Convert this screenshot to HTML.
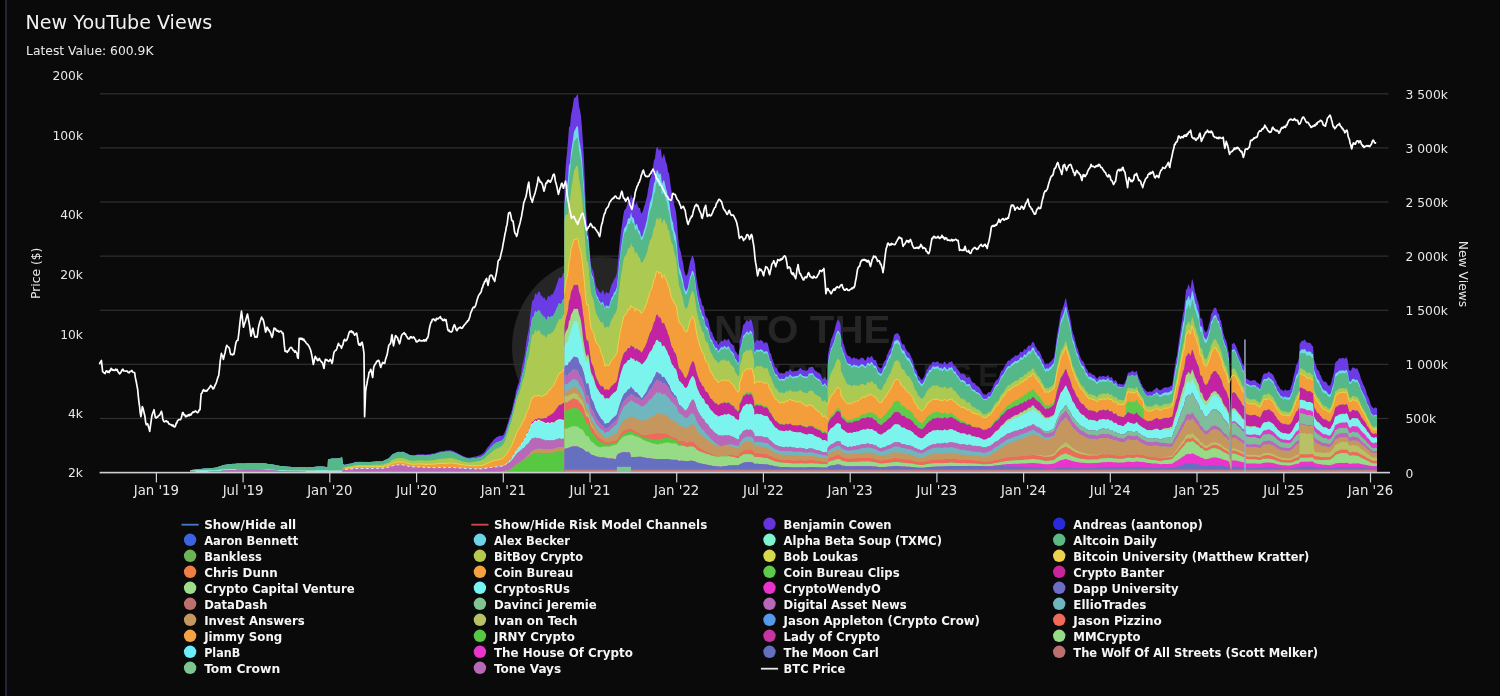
<!DOCTYPE html>
<html lang="en"><head><meta charset="utf-8"><title>New YouTube Views</title>
<style>html,body{margin:0;padding:0;background:#0a0a0a;overflow:hidden}body{width:1500px;height:696px}</style>
</head><body>
<svg width="1500" height="696" viewBox="0 0 1500 696" style="display:block;font-family:'DejaVu Sans','Liberation Sans',sans-serif">
<rect width="1500" height="696" fill="#0a0a0a"/>
<rect x="0" y="0" width="5" height="696" fill="#030303"/>
<rect x="5" y="0" width="2" height="696" fill="#25253a"/>
<text x="25.6" y="29.0" font-size="18.7" fill="#f2f2f2" textLength="186.6" lengthAdjust="spacingAndGlyphs">New YouTube Views</text>
<text x="26" y="55.2" font-size="13" fill="#ececec" textLength="127.5" lengthAdjust="spacingAndGlyphs">Latest Value: 600.9K</text>
<g id="wm" font-family="'Liberation Sans',sans-serif" font-weight="bold">
<circle cx="602" cy="347" r="90" fill="#252525"/>
<text y="342.5" font-size="38.4" fill="#252525"><tspan x="693">I</tspan><tspan x="714" textLength="176.5" lengthAdjust="spacingAndGlyphs">NTO THE</tspan></text>
<text x="704.5" y="385.8" font-size="31" fill="#1e1e1e" textLength="294.5" lengthAdjust="spacing">CRYPTOVERSE</text>
</g>
<rect x="100" y="93.20" width="1288.5" height="1.2" fill="#303030"/>
<rect x="100" y="147.31" width="1288.5" height="1.2" fill="#303030"/>
<rect x="100" y="201.42" width="1288.5" height="1.2" fill="#303030"/>
<rect x="100" y="255.53" width="1288.5" height="1.2" fill="#303030"/>
<rect x="100" y="309.64" width="1288.5" height="1.2" fill="#303030"/>
<rect x="100" y="363.75" width="1288.5" height="1.2" fill="#303030"/>
<rect x="100" y="417.86" width="1288.5" height="1.2" fill="#303030"/>
<text x="83" y="80.1" font-size="12.3" fill="#e8e8e8" text-anchor="end">200k</text>
<text x="83" y="139.9" font-size="12.3" fill="#e8e8e8" text-anchor="end">100k</text>
<text x="83" y="219.0" font-size="12.3" fill="#e8e8e8" text-anchor="end">40k</text>
<text x="83" y="278.8" font-size="12.3" fill="#e8e8e8" text-anchor="end">20k</text>
<text x="83" y="338.6" font-size="12.3" fill="#e8e8e8" text-anchor="end">10k</text>
<text x="83" y="417.6" font-size="12.3" fill="#e8e8e8" text-anchor="end">4k</text>
<text x="83" y="477.4" font-size="12.3" fill="#e8e8e8" text-anchor="end">2k</text>
<text transform="translate(39.8,273.3) rotate(-90)" font-size="12.3" fill="#e8e8e8" text-anchor="middle">Price ($)</text>
<text x="1405.5" y="98.7" font-size="12.3" fill="#e8e8e8">3 500k</text>
<text x="1405.5" y="152.8" font-size="12.3" fill="#e8e8e8">3 000k</text>
<text x="1405.5" y="206.9" font-size="12.3" fill="#e8e8e8">2 500k</text>
<text x="1405.5" y="261.0" font-size="12.3" fill="#e8e8e8">2 000k</text>
<text x="1405.5" y="315.1" font-size="12.3" fill="#e8e8e8">1 500k</text>
<text x="1405.5" y="369.2" font-size="12.3" fill="#e8e8e8">1 000k</text>
<text x="1405.5" y="423.4" font-size="12.3" fill="#e8e8e8">500k</text>
<text x="1405.5" y="477.5" font-size="12.3" fill="#e8e8e8">0</text>
<text transform="translate(1459,274) rotate(90)" font-size="12.3" fill="#e8e8e8" text-anchor="middle">New Views</text>
<g id="stack">
<path d="M190 472.3V471.5L191 470.0L192 469.9L193 469.8L194 469.7L195 469.6L196 469.4L197 469.3L198 469.2L199 469.1L200 469.0L201 468.9L202 468.8L203 468.7L204 468.6L205 468.6L206 468.5L207 468.4L208 468.3L209 468.2L210 468.1L211 468.0L212 467.9L213 467.9L214 467.8L215 467.7L216 467.6L217 467.3L218 467.0L219 466.6L220 466.3L221 466.0L222 465.6L223 465.3L224 465.0L225 464.8L226 464.7L227 464.5L228 464.3L229 464.2L230 464.0L231 464.0L232 463.9L233 463.8L234 463.9L235 463.8L236 463.7L237 463.6L238 463.6L239 463.6L240 463.5L241 463.6L242 463.5L243 463.4L244 463.5L245 463.4L246 463.5L247 463.3L248 463.2L249 463.2L250 463.2L251 463.2L252 463.2L253 463.1L254 463.1L255 463.1L256 463.0L257 462.9L258 463.0L259 463.0L260 463.1L261 463.1L262 463.1L263 463.2L264 463.3L265 463.5L266 463.6L267 463.7L268 463.9L269 463.9L270 464.1L271 464.3L272 464.4L273 464.6L274 464.8L275 465.0L276 465.2L277 465.4L278 465.6L279 465.8L280 466.0L281 466.1L282 466.2L283 466.2L284 466.3L285 466.4L286 466.5L287 466.6L288 466.7L289 466.7L290 466.8L291 466.9L292 467.0L293 467.0L294 467.1L295 467.1L296 467.1L297 467.1L298 467.1L299 467.2L300 467.2L301 467.2L302 467.2L303 467.3L304 467.3L305 467.3L306 467.3L307 467.4L308 467.4L309 467.3L310 467.2L311 467.1L312 467.1L313 467.0L314 466.9L315 466.8L316 466.7L317 466.6L318 466.6L319 466.5L320 466.4L321 466.5L322 466.6L323 466.6L324 466.7L325 466.8L326 466.9L327 467.0L327.6 467.0L328 459.1L329 459.0L330 459.0L331 458.7L332 458.4L333 458.5L334 458.5L335 458.6L336 458.5L337 458.4L338 458.3L339 458.0L340 458.1L341 457.7L342 456.7L343 463.4L344 464.5L345 464.4L346 464.3L347 464.2L348 463.9L349 463.6L350 463.4L351 463.3L352 463.0L353 462.8L354 462.4L355 462.1L356 461.8L357 461.8L358 461.9L359 461.7L360 461.6L361 461.7L362 461.7L363 461.7L364 461.7L365 461.9L366 461.8L367 461.8L368 461.9L369 461.9L370 461.8L371 461.7L372 461.6L373 461.4L374 461.5L375 461.4L376 461.3L377 461.2L378 461.4L379 461.4L380 461.3L381 461.3L382 461.2L383 461.0L384 460.4L385 459.9L386 459.5L387 459.0L388 458.5L389 458.0L390 456.9L391 455.7L392 454.7L393 453.8L394 453.5L395 453.2L396 452.4L397 452.0L398 451.8L399 451.6L400 451.8L401 451.9L402 451.6L403 451.5L404 451.8L405 452.5L406 453.1L407 453.3L408 453.8L409 454.5L410 454.7L411 454.9L412 455.3L413 455.3L414 455.1L415 455.1L416 455.1L417 454.5L418 454.3L419 454.5L420 454.3L421 454.5L422 454.3L423 454.3L424 454.6L425 454.7L426 454.6L427 454.5L428 454.3L429 454.2L430 454.1L431 454.1L432 453.6L433 453.6L434 453.5L435 453.3L436 452.7L437 452.5L438 452.0L439 451.7L440 451.4L441 451.2L442 451.3L443 451.0L444 450.9L445 450.8L446 450.2L447 450.4L448 450.4L449 450.2L450 450.2L451 450.4L452 450.5L453 450.9L454 451.2L455 451.9L456 452.2L457 452.7L458 453.4L459 453.7L460 454.4L461 455.0L462 455.6L463 456.0L464 456.5L465 456.8L466 457.2L467 457.5L468 457.7L469 457.8L470 457.6L471 457.4L472 457.1L473 456.9L474 456.7L475 456.4L476 456.4L477 456.2L478 455.7L479 455.4L480 455.3L481 454.8L482 454.0L483 453.5L484 452.7L485 451.4L486 449.8L487 448.2L488 446.8L489 445.9L490 444.4L491 442.9L492 442.0L493 440.5L494 439.2L495 438.8L496 437.4L497 437.0L498 436.8L499 436.0L500 435.6L501 436.0L502 435.7L503 435.3L504 433.9L505 431.6L506 429.0L507 425.3L508 422.8L509 419.0L510 415.6L511 413.2L512 409.7L513 404.9L514 400.6L515 397.2L516 391.3L517 387.9L518 384.6L519 382.2L520 377.9L521 373.7L522 367.1L523 362.8L524 358.6L525 352.7L526 344.5L527 337.4L528 332.9L529 327.2L530 317.3L531 309.8L532 301.7L533 300.3L534 299.2L535 294.0L536 293.2L537 295.4L538 291.8L539 291.8L540 292.1L541 296.3L542 294.9L543 298.4L544 296.9L545 298.5L546 300.7L547 299.3L548 295.5L549 296.3L550 297.0L551 294.6L552 294.7L553 294.0L554 291.4L555 289.4L556 286.4L557 283.2L558 280.7L559 277.0L560 278.3L561 277.7L562 277.1L563 273.3L564 273.0L564.4 272.3L564.5 186.5L565 176.5L566 162.3L567 152.7L568 141.0L569 127.0L570 126.4L571 115.6L572 110.5L573 104.7L574 97.8L575 97.9L576 96.7L577 94.8L578 94.4L579 106.2L580 110.1L581 116.6L582 128.0L583 143.6L584 160.4L585 186.2L586 209.2L587 223.8L588 229.4L589 241.0L590 254.5L591 265.1L592 268.9L593 270.3L594 274.4L595 281.3L596 285.9L597 288.3L598 289.0L599 291.7L600 292.1L601 293.7L602 291.0L603 290.1L604 292.4L605 294.9L606 291.4L607 292.7L608 293.0L609 293.4L610 289.8L611 286.2L612 283.4L613 282.4L614 278.8L615 278.5L616 275.7L617 272.5L618 261.0L619 249.7L620 240.5L621 231.5L622 224.7L623 217.3L624 211.6L625 209.3L626 208.5L627 205.2L628 200.5L629 200.3L630 200.2L631 193.9L632 198.2L633 198.1L634 199.1L635 205.7L636 203.2L637 202.6L638 206.2L639 207.9L640 207.9L641 213.2L642 212.8L643 210.8L644 206.8L645 204.5L646 200.0L647 196.7L648 189.9L649 184.8L650 179.2L651 176.9L652 173.5L653 166.5L654 160.0L655 158.4L656 149.7L657 146.7L658 147.7L659 151.1L660 148.5L661 149.9L662 159.1L663 155.9L664 153.8L665 157.7L666 162.2L667 164.6L668 172.1L669 173.1L670 180.5L671 188.5L672 193.4L673 195.4L674 204.1L675 207.5L676 211.9L677 222.4L678 236.0L679 246.0L680 249.2L681 253.0L682 258.2L683 262.3L684 269.4L685 273.7L686 276.0L687 274.8L688 272.2L689 266.8L690 261.7L691 259.3L692 255.9L693 256.0L694 259.2L695 264.6L696 274.4L697 281.5L698 287.3L699 291.7L700 297.7L701 298.9L702 304.9L703 305.5L704 307.5L705 314.6L706 317.0L707 317.8L708 319.6L709 324.3L710 328.5L711 331.7L712 331.7L713 336.0L714 337.3L715 340.2L716 341.1L717 340.9L718 345.0L719 343.3L720 342.8L721 341.1L722 340.6L723 341.7L724 339.2L725 339.1L726 340.6L727 340.6L728 338.7L729 339.5L730 341.4L731 343.4L732 344.1L733 345.2L734 345.8L735 350.7L736 351.8L737 353.3L738 355.8L739 353.3L739.4 352.8L739.6 340.3L740 340.5L741 336.6L742 332.1L743 325.7L744 324.1L745 323.3L746 321.0L747 319.7L748 321.2L749 321.6L750 318.7L751 320.3L752 320.6L753 326.7L754 331.8L754.1 331.3L754.3 343.1L755 342.8L756 340.4L757 339.9L758 340.2L759 340.9L760 340.2L761 339.7L762 341.1L763 341.2L764 343.7L765 342.3L766 342.7L767 342.3L768 344.5L769 348.9L770 353.0L771 353.4L772 358.0L773 360.8L774 363.8L775 367.0L776 368.0L777 368.2L778 371.3L779 372.2L780 373.5L781 372.9L782 372.9L783 373.4L784 373.4L785 373.0L786 370.9L787 371.1L788 372.1L789 370.2L790 369.1L791 370.3L792 371.5L793 371.5L794 371.6L795 370.8L796 371.1L797 370.7L798 370.4L799 369.3L800 367.9L801 368.3L802 369.6L803 370.2L804 370.1L805 370.7L806 370.7L807 370.8L808 369.7L809 366.8L810 367.7L811 366.8L812 366.8L813 366.8L814 369.1L815 370.4L816 371.1L817 371.8L818 372.7L819 372.5L820 373.6L821 374.9L822 378.2L823 379.2L824 377.7L825 376.8L826 378.9L827 380.1L827.6 382.2L827.8 357.9L828 354.8L829 349.4L830 344.4L831 339.5L832 337.7L833 334.8L834 332.2L835 328.1L836 324.2L837 321.1L838 319.9L839 320.8L840 323.0L840.7 325.8L840.9 334.9L841 337.0L842 338.5L843 343.1L844 344.9L845 348.7L846 352.0L847 354.6L848 356.0L849 356.3L850 356.2L851 358.1L852 359.1L853 357.8L854 357.3L855 358.0L856 358.9L857 358.1L858 359.7L859 359.6L860 359.0L861 357.4L862 358.1L863 357.8L864 359.0L865 360.4L866 360.3L867 357.3L868 356.6L869 357.4L870 358.0L871 356.0L872 356.2L873 358.0L874 359.9L875 360.0L876 360.2L877 363.5L878 366.3L879 367.2L880 368.1L881 368.5L882 367.6L883 364.3L884 361.9L885 360.6L886 359.3L887 354.8L888 353.6L889 350.2L890 349.1L891 347.1L892 342.2L893 340.2L894 335.4L895 333.8L896 334.1L897 332.8L898 333.4L899 334.9L900 336.2L901 341.4L902 343.4L903 345.0L904 343.8L905 347.1L906 349.6L907 351.1L908 352.2L909 352.4L910 354.1L911 356.9L912 358.5L913 360.9L914 365.3L915 368.8L916 369.4L917 371.7L918 376.0L919 376.3L920 377.8L921 379.4L922 380.1L923 378.6L924 377.3L925 374.7L926 372.4L927 368.9L928 369.0L929 365.7L930 365.4L931 365.0L932 362.7L933 361.5L934 361.9L935 362.7L936 361.7L937 362.1L938 361.1L939 363.2L940 364.0L941 362.6L942 364.4L943 363.9L944 362.1L945 361.5L946 363.5L947 364.2L948 364.1L949 361.5L950 362.6L951 361.8L952 361.0L953 363.7L954 365.8L955 365.1L956 366.7L957 369.3L958 369.4L959 371.1L960 372.6L961 374.4L962 373.6L963 373.4L964 374.5L965 374.4L966 377.0L967 377.8L968 377.5L969 376.9L970 377.5L971 380.0L972 381.8L973 382.5L974 383.2L975 383.1L976 385.5L977 385.6L978 386.3L979 387.2L980 388.4L981 390.1L982 392.1L983 393.5L984 394.7L985 394.2L986 394.7L987 394.2L988 392.2L989 392.2L990 392.2L991 391.0L992 388.4L993 387.0L994 384.1L995 382.2L996 380.3L997 380.0L998 379.1L999 377.3L1000 374.3L1001 371.3L1002 370.3L1003 369.7L1004 367.8L1005 365.6L1006 363.7L1007 362.2L1008 360.8L1009 360.2L1010 361.1L1011 358.5L1012 358.4L1013 357.4L1014 356.9L1015 355.2L1016 355.8L1017 355.5L1018 354.9L1019 354.7L1020 351.9L1021 351.6L1022 352.3L1023 351.8L1024 349.0L1025 349.2L1026 349.9L1027 347.5L1028 346.6L1029 344.7L1030 346.3L1031 345.1L1032 342.4L1033 342.1L1034 342.5L1035 346.1L1036 346.9L1037 348.8L1038 351.0L1039 350.5L1040 353.1L1041 354.7L1042 358.3L1043 359.0L1044 361.4L1045 364.1L1046 364.4L1047 362.7L1048 364.4L1049 363.1L1050 361.9L1051 361.5L1052 359.9L1053 358.8L1054 357.2L1055 351.0L1056 342.7L1057 335.0L1058 329.6L1059 324.0L1060 317.4L1061 312.1L1062 310.4L1063 307.3L1064 304.6L1065 299.9L1066 298.0L1067 303.9L1068 308.9L1069 312.5L1070 317.2L1071 322.5L1072 329.3L1073 333.7L1074 335.5L1075 339.9L1076 344.3L1077 347.7L1078 348.9L1079 353.6L1080 356.3L1081 358.7L1082 360.7L1083 361.3L1084 362.4L1085 365.8L1086 368.6L1087 369.0L1088 371.4L1089 373.4L1090 372.2L1091 373.6L1092 373.9L1093 375.1L1094 374.8L1095 375.9L1096 377.6L1097 378.7L1098 377.4L1099 376.5L1100 375.4L1101 377.1L1102 376.2L1103 376.1L1104 376.0L1105 376.8L1106 376.8L1107 376.0L1108 374.8L1109 377.1L1110 377.6L1111 377.2L1112 377.3L1113 379.8L1114 381.4L1115 380.2L1116 380.2L1117 382.1L1118 384.4L1119 383.4L1120 384.3L1121 383.9L1122 384.5L1123 384.6L1124 384.4L1125 381.4L1125.9 380.4L1126 380.2L1127 376.0L1128 372.7L1129 372.4L1130 372.5L1131 371.7L1132 370.8L1133 370.9L1134 372.1L1135 372.3L1136 371.2L1137 370.9L1138 376.0L1139 378.5L1140 380.1L1141 383.7L1142 384.4L1143 387.4L1143.6 388.1L1143.8 388.1L1144 388.2L1145 389.8L1146 390.8L1147 391.4L1148 392.3L1149 391.6L1150 391.6L1151 391.5L1152 392.0L1153 390.4L1154 389.5L1155 389.5L1156 387.8L1157 387.7L1158 388.8L1159 390.0L1160 389.9L1161 389.9L1162 389.4L1163 388.1L1164 388.0L1165 387.4L1166 386.9L1167 388.0L1168 387.0L1169 387.6L1170 386.3L1171 385.4L1172 385.8L1173 380.1L1174 371.7L1175 366.1L1176 359.1L1177 355.7L1178 347.9L1179 339.9L1180 334.1L1181 326.3L1182 320.7L1183 313.5L1184 310.3L1185 300.1L1186 289.3L1187 289.4L1188 285.6L1189 284.2L1190 289.3L1191 285.9L1192 278.7L1193 281.3L1194 286.2L1195 292.3L1196 294.3L1197 299.6L1198 301.9L1199 305.8L1200 316.2L1201 319.0L1202 318.0L1203 324.8L1204 329.5L1205 331.3L1206 332.5L1207 330.7L1208 328.2L1209 323.7L1210 321.2L1211 314.1L1212 313.0L1213 310.3L1214 307.9L1215 308.0L1216 307.6L1217 311.2L1218 313.7L1219 313.8L1220 319.4L1221 320.4L1222 325.4L1223 332.3L1224 334.9L1225 338.9L1226 340.0L1227 344.1L1228 349.8L1229 353.8L1230 391.6L1231 450.6L1231.3 468.0L1231.7 468.0L1231.8 342.8L1232 343.9L1233 343.7L1234 342.4L1235 344.3L1236 346.0L1237 348.6L1238 351.5L1239 354.0L1240 356.6L1241 358.5L1242 362.6L1243 365.2L1244 365.2L1245 368.1L1245.6 369.1L1245.8 376.4L1246 377.9L1247 379.3L1248 379.2L1249 380.3L1250 380.5L1251 380.9L1252 380.4L1253 380.1L1254 380.6L1255 379.9L1256 381.0L1257 382.9L1258 382.2L1259 384.2L1260 384.6L1261 382.2L1262 378.2L1263 375.0L1264 373.6L1265 373.4L1266 373.2L1267 373.6L1268 371.8L1269 371.5L1270 372.8L1271 372.9L1272 374.1L1273 374.7L1274 376.4L1275 379.6L1276 380.4L1277 384.0L1278 385.3L1279 386.5L1280 388.3L1281 390.0L1282 389.2L1283 391.1L1284 390.9L1285 389.2L1286 390.3L1287 390.7L1288 390.1L1289 390.3L1290 389.8L1291 386.2L1292 384.1L1293 379.4L1294 374.5L1295 371.2L1296 365.6L1297 364.1L1298 362.1L1299 357.0L1299.5 351.4L1299.6 343.3L1300 343.8L1301 341.7L1302 340.8L1303 340.8L1304 340.5L1305 339.2L1306 341.7L1307 342.8L1308 342.6L1309 342.8L1310 342.9L1311 343.7L1312 345.9L1313 345.9L1314 359.4L1315 362.4L1316 365.4L1317 369.0L1318 370.3L1319 371.1L1320 374.8L1321 375.8L1322 379.0L1323 380.5L1324 381.7L1325 381.8L1326 382.0L1327 383.3L1328 385.5L1329 385.6L1330 385.8L1331 383.5L1332 378.9L1333 376.0L1334 371.6L1335 363.8L1336 361.2L1337 361.4L1338 359.8L1339 358.8L1340 358.0L1341 358.8L1342 358.0L1343 357.8L1344 358.4L1345 358.7L1346 357.2L1347 358.1L1348 362.2L1349 369.7L1350 370.8L1351 370.7L1352 367.7L1353 367.6L1354 367.8L1355 368.5L1356 369.1L1357 368.0L1358 370.0L1359 372.4L1360 374.9L1361 379.2L1362 381.1L1363 383.9L1364 385.7L1365 388.0L1366 390.5L1367 394.9L1368 396.6L1369 399.0L1370 402.0L1371 405.5L1372 406.8L1373 407.9L1374 408.6L1375 407.6L1376 407.6L1377 408.3V472.3Z" fill="#6b3ce6"/>
<path d="M190 472.3V471.5L191 470.0L192 469.9L193 469.8L194 469.7L195 469.6L196 469.4L197 469.3L198 469.2L199 469.1L200 469.0L201 468.9L202 468.8L203 468.7L204 468.6L205 468.6L206 468.5L207 468.4L208 468.3L209 468.2L210 468.1L211 468.0L212 467.9L213 467.9L214 467.8L215 467.7L216 467.6L217 467.3L218 467.0L219 466.6L220 466.3L221 466.0L222 465.6L223 465.3L224 465.0L225 464.8L226 464.7L227 464.5L228 464.3L229 464.2L230 464.0L231 464.0L232 463.9L233 463.8L234 463.9L235 463.8L236 463.7L237 463.6L238 463.6L239 463.6L240 463.5L241 463.6L242 463.5L243 463.4L244 463.5L245 463.4L246 463.5L247 463.3L248 463.2L249 463.2L250 463.2L251 463.2L252 463.2L253 463.1L254 463.1L255 463.1L256 463.0L257 462.9L258 463.0L259 463.0L260 463.1L261 463.1L262 463.1L263 463.2L264 463.3L265 463.5L266 463.6L267 463.7L268 463.9L269 463.9L270 464.1L271 464.3L272 464.4L273 464.6L274 464.8L275 465.0L276 465.2L277 465.4L278 465.6L279 465.8L280 466.0L281 466.1L282 466.2L283 466.2L284 466.3L285 466.4L286 466.5L287 466.6L288 466.7L289 466.7L290 466.8L291 466.9L292 467.0L293 467.0L294 467.1L295 467.1L296 467.1L297 467.1L298 467.1L299 467.2L300 467.2L301 467.2L302 467.2L303 467.3L304 467.3L305 467.3L306 467.3L307 467.4L308 467.4L309 467.3L310 467.2L311 467.1L312 467.1L313 467.0L314 466.9L315 466.8L316 466.7L317 466.6L318 466.6L319 466.5L320 466.4L321 466.5L322 466.6L323 466.6L324 466.7L325 466.8L326 466.9L327 467.0L327.6 467.0L328 459.1L329 459.0L330 459.0L331 458.7L332 458.4L333 458.5L334 458.5L335 458.6L336 458.5L337 458.4L338 458.3L339 458.0L340 458.1L341 457.7L342 456.7L343 463.8L344 464.9L345 464.8L346 464.7L347 464.5L348 464.3L349 464.0L350 463.8L351 463.7L352 463.4L353 463.2L354 462.8L355 462.6L356 462.2L357 462.2L358 462.3L359 462.1L360 462.0L361 462.0L362 462.1L363 462.0L364 462.1L365 462.2L366 462.2L367 462.1L368 462.2L369 462.2L370 462.1L371 462.0L372 461.9L373 461.7L374 461.8L375 461.7L376 461.6L377 461.5L378 461.6L379 461.6L380 461.6L381 461.5L382 461.4L383 461.2L384 460.6L385 460.1L386 459.8L387 459.3L388 458.7L389 458.3L390 457.2L391 456.0L392 455.0L393 454.1L394 453.8L395 453.5L396 452.7L397 452.4L398 452.1L399 451.9L400 452.1L401 452.2L402 451.9L403 451.9L404 452.2L405 452.9L406 453.5L407 453.7L408 454.2L409 455.0L410 455.2L411 455.4L412 455.8L413 455.8L414 455.7L415 455.7L416 455.7L417 455.1L418 455.0L419 455.1L420 455.0L421 455.1L422 455.0L423 455.0L424 455.3L425 455.4L426 455.4L427 455.3L428 455.1L429 455.1L430 454.9L431 455.0L432 454.5L433 454.6L434 454.5L435 454.3L436 453.8L437 453.6L438 453.1L439 452.9L440 452.6L441 452.4L442 452.5L443 452.3L444 452.2L445 452.2L446 451.6L447 451.8L448 451.8L449 451.6L450 451.6L451 451.8L452 451.9L453 452.2L454 452.5L455 453.2L456 453.5L457 454.0L458 454.6L459 454.9L460 455.5L461 456.1L462 456.6L463 457.1L464 457.5L465 457.8L466 458.1L467 458.4L468 458.6L469 458.8L470 458.7L471 458.7L472 458.4L473 458.3L474 458.2L475 458.0L476 458.1L477 457.9L478 457.6L479 457.4L480 457.4L481 456.9L482 456.3L483 455.8L484 455.2L485 454.1L486 452.8L487 451.5L488 450.3L489 449.6L490 448.3L491 447.1L492 446.4L493 445.1L494 444.0L495 443.8L496 442.6L497 442.4L498 442.2L499 441.5L500 440.9L501 440.9L502 440.3L503 439.6L504 438.1L505 435.8L506 433.2L507 429.5L508 426.9L509 423.2L510 419.8L511 417.5L512 414.2L513 409.7L514 405.6L515 402.5L516 396.9L517 393.7L518 390.6L519 388.4L520 384.7L521 381.0L522 375.3L523 371.6L524 368.0L525 362.8L526 355.6L527 349.4L528 345.5L529 340.6L530 331.7L531 325.2L532 318.1L533 317.1L534 316.3L535 311.7L536 311.3L537 313.4L538 310.3L539 310.5L540 311.0L541 315.0L542 313.9L543 317.3L544 316.3L545 318.0L546 320.3L547 319.2L548 316.1L549 317.1L550 318.0L551 316.2L552 316.5L553 316.2L554 314.2L555 312.6L556 310.3L557 307.8L558 305.9L559 302.9L560 304.3L561 303.7L562 302.9L563 299.3L564 298.7L564.4 298.0L564.5 204.2L565 197.4L566 189.3L567 185.4L568 179.5L569 165.4L570 163.2L571 152.0L572 145.8L573 139.1L574 131.4L575 130.0L576 127.4L577 126.1L578 127.1L579 139.2L580 144.1L581 149.9L582 159.4L583 172.6L584 185.9L585 206.5L586 224.5L587 234.9L588 236.3L589 247.1L590 260.6L591 271.2L592 275.4L593 277.1L594 281.5L595 288.5L596 293.4L597 296.2L598 297.3L599 300.4L600 301.4L601 303.8L602 302.1L603 302.0L604 305.0L605 308.2L606 304.9L607 306.0L608 306.2L609 306.5L610 303.0L611 299.6L612 296.9L613 295.9L614 292.5L615 292.1L616 289.5L617 286.4L618 275.6L619 265.1L620 256.4L621 247.9L622 241.6L623 234.5L624 229.1L625 226.9L626 226.2L627 223.0L628 218.5L629 218.2L630 218.1L631 212.1L632 216.9L633 217.4L634 219.1L635 225.8L636 224.2L637 224.3L638 228.3L639 230.6L640 231.3L641 236.8L642 236.6L643 234.3L644 230.3L645 227.7L646 223.2L647 219.7L648 213.1L649 208.0L650 202.5L651 200.0L652 196.5L653 189.6L654 183.2L655 181.3L656 172.9L657 169.7L658 171.2L659 174.8L660 172.9L661 174.7L662 183.8L663 181.3L664 180.0L665 184.1L666 188.8L667 191.5L668 198.9L669 200.4L670 207.7L671 215.6L672 220.5L673 222.4L674 229.9L675 232.7L676 236.4L677 245.5L678 257.6L679 266.3L680 269.0L681 272.1L682 276.5L683 279.9L684 285.9L685 289.6L686 291.4L687 289.9L688 287.3L689 282.1L690 277.0L691 274.5L692 271.0L693 270.9L694 273.7L695 278.7L696 287.7L697 294.2L698 299.6L699 303.6L700 309.1L701 310.1L702 315.6L703 316.1L704 317.8L705 324.3L706 326.5L707 327.2L708 328.7L709 333.0L710 336.9L711 339.8L712 339.7L713 343.6L714 344.7L715 347.3L716 348.1L717 347.7L718 351.4L719 349.7L720 349.1L721 347.3L722 346.8L723 348.1L724 345.9L725 346.0L726 347.6L727 347.7L728 346.1L729 347.0L730 348.9L731 351.0L732 351.8L733 353.0L734 353.7L735 358.4L736 359.6L737 361.2L738 363.6L739 361.4L739.4 361.0L739.6 349.4L740 349.6L741 346.2L742 342.1L743 336.3L744 335.0L745 334.3L746 332.4L747 331.3L748 332.6L749 332.9L750 330.2L751 331.6L752 331.9L753 337.5L754 342.1L754.1 341.6L754.3 352.5L755 352.2L756 349.9L757 349.4L758 349.7L759 350.3L760 349.5L761 349.0L762 350.2L763 350.3L764 352.5L765 351.2L766 351.5L767 351.0L768 353.0L769 357.0L770 360.9L771 361.2L772 365.4L773 367.9L774 370.7L775 373.6L776 374.5L777 374.6L778 377.4L779 378.2L780 379.4L781 378.8L782 378.7L783 379.1L784 379.0L785 378.6L786 376.5L787 376.7L788 377.5L789 375.7L790 374.5L791 375.6L792 376.7L793 376.6L794 376.7L795 376.0L796 376.3L797 376.1L798 375.8L799 374.8L800 373.6L801 374.0L802 375.3L803 375.9L804 375.9L805 376.5L806 376.5L807 376.7L808 375.7L809 373.0L810 374.0L811 373.1L812 373.2L813 373.2L814 375.5L815 376.7L816 377.4L817 378.1L818 379.0L819 378.9L820 379.9L821 381.2L822 384.3L823 385.3L824 383.9L825 383.1L826 385.1L827 386.3L827.6 388.2L827.8 365.5L828 362.6L829 357.7L830 353.0L831 348.6L832 346.9L833 344.3L834 341.9L835 338.1L836 334.6L837 331.7L838 330.6L839 331.5L840 333.4L840.7 336.0L840.9 344.4L841 346.4L842 347.7L843 352.0L844 353.6L845 357.0L846 360.0L847 362.4L848 363.7L849 363.9L850 363.6L851 365.4L852 366.2L853 365.0L854 364.4L855 365.0L856 365.8L857 364.9L858 366.4L859 366.2L860 365.5L861 364.0L862 364.5L863 364.2L864 365.2L865 366.4L866 366.3L867 363.4L868 362.7L869 363.4L870 364.0L871 362.1L872 362.2L873 363.9L874 365.8L875 365.8L876 366.0L877 369.1L878 371.8L879 372.5L880 373.4L881 373.7L882 372.9L883 369.8L884 367.4L885 366.2L886 365.0L887 360.7L888 359.5L889 356.2L890 355.2L891 353.3L892 348.6L893 346.7L894 342.1L895 340.6L896 340.8L897 339.6L898 340.2L899 341.6L900 342.8L901 347.7L902 349.6L903 351.1L904 349.9L905 353.0L906 355.4L907 356.9L908 357.9L909 358.0L910 359.6L911 362.2L912 363.7L913 366.0L914 370.2L915 373.6L916 374.1L917 376.3L918 380.4L919 380.6L920 382.0L921 383.5L922 384.2L923 382.8L924 381.5L925 379.0L926 376.7L927 373.4L928 373.5L929 370.3L930 370.0L931 369.6L932 367.4L933 366.2L934 366.5L935 367.3L936 366.3L937 366.7L938 365.7L939 367.7L940 368.5L941 367.3L942 369.1L943 368.7L944 367.1L945 366.7L946 368.6L947 369.4L948 369.4L949 367.1L950 368.2L951 367.6L952 366.9L953 369.6L954 371.7L955 371.1L956 372.7L957 375.3L958 375.5L959 377.2L960 378.7L961 380.5L962 379.9L963 379.8L964 381.0L965 381.0L966 383.6L967 384.4L968 384.3L969 383.9L970 384.5L971 386.9L972 388.7L973 389.5L974 390.1L975 389.8L976 391.9L977 391.9L978 392.4L979 393.0L980 394.0L981 395.4L982 397.1L983 398.4L984 399.3L985 398.7L986 399.1L987 398.7L988 396.7L989 396.6L990 396.7L991 395.5L992 392.9L993 391.6L994 388.8L995 387.0L996 385.1L997 384.8L998 384.0L999 382.2L1000 379.3L1001 376.5L1002 375.5L1003 374.8L1004 373.1L1005 370.9L1006 369.0L1007 367.6L1008 366.2L1009 365.7L1010 366.4L1011 363.9L1012 363.8L1013 362.8L1014 362.3L1015 360.7L1016 361.2L1017 360.9L1018 360.3L1019 360.0L1020 357.4L1021 357.0L1022 357.7L1023 357.2L1024 354.5L1025 354.6L1026 355.3L1027 353.0L1028 352.1L1029 350.2L1030 351.8L1031 350.6L1032 348.0L1033 347.6L1034 348.0L1035 351.5L1036 352.3L1037 354.2L1038 356.3L1039 355.9L1040 358.4L1041 359.9L1042 363.4L1043 364.1L1044 366.4L1045 369.0L1046 369.3L1047 367.7L1048 369.3L1049 368.1L1050 367.0L1051 366.6L1052 365.0L1053 364.0L1054 362.5L1055 356.6L1056 348.8L1057 341.4L1058 336.3L1059 330.9L1060 324.7L1061 319.7L1062 318.1L1063 315.1L1064 312.6L1065 308.2L1066 306.3L1067 311.9L1068 316.6L1069 320.1L1070 324.5L1071 329.5L1072 335.9L1073 340.1L1074 341.8L1075 345.9L1076 350.1L1077 353.3L1078 354.4L1079 358.9L1080 361.4L1081 363.7L1082 365.6L1083 366.1L1084 367.1L1085 370.3L1086 373.0L1087 373.3L1088 375.6L1089 377.5L1090 376.2L1091 377.6L1092 377.8L1093 379.0L1094 378.5L1095 379.6L1096 381.2L1097 382.2L1098 380.9L1099 379.9L1100 378.9L1101 380.4L1102 379.5L1103 379.4L1104 379.3L1105 380.0L1106 380.0L1107 379.3L1108 378.0L1109 380.3L1110 380.8L1111 380.4L1112 380.4L1113 382.9L1114 384.4L1115 383.3L1116 383.2L1117 385.1L1118 387.3L1119 386.3L1120 387.2L1121 386.8L1122 387.3L1123 387.4L1124 387.3L1125 384.4L1125.9 383.4L1126 382.7L1127 378.8L1128 375.8L1129 375.7L1130 376.0L1131 375.4L1132 374.8L1133 374.9L1134 376.0L1135 376.2L1136 375.1L1137 374.7L1138 379.6L1139 381.9L1140 383.4L1141 386.8L1142 387.4L1143 390.3L1143.6 390.9L1143.8 391.8L1144 391.9L1145 393.6L1146 394.6L1147 395.2L1148 396.2L1149 395.6L1150 395.6L1151 395.5L1152 396.2L1153 394.6L1154 393.9L1155 394.0L1156 392.4L1157 392.4L1158 393.5L1159 394.7L1160 394.7L1161 394.7L1162 394.3L1163 393.0L1164 392.9L1165 392.4L1166 392.0L1167 392.9L1168 392.0L1169 392.6L1170 391.4L1171 390.6L1172 390.9L1173 385.6L1174 377.7L1175 372.4L1176 365.9L1177 362.7L1178 355.3L1179 347.9L1180 342.4L1181 335.1L1182 329.8L1183 323.0L1184 320.1L1185 310.4L1186 300.3L1187 300.5L1188 296.9L1189 295.6L1190 300.4L1191 297.1L1192 290.2L1193 292.6L1194 297.1L1195 302.7L1196 304.4L1197 309.4L1198 311.5L1199 315.1L1200 324.8L1201 327.3L1202 326.3L1203 332.6L1204 337.0L1205 338.6L1206 339.7L1207 337.9L1208 335.4L1209 331.0L1210 328.6L1211 321.7L1212 320.6L1213 317.8L1214 315.4L1215 315.4L1216 315.1L1217 318.5L1218 320.9L1219 321.1L1220 326.5L1221 327.5L1222 332.2L1223 338.9L1224 341.3L1225 345.1L1226 346.3L1227 350.2L1228 355.6L1229 359.4L1230 395.5L1231 451.6L1231.3 468.2L1231.7 468.2L1231.8 349.1L1232 350.1L1233 349.9L1234 348.7L1235 350.5L1236 352.2L1237 354.7L1238 357.5L1239 359.9L1240 362.4L1241 364.2L1242 368.1L1243 370.6L1244 370.7L1245 373.4L1245.6 374.4L1245.8 381.4L1246 382.7L1247 384.1L1248 384.0L1249 385.1L1250 385.3L1251 385.7L1252 385.3L1253 385.0L1254 385.5L1255 384.9L1256 385.9L1257 387.8L1258 387.2L1259 389.1L1260 389.4L1261 387.2L1262 383.5L1263 380.4L1264 379.2L1265 379.0L1266 378.9L1267 379.3L1268 377.6L1269 377.5L1270 378.9L1271 379.1L1272 380.4L1273 381.1L1274 382.9L1275 386.0L1276 386.9L1277 390.3L1278 391.7L1279 392.9L1280 394.7L1281 396.4L1282 395.8L1283 397.6L1284 397.5L1285 396.0L1286 397.2L1287 397.6L1288 397.2L1289 397.5L1290 397.1L1291 393.9L1292 392.2L1293 388.0L1294 383.7L1295 380.8L1296 375.9L1297 374.6L1298 372.9L1299 368.4L1299.5 363.5L1299.6 350.8L1300 351.4L1301 349.7L1302 349.2L1303 349.6L1304 349.6L1305 348.7L1306 350.9L1307 351.8L1308 351.5L1309 351.6L1310 351.6L1311 352.2L1312 354.1L1313 354.0L1314 369.2L1315 372.4L1316 375.2L1317 378.5L1318 379.8L1319 380.6L1320 384.0L1321 384.9L1322 387.9L1323 389.3L1324 390.4L1325 390.6L1326 390.9L1327 392.1L1328 394.1L1329 394.2L1330 394.5L1331 392.5L1332 388.4L1333 385.8L1334 382.0L1335 375.0L1336 372.8L1337 373.0L1338 371.7L1339 370.9L1340 370.2L1341 370.9L1342 370.3L1343 370.2L1344 370.7L1345 371.0L1346 369.6L1347 370.4L1348 374.1L1349 380.8L1350 381.8L1351 381.7L1352 379.0L1353 378.9L1354 379.1L1355 379.8L1356 380.3L1357 379.3L1358 381.1L1359 383.3L1360 385.5L1361 389.4L1362 391.1L1363 393.6L1364 395.1L1365 397.2L1366 399.5L1367 403.4L1368 404.9L1369 407.0L1370 409.7L1371 412.9L1372 414.1L1373 415.0L1374 415.7L1375 414.8L1376 414.7L1377 415.4V472.3Z" fill="#6fd8ea"/>
<path d="M190 472.3V471.5L191 470.0L192 469.9L193 469.8L194 469.7L195 469.6L196 469.4L197 469.3L198 469.2L199 469.1L200 469.0L201 468.9L202 468.8L203 468.7L204 468.6L205 468.6L206 468.5L207 468.4L208 468.3L209 468.2L210 468.1L211 468.0L212 467.9L213 467.9L214 467.8L215 467.7L216 467.6L217 467.3L218 467.0L219 466.6L220 466.3L221 466.0L222 465.6L223 465.3L224 465.0L225 464.8L226 464.7L227 464.5L228 464.3L229 464.2L230 464.0L231 464.0L232 463.9L233 463.8L234 463.9L235 463.8L236 463.7L237 463.6L238 463.6L239 463.6L240 463.5L241 463.6L242 463.5L243 463.4L244 463.5L245 463.4L246 463.5L247 463.3L248 463.2L249 463.2L250 463.2L251 463.2L252 463.2L253 463.1L254 463.1L255 463.1L256 463.0L257 462.9L258 463.0L259 463.0L260 463.1L261 463.1L262 463.1L263 463.2L264 463.3L265 463.5L266 463.6L267 463.7L268 463.9L269 463.9L270 464.1L271 464.3L272 464.4L273 464.6L274 464.8L275 465.0L276 465.2L277 465.4L278 465.6L279 465.8L280 466.0L281 466.1L282 466.2L283 466.2L284 466.3L285 466.4L286 466.5L287 466.6L288 466.7L289 466.7L290 466.8L291 466.9L292 467.0L293 467.0L294 467.1L295 467.1L296 467.1L297 467.1L298 467.1L299 467.2L300 467.2L301 467.2L302 467.2L303 467.3L304 467.3L305 467.3L306 467.3L307 467.4L308 467.4L309 467.3L310 467.2L311 467.1L312 467.1L313 467.0L314 466.9L315 466.8L316 466.7L317 466.6L318 466.6L319 466.5L320 466.4L321 466.5L322 466.6L323 466.6L324 466.7L325 466.8L326 466.9L327 467.0L327.6 467.0L328 459.1L329 459.0L330 459.0L331 458.7L332 458.4L333 458.5L334 458.5L335 458.6L336 458.5L337 458.4L338 458.3L339 458.0L340 458.1L341 457.7L342 456.7L343 463.8L344 464.9L345 464.8L346 464.7L347 464.5L348 464.3L349 464.0L350 463.8L351 463.7L352 463.4L353 463.2L354 462.8L355 462.6L356 462.2L357 462.2L358 462.3L359 462.1L360 462.0L361 462.0L362 462.1L363 462.0L364 462.1L365 462.2L366 462.2L367 462.1L368 462.2L369 462.2L370 462.1L371 462.0L372 461.9L373 461.7L374 461.8L375 461.7L376 461.6L377 461.5L378 461.6L379 461.6L380 461.6L381 461.5L382 461.4L383 461.2L384 460.6L385 460.1L386 459.8L387 459.3L388 458.7L389 458.3L390 457.2L391 456.0L392 455.0L393 454.1L394 453.8L395 453.5L396 452.7L397 452.4L398 452.1L399 451.9L400 452.1L401 452.2L402 451.9L403 451.9L404 452.2L405 452.9L406 453.5L407 453.7L408 454.2L409 455.0L410 455.2L411 455.4L412 455.8L413 455.8L414 455.7L415 455.7L416 455.7L417 455.1L418 455.0L419 455.1L420 455.0L421 455.1L422 455.0L423 455.0L424 455.3L425 455.4L426 455.4L427 455.3L428 455.1L429 455.1L430 454.9L431 455.0L432 454.5L433 454.6L434 454.5L435 454.3L436 453.8L437 453.6L438 453.1L439 452.9L440 452.6L441 452.4L442 452.5L443 452.3L444 452.2L445 452.2L446 451.6L447 451.8L448 451.8L449 451.6L450 451.6L451 451.8L452 451.9L453 452.2L454 452.5L455 453.2L456 453.5L457 454.0L458 454.6L459 454.9L460 455.5L461 456.1L462 456.6L463 457.1L464 457.5L465 457.8L466 458.1L467 458.4L468 458.6L469 458.8L470 458.7L471 458.7L472 458.4L473 458.3L474 458.2L475 458.0L476 458.1L477 457.9L478 457.6L479 457.4L480 457.4L481 456.9L482 456.3L483 455.8L484 455.2L485 454.1L486 452.8L487 451.5L488 450.3L489 449.6L490 448.3L491 447.1L492 446.4L493 445.1L494 444.0L495 443.8L496 442.6L497 442.4L498 442.2L499 441.5L500 440.9L501 440.9L502 440.3L503 439.6L504 438.1L505 435.8L506 433.2L507 429.5L508 426.9L509 423.2L510 419.8L511 417.5L512 414.2L513 409.7L514 405.6L515 402.5L516 396.9L517 393.7L518 390.6L519 388.4L520 384.7L521 381.0L522 375.3L523 371.6L524 368.0L525 362.8L526 355.6L527 349.4L528 345.5L529 340.6L530 331.7L531 325.2L532 318.1L533 317.1L534 316.3L535 311.7L536 311.3L537 313.4L538 310.3L539 310.5L540 311.0L541 315.0L542 313.9L543 317.3L544 316.3L545 318.0L546 320.3L547 319.2L548 316.1L549 317.1L550 318.0L551 316.2L552 316.5L553 316.2L554 314.2L555 312.6L556 310.3L557 307.8L558 305.9L559 302.9L560 304.3L561 303.7L562 302.9L563 299.3L564 298.7L564.4 298.0L564.5 209.2L565 203.7L566 198.2L567 196.7L568 193.4L569 177.0L570 172.0L571 159.0L572 153.7L573 147.9L574 141.1L575 140.4L576 138.7L577 137.7L578 138.7L579 150.4L580 155.2L581 160.7L582 169.5L583 182.0L584 194.2L585 213.3L586 230.0L587 239.2L588 239.5L589 249.9L590 263.2L591 273.6L592 277.6L593 279.3L594 283.5L595 290.4L596 295.2L597 297.9L598 298.9L599 301.9L600 302.9L601 305.3L602 303.6L603 303.5L604 306.5L605 309.7L606 306.5L607 307.8L608 308.1L609 308.5L610 305.2L611 301.9L612 299.4L613 298.5L614 295.3L615 295.0L616 292.5L617 289.6L618 279.1L619 268.8L620 260.4L621 252.2L622 246.1L623 239.3L624 234.1L625 232.1L626 231.4L627 228.4L628 224.1L629 224.0L630 224.0L631 218.2L632 222.6L633 222.9L634 224.3L635 230.7L636 228.9L637 228.7L638 232.4L639 234.4L640 234.9L641 240.1L642 240.0L643 238.2L644 234.7L645 232.7L646 228.8L647 225.9L648 219.9L649 215.4L650 210.4L651 208.5L652 205.5L653 199.3L654 193.6L655 192.2L656 184.5L657 181.9L658 183.2L659 186.7L660 184.9L661 186.6L662 195.2L663 192.9L664 191.6L665 195.4L666 200.0L667 202.6L668 209.6L669 211.1L670 218.0L671 225.6L672 230.3L673 231.9L674 238.9L675 241.3L676 244.6L677 253.2L678 264.5L679 272.7L680 275.0L681 277.7L682 281.7L683 284.7L684 290.3L685 293.5L686 295.1L687 293.6L688 290.8L689 285.5L690 280.4L691 277.7L692 274.2L693 273.9L694 276.7L695 281.6L696 290.5L697 296.9L698 302.2L699 306.1L700 311.6L701 312.6L702 318.0L703 318.5L704 320.2L705 326.6L706 328.8L707 329.4L708 330.9L709 335.2L710 339.0L711 341.9L712 341.8L713 345.6L714 346.8L715 349.3L716 350.0L717 349.7L718 353.4L719 351.7L720 351.1L721 349.4L722 348.8L723 350.1L724 347.9L725 348.0L726 349.5L727 349.7L728 348.1L729 349.0L730 350.8L731 352.8L732 353.6L733 354.8L734 355.5L735 360.1L736 361.3L737 362.8L738 365.2L739 363.1L739.4 362.6L739.6 351.2L740 351.4L741 348.0L742 344.0L743 338.3L744 337.0L745 336.3L746 334.4L747 333.3L748 334.6L749 334.9L750 332.3L751 333.6L752 333.9L753 339.4L754 344.0L754.1 343.5L754.3 354.3L755 354.0L756 351.7L757 351.2L758 351.5L759 352.1L760 351.3L761 350.9L762 352.1L763 352.2L764 354.3L765 353.1L766 353.4L767 352.9L768 354.9L769 358.8L770 362.6L771 362.9L772 367.1L773 369.6L774 372.3L775 375.2L776 376.1L777 376.2L778 379.0L779 379.8L780 380.9L781 380.3L782 380.2L783 380.7L784 380.6L785 380.2L786 378.2L787 378.3L788 379.2L789 377.4L790 376.3L791 377.3L792 378.4L793 378.3L794 378.4L795 377.7L796 378.1L797 377.8L798 377.5L799 376.6L800 375.3L801 375.7L802 377.0L803 377.6L804 377.5L805 378.1L806 378.2L807 378.3L808 377.3L809 374.6L810 375.6L811 374.7L812 374.8L813 374.8L814 377.0L815 378.2L816 378.9L817 379.6L818 380.5L819 380.3L820 381.3L821 382.6L822 385.7L823 386.6L824 385.2L825 384.4L826 386.4L827 387.5L827.6 389.5L827.8 367.1L828 364.3L829 359.4L830 354.8L831 350.4L832 348.7L833 346.1L834 343.8L835 340.0L836 336.5L837 333.7L838 332.6L839 333.5L840 335.4L840.7 338.0L840.9 346.3L841 348.2L842 349.5L843 353.7L844 355.4L845 358.7L846 361.7L847 364.1L848 365.3L849 365.5L850 365.3L851 367.1L852 367.9L853 366.7L854 366.2L855 366.8L856 367.6L857 366.7L858 368.2L859 368.0L860 367.3L861 365.9L862 366.3L863 366.1L864 367.1L865 368.3L866 368.2L867 365.5L868 364.8L869 365.5L870 366.1L871 364.3L872 364.4L873 366.1L874 368.0L875 368.1L876 368.2L877 371.3L878 373.9L879 374.7L880 375.6L881 375.9L882 375.1L883 372.1L884 369.9L885 368.7L886 367.5L887 363.3L888 362.2L889 359.0L890 358.0L891 356.2L892 351.7L893 349.8L894 345.4L895 343.9L896 344.2L897 343.1L898 343.6L899 344.9L900 346.1L901 350.9L902 352.7L903 354.1L904 353.0L905 356.0L906 358.4L907 359.7L908 360.7L909 360.9L910 362.4L911 365.0L912 366.4L913 368.6L914 372.7L915 376.0L916 376.4L917 378.6L918 382.6L919 382.8L920 384.2L921 385.6L922 386.3L923 384.9L924 383.6L925 381.2L926 378.9L927 375.7L928 375.7L929 372.6L930 372.3L931 371.9L932 369.7L933 368.5L934 368.9L935 369.6L936 368.6L937 369.0L938 368.0L939 369.9L940 370.7L941 369.6L942 371.3L943 371.0L944 369.3L945 368.9L946 370.9L947 371.6L948 371.6L949 369.3L950 370.4L951 369.8L952 369.1L953 371.8L954 373.8L955 373.3L956 374.8L957 377.3L958 377.6L959 379.2L960 380.7L961 382.5L962 381.9L963 381.8L964 382.9L965 382.9L966 385.5L967 386.3L968 386.1L969 385.7L970 386.4L971 388.7L972 390.5L973 391.2L974 391.8L975 391.5L976 393.5L977 393.4L978 393.8L979 394.4L980 395.3L981 396.6L982 398.3L983 399.4L984 400.3L985 399.7L986 400.1L987 399.7L988 397.8L989 397.7L990 397.8L991 396.6L992 394.1L993 392.8L994 390.1L995 388.4L996 386.5L997 386.3L998 385.4L999 383.7L1000 380.9L1001 378.1L1002 377.2L1003 376.5L1004 374.8L1005 372.7L1006 370.9L1007 369.5L1008 368.2L1009 367.6L1010 368.4L1011 366.0L1012 365.9L1013 364.9L1014 364.5L1015 362.9L1016 363.4L1017 363.1L1018 362.5L1019 362.3L1020 359.7L1021 359.4L1022 360.0L1023 359.6L1024 356.9L1025 357.1L1026 357.8L1027 355.5L1028 354.7L1029 352.9L1030 354.4L1031 353.2L1032 350.7L1033 350.4L1034 350.8L1035 354.2L1036 355.0L1037 356.8L1038 358.9L1039 358.5L1040 361.0L1041 362.5L1042 365.9L1043 366.6L1044 368.9L1045 371.4L1046 371.7L1047 370.2L1048 371.7L1049 370.6L1050 369.5L1051 369.1L1052 367.6L1053 366.6L1054 365.2L1055 359.4L1056 351.8L1057 344.6L1058 339.6L1059 334.4L1060 328.4L1061 323.5L1062 321.9L1063 319.0L1064 316.6L1065 312.3L1066 310.5L1067 315.9L1068 320.5L1069 323.9L1070 328.2L1071 333.1L1072 339.3L1073 343.4L1074 345.1L1075 349.1L1076 353.2L1077 356.3L1078 357.3L1079 361.6L1080 364.1L1081 366.3L1082 368.2L1083 368.7L1084 369.6L1085 372.8L1086 375.4L1087 375.6L1088 377.9L1089 379.7L1090 378.5L1091 379.8L1092 380.0L1093 381.1L1094 380.7L1095 381.8L1096 383.3L1097 384.3L1098 383.0L1099 382.0L1100 381.0L1101 382.5L1102 381.5L1103 381.4L1104 381.2L1105 381.9L1106 381.8L1107 381.0L1108 379.7L1109 381.8L1110 382.2L1111 381.7L1112 381.7L1113 384.0L1114 385.5L1115 384.2L1116 384.1L1117 385.9L1118 387.9L1119 386.9L1120 387.7L1121 387.2L1122 387.7L1123 387.7L1124 387.4L1125 384.5L1125.9 383.4L1126 382.7L1127 378.8L1128 375.8L1129 375.7L1130 376.0L1131 375.4L1132 374.8L1133 374.9L1134 376.0L1135 376.2L1136 375.1L1137 374.7L1138 379.6L1139 381.9L1140 383.4L1141 386.8L1142 387.4L1143 390.3L1143.6 390.9L1143.8 391.8L1144 391.9L1145 393.7L1146 394.8L1147 395.5L1148 396.6L1149 396.1L1150 396.3L1151 396.3L1152 397.1L1153 395.7L1154 395.1L1155 395.2L1156 393.9L1157 394.0L1158 395.1L1159 396.5L1160 396.6L1161 396.7L1162 396.5L1163 395.4L1164 395.4L1165 395.0L1166 394.7L1167 395.7L1168 394.9L1169 395.6L1170 394.5L1171 393.8L1172 394.2L1173 389.2L1174 381.7L1175 376.7L1176 370.5L1177 367.5L1178 360.6L1179 353.6L1180 348.4L1181 341.6L1182 336.6L1183 330.2L1184 327.5L1185 318.4L1186 308.9L1187 309.1L1188 305.8L1189 304.6L1190 309.3L1191 306.0L1192 299.2L1193 301.2L1194 305.2L1195 310.3L1196 311.7L1197 316.2L1198 318.0L1199 321.2L1200 330.4L1201 332.6L1202 331.3L1203 337.2L1204 341.2L1205 342.6L1206 343.5L1207 341.5L1208 338.9L1209 334.3L1210 331.7L1211 324.8L1212 323.4L1213 320.4L1214 317.8L1215 317.6L1216 317.2L1217 320.6L1218 323.0L1219 323.2L1220 328.5L1221 329.4L1222 334.1L1223 340.7L1224 343.1L1225 346.9L1226 348.0L1227 351.9L1228 357.3L1229 361.0L1230 396.6L1231 451.9L1231.3 468.3L1231.7 468.3L1231.8 350.8L1232 351.9L1233 351.6L1234 350.4L1235 352.3L1236 353.9L1237 356.4L1238 359.2L1239 361.5L1240 364.0L1241 365.8L1242 369.6L1243 372.1L1244 372.2L1245 374.9L1245.6 375.9L1245.8 382.7L1246 384.1L1247 385.4L1248 385.4L1249 386.4L1250 386.6L1251 387.0L1252 386.6L1253 386.4L1254 386.8L1255 386.3L1256 387.3L1257 389.1L1258 388.5L1259 390.4L1260 390.8L1261 388.6L1262 384.9L1263 382.0L1264 380.8L1265 380.6L1266 380.4L1267 380.9L1268 379.2L1269 379.2L1270 380.6L1271 380.9L1272 382.2L1273 383.0L1274 384.8L1275 387.9L1276 388.8L1277 392.2L1278 393.6L1279 394.9L1280 396.7L1281 398.3L1282 397.8L1283 399.6L1284 399.5L1285 398.2L1286 399.4L1287 399.8L1288 399.4L1289 399.8L1290 399.5L1291 396.5L1292 394.8L1293 390.8L1294 386.7L1295 383.9L1296 379.2L1297 378.0L1298 376.5L1299 372.3L1299.5 367.5L1299.6 353.8L1300 354.5L1301 353.0L1302 352.8L1303 353.2L1304 353.5L1305 352.7L1306 354.9L1307 355.8L1308 355.6L1309 355.6L1310 355.6L1311 356.2L1312 358.1L1313 358.0L1314 373.2L1315 376.3L1316 379.0L1317 382.1L1318 383.3L1319 384.0L1320 387.3L1321 388.1L1322 390.9L1323 392.2L1324 393.3L1325 393.4L1326 393.6L1327 394.8L1328 396.7L1329 396.8L1330 397.0L1331 395.0L1332 391.0L1333 388.5L1334 384.7L1335 377.9L1336 375.7L1337 375.9L1338 374.5L1339 373.7L1340 373.0L1341 373.7L1342 373.0L1343 372.8L1344 373.4L1345 373.6L1346 372.3L1347 373.1L1348 376.6L1349 383.1L1350 384.0L1351 383.9L1352 381.3L1353 381.2L1354 381.4L1355 382.0L1356 382.5L1357 381.5L1358 383.3L1359 385.4L1360 387.5L1361 391.2L1362 392.9L1363 395.3L1364 396.8L1365 398.8L1366 401.0L1367 404.8L1368 406.2L1369 408.3L1370 410.9L1371 414.0L1372 415.1L1373 416.0L1374 416.7L1375 415.8L1376 415.7L1377 416.4V472.3Z" fill="#54b889"/>
<path d="M190 472.3V471.6L191 470.4L192 470.4L193 470.4L194 470.4L195 470.4L196 470.4L197 470.3L198 470.3L199 470.2L200 470.2L201 470.2L202 470.2L203 470.2L204 470.2L205 470.2L206 470.2L207 470.2L208 470.2L209 470.2L210 470.2L211 470.2L212 470.2L213 470.2L214 470.2L215 470.2L216 470.2L217 470.0L218 469.9L219 469.8L220 469.7L221 469.6L222 469.5L223 469.4L224 469.3L225 469.3L226 469.3L227 469.2L228 469.2L229 469.2L230 469.1L231 469.2L232 469.2L233 469.2L234 469.2L235 469.2L236 469.2L237 469.2L238 469.2L239 469.3L240 469.3L241 469.3L242 469.3L243 469.3L244 469.4L245 469.4L246 469.4L247 469.4L248 469.4L249 469.4L250 469.4L251 469.4L252 469.4L253 469.4L254 469.4L255 469.4L256 469.3L257 469.3L258 469.3L259 469.3L260 469.3L261 469.3L262 469.3L263 469.3L264 469.4L265 469.5L266 469.5L267 469.5L268 469.6L269 469.6L270 469.6L271 469.7L272 469.7L273 469.8L274 469.8L275 469.9L276 470.0L277 470.0L278 470.1L279 470.2L280 470.2L281 470.2L282 470.3L283 470.3L284 470.3L285 470.3L286 470.4L287 470.4L288 470.4L289 470.4L290 470.5L291 470.5L292 470.5L293 470.5L294 470.5L295 470.5L296 470.5L297 470.5L298 470.5L299 470.6L300 470.6L301 470.6L302 470.6L303 470.6L304 470.6L305 470.6L306 470.6L307 470.6L308 470.6L309 470.6L310 470.5L311 470.5L312 470.5L313 470.4L314 470.4L315 470.4L316 470.3L317 470.3L318 470.3L319 470.2L320 470.2L321 470.2L322 470.2L323 470.2L324 470.2L325 470.2L326 470.2L327 470.2L327.6 470.2L328 470.4L329 470.4L330 470.4L331 470.4L332 470.4L333 470.4L334 470.5L335 470.5L336 470.5L337 470.5L338 470.5L339 470.5L340 470.5L341 470.5L342 470.4L343 467.9L344 467.4L345 467.3L346 467.2L347 467.1L348 466.8L349 466.6L350 466.4L351 466.3L352 466.1L353 465.9L354 465.6L355 465.4L356 465.2L357 465.1L358 465.1L359 465.0L360 464.9L361 464.9L362 464.9L363 464.9L364 464.9L365 465.1L366 465.0L367 465.0L368 465.1L369 465.1L370 465.0L371 465.0L372 464.9L373 464.8L374 464.8L375 464.8L376 464.7L377 464.6L378 464.7L379 464.7L380 464.7L381 464.7L382 464.6L383 464.5L384 464.1L385 463.7L386 463.5L387 463.1L388 462.7L389 462.4L390 461.7L391 460.8L392 460.1L393 459.5L394 459.3L395 459.1L396 458.6L397 458.3L398 458.2L399 458.0L400 458.2L401 458.3L402 458.0L403 458.1L404 458.3L405 458.8L406 459.2L407 459.3L408 459.7L409 460.2L410 460.4L411 460.6L412 460.8L413 460.9L414 460.8L415 460.8L416 460.8L417 460.4L418 460.3L419 460.4L420 460.3L421 460.4L422 460.4L423 460.4L424 460.6L425 460.7L426 460.7L427 460.6L428 460.5L429 460.5L430 460.4L431 460.4L432 460.1L433 460.2L434 460.1L435 460.0L436 459.6L437 459.5L438 459.2L439 459.1L440 458.9L441 458.7L442 458.8L443 458.7L444 458.6L445 458.6L446 458.3L447 458.4L448 458.3L449 458.1L450 458.1L451 458.2L452 458.2L453 458.4L454 458.6L455 459.1L456 459.2L457 459.5L458 459.9L459 460.1L460 460.5L461 460.9L462 461.2L463 461.5L464 461.7L465 461.9L466 462.1L467 462.3L468 462.4L469 462.4L470 462.3L471 462.2L472 462.0L473 461.9L474 461.7L475 461.5L476 461.6L477 461.4L478 461.1L479 460.9L480 460.8L481 460.5L482 459.9L483 459.6L484 459.0L485 458.2L486 457.1L487 456.0L488 455.1L489 454.5L490 453.5L491 452.5L492 451.9L493 450.9L494 450.0L495 449.7L496 448.8L497 448.6L498 448.4L499 447.8L500 446.9L501 446.5L502 445.6L503 444.6L504 442.9L505 440.6L506 438.0L507 434.5L508 431.8L509 428.2L510 424.8L511 422.4L512 419.1L513 414.7L514 410.6L515 407.5L516 402.1L517 398.9L518 395.7L519 393.6L520 390.6L521 387.6L522 382.7L523 379.7L524 376.9L525 372.6L526 366.3L527 361.1L528 358.0L529 353.9L530 346.4L531 340.9L532 334.9L533 334.3L534 334.0L535 330.3L536 330.2L537 332.4L538 329.9L539 330.3L540 331.0L541 334.4L542 333.2L543 335.9L544 334.7L545 336.0L546 337.7L547 336.5L548 333.4L549 334.0L550 334.6L551 332.7L552 332.7L553 332.1L554 330.0L555 328.4L556 326.0L557 323.4L558 321.4L559 318.5L560 319.4L561 318.8L562 318.1L563 314.9L564 314.5L564.4 313.8L564.5 221.0L565 216.9L566 214.1L567 215.0L568 214.1L569 201.9L570 200.1L571 190.2L572 184.3L573 177.9L574 170.6L575 168.9L576 166.2L577 165.5L578 167.4L579 179.0L580 184.3L581 189.9L582 198.4L583 210.2L584 221.4L585 238.5L586 253.4L587 261.5L588 261.6L589 271.0L590 283.2L591 292.7L592 296.5L593 298.1L594 302.0L595 308.4L596 312.8L597 315.3L598 316.4L599 319.2L600 320.5L601 323.1L602 322.1L603 322.6L604 325.8L605 329.1L606 326.2L607 327.1L608 327.1L609 327.3L610 324.2L611 321.1L612 318.6L613 317.7L614 314.6L615 314.2L616 311.8L617 309.0L618 299.5L619 290.1L620 282.4L621 274.9L622 269.2L623 262.9L624 258.1L625 256.1L626 255.3L627 252.4L628 248.4L629 248.1L630 247.9L631 242.6L632 246.6L633 246.8L634 248.1L635 253.9L636 252.3L637 252.3L638 255.6L639 257.4L640 257.9L641 262.6L642 262.8L643 261.7L644 259.1L645 257.8L646 254.7L647 252.6L648 247.7L649 244.2L650 240.2L651 239.0L652 236.8L653 231.8L654 227.2L655 226.3L656 220.0L657 218.1L658 218.2L659 220.1L660 217.4L661 217.7L662 224.2L663 220.9L664 218.5L665 220.8L666 223.6L667 224.7L668 229.9L669 229.9L670 235.1L671 240.8L672 243.9L673 245.1L674 252.1L675 254.7L676 258.2L677 266.6L678 277.6L679 285.7L680 288.2L681 291.1L682 295.2L683 298.4L684 304.0L685 307.4L686 309.1L687 307.8L688 305.5L689 300.9L690 296.4L691 294.2L692 291.2L693 291.1L694 293.7L695 298.1L696 306.3L697 312.1L698 316.9L699 320.6L700 325.5L701 326.4L702 331.4L703 331.8L704 333.4L705 339.3L706 341.3L707 341.9L708 343.2L709 347.1L710 350.6L711 353.2L712 353.2L713 356.7L714 357.7L715 360.1L716 360.7L717 360.4L718 363.8L719 362.3L720 361.7L721 360.1L722 359.7L723 361.1L724 359.2L725 359.5L726 361.0L727 361.3L728 360.0L729 361.0L730 362.8L731 364.8L732 365.6L733 366.8L734 367.6L735 371.8L736 373.0L737 374.5L738 376.8L739 375.0L739.4 374.6L739.6 364.5L740 364.7L741 361.8L742 358.4L743 353.4L744 352.4L745 352.0L746 350.4L747 349.6L748 350.8L749 351.1L750 348.8L751 350.1L752 350.4L753 355.3L754 359.4L754.1 358.9L754.3 368.4L755 368.2L756 366.3L757 365.9L758 366.1L759 366.7L760 366.1L761 365.8L762 366.9L763 367.0L764 368.9L765 367.9L766 368.2L767 367.9L768 369.6L769 373.1L770 376.5L771 376.8L772 380.5L773 382.7L774 385.2L775 387.8L776 388.5L777 388.7L778 391.2L779 392.0L780 393.0L781 392.5L782 392.5L783 392.9L784 392.9L785 392.7L786 390.9L787 391.1L788 391.9L789 390.4L790 389.6L791 390.5L792 391.5L793 391.5L794 391.7L795 391.3L796 391.7L797 391.6L798 391.5L799 390.8L800 389.9L801 390.3L802 391.5L803 392.1L804 392.2L805 392.8L806 393.0L807 393.2L808 392.5L809 390.4L810 391.3L811 390.6L812 390.8L813 390.9L814 392.9L815 393.9L816 394.7L817 395.3L818 396.1L819 396.1L820 397.0L821 398.1L822 400.8L823 401.6L824 400.5L825 400.0L826 401.6L827 402.7L827.6 404.3L827.8 386.0L828 383.7L829 379.8L830 376.1L831 372.6L832 371.3L833 369.3L834 367.5L835 364.5L836 361.8L837 359.6L838 358.8L839 359.6L840 361.1L840.7 363.1L840.9 369.8L841 371.4L842 372.3L843 375.7L844 376.9L845 379.5L846 381.9L847 383.7L848 384.7L849 384.7L850 384.5L851 385.8L852 386.4L853 385.3L854 384.8L855 385.2L856 385.7L857 384.9L858 386.0L859 385.7L860 385.1L861 383.7L862 384.0L863 383.7L864 384.4L865 385.2L866 385.1L867 382.6L868 381.9L869 382.4L870 382.8L871 381.2L872 381.1L873 382.4L874 383.9L875 383.9L876 383.9L877 386.4L878 388.6L879 389.1L880 389.8L881 390.0L882 389.2L883 386.5L884 384.5L885 383.4L886 382.3L887 378.5L888 377.5L889 374.7L890 373.7L891 372.0L892 368.0L893 366.3L894 362.3L895 361.0L896 361.1L897 360.0L898 360.5L899 361.7L900 362.8L901 367.1L902 368.7L903 370.0L904 369.2L905 371.8L906 373.9L907 375.2L908 376.1L909 376.3L910 377.8L911 380.0L912 381.3L913 383.3L914 386.9L915 389.7L916 390.3L917 392.2L918 395.6L919 395.9L920 397.1L921 398.5L922 399.1L923 398.0L924 396.9L925 395.0L926 393.1L927 390.5L928 390.6L929 388.1L930 387.9L931 387.6L932 385.9L933 385.0L934 385.4L935 386.1L936 385.4L937 385.7L938 385.0L939 386.7L940 387.5L941 386.6L942 388.1L943 387.9L944 386.6L945 386.4L946 388.0L947 388.7L948 388.8L949 387.0L950 388.0L951 387.6L952 387.1L953 389.4L954 391.1L955 390.8L956 392.1L957 394.3L958 394.6L959 396.0L960 397.3L961 398.8L962 398.4L963 398.4L964 399.4L965 399.6L966 401.7L967 402.5L968 402.4L969 402.2L970 402.8L971 404.8L972 406.4L973 407.0L974 407.5L975 407.3L976 408.9L977 408.9L978 409.3L979 409.7L980 410.5L981 411.6L982 413.0L983 413.9L984 414.6L985 414.1L986 414.3L987 413.8L988 412.2L989 412.0L990 412.0L991 410.9L992 408.8L993 407.6L994 405.3L995 403.7L996 402.1L997 401.8L998 401.0L999 399.5L1000 397.0L1001 394.6L1002 393.7L1003 393.1L1004 391.5L1005 389.7L1006 388.1L1007 386.8L1008 385.6L1009 385.0L1010 385.6L1011 383.4L1012 383.2L1013 382.3L1014 381.9L1015 380.4L1016 380.7L1017 380.4L1018 379.8L1019 379.5L1020 377.3L1021 376.9L1022 377.3L1023 376.8L1024 374.5L1025 374.6L1026 375.0L1027 373.1L1028 372.2L1029 370.6L1030 371.8L1031 370.7L1032 368.5L1033 368.4L1034 368.9L1035 372.0L1036 372.9L1037 374.6L1038 376.5L1039 376.3L1040 378.6L1041 380.0L1042 383.0L1043 383.8L1044 385.8L1045 388.0L1046 388.4L1047 387.3L1048 388.7L1049 387.9L1050 387.1L1051 386.9L1052 385.8L1053 385.1L1054 384.0L1055 379.4L1056 373.3L1057 367.5L1058 363.5L1059 359.5L1060 354.6L1061 350.8L1062 349.7L1063 347.5L1064 345.7L1065 342.3L1066 341.0L1067 345.2L1068 348.9L1069 351.4L1070 354.8L1071 358.7L1072 363.7L1073 366.8L1074 368.1L1075 371.2L1076 374.4L1077 376.9L1078 377.6L1079 381.0L1080 383.0L1081 384.6L1082 386.0L1083 386.3L1084 387.0L1085 389.4L1086 391.4L1087 391.5L1088 393.3L1089 394.7L1090 393.5L1091 394.4L1092 394.5L1093 395.2L1094 394.7L1095 395.4L1096 396.5L1097 397.2L1098 395.9L1099 394.9L1100 393.8L1101 394.8L1102 393.8L1103 393.5L1104 393.4L1105 394.1L1106 394.1L1107 393.4L1108 392.4L1109 394.3L1110 394.7L1111 394.4L1112 394.4L1113 396.5L1114 397.8L1115 396.8L1116 396.8L1117 398.3L1118 400.2L1119 399.3L1120 400.1L1121 399.7L1122 400.2L1123 400.3L1124 400.1L1125 397.7L1125.9 396.9L1126 392.6L1127 389.6L1128 387.4L1129 387.6L1130 388.4L1131 388.2L1132 388.0L1133 388.4L1134 389.1L1135 388.9L1136 387.6L1137 386.9L1138 390.9L1139 392.5L1140 393.5L1141 396.2L1142 396.4L1143 398.6L1143.6 398.9L1143.8 402.8L1144 402.9L1145 404.4L1146 405.3L1147 405.9L1148 406.7L1149 406.3L1150 406.3L1151 406.3L1152 406.9L1153 405.6L1154 405.0L1155 405.1L1156 403.9L1157 403.9L1158 404.9L1159 406.0L1160 406.0L1161 405.9L1162 405.6L1163 404.5L1164 404.4L1165 404.0L1166 403.6L1167 404.4L1168 403.6L1169 404.1L1170 403.1L1171 402.4L1172 402.7L1173 398.2L1174 391.4L1175 386.8L1176 381.3L1177 378.5L1178 372.2L1179 365.8L1180 361.1L1181 354.9L1182 350.4L1183 344.6L1184 342.0L1185 333.8L1186 325.1L1187 325.3L1188 322.2L1189 321.1L1190 325.2L1191 322.4L1192 316.6L1193 318.7L1194 322.6L1195 327.5L1196 329.0L1197 333.3L1198 335.1L1199 338.3L1200 346.6L1201 348.8L1202 348.0L1203 353.4L1204 357.2L1205 358.6L1206 359.6L1207 358.1L1208 356.1L1209 352.4L1210 350.4L1211 344.7L1212 343.8L1213 341.5L1214 339.5L1215 339.6L1216 339.3L1217 342.3L1218 344.3L1219 344.5L1220 349.1L1221 349.9L1222 353.9L1223 359.6L1224 361.7L1225 364.9L1226 365.9L1227 369.2L1228 373.8L1229 377.1L1230 407.5L1231 454.9L1231.3 468.8L1231.7 468.8L1231.8 368.4L1232 369.3L1233 369.1L1234 368.1L1235 369.7L1236 371.1L1237 373.2L1238 375.7L1239 377.7L1240 379.8L1241 381.4L1242 384.7L1243 386.8L1244 386.9L1245 389.2L1245.6 390.1L1245.8 395.9L1246 397.0L1247 398.2L1248 398.2L1249 399.1L1250 399.3L1251 399.7L1252 399.3L1253 399.1L1254 399.5L1255 399.1L1256 399.9L1257 401.5L1258 401.1L1259 402.7L1260 403.0L1261 401.2L1262 398.1L1263 395.6L1264 394.6L1265 394.5L1266 394.4L1267 394.8L1268 393.4L1269 393.5L1270 394.8L1271 395.1L1272 396.4L1273 397.0L1274 398.7L1275 401.4L1276 402.2L1277 405.2L1278 406.4L1279 407.5L1280 409.1L1281 410.6L1282 410.2L1283 411.8L1284 411.8L1285 410.8L1286 411.8L1287 412.2L1288 412.0L1289 412.3L1290 412.1L1291 409.7L1292 408.4L1293 405.2L1294 401.9L1295 399.7L1296 395.9L1297 395.0L1298 393.8L1299 390.4L1299.5 386.6L1299.6 368.1L1300 368.9L1301 368.2L1302 368.5L1303 369.5L1304 370.3L1305 370.2L1306 372.1L1307 372.9L1308 372.7L1309 372.8L1310 372.8L1311 373.4L1312 375.0L1313 375.0L1314 389.3L1315 392.1L1316 394.2L1317 396.8L1318 397.8L1319 398.3L1320 401.0L1321 401.7L1322 404.0L1323 405.1L1324 405.9L1325 406.0L1326 406.1L1327 407.1L1328 408.6L1329 408.6L1330 408.8L1331 407.1L1332 403.7L1333 401.5L1334 398.3L1335 392.5L1336 390.6L1337 390.7L1338 389.5L1339 388.8L1340 388.1L1341 388.7L1342 388.0L1343 388.0L1344 388.5L1345 388.8L1346 387.7L1347 388.5L1348 391.5L1349 397.1L1350 398.0L1351 398.0L1352 395.9L1353 395.8L1354 396.1L1355 396.7L1356 397.2L1357 396.4L1358 398.0L1359 399.9L1360 401.7L1361 405.0L1362 406.4L1363 408.5L1364 409.9L1365 411.7L1366 413.6L1367 416.8L1368 418.1L1369 419.9L1370 422.1L1371 424.8L1372 425.8L1373 426.6L1374 427.3L1375 426.6L1376 426.6L1377 427.1V472.3Z" fill="#acc951"/>
<path d="M190 472.3V471.6L191 470.4L192 470.4L193 470.4L194 470.4L195 470.4L196 470.4L197 470.3L198 470.3L199 470.2L200 470.2L201 470.2L202 470.2L203 470.2L204 470.2L205 470.2L206 470.2L207 470.2L208 470.2L209 470.2L210 470.2L211 470.2L212 470.2L213 470.2L214 470.2L215 470.2L216 470.2L217 470.0L218 469.9L219 469.8L220 469.7L221 469.6L222 469.5L223 469.4L224 469.3L225 469.3L226 469.3L227 469.2L228 469.2L229 469.2L230 469.1L231 469.2L232 469.2L233 469.2L234 469.2L235 469.2L236 469.2L237 469.2L238 469.2L239 469.3L240 469.3L241 469.3L242 469.3L243 469.3L244 469.4L245 469.4L246 469.4L247 469.4L248 469.4L249 469.4L250 469.4L251 469.4L252 469.4L253 469.4L254 469.4L255 469.4L256 469.3L257 469.3L258 469.3L259 469.3L260 469.3L261 469.3L262 469.3L263 469.3L264 469.4L265 469.5L266 469.5L267 469.5L268 469.6L269 469.6L270 469.6L271 469.7L272 469.7L273 469.8L274 469.8L275 469.9L276 470.0L277 470.0L278 470.1L279 470.2L280 470.2L281 470.2L282 470.3L283 470.3L284 470.3L285 470.3L286 470.4L287 470.4L288 470.4L289 470.4L290 470.5L291 470.5L292 470.5L293 470.5L294 470.5L295 470.5L296 470.5L297 470.5L298 470.5L299 470.6L300 470.6L301 470.6L302 470.6L303 470.6L304 470.6L305 470.6L306 470.6L307 470.6L308 470.6L309 470.6L310 470.5L311 470.5L312 470.5L313 470.4L314 470.4L315 470.4L316 470.3L317 470.3L318 470.3L319 470.2L320 470.2L321 470.2L322 470.2L323 470.2L324 470.2L325 470.2L326 470.2L327 470.2L327.6 470.2L328 470.4L329 470.4L330 470.4L331 470.4L332 470.4L333 470.4L334 470.5L335 470.5L336 470.5L337 470.5L338 470.5L339 470.5L340 470.5L341 470.5L342 470.4L343 468.6L344 468.2L345 468.1L346 468.1L347 468.0L348 467.8L349 467.7L350 467.5L351 467.4L352 467.3L353 467.2L354 466.9L355 466.8L356 466.6L357 466.6L358 466.6L359 466.5L360 466.4L361 466.4L362 466.5L363 466.5L364 466.5L365 466.6L366 466.6L367 466.7L368 466.7L369 466.7L370 466.7L371 466.7L372 466.6L373 466.6L374 466.6L375 466.6L376 466.5L377 466.5L378 466.6L379 466.6L380 466.6L381 466.6L382 466.6L383 466.5L384 466.2L385 465.9L386 465.7L387 465.5L388 465.2L389 465.0L390 464.4L391 463.8L392 463.4L393 462.9L394 462.8L395 462.6L396 462.2L397 462.1L398 462.0L399 461.9L400 462.0L401 462.1L402 462.0L403 462.0L404 462.2L405 462.6L406 462.9L407 463.0L408 463.3L409 463.7L410 463.8L411 464.0L412 464.2L413 464.2L414 464.2L415 464.2L416 464.2L417 464.0L418 463.9L419 464.0L420 464.0L421 464.1L422 464.1L423 464.1L424 464.3L425 464.3L426 464.3L427 464.3L428 464.2L429 464.3L430 464.2L431 464.3L432 464.1L433 464.1L434 464.1L435 464.1L436 463.8L437 463.8L438 463.6L439 463.5L440 463.4L441 463.4L442 463.5L443 463.4L444 463.4L445 463.4L446 463.2L447 463.2L448 463.2L449 463.0L450 463.0L451 463.0L452 463.0L453 463.1L454 463.2L455 463.5L456 463.6L457 463.8L458 464.0L459 464.1L460 464.3L461 464.6L462 464.8L463 464.9L464 465.1L465 465.2L466 465.3L467 465.4L468 465.4L469 465.6L470 465.6L471 465.7L472 465.6L473 465.7L474 465.7L475 465.6L476 465.7L477 465.7L478 465.6L479 465.6L480 465.6L481 465.5L482 465.2L483 465.1L484 464.8L485 464.4L486 463.9L487 463.3L488 462.9L489 462.6L490 462.1L491 461.7L492 461.4L493 460.9L494 460.5L495 460.5L496 460.0L497 460.0L498 459.9L499 459.7L500 459.3L501 459.1L502 458.7L503 458.2L504 457.4L505 456.2L506 454.9L507 453.2L508 451.9L509 450.1L510 448.4L511 446.8L512 444.8L513 442.1L514 439.6L515 437.6L516 434.3L517 432.2L518 430.2L519 428.8L520 427.2L521 425.7L522 423.0L523 421.5L524 420.0L525 417.7L526 414.3L527 411.5L528 409.9L529 407.7L530 403.6L531 400.7L532 397.5L533 397.2L534 397.1L535 395.1L536 395.1L537 396.4L538 395.1L539 395.4L540 395.7L541 397.1L542 395.7L543 396.4L544 394.9L545 394.8L546 395.0L547 393.6L548 391.0L549 390.6L550 390.2L551 388.3L552 387.6L553 386.5L554 384.5L555 382.7L556 380.4L557 378.1L558 376.1L559 373.4L560 373.2L561 372.5L562 372.0L563 369.9L564 369.6L564.4 369.2L564.5 292.8L565 287.7L566 281.2L567 277.5L568 272.4L569 261.1L570 258.0L571 249.2L572 246.3L573 243.1L574 239.2L575 239.6L576 239.2L577 238.4L578 238.5L579 246.1L580 248.9L581 252.9L582 259.7L583 269.1L584 277.4L585 289.5L586 300.0L587 305.2L588 304.0L589 311.0L590 320.4L591 327.7L592 330.4L593 331.3L594 334.2L595 338.9L596 342.1L597 343.8L598 344.3L599 346.1L600 348.6L601 352.9L602 354.3L603 356.9L604 361.6L605 366.4L606 364.5L607 365.3L608 365.4L609 365.6L610 363.4L611 361.2L612 359.5L613 358.8L614 356.7L615 356.5L616 354.8L617 352.8L618 345.9L619 339.1L620 333.5L621 328.1L622 324.1L623 319.6L624 316.1L625 314.7L626 314.2L627 312.2L628 309.3L629 309.2L630 309.1L631 305.3L632 307.5L633 307.1L634 307.4L635 311.0L636 309.1L637 308.4L638 310.2L639 310.9L640 310.5L641 313.4L642 312.9L643 311.6L644 309.1L645 307.6L646 304.7L647 302.6L648 298.3L649 295.1L650 291.5L651 290.1L652 287.9L653 283.5L654 279.4L655 278.3L656 272.9L657 271.0L658 271.5L659 273.6L660 271.9L661 272.7L662 278.3L663 276.3L664 274.9L665 277.3L666 280.0L667 281.4L668 286.0L669 286.6L670 291.1L671 296.0L672 299.0L673 299.3L674 303.3L675 303.9L676 305.2L677 310.3L678 317.6L679 322.6L680 323.1L681 324.0L682 325.8L683 326.8L684 329.9L685 331.1L686 332.4L687 331.3L688 329.2L689 325.1L690 321.2L691 319.2L692 316.5L693 316.3L694 318.8L695 322.8L696 329.9L697 335.1L698 339.4L699 342.6L700 347.1L701 348.0L702 352.4L703 352.9L704 354.5L705 359.6L706 361.5L707 362.2L708 363.5L709 367.0L710 370.1L711 372.5L712 372.7L713 375.8L714 376.9L715 379.0L716 379.8L717 379.8L718 382.8L719 381.8L720 381.6L721 380.6L722 380.3L723 381.2L724 379.6L725 379.7L726 380.8L727 380.9L728 379.7L729 380.4L730 381.7L731 383.2L732 383.8L733 384.7L734 385.2L735 388.6L736 389.5L737 390.6L738 392.4L739 390.8L739.4 390.5L739.6 381.9L740 382.1L741 379.5L742 376.5L743 372.3L744 371.3L745 370.8L746 369.3L747 368.5L748 369.5L749 369.7L750 367.7L751 368.6L752 368.8L753 372.9L754 376.3L754.1 375.9L754.3 384.0L755 383.7L756 382.0L757 381.6L758 381.7L759 382.2L760 381.6L761 381.2L762 382.0L763 382.1L764 383.7L765 382.7L766 382.9L767 382.5L768 383.9L769 386.8L770 389.6L771 389.8L772 392.9L773 394.8L774 396.8L775 399.0L776 399.6L777 399.6L778 401.7L779 402.3L780 403.1L781 402.6L782 402.5L783 402.8L784 402.7L785 402.4L786 400.7L787 400.8L788 401.4L789 400.0L790 399.1L791 399.9L792 400.6L793 400.5L794 401.1L795 401.0L796 401.7L797 401.9L798 402.1L799 401.9L800 401.4L801 402.0L802 403.4L803 404.2L804 404.6L805 405.4L806 405.8L807 406.2L808 405.9L809 404.4L810 405.4L811 405.2L812 405.5L813 405.9L814 407.7L815 408.9L816 409.7L817 410.4L818 411.3L819 411.5L820 412.5L821 413.5L822 415.8L823 416.7L824 416.1L825 415.8L826 417.3L827 418.3L827.6 419.7L827.8 405.5L828 403.8L829 401.0L830 398.4L831 396.0L832 395.2L833 394.0L834 392.8L835 390.8L836 389.0L837 387.7L838 387.3L839 388.2L840 388.9L840.7 390.1L840.9 395.1L841 396.3L842 396.6L843 398.8L844 399.3L845 401.0L846 402.5L847 403.5L848 403.9L849 403.6L850 403.0L851 403.7L852 403.8L853 402.5L854 401.7L855 401.6L856 401.7L857 400.6L858 401.1L859 400.5L860 399.5L861 397.9L862 397.7L863 396.9L864 397.1L865 397.3L866 397.1L867 395.1L868 394.6L869 395.2L870 395.6L871 394.3L872 394.4L873 395.6L874 397.0L875 397.1L876 397.2L877 399.4L878 401.3L879 401.9L880 402.5L881 402.8L882 402.2L883 400.1L884 398.4L885 397.6L886 396.7L887 393.7L888 392.9L889 390.7L890 389.9L891 388.6L892 385.4L893 384.1L894 380.9L895 379.8L896 380.0L897 379.2L898 379.6L899 380.6L900 381.5L901 385.0L902 386.3L903 387.4L904 386.6L905 388.8L906 390.5L907 391.6L908 392.3L909 392.4L910 393.6L911 395.5L912 396.5L913 398.1L914 401.1L915 403.5L916 403.9L917 405.4L918 408.3L919 408.5L920 409.5L921 410.6L922 411.1L923 410.1L924 409.2L925 407.6L926 406.0L927 403.7L928 403.8L929 401.7L930 401.4L931 401.2L932 399.7L933 398.9L934 399.2L935 399.8L936 399.1L937 399.4L938 398.8L939 400.2L940 400.7L941 399.8L942 401.0L943 400.7L944 399.5L945 399.1L946 400.4L947 400.9L948 400.8L949 399.1L950 399.8L951 399.3L952 398.8L953 400.6L954 401.9L955 401.5L956 402.5L957 404.3L958 404.4L959 405.5L960 406.5L961 407.6L962 407.1L963 407.0L964 407.7L965 407.7L966 409.4L967 409.9L968 409.7L969 409.4L970 409.8L971 411.4L972 412.6L973 413.0L974 413.3L975 412.9L976 414.2L977 414.0L978 414.1L979 414.4L980 414.9L981 415.7L982 416.8L983 417.5L984 418.0L985 417.4L986 417.6L987 417.1L988 415.6L989 415.4L990 415.3L991 414.3L992 412.3L993 411.2L994 409.0L995 407.5L996 406.0L997 405.7L998 404.9L999 403.5L1000 401.1L1001 398.9L1002 398.0L1003 397.4L1004 396.0L1005 394.2L1006 392.7L1007 391.4L1008 390.3L1009 389.8L1010 390.3L1011 388.2L1012 388.1L1013 387.2L1014 386.8L1015 385.4L1016 385.7L1017 385.3L1018 384.8L1019 384.5L1020 382.4L1021 382.0L1022 382.4L1023 382.0L1024 379.8L1025 379.8L1026 380.3L1027 378.4L1028 377.6L1029 376.1L1030 377.2L1031 376.2L1032 374.0L1033 373.9L1034 374.3L1035 377.2L1036 378.0L1037 379.6L1038 381.4L1039 381.2L1040 383.3L1041 384.7L1042 387.4L1043 388.1L1044 390.0L1045 392.1L1046 392.5L1047 391.4L1048 392.7L1049 391.9L1050 391.1L1051 390.9L1052 389.8L1053 389.1L1054 388.1L1055 383.7L1056 377.7L1057 372.2L1058 368.4L1059 364.5L1060 359.8L1061 356.1L1062 355.0L1063 352.9L1064 351.1L1065 347.9L1066 346.6L1067 350.7L1068 354.3L1069 356.8L1070 360.1L1071 363.8L1072 368.6L1073 371.7L1074 372.9L1075 376.0L1076 379.1L1077 381.5L1078 382.2L1079 385.5L1080 387.4L1081 389.0L1082 390.4L1083 390.7L1084 391.4L1085 393.8L1086 395.8L1087 395.9L1088 397.6L1089 399.0L1090 398.0L1091 398.9L1092 399.0L1093 399.8L1094 399.4L1095 400.1L1096 401.2L1097 401.9L1098 400.8L1099 399.9L1100 398.9L1101 400.0L1102 399.1L1103 399.0L1104 398.8L1105 399.4L1106 399.3L1107 398.7L1108 397.7L1109 399.5L1110 399.8L1111 399.5L1112 399.5L1113 401.4L1114 402.6L1115 401.6L1116 401.6L1117 403.0L1118 404.7L1119 403.9L1120 404.6L1121 404.2L1122 404.6L1123 404.6L1124 404.5L1125 402.1L1125.9 401.3L1126 396.6L1127 393.7L1128 391.6L1129 391.8L1130 392.5L1131 392.3L1132 392.2L1133 392.5L1134 393.1L1135 392.9L1136 391.6L1137 390.9L1138 394.6L1139 396.1L1140 397.0L1141 399.5L1142 399.6L1143 401.6L1143.6 401.9L1143.8 407.9L1144 407.9L1145 409.2L1146 410.0L1147 410.5L1148 411.3L1149 410.8L1150 410.8L1151 410.8L1152 411.2L1153 410.0L1154 409.4L1155 409.4L1156 408.2L1157 408.2L1158 409.0L1159 410.0L1160 410.0L1161 410.0L1162 409.7L1163 408.6L1164 408.5L1165 408.1L1166 407.8L1167 408.5L1168 407.8L1169 408.3L1170 407.3L1171 406.6L1172 406.9L1173 402.7L1174 396.3L1175 392.0L1176 386.8L1177 384.2L1178 378.3L1179 372.3L1180 367.9L1181 362.0L1182 357.8L1183 352.3L1184 349.9L1185 342.2L1186 334.0L1187 334.1L1188 331.3L1189 330.2L1190 334.1L1191 331.5L1192 326.0L1193 328.0L1194 331.6L1195 336.3L1196 337.7L1197 341.7L1198 343.5L1199 346.4L1200 354.3L1201 356.4L1202 355.6L1203 360.7L1204 364.3L1205 365.6L1206 366.6L1207 365.2L1208 363.3L1209 359.8L1210 357.9L1211 352.6L1212 351.7L1213 349.6L1214 347.8L1215 347.9L1216 347.6L1217 350.4L1218 352.3L1219 352.5L1220 356.7L1221 357.5L1222 361.3L1223 366.6L1224 368.5L1225 371.6L1226 372.5L1227 375.7L1228 380.0L1229 383.0L1230 411.5L1231 456.0L1231.3 469.1L1231.7 469.1L1231.8 374.9L1232 375.7L1233 375.5L1234 374.6L1235 376.1L1236 377.4L1237 379.4L1238 381.7L1239 383.6L1240 385.6L1241 387.0L1242 390.1L1243 392.1L1244 392.2L1245 394.4L1245.6 395.2L1245.8 400.7L1246 401.7L1247 402.8L1248 402.8L1249 403.7L1250 403.8L1251 404.2L1252 403.9L1253 403.7L1254 404.1L1255 403.7L1256 404.5L1257 406.0L1258 405.5L1259 407.0L1260 407.3L1261 405.6L1262 402.7L1263 400.4L1264 399.5L1265 399.3L1266 399.3L1267 399.7L1268 398.4L1269 398.4L1270 399.6L1271 399.9L1272 401.1L1273 401.7L1274 403.2L1275 405.7L1276 406.5L1277 409.3L1278 410.4L1279 411.5L1280 413.0L1281 414.3L1282 414.0L1283 415.4L1284 415.5L1285 414.5L1286 415.4L1287 415.8L1288 415.6L1289 415.9L1290 415.7L1291 413.4L1292 412.2L1293 409.1L1294 406.0L1295 404.0L1296 400.4L1297 399.6L1298 398.4L1299 395.2L1299.5 391.6L1299.6 373.6L1300 374.4L1301 373.7L1302 374.1L1303 375.0L1304 375.7L1305 375.7L1306 377.4L1307 378.2L1308 378.0L1309 378.1L1310 378.0L1311 378.5L1312 380.1L1313 380.0L1314 394.3L1315 397.0L1316 399.0L1317 401.4L1318 402.2L1319 402.7L1320 405.2L1321 405.8L1322 408.0L1323 408.9L1324 409.7L1325 409.7L1326 409.8L1327 410.7L1328 412.1L1329 412.1L1330 412.2L1331 410.6L1332 407.3L1333 405.3L1334 402.2L1335 396.7L1336 394.8L1337 394.9L1338 393.7L1339 392.9L1340 392.3L1341 392.8L1342 392.2L1343 392.1L1344 392.6L1345 392.9L1346 391.9L1347 392.6L1348 395.6L1349 400.9L1350 401.7L1351 401.7L1352 399.8L1353 399.8L1354 400.0L1355 400.6L1356 401.1L1357 400.4L1358 402.0L1359 403.7L1360 405.5L1361 408.6L1362 410.0L1363 412.0L1364 413.3L1365 415.0L1366 416.9L1367 420.0L1368 421.2L1369 422.9L1370 425.1L1371 427.6L1372 428.6L1373 429.4L1374 430.0L1375 429.4L1376 429.4L1377 429.8V472.3Z" fill="#f39e3a"/>
<path d="M190 472.3V471.6L191 470.4L192 470.4L193 470.4L194 470.4L195 470.4L196 470.4L197 470.3L198 470.3L199 470.2L200 470.2L201 470.2L202 470.2L203 470.2L204 470.2L205 470.2L206 470.2L207 470.2L208 470.2L209 470.2L210 470.2L211 470.2L212 470.2L213 470.2L214 470.2L215 470.2L216 470.2L217 470.0L218 469.9L219 469.8L220 469.7L221 469.6L222 469.5L223 469.4L224 469.3L225 469.3L226 469.3L227 469.2L228 469.2L229 469.2L230 469.1L231 469.2L232 469.2L233 469.2L234 469.2L235 469.2L236 469.2L237 469.2L238 469.2L239 469.3L240 469.3L241 469.3L242 469.3L243 469.3L244 469.4L245 469.4L246 469.4L247 469.4L248 469.4L249 469.4L250 469.4L251 469.4L252 469.4L253 469.4L254 469.4L255 469.4L256 469.3L257 469.3L258 469.3L259 469.3L260 469.3L261 469.3L262 469.3L263 469.3L264 469.4L265 469.5L266 469.5L267 469.5L268 469.6L269 469.6L270 469.6L271 469.7L272 469.7L273 469.8L274 469.8L275 469.9L276 470.0L277 470.0L278 470.1L279 470.2L280 470.2L281 470.2L282 470.3L283 470.3L284 470.3L285 470.3L286 470.4L287 470.4L288 470.4L289 470.4L290 470.5L291 470.5L292 470.5L293 470.5L294 470.5L295 470.5L296 470.5L297 470.5L298 470.5L299 470.6L300 470.6L301 470.6L302 470.6L303 470.6L304 470.6L305 470.6L306 470.6L307 470.6L308 470.6L309 470.6L310 470.5L311 470.5L312 470.5L313 470.4L314 470.4L315 470.4L316 470.3L317 470.3L318 470.3L319 470.2L320 470.2L321 470.2L322 470.2L323 470.2L324 470.2L325 470.2L326 470.2L327 470.2L327.6 470.2L328 470.4L329 470.4L330 470.4L331 470.4L332 470.4L333 470.4L334 470.5L335 470.5L336 470.5L337 470.5L338 470.5L339 470.5L340 470.5L341 470.5L342 470.4L343 469.6L344 469.5L345 469.4L346 469.4L347 469.3L348 469.2L349 469.1L350 469.1L351 469.0L352 468.9L353 468.9L354 468.7L355 468.6L356 468.5L357 468.5L358 468.5L359 468.5L360 468.4L361 468.4L362 468.5L363 468.5L364 468.5L365 468.5L366 468.5L367 468.5L368 468.5L369 468.5L370 468.5L371 468.5L372 468.4L373 468.4L374 468.4L375 468.3L376 468.3L377 468.3L378 468.3L379 468.3L380 468.3L381 468.3L382 468.3L383 468.2L384 468.0L385 467.8L386 467.6L387 467.5L388 467.3L389 467.1L390 466.7L391 466.3L392 465.9L393 465.6L394 465.4L395 465.3L396 465.1L397 464.9L398 464.8L399 464.8L400 464.8L401 464.9L402 464.9L403 465.0L404 465.1L405 465.5L406 465.7L407 465.8L408 466.1L409 466.4L410 466.5L411 466.7L412 466.8L413 466.9L414 466.9L415 467.0L416 467.0L417 466.9L418 466.9L419 467.0L420 467.0L421 467.1L422 467.1L423 467.2L424 467.3L425 467.4L426 467.5L427 467.5L428 467.5L429 467.5L430 467.6L431 467.6L432 467.6L433 467.6L434 467.7L435 467.7L436 467.6L437 467.6L438 467.5L439 467.5L440 467.5L441 467.6L442 467.6L443 467.6L444 467.7L445 467.7L446 467.7L447 467.7L448 467.6L449 467.6L450 467.5L451 467.5L452 467.5L453 467.5L454 467.6L455 467.7L456 467.7L457 467.8L458 467.9L459 467.9L460 468.0L461 468.1L462 468.2L463 468.3L464 468.4L465 468.4L466 468.4L467 468.4L468 468.4L469 468.6L470 468.7L471 468.7L472 468.7L473 468.8L474 468.8L475 468.8L476 468.9L477 468.9L478 468.9L479 468.9L480 469.0L481 468.9L482 468.8L483 468.8L484 468.7L485 468.5L486 468.3L487 468.1L488 467.9L489 467.8L490 467.6L491 467.4L492 467.3L493 467.1L494 466.9L495 466.9L496 466.8L497 466.8L498 466.8L499 466.7L500 466.4L501 466.3L502 466.0L503 465.7L504 465.3L505 464.7L506 464.0L507 463.2L508 462.5L509 461.6L510 460.7L511 459.6L512 458.2L513 456.4L514 454.7L515 453.3L516 451.2L517 449.8L518 448.4L519 447.3L520 445.9L521 444.5L522 442.5L523 441.1L524 439.7L525 437.9L526 435.4L527 433.2L528 431.7L529 429.9L530 426.8L531 424.5L532 422.0L533 421.4L534 421.0L535 419.3L536 419.0L537 419.5L538 418.3L539 418.2L540 418.2L541 419.2L542 418.3L543 418.9L544 418.0L545 418.1L546 418.4L547 417.5L548 415.8L549 415.7L550 415.5L551 414.3L552 413.9L553 413.3L554 412.0L555 410.9L556 409.5L557 408.0L558 406.7L559 405.0L560 405.1L561 404.6L562 404.4L563 403.1L564 403.0L564.4 402.8L564.5 327.3L565 323.0L566 317.5L567 314.3L568 310.0L569 301.1L570 298.9L571 292.1L572 290.0L573 287.6L574 284.6L575 285.2L576 285.0L577 284.7L578 285.2L579 291.7L580 294.3L581 298.3L582 304.9L583 313.4L584 320.3L585 329.5L586 337.5L587 341.3L588 340.0L589 346.3L590 354.6L591 361.2L592 364.2L593 366.0L594 369.1L595 373.8L596 377.2L597 379.6L598 381.1L599 383.7L600 384.9L601 386.5L602 386.0L603 386.4L604 388.4L605 390.4L606 388.9L607 389.6L608 389.7L609 390.0L610 388.3L611 386.7L612 385.5L613 385.0L614 383.4L615 383.3L616 382.0L617 380.6L618 375.3L619 370.2L620 366.0L621 361.9L622 358.8L623 355.5L624 352.9L625 351.9L626 351.6L627 350.1L628 347.9L629 347.9L630 347.9L631 345.0L632 346.8L633 346.6L634 347.0L635 349.9L636 348.6L637 348.2L638 349.7L639 350.3L640 350.2L641 352.5L642 352.0L643 350.6L644 348.3L645 346.8L646 344.2L647 342.2L648 338.6L649 335.8L650 332.7L651 331.2L652 329.2L653 325.4L654 321.9L655 320.7L656 316.1L657 314.3L658 315.4L659 317.8L660 317.3L661 318.7L662 323.8L663 323.0L664 322.8L665 325.4L666 328.4L667 330.3L668 334.5L669 335.8L670 340.0L671 344.4L672 347.4L673 348.3L674 351.8L675 352.8L676 354.3L677 358.5L678 364.2L679 368.3L680 369.2L681 370.4L682 372.3L683 373.6L684 376.3L685 377.8L686 377.9L687 376.3L688 374.0L689 370.4L690 366.8L691 364.6L692 361.9L693 360.9L694 362.5L695 365.3L696 370.2L697 373.8L698 376.8L699 379.0L700 382.0L701 382.6L702 385.7L703 385.9L704 386.9L705 390.5L706 391.7L707 392.1L708 392.9L709 395.3L710 397.4L711 399.0L712 399.0L713 401.1L714 401.8L715 403.2L716 403.6L717 403.4L718 405.5L719 404.5L720 404.2L721 403.2L722 402.8L723 403.4L724 402.1L725 402.1L726 402.8L727 402.8L728 401.8L729 402.2L730 403.2L731 404.2L732 404.6L733 405.2L734 405.5L735 408.0L736 408.6L737 409.4L738 410.8L739 409.4L739.4 409.2L739.6 402.5L740 402.6L741 400.6L742 398.2L743 394.8L744 393.9L745 393.5L746 392.3L747 391.6L748 392.5L749 392.9L750 391.5L751 392.5L752 392.8L753 396.1L754 398.9L754.1 398.7L754.3 404.9L755 404.8L756 403.7L757 403.6L758 403.9L759 404.4L760 404.1L761 404.0L762 404.9L763 405.1L764 406.5L765 406.0L766 406.3L767 406.3L768 407.5L769 409.9L770 412.2L771 412.5L772 415.0L773 416.5L774 418.2L775 419.9L776 420.6L777 420.8L778 422.5L779 423.1L780 423.9L781 423.7L782 423.9L783 424.3L784 424.4L785 424.4L786 423.6L787 423.8L788 424.5L789 423.8L790 423.4L791 424.2L792 425.0L793 425.2L794 425.3L795 425.1L796 425.4L797 425.4L798 425.4L799 425.0L800 424.5L801 424.8L802 425.6L803 425.9L804 426.1L805 426.4L806 426.6L807 426.7L808 426.3L809 425.2L810 425.7L811 425.4L812 425.5L813 425.6L814 426.8L815 427.4L816 427.9L817 428.2L818 428.8L819 428.8L820 429.3L821 430.0L822 431.5L823 432.0L824 431.4L825 431.1L826 432.1L827 432.7L827.6 433.7L827.8 423.3L828 422.0L829 419.8L830 417.7L831 415.8L832 415.1L833 414.0L834 413.0L835 411.3L836 409.8L837 408.6L838 408.2L839 408.7L840 409.2L840.7 410.1L840.9 413.8L841 414.7L842 414.9L843 416.5L844 416.9L845 418.1L846 419.2L847 420.0L848 420.2L849 419.9L850 419.5L851 419.9L852 420.0L853 419.0L854 418.3L855 418.2L856 418.2L857 417.3L858 417.6L859 417.1L860 416.3L861 415.0L862 414.8L863 414.2L864 414.3L865 414.4L866 414.2L867 412.7L868 412.4L869 412.8L870 413.1L871 412.1L872 412.2L873 413.2L874 414.2L875 414.3L876 414.4L877 416.1L878 417.6L879 418.0L880 418.5L881 418.7L882 418.3L883 416.6L884 415.4L885 414.7L886 414.1L887 411.7L888 411.1L889 409.4L890 408.8L891 407.8L892 405.4L893 404.3L894 401.9L895 401.1L896 401.2L897 400.6L898 400.9L899 401.5L900 402.1L901 404.7L902 405.6L903 406.4L904 405.7L905 407.3L906 408.5L907 409.2L908 409.7L909 409.7L910 410.5L911 411.8L912 412.6L913 413.8L914 416.0L915 417.8L916 418.0L917 419.2L918 421.3L919 421.4L920 422.1L921 422.9L922 423.2L923 422.3L924 421.5L925 420.1L926 418.7L927 416.8L928 416.7L929 414.9L930 414.6L931 414.3L932 412.9L933 412.2L934 412.3L935 412.6L936 412.0L937 412.1L938 411.4L939 412.4L940 413.0L941 412.4L942 413.4L943 413.3L944 412.4L945 412.2L946 413.4L947 413.9L948 414.0L949 412.7L950 413.4L951 413.1L952 412.8L953 414.4L954 415.7L955 415.4L956 416.4L957 417.9L958 418.1L959 419.1L960 420.1L961 421.1L962 420.8L963 420.9L964 421.6L965 421.7L966 423.2L967 423.7L968 423.7L969 423.6L970 424.0L971 425.4L972 426.5L973 427.0L974 427.2L975 426.8L976 427.7L977 427.5L978 427.5L979 427.6L980 428.0L981 428.5L982 429.3L983 429.7L984 430.0L985 429.5L986 429.5L987 429.0L988 427.7L989 427.4L990 427.2L991 426.3L992 424.6L993 423.6L994 421.7L995 420.4L996 419.1L997 418.7L998 418.0L999 416.7L1000 414.7L1001 412.8L1002 412.0L1003 411.4L1004 410.1L1005 408.5L1006 407.1L1007 406.0L1008 405.0L1009 404.4L1010 404.8L1011 403.0L1012 402.7L1013 401.9L1014 401.4L1015 400.2L1016 400.3L1017 400.0L1018 399.4L1019 399.1L1020 397.2L1021 396.8L1022 397.1L1023 396.6L1024 394.7L1025 394.6L1026 394.9L1027 393.2L1028 392.5L1029 391.1L1030 392.0L1031 391.0L1032 389.1L1033 389.0L1034 389.5L1035 392.0L1036 392.8L1037 394.2L1038 395.8L1039 395.7L1040 397.5L1041 398.7L1042 401.1L1043 401.8L1044 403.4L1045 405.2L1046 405.6L1047 404.7L1048 405.9L1049 405.3L1050 404.6L1051 404.6L1052 403.7L1053 403.2L1054 402.3L1055 398.7L1056 393.9L1057 389.4L1058 386.3L1059 383.1L1060 379.3L1061 376.3L1062 375.4L1063 373.8L1064 372.4L1065 369.8L1066 368.8L1067 372.1L1068 375.0L1069 377.0L1070 379.6L1071 382.6L1072 386.6L1073 389.0L1074 390.0L1075 392.5L1076 395.0L1077 396.9L1078 397.5L1079 400.2L1080 401.7L1081 403.0L1082 404.1L1083 404.3L1084 404.8L1085 406.7L1086 408.3L1087 408.4L1088 409.7L1089 410.8L1090 409.9L1091 410.6L1092 410.6L1093 411.2L1094 410.8L1095 411.3L1096 412.2L1097 412.7L1098 411.7L1099 410.8L1100 409.9L1101 410.7L1102 409.9L1103 409.7L1104 409.7L1105 410.4L1106 410.4L1107 410.1L1108 409.3L1109 411.0L1110 411.4L1111 411.2L1112 411.3L1113 413.1L1114 414.2L1115 413.5L1116 413.6L1117 415.0L1118 416.5L1119 415.9L1120 416.6L1121 416.4L1122 416.9L1123 417.1L1124 417.1L1125 415.3L1125.9 414.8L1126 405.5L1127 403.0L1128 401.1L1129 401.4L1130 402.0L1131 401.9L1132 401.8L1133 402.0L1134 402.3L1135 401.9L1136 400.5L1137 399.6L1138 402.7L1139 403.8L1140 404.3L1141 406.4L1142 406.2L1143 407.8L1143.6 407.9L1143.8 418.9L1144 418.9L1145 419.9L1146 420.5L1147 420.8L1148 421.4L1149 420.9L1150 420.8L1151 420.7L1152 421.0L1153 419.9L1154 419.3L1155 419.3L1156 418.1L1157 418.0L1158 418.7L1159 419.4L1160 419.3L1161 419.3L1162 419.1L1163 418.3L1164 418.2L1165 417.9L1166 417.6L1167 418.3L1168 417.7L1169 418.1L1170 417.3L1171 416.8L1172 417.0L1173 413.5L1174 408.1L1175 404.5L1176 400.1L1177 397.9L1178 393.0L1179 387.9L1180 384.2L1181 379.3L1182 375.8L1183 371.2L1184 369.2L1185 362.7L1186 355.9L1187 356.0L1188 353.6L1189 352.7L1190 356.0L1191 353.9L1192 349.5L1193 351.3L1194 354.5L1195 358.5L1196 359.9L1197 363.4L1198 365.0L1199 367.6L1200 374.3L1201 376.1L1202 375.6L1203 380.0L1204 383.0L1205 384.3L1206 385.2L1207 384.2L1208 382.7L1209 380.0L1210 378.7L1211 374.4L1212 373.9L1213 372.3L1214 371.0L1215 371.2L1216 370.9L1217 373.1L1218 374.6L1219 374.7L1220 378.1L1221 378.7L1222 381.8L1223 386.0L1224 387.6L1225 390.0L1226 390.7L1227 393.2L1228 396.7L1229 399.1L1230 422.5L1231 458.9L1231.3 469.6L1231.7 469.6L1231.8 392.3L1232 393.0L1233 392.8L1234 391.9L1235 393.1L1236 394.1L1237 395.7L1238 397.5L1239 399.0L1240 400.6L1241 401.8L1242 404.3L1243 405.8L1244 405.9L1245 407.6L1245.6 408.3L1245.8 412.8L1246 413.7L1247 414.5L1248 414.4L1249 415.1L1250 415.2L1251 415.4L1252 415.1L1253 414.9L1254 415.1L1255 414.7L1256 415.3L1257 416.5L1258 416.1L1259 417.3L1260 417.5L1261 416.0L1262 413.4L1263 411.4L1264 410.5L1265 410.3L1266 410.2L1267 410.4L1268 409.2L1269 409.3L1270 410.4L1271 410.7L1272 411.7L1273 412.3L1274 413.6L1275 415.8L1276 416.5L1277 418.8L1278 419.8L1279 420.8L1280 422.0L1281 423.2L1282 422.9L1283 424.2L1284 424.3L1285 423.5L1286 424.3L1287 424.7L1288 424.5L1289 424.8L1290 424.6L1291 422.8L1292 421.7L1293 419.2L1294 416.6L1295 414.9L1296 411.9L1297 411.3L1298 410.3L1299 407.7L1299.5 404.7L1299.6 387.4L1300 388.0L1301 387.5L1302 387.7L1303 388.6L1304 389.2L1305 389.1L1306 390.6L1307 391.3L1308 391.2L1309 391.3L1310 391.3L1311 391.7L1312 393.0L1313 393.0L1314 406.4L1315 408.8L1316 410.5L1317 412.5L1318 413.2L1319 413.6L1320 415.7L1321 416.2L1322 418.0L1323 418.8L1324 419.5L1325 419.5L1326 419.6L1327 420.3L1328 421.5L1329 421.5L1330 421.6L1331 420.2L1332 417.4L1333 415.6L1334 413.0L1335 408.4L1336 406.8L1337 406.8L1338 405.8L1339 405.2L1340 404.6L1341 405.0L1342 404.5L1343 404.4L1344 404.7L1345 404.9L1346 403.9L1347 404.5L1348 406.9L1349 411.3L1350 412.0L1351 411.9L1352 410.1L1353 410.0L1354 410.1L1355 410.5L1356 410.9L1357 410.2L1358 411.4L1359 412.8L1360 414.2L1361 416.8L1362 417.9L1363 419.5L1364 420.6L1365 421.9L1366 423.4L1367 426.0L1368 427.0L1369 428.4L1370 430.2L1371 432.3L1372 433.1L1373 433.7L1374 434.1L1375 433.5L1376 433.5L1377 433.9V472.3Z" fill="#5fcb4a"/>
<path d="M190 472.3V471.6L191 470.4L192 470.4L193 470.4L194 470.4L195 470.4L196 470.4L197 470.3L198 470.3L199 470.2L200 470.2L201 470.2L202 470.2L203 470.2L204 470.2L205 470.2L206 470.2L207 470.2L208 470.2L209 470.2L210 470.2L211 470.2L212 470.2L213 470.2L214 470.2L215 470.2L216 470.2L217 470.0L218 469.9L219 469.8L220 469.7L221 469.6L222 469.5L223 469.4L224 469.3L225 469.3L226 469.3L227 469.2L228 469.2L229 469.2L230 469.1L231 469.2L232 469.2L233 469.2L234 469.2L235 469.2L236 469.2L237 469.2L238 469.2L239 469.3L240 469.3L241 469.3L242 469.3L243 469.3L244 469.4L245 469.4L246 469.4L247 469.4L248 469.4L249 469.4L250 469.4L251 469.4L252 469.4L253 469.4L254 469.4L255 469.4L256 469.3L257 469.3L258 469.3L259 469.3L260 469.3L261 469.3L262 469.3L263 469.3L264 469.4L265 469.5L266 469.5L267 469.5L268 469.6L269 469.6L270 469.6L271 469.7L272 469.7L273 469.8L274 469.8L275 469.9L276 470.0L277 470.0L278 470.1L279 470.2L280 470.2L281 470.2L282 470.3L283 470.3L284 470.3L285 470.3L286 470.4L287 470.4L288 470.4L289 470.4L290 470.5L291 470.5L292 470.5L293 470.5L294 470.5L295 470.5L296 470.5L297 470.5L298 470.5L299 470.6L300 470.6L301 470.6L302 470.6L303 470.6L304 470.6L305 470.6L306 470.6L307 470.6L308 470.6L309 470.6L310 470.5L311 470.5L312 470.5L313 470.4L314 470.4L315 470.4L316 470.3L317 470.3L318 470.3L319 470.2L320 470.2L321 470.2L322 470.2L323 470.2L324 470.2L325 470.2L326 470.2L327 470.2L327.6 470.2L328 470.4L329 470.4L330 470.4L331 470.4L332 470.4L333 470.4L334 470.5L335 470.5L336 470.5L337 470.5L338 470.5L339 470.5L340 470.5L341 470.5L342 470.4L343 469.6L344 469.5L345 469.4L346 469.4L347 469.3L348 469.2L349 469.1L350 469.1L351 469.0L352 468.9L353 468.9L354 468.7L355 468.6L356 468.5L357 468.5L358 468.5L359 468.5L360 468.4L361 468.4L362 468.5L363 468.5L364 468.5L365 468.5L366 468.5L367 468.5L368 468.5L369 468.5L370 468.5L371 468.5L372 468.4L373 468.4L374 468.4L375 468.3L376 468.3L377 468.3L378 468.3L379 468.3L380 468.3L381 468.3L382 468.3L383 468.2L384 468.0L385 467.8L386 467.6L387 467.5L388 467.3L389 467.1L390 466.7L391 466.3L392 465.9L393 465.6L394 465.4L395 465.3L396 465.1L397 464.9L398 464.8L399 464.8L400 464.8L401 464.9L402 464.9L403 465.0L404 465.1L405 465.5L406 465.7L407 465.8L408 466.1L409 466.4L410 466.5L411 466.7L412 466.8L413 466.9L414 466.9L415 467.0L416 467.0L417 466.9L418 466.9L419 467.0L420 467.0L421 467.1L422 467.1L423 467.2L424 467.3L425 467.4L426 467.5L427 467.5L428 467.5L429 467.5L430 467.6L431 467.6L432 467.6L433 467.6L434 467.7L435 467.7L436 467.6L437 467.6L438 467.5L439 467.5L440 467.5L441 467.6L442 467.6L443 467.6L444 467.7L445 467.7L446 467.7L447 467.7L448 467.6L449 467.6L450 467.5L451 467.5L452 467.5L453 467.5L454 467.6L455 467.7L456 467.7L457 467.8L458 467.9L459 467.9L460 468.0L461 468.1L462 468.2L463 468.3L464 468.4L465 468.4L466 468.4L467 468.4L468 468.4L469 468.6L470 468.7L471 468.7L472 468.7L473 468.8L474 468.8L475 468.8L476 468.9L477 468.9L478 468.9L479 468.9L480 469.0L481 468.9L482 468.8L483 468.8L484 468.7L485 468.5L486 468.3L487 468.1L488 467.9L489 467.8L490 467.6L491 467.4L492 467.3L493 467.1L494 466.9L495 466.9L496 466.8L497 466.8L498 466.8L499 466.7L500 466.4L501 466.3L502 466.0L503 465.7L504 465.3L505 464.7L506 464.0L507 463.2L508 462.5L509 461.6L510 460.7L511 459.6L512 458.2L513 456.4L514 454.7L515 453.3L516 451.2L517 449.8L518 448.4L519 447.3L520 445.9L521 444.5L522 442.5L523 441.1L524 439.7L525 437.9L526 435.4L527 433.2L528 431.7L529 429.9L530 426.8L531 424.5L532 422.0L533 421.4L534 421.0L535 419.3L536 419.0L537 419.5L538 418.3L539 418.2L540 418.2L541 419.2L542 418.3L543 418.9L544 418.0L545 418.1L546 418.4L547 417.5L548 415.8L549 415.7L550 415.5L551 414.3L552 413.9L553 413.3L554 412.0L555 410.9L556 409.5L557 408.0L558 406.7L559 405.0L560 405.1L561 404.6L562 404.4L563 403.1L564 403.0L564.4 402.8L564.5 327.3L565 323.0L566 317.5L567 314.3L568 310.0L569 301.1L570 298.9L571 292.1L572 290.0L573 287.6L574 284.6L575 285.2L576 285.0L577 284.7L578 285.2L579 291.7L580 294.3L581 298.3L582 304.9L583 313.4L584 320.3L585 329.5L586 337.5L587 341.3L588 340.0L589 346.3L590 354.6L591 361.2L592 364.2L593 366.0L594 369.1L595 373.8L596 377.2L597 379.6L598 381.1L599 383.7L600 384.9L601 386.5L602 386.0L603 386.4L604 388.4L605 390.4L606 388.9L607 389.6L608 389.7L609 390.0L610 388.3L611 386.7L612 385.5L613 385.0L614 383.4L615 383.3L616 382.0L617 380.6L618 375.3L619 370.2L620 366.0L621 361.9L622 358.8L623 355.5L624 352.9L625 351.9L626 351.6L627 350.1L628 347.9L629 347.9L630 347.9L631 345.0L632 346.8L633 346.6L634 347.0L635 349.9L636 348.6L637 348.2L638 349.7L639 350.3L640 350.2L641 352.5L642 352.0L643 350.6L644 348.3L645 346.8L646 344.2L647 342.2L648 338.6L649 335.8L650 332.7L651 331.2L652 329.2L653 325.4L654 321.9L655 320.7L656 316.1L657 314.3L658 315.4L659 317.8L660 317.3L661 318.7L662 323.8L663 323.0L664 322.8L665 325.4L666 328.4L667 330.3L668 334.5L669 335.8L670 340.0L671 344.4L672 347.4L673 348.3L674 351.8L675 352.8L676 354.3L677 358.5L678 364.2L679 368.3L680 369.2L681 370.4L682 372.3L683 373.6L684 376.3L685 377.8L686 377.9L687 376.3L688 374.0L689 370.4L690 366.8L691 364.6L692 361.9L693 360.9L694 362.5L695 365.3L696 370.2L697 373.8L698 376.8L699 379.0L700 382.0L701 382.6L702 385.7L703 385.9L704 386.9L705 390.5L706 391.7L707 392.1L708 392.9L709 395.3L710 397.4L711 399.0L712 399.0L713 401.1L714 401.8L715 403.2L716 403.6L717 403.4L718 405.5L719 404.5L720 404.2L721 403.2L722 402.9L723 403.6L724 402.3L725 402.4L726 403.2L727 403.3L728 402.4L729 402.8L730 403.9L731 405.0L732 405.4L733 406.0L734 406.4L735 409.0L736 409.7L737 410.5L738 411.9L739 410.6L739.4 410.4L739.6 403.9L740 404.0L741 402.1L742 399.8L743 396.5L744 395.8L745 395.4L746 394.3L747 393.7L748 394.6L749 394.9L750 393.5L751 394.4L752 394.7L753 397.9L754 400.7L754.1 400.4L754.3 406.4L755 406.3L756 405.2L757 405.1L758 405.4L759 405.8L760 405.5L761 405.4L762 406.2L763 406.4L764 407.8L765 407.2L766 407.5L767 407.4L768 408.7L769 410.9L770 413.1L771 413.5L772 415.8L773 417.3L774 418.9L775 420.6L776 421.2L777 421.4L778 423.1L779 423.6L780 424.4L781 424.2L782 424.3L783 424.7L784 424.8L785 424.7L786 423.8L787 424.1L788 424.7L789 424.0L790 423.6L791 424.3L792 425.0L793 425.2L794 425.4L795 425.2L796 425.6L797 425.6L798 425.6L799 425.3L800 424.9L801 425.2L802 426.0L803 426.5L804 426.6L805 427.0L806 427.2L807 427.4L808 427.1L809 426.0L810 426.6L811 426.3L812 426.5L813 426.6L814 427.8L815 428.5L816 428.9L817 429.3L818 429.9L819 429.9L820 430.5L821 431.2L822 432.7L823 433.2L824 432.7L825 432.5L826 433.4L827 434.1L827.6 435.0L827.8 424.9L828 423.7L829 421.6L830 419.7L831 417.8L832 417.2L833 416.2L834 415.3L835 413.7L836 412.3L837 411.2L838 410.9L839 411.4L840 411.9L840.7 412.8L840.9 416.4L841 417.3L842 417.5L843 419.1L844 419.5L845 420.7L846 421.8L847 422.6L848 422.8L849 422.6L850 422.2L851 422.7L852 422.8L853 421.9L854 421.3L855 421.3L856 421.3L857 420.5L858 420.9L859 420.4L860 419.7L861 418.6L862 418.5L863 417.9L864 418.0L865 418.2L866 418.2L867 417.0L868 416.9L869 417.5L870 418.0L871 417.3L872 417.5L873 418.6L874 419.7L875 419.9L876 420.2L877 421.9L878 423.4L879 424.0L880 424.6L881 424.9L882 424.7L883 423.4L884 422.4L885 422.0L886 421.6L887 419.7L888 419.4L889 418.0L890 417.7L891 417.0L892 415.0L893 414.3L894 412.4L895 411.9L896 412.2L897 411.8L898 412.0L899 412.5L900 412.9L901 415.0L902 415.7L903 416.3L904 415.6L905 416.8L906 417.8L907 418.3L908 418.7L909 418.6L910 419.2L911 420.3L912 420.8L913 421.7L914 423.6L915 425.1L916 425.2L917 426.1L918 427.9L919 427.9L920 428.4L921 429.0L922 429.2L923 428.4L924 427.6L925 426.3L926 425.0L927 423.2L928 423.0L929 421.3L930 420.9L931 420.6L932 419.3L933 418.5L934 418.5L935 418.7L936 418.0L937 418.0L938 417.2L939 418.1L940 418.4L941 417.8L942 418.6L943 418.4L944 417.4L945 417.2L946 418.1L947 418.4L948 418.4L949 417.1L950 417.6L951 417.2L952 416.7L953 418.1L954 419.1L955 418.7L956 419.5L957 420.8L958 420.8L959 421.6L960 422.4L961 423.2L962 422.8L963 422.7L964 423.2L965 423.2L966 424.5L967 424.8L968 424.7L969 424.4L970 424.6L971 425.8L972 426.7L973 427.0L974 427.2L975 426.8L976 427.7L977 427.5L978 427.5L979 427.6L980 428.0L981 428.5L982 429.3L983 429.7L984 430.0L985 429.6L986 429.7L987 429.4L988 428.2L989 428.1L990 428.1L991 427.4L992 425.8L993 425.0L994 423.3L995 422.2L996 421.0L997 420.8L998 420.3L999 419.2L1000 417.4L1001 415.7L1002 415.1L1003 414.6L1004 413.5L1005 412.2L1006 411.0L1007 410.1L1008 409.3L1009 408.9L1010 409.3L1011 407.8L1012 407.7L1013 407.0L1014 406.7L1015 405.7L1016 405.9L1017 405.7L1018 405.3L1019 405.1L1020 403.5L1021 403.2L1022 403.6L1023 403.2L1024 401.6L1025 401.6L1026 402.0L1027 400.6L1028 400.0L1029 398.8L1030 399.7L1031 399.0L1032 397.4L1033 397.1L1034 397.2L1035 399.2L1036 399.6L1037 400.7L1038 401.8L1039 401.5L1040 403.0L1041 403.8L1042 405.8L1043 406.2L1044 407.6L1045 409.1L1046 409.2L1047 408.1L1048 409.1L1049 408.3L1050 407.5L1051 407.2L1052 406.2L1053 405.5L1054 404.5L1055 400.8L1056 395.9L1057 391.3L1058 388.0L1059 384.6L1060 380.7L1061 377.5L1062 376.4L1063 374.5L1064 372.8L1065 370.0L1066 368.8L1067 372.1L1068 375.0L1069 377.0L1070 379.6L1071 382.6L1072 386.6L1073 389.0L1074 390.0L1075 392.5L1076 395.0L1077 396.9L1078 397.5L1079 400.2L1080 401.7L1081 403.0L1082 404.1L1083 404.3L1084 404.8L1085 406.7L1086 408.3L1087 408.4L1088 409.7L1089 410.8L1090 409.9L1091 410.6L1092 410.6L1093 411.2L1094 410.8L1095 411.3L1096 412.2L1097 412.7L1098 411.7L1099 410.8L1100 409.9L1101 410.7L1102 409.9L1103 409.7L1104 409.7L1105 410.4L1106 410.4L1107 410.1L1108 409.3L1109 411.0L1110 411.4L1111 411.2L1112 411.3L1113 413.1L1114 414.2L1115 413.5L1116 413.6L1117 415.0L1118 416.5L1119 415.9L1120 416.6L1121 416.4L1122 416.9L1123 417.1L1124 417.1L1125 415.3L1125.9 414.8L1126 414.9L1127 413.1L1128 411.9L1129 412.4L1130 413.3L1131 413.5L1132 413.7L1133 414.2L1134 414.4L1135 414.1L1136 412.9L1137 412.2L1138 414.7L1139 415.6L1140 416.0L1141 417.7L1142 417.5L1143 418.9L1143.6 418.9L1143.8 418.9L1144 418.9L1145 419.9L1146 420.5L1147 420.8L1148 421.4L1149 420.9L1150 420.8L1151 420.7L1152 421.0L1153 419.9L1154 419.3L1155 419.3L1156 418.1L1157 418.0L1158 418.7L1159 419.4L1160 419.3L1161 419.3L1162 419.1L1163 418.3L1164 418.2L1165 417.9L1166 417.6L1167 418.3L1168 417.7L1169 418.1L1170 417.3L1171 416.8L1172 417.0L1173 413.5L1174 408.1L1175 404.5L1176 400.1L1177 397.9L1178 393.0L1179 387.9L1180 384.2L1181 379.3L1182 375.8L1183 371.2L1184 369.2L1185 362.7L1186 355.9L1187 356.0L1188 353.6L1189 352.7L1190 356.0L1191 353.9L1192 349.5L1193 351.3L1194 354.5L1195 358.5L1196 359.9L1197 363.4L1198 365.0L1199 367.6L1200 374.3L1201 376.1L1202 375.6L1203 380.0L1204 383.0L1205 384.3L1206 385.2L1207 384.2L1208 382.7L1209 380.0L1210 378.7L1211 374.4L1212 373.9L1213 372.3L1214 371.0L1215 371.2L1216 370.9L1217 373.1L1218 374.6L1219 374.7L1220 378.1L1221 378.7L1222 381.8L1223 386.0L1224 387.6L1225 390.0L1226 390.7L1227 393.2L1228 396.7L1229 399.1L1230 422.5L1231 458.9L1231.3 469.6L1231.7 469.6L1231.8 392.3L1232 393.0L1233 392.8L1234 391.9L1235 393.1L1236 394.1L1237 395.7L1238 397.5L1239 399.0L1240 400.6L1241 401.8L1242 404.3L1243 405.8L1244 405.9L1245 407.6L1245.6 408.3L1245.8 412.8L1246 413.7L1247 414.5L1248 414.4L1249 415.1L1250 415.2L1251 415.4L1252 415.1L1253 414.9L1254 415.1L1255 414.7L1256 415.3L1257 416.5L1258 416.1L1259 417.3L1260 417.5L1261 416.0L1262 413.4L1263 411.4L1264 410.5L1265 410.3L1266 410.2L1267 410.4L1268 409.2L1269 409.3L1270 410.4L1271 410.7L1272 411.7L1273 412.3L1274 413.6L1275 415.8L1276 416.5L1277 418.8L1278 419.8L1279 420.8L1280 422.0L1281 423.2L1282 422.9L1283 424.2L1284 424.3L1285 423.5L1286 424.3L1287 424.7L1288 424.5L1289 424.8L1290 424.6L1291 422.8L1292 421.7L1293 419.2L1294 416.6L1295 414.9L1296 411.9L1297 411.3L1298 410.3L1299 407.7L1299.5 404.7L1299.6 387.4L1300 388.0L1301 387.5L1302 387.7L1303 388.6L1304 389.2L1305 389.1L1306 390.6L1307 391.3L1308 391.2L1309 391.3L1310 391.3L1311 391.7L1312 393.0L1313 393.0L1314 406.4L1315 408.8L1316 410.5L1317 412.5L1318 413.2L1319 413.6L1320 415.7L1321 416.2L1322 418.0L1323 418.8L1324 419.5L1325 419.5L1326 419.6L1327 420.3L1328 421.5L1329 421.5L1330 421.6L1331 420.2L1332 417.4L1333 415.6L1334 413.0L1335 408.4L1336 406.8L1337 406.8L1338 405.8L1339 405.2L1340 404.6L1341 405.0L1342 404.5L1343 404.4L1344 404.7L1345 404.9L1346 403.9L1347 404.5L1348 406.9L1349 411.3L1350 412.0L1351 411.9L1352 410.1L1353 410.0L1354 410.1L1355 410.5L1356 410.9L1357 410.2L1358 411.4L1359 412.8L1360 414.2L1361 416.8L1362 417.9L1363 419.5L1364 420.6L1365 421.9L1366 423.4L1367 426.0L1368 427.0L1369 428.4L1370 430.2L1371 432.3L1372 433.1L1373 433.7L1374 434.1L1375 433.5L1376 433.5L1377 433.9V472.3Z" fill="#c223a2"/>
<path d="M190 472.3V471.6L191 470.4L192 470.4L193 470.4L194 470.4L195 470.4L196 470.4L197 470.3L198 470.3L199 470.2L200 470.2L201 470.2L202 470.2L203 470.2L204 470.2L205 470.2L206 470.2L207 470.2L208 470.2L209 470.2L210 470.2L211 470.2L212 470.2L213 470.2L214 470.2L215 470.2L216 470.2L217 470.0L218 469.9L219 469.8L220 469.7L221 469.6L222 469.5L223 469.4L224 469.3L225 469.3L226 469.3L227 469.2L228 469.2L229 469.2L230 469.1L231 469.2L232 469.2L233 469.2L234 469.2L235 469.2L236 469.2L237 469.2L238 469.2L239 469.3L240 469.3L241 469.3L242 469.3L243 469.3L244 469.4L245 469.4L246 469.4L247 469.4L248 469.4L249 469.4L250 469.4L251 469.4L252 469.4L253 469.4L254 469.4L255 469.4L256 469.3L257 469.3L258 469.3L259 469.3L260 469.3L261 469.3L262 469.3L263 469.3L264 469.4L265 469.5L266 469.5L267 469.5L268 469.6L269 469.6L270 469.6L271 469.7L272 469.7L273 469.8L274 469.8L275 469.9L276 470.0L277 470.0L278 470.1L279 470.2L280 470.2L281 470.2L282 470.3L283 470.3L284 470.3L285 470.3L286 470.4L287 470.4L288 470.4L289 470.4L290 470.5L291 470.5L292 470.5L293 470.5L294 470.5L295 470.5L296 470.5L297 470.5L298 470.5L299 470.6L300 470.6L301 470.6L302 470.6L303 470.6L304 470.6L305 470.6L306 470.6L307 470.6L308 470.6L309 470.6L310 470.5L311 470.5L312 470.5L313 470.4L314 470.4L315 470.4L316 470.3L317 470.3L318 470.3L319 470.2L320 470.2L321 470.2L322 470.2L323 470.2L324 470.2L325 470.2L326 470.2L327 470.2L327.6 470.2L328 470.4L329 470.4L330 470.4L331 470.4L332 470.4L333 470.4L334 470.5L335 470.5L336 470.5L337 470.5L338 470.5L339 470.5L340 470.5L341 470.5L342 470.4L343 469.6L344 469.5L345 469.4L346 469.4L347 469.3L348 469.2L349 469.1L350 469.1L351 469.0L352 468.9L353 468.9L354 468.7L355 468.6L356 468.5L357 468.5L358 468.5L359 468.5L360 468.4L361 468.4L362 468.5L363 468.5L364 468.5L365 468.5L366 468.5L367 468.5L368 468.5L369 468.5L370 468.5L371 468.5L372 468.4L373 468.4L374 468.4L375 468.3L376 468.3L377 468.3L378 468.3L379 468.3L380 468.3L381 468.3L382 468.3L383 468.2L384 468.0L385 467.8L386 467.6L387 467.5L388 467.3L389 467.1L390 466.7L391 466.3L392 465.9L393 465.6L394 465.4L395 465.3L396 465.1L397 464.9L398 464.8L399 464.8L400 464.8L401 464.9L402 464.9L403 465.0L404 465.1L405 465.5L406 465.7L407 465.8L408 466.1L409 466.4L410 466.5L411 466.7L412 466.8L413 466.9L414 466.9L415 467.0L416 467.0L417 466.9L418 466.9L419 467.0L420 467.0L421 467.1L422 467.1L423 467.2L424 467.3L425 467.4L426 467.5L427 467.5L428 467.5L429 467.5L430 467.6L431 467.6L432 467.6L433 467.6L434 467.7L435 467.7L436 467.6L437 467.6L438 467.5L439 467.5L440 467.5L441 467.6L442 467.6L443 467.6L444 467.7L445 467.7L446 467.7L447 467.7L448 467.6L449 467.6L450 467.5L451 467.5L452 467.5L453 467.5L454 467.6L455 467.7L456 467.7L457 467.8L458 467.9L459 467.9L460 468.0L461 468.1L462 468.2L463 468.3L464 468.4L465 468.4L466 468.4L467 468.4L468 468.4L469 468.6L470 468.7L471 468.7L472 468.7L473 468.8L474 468.8L475 468.8L476 468.9L477 468.9L478 468.9L479 468.9L480 469.0L481 468.9L482 468.8L483 468.8L484 468.7L485 468.5L486 468.3L487 468.1L488 467.9L489 467.8L490 467.6L491 467.4L492 467.3L493 467.1L494 466.9L495 466.9L496 466.8L497 466.8L498 466.8L499 466.7L500 466.4L501 466.3L502 466.0L503 465.7L504 465.3L505 464.7L506 464.0L507 463.2L508 462.5L509 461.6L510 460.7L511 459.6L512 458.2L513 456.4L514 454.7L515 453.3L516 451.2L517 449.8L518 448.4L519 447.3L520 446.0L521 444.7L522 442.8L523 441.5L524 440.2L525 438.5L526 436.1L527 434.0L528 432.6L529 431.0L530 428.0L531 425.8L532 423.4L533 423.0L534 422.6L535 421.0L536 420.7L537 421.3L538 420.2L539 420.2L540 420.2L541 421.5L542 421.3L543 422.5L544 422.2L545 422.8L546 423.6L547 423.4L548 422.5L549 422.9L550 423.2L551 422.8L552 422.9L553 422.9L554 422.4L555 422.0L556 421.3L557 420.6L558 420.1L559 419.2L560 419.8L561 419.9L562 420.2L563 419.7L564 420.1L564.4 420.1L564.5 337.1L565 334.1L566 330.9L567 329.8L568 327.7L569 320.9L570 320.0L571 314.8L572 313.0L573 311.0L574 308.5L575 309.1L576 309.1L577 308.7L578 309.0L579 314.6L580 316.7L581 321.3L582 328.8L583 338.0L584 343.9L585 350.0L586 355.0L587 356.5L588 353.4L589 358.6L590 366.0L591 371.9L592 374.6L593 376.1L594 378.9L595 383.0L596 386.1L597 388.2L598 389.5L599 391.7L600 392.9L601 394.7L602 394.5L603 395.2L604 397.3L605 399.4L606 398.0L607 398.5L608 398.6L609 398.7L610 397.2L611 395.7L612 394.5L613 394.1L614 392.6L615 392.4L616 391.3L617 389.9L618 385.2L619 380.5L620 376.7L621 372.9L622 370.1L623 367.0L624 364.6L625 363.7L626 363.3L627 361.9L628 360.0L629 359.9L630 359.8L631 357.2L632 358.9L633 358.8L634 359.1L635 361.8L636 360.7L637 360.4L638 361.8L639 362.4L640 362.3L641 364.4L642 364.3L643 363.7L644 362.2L645 361.4L646 359.8L647 358.6L648 355.9L649 354.0L650 351.9L651 351.1L652 349.9L653 347.2L654 344.7L655 344.2L656 340.8L657 339.7L658 340.5L659 342.3L660 341.7L661 342.6L662 346.8L663 345.9L664 345.5L665 347.5L666 349.8L667 351.1L668 354.5L669 355.4L670 358.7L671 362.3L672 364.7L673 365.2L674 367.9L675 368.6L676 369.6L677 373.0L678 377.7L679 381.0L680 381.6L681 382.4L682 383.7L683 384.6L684 386.7L685 387.7L686 388.2L687 387.2L688 385.6L689 382.8L690 380.1L691 378.6L692 376.6L693 376.2L694 377.7L695 380.1L696 384.5L697 387.7L698 390.3L699 392.3L700 395.0L701 395.6L702 398.3L703 398.6L704 399.6L705 402.7L706 403.9L707 404.3L708 405.1L709 407.2L710 409.1L711 410.6L712 410.7L713 412.6L714 413.3L715 414.6L716 415.1L717 415.0L718 416.9L719 416.2L720 416.1L721 415.4L722 415.2L723 415.6L724 414.4L725 414.3L726 414.8L727 414.7L728 413.8L729 414.0L730 414.8L731 415.6L732 415.8L733 416.2L734 416.4L735 418.5L736 418.9L737 419.5L738 420.5L739 419.3L739.4 419.1L739.6 413.5L740 413.6L741 411.7L742 409.6L743 406.7L744 405.9L745 405.4L746 404.3L747 403.7L748 404.5L749 404.8L750 403.6L751 404.4L752 404.7L753 407.5L754 409.9L754.1 409.6L754.3 414.9L755 414.8L756 413.9L757 413.8L758 414.0L759 414.5L760 414.2L761 414.1L762 414.9L763 415.0L764 416.2L765 415.7L766 416.0L767 416.0L768 417.0L769 419.0L770 421.0L771 421.3L772 423.3L773 424.6L774 426.0L775 427.5L776 428.1L777 428.3L778 429.7L779 430.2L780 430.8L781 430.7L782 430.8L783 431.2L784 431.3L785 431.3L786 430.5L787 430.7L788 431.3L789 430.6L790 430.3L791 431.0L792 431.6L793 431.8L794 432.0L795 432.0L796 432.3L797 432.5L798 432.6L799 432.4L800 432.1L801 432.4L802 433.2L803 433.6L804 433.8L805 434.2L806 434.4L807 434.7L808 434.5L809 433.6L810 434.2L811 434.0L812 434.2L813 434.4L814 435.4L815 436.0L816 436.5L817 436.9L818 437.4L819 437.5L820 438.0L821 438.6L822 439.9L823 440.4L824 440.0L825 439.9L826 440.7L827 441.3L827.6 442.0L827.8 433.9L828 432.9L829 431.3L830 429.8L831 428.3L832 427.9L833 427.2L834 426.5L835 425.3L836 424.3L837 423.4L838 423.2L839 423.7L840 424.1L840.7 424.9L840.9 427.7L841 428.4L842 428.7L843 429.9L844 430.3L845 431.3L846 432.1L847 432.8L848 433.0L849 432.9L850 432.6L851 433.0L852 433.1L853 432.4L854 431.9L855 431.9L856 432.0L857 431.4L858 431.7L859 431.4L860 430.8L861 430.0L862 429.9L863 429.5L864 429.6L865 429.8L866 429.7L867 428.8L868 428.7L869 429.1L870 429.5L871 428.9L872 429.1L873 429.9L874 430.8L875 431.0L876 431.2L877 432.5L878 433.7L879 434.1L880 434.6L881 434.8L882 434.6L883 433.6L884 432.8L885 432.5L886 432.1L887 430.6L888 430.3L889 429.2L890 429.0L891 428.4L892 426.8L893 426.3L894 424.7L895 424.3L896 424.5L897 424.2L898 424.4L899 424.8L900 425.2L901 426.9L902 427.4L903 427.9L904 427.4L905 428.4L906 429.2L907 429.6L908 429.9L909 429.9L910 430.4L911 431.3L912 431.7L913 432.5L914 434.0L915 435.1L916 435.2L917 436.0L918 437.5L919 437.5L920 437.9L921 438.4L922 438.6L923 437.9L924 437.3L925 436.3L926 435.3L927 434.0L928 433.9L929 432.5L930 432.3L931 432.0L932 431.1L933 430.5L934 430.5L935 430.7L936 430.2L937 430.2L938 429.7L939 430.4L940 430.6L941 430.1L942 430.7L943 430.5L944 429.7L945 429.5L946 430.2L947 430.4L948 430.4L949 429.3L950 429.7L951 429.3L952 429.0L953 430.0L954 430.7L955 430.4L956 431.0L957 432.0L958 432.0L959 432.6L960 433.1L961 433.8L962 433.4L963 433.3L964 433.7L965 433.6L966 434.6L967 434.9L968 434.7L969 434.4L970 434.6L971 435.6L972 436.2L973 436.5L974 436.6L975 436.4L976 437.3L977 437.2L978 437.3L979 437.5L980 437.9L981 438.4L982 439.1L983 439.6L984 439.9L985 439.5L986 439.5L987 439.0L988 438.0L989 437.7L990 437.5L991 436.8L992 435.4L993 434.5L994 433.0L995 432.0L996 430.9L997 430.5L998 429.9L999 428.9L1000 427.2L1001 425.7L1002 425.0L1003 424.5L1004 423.4L1005 422.1L1006 421.0L1007 420.1L1008 419.2L1009 418.7L1010 418.9L1011 417.5L1012 417.2L1013 416.5L1014 416.1L1015 415.1L1016 415.2L1017 414.8L1018 414.4L1019 414.1L1020 412.5L1021 412.2L1022 412.3L1023 411.9L1024 410.3L1025 410.3L1026 410.5L1027 409.1L1028 408.5L1029 407.3L1030 408.0L1031 407.2L1032 405.6L1033 405.5L1034 405.7L1035 407.7L1036 408.2L1037 409.2L1038 410.4L1039 410.2L1040 411.6L1041 412.5L1042 414.4L1043 414.8L1044 416.1L1045 417.5L1046 417.7L1047 416.9L1048 417.8L1049 417.2L1050 416.6L1051 416.5L1052 415.7L1053 415.2L1054 414.4L1055 411.4L1056 407.3L1057 403.4L1058 400.8L1059 398.0L1060 394.8L1061 392.2L1062 391.4L1063 389.9L1064 388.6L1065 386.4L1066 385.5L1067 388.2L1068 390.6L1069 392.3L1070 394.5L1071 397.0L1072 400.3L1073 402.3L1074 403.1L1075 405.2L1076 407.3L1077 408.9L1078 409.3L1079 411.6L1080 412.8L1081 413.9L1082 414.8L1083 415.0L1084 415.4L1085 417.0L1086 418.3L1087 418.3L1088 419.5L1089 420.4L1090 419.5L1091 420.1L1092 420.1L1093 420.6L1094 420.2L1095 420.6L1096 421.3L1097 421.8L1098 420.9L1099 420.1L1100 419.3L1101 420.0L1102 419.3L1103 419.1L1104 419.1L1105 419.7L1106 419.8L1107 419.5L1108 418.9L1109 420.3L1110 420.7L1111 420.6L1112 420.8L1113 422.3L1114 423.3L1115 422.7L1116 422.9L1117 424.0L1118 425.3L1119 424.9L1120 425.5L1121 425.4L1122 425.9L1123 426.0L1124 426.1L1125 424.6L1125.9 424.2L1126 424.4L1127 422.8L1128 421.8L1129 422.3L1130 423.0L1131 423.2L1132 423.4L1133 423.8L1134 424.0L1135 423.7L1136 422.8L1137 422.2L1138 424.3L1139 425.1L1140 425.5L1141 426.8L1142 426.7L1143 427.9L1143.6 427.9L1143.8 427.9L1144 427.9L1145 428.9L1146 429.5L1147 429.9L1148 430.4L1149 430.1L1150 430.2L1151 430.2L1152 430.6L1153 429.8L1154 429.4L1155 429.5L1156 428.7L1157 428.7L1158 429.3L1159 430.1L1160 430.1L1161 429.9L1162 429.6L1163 428.8L1164 428.6L1165 428.2L1166 427.9L1167 428.3L1168 427.7L1169 428.0L1170 427.2L1171 426.7L1172 426.8L1173 423.8L1174 419.3L1175 416.2L1176 412.5L1177 410.6L1178 406.4L1179 402.1L1180 399.0L1181 394.8L1182 391.7L1183 387.8L1184 386.0L1185 380.5L1186 374.7L1187 374.7L1188 372.6L1189 371.8L1190 374.5L1191 372.9L1192 369.3L1193 371.0L1194 373.9L1195 377.4L1196 378.7L1197 381.8L1198 383.3L1199 385.6L1200 391.3L1201 393.0L1202 392.7L1203 396.5L1204 399.1L1205 400.3L1206 401.2L1207 400.5L1208 399.5L1209 397.5L1210 396.5L1211 393.3L1212 393.0L1213 391.9L1214 391.1L1215 391.5L1216 391.2L1217 393.0L1218 394.2L1219 394.2L1220 396.9L1221 397.4L1222 399.8L1223 403.2L1224 404.5L1225 406.4L1226 407.0L1227 409.0L1228 411.7L1229 413.7L1230 432.4L1231 461.6L1231.3 470.2L1231.7 470.2L1231.8 408.2L1232 408.7L1233 408.6L1234 407.9L1235 408.8L1236 409.6L1237 410.9L1238 412.3L1239 413.5L1240 414.8L1241 415.7L1242 417.7L1243 419.0L1244 419.0L1245 420.3L1245.6 420.9L1245.8 424.5L1246 425.2L1247 425.9L1248 425.8L1249 426.3L1250 426.4L1251 426.6L1252 426.3L1253 426.1L1254 426.3L1255 426.0L1256 426.5L1257 427.4L1258 427.0L1259 428.0L1260 428.2L1261 426.9L1262 424.9L1263 423.2L1264 422.5L1265 422.3L1266 422.2L1267 422.4L1268 421.4L1269 421.4L1270 422.3L1271 422.6L1272 423.4L1273 423.8L1274 424.9L1275 426.7L1276 427.2L1277 429.1L1278 430.0L1279 430.7L1280 431.7L1281 432.7L1282 432.5L1283 433.5L1284 433.5L1285 432.9L1286 433.6L1287 433.9L1288 433.7L1289 434.0L1290 433.8L1291 432.3L1292 431.5L1293 429.4L1294 427.4L1295 426.0L1296 423.6L1297 423.1L1298 422.3L1299 420.2L1299.5 417.7L1299.6 399.8L1300 400.3L1301 399.7L1302 399.8L1303 400.3L1304 400.7L1305 400.5L1306 401.8L1307 402.3L1308 402.1L1309 402.2L1310 402.1L1311 402.5L1312 403.6L1313 403.5L1314 416.5L1315 418.7L1316 420.0L1317 421.7L1318 422.3L1319 422.6L1320 424.3L1321 424.7L1322 426.2L1323 426.9L1324 427.4L1325 427.4L1326 427.4L1327 428.0L1328 429.0L1329 429.0L1330 429.0L1331 427.8L1332 425.4L1333 423.9L1334 421.6L1335 417.6L1336 416.2L1337 416.2L1338 415.3L1339 414.7L1340 414.2L1341 414.5L1342 414.0L1343 413.8L1344 414.1L1345 414.2L1346 413.3L1347 413.7L1348 415.8L1349 419.6L1350 420.1L1351 419.9L1352 418.3L1353 418.2L1354 418.2L1355 418.6L1356 418.8L1357 418.1L1358 419.1L1359 420.3L1360 421.5L1361 423.7L1362 424.6L1363 425.9L1364 426.8L1365 427.9L1366 429.2L1367 431.4L1368 432.2L1369 433.4L1370 434.9L1371 436.7L1372 437.3L1373 437.8L1374 438.1L1375 437.5L1376 437.4L1377 437.8V472.3Z" fill="#9ede8b"/>
<path d="M190 472.3V471.6L191 470.4L192 470.4L193 470.4L194 470.4L195 470.4L196 470.4L197 470.3L198 470.3L199 470.2L200 470.2L201 470.2L202 470.2L203 470.2L204 470.2L205 470.2L206 470.2L207 470.2L208 470.2L209 470.2L210 470.2L211 470.2L212 470.2L213 470.2L214 470.2L215 470.2L216 470.2L217 470.0L218 469.9L219 469.8L220 469.7L221 469.6L222 469.5L223 469.4L224 469.3L225 469.3L226 469.3L227 469.2L228 469.2L229 469.2L230 469.1L231 469.2L232 469.2L233 469.2L234 469.2L235 469.2L236 469.2L237 469.2L238 469.2L239 469.3L240 469.3L241 469.3L242 469.3L243 469.3L244 469.4L245 469.4L246 469.4L247 469.4L248 469.4L249 469.4L250 469.4L251 469.4L252 469.4L253 469.4L254 469.4L255 469.4L256 469.3L257 469.3L258 469.3L259 469.3L260 469.3L261 469.3L262 469.3L263 469.3L264 469.4L265 469.5L266 469.5L267 469.5L268 469.6L269 469.6L270 469.6L271 469.7L272 469.7L273 469.8L274 469.8L275 469.9L276 470.0L277 470.0L278 470.1L279 470.2L280 470.2L281 470.2L282 470.3L283 470.3L284 470.3L285 470.3L286 470.4L287 470.4L288 470.4L289 470.4L290 470.5L291 470.5L292 470.5L293 470.5L294 470.5L295 470.5L296 470.5L297 470.5L298 470.5L299 470.6L300 470.6L301 470.6L302 470.6L303 470.6L304 470.6L305 470.6L306 470.6L307 470.6L308 470.6L309 470.6L310 470.5L311 470.5L312 470.5L313 470.4L314 470.4L315 470.4L316 470.3L317 470.3L318 470.3L319 470.2L320 470.2L321 470.2L322 470.2L323 470.2L324 470.2L325 470.2L326 470.2L327 470.2L327.6 470.2L328 470.4L329 470.4L330 470.4L331 470.4L332 470.4L333 470.4L334 470.5L335 470.5L336 470.5L337 470.5L338 470.5L339 470.5L340 470.5L341 470.5L342 470.4L343 469.6L344 469.5L345 469.4L346 469.4L347 469.3L348 469.2L349 469.1L350 469.1L351 469.0L352 468.9L353 468.9L354 468.7L355 468.6L356 468.5L357 468.5L358 468.5L359 468.5L360 468.4L361 468.4L362 468.5L363 468.5L364 468.5L365 468.5L366 468.5L367 468.5L368 468.5L369 468.5L370 468.5L371 468.5L372 468.4L373 468.4L374 468.4L375 468.3L376 468.3L377 468.3L378 468.3L379 468.3L380 468.3L381 468.3L382 468.3L383 468.2L384 468.0L385 467.8L386 467.6L387 467.5L388 467.3L389 467.1L390 466.7L391 466.3L392 465.9L393 465.6L394 465.4L395 465.3L396 465.1L397 464.9L398 464.8L399 464.8L400 464.8L401 464.9L402 464.9L403 465.0L404 465.1L405 465.5L406 465.7L407 465.8L408 466.1L409 466.4L410 466.5L411 466.7L412 466.8L413 466.9L414 466.9L415 467.0L416 467.0L417 466.9L418 466.9L419 467.0L420 467.0L421 467.1L422 467.1L423 467.2L424 467.3L425 467.4L426 467.5L427 467.5L428 467.5L429 467.5L430 467.6L431 467.6L432 467.6L433 467.6L434 467.7L435 467.7L436 467.6L437 467.6L438 467.5L439 467.5L440 467.5L441 467.6L442 467.6L443 467.6L444 467.7L445 467.7L446 467.7L447 467.7L448 467.6L449 467.6L450 467.5L451 467.5L452 467.5L453 467.5L454 467.6L455 467.7L456 467.7L457 467.8L458 467.9L459 467.9L460 468.0L461 468.1L462 468.2L463 468.3L464 468.4L465 468.4L466 468.4L467 468.4L468 468.4L469 468.6L470 468.7L471 468.7L472 468.7L473 468.8L474 468.8L475 468.8L476 468.9L477 468.9L478 468.9L479 468.9L480 469.0L481 468.9L482 468.8L483 468.8L484 468.7L485 468.5L486 468.3L487 468.1L488 467.9L489 467.8L490 467.6L491 467.4L492 467.3L493 467.1L494 466.9L495 466.9L496 466.8L497 466.8L498 466.8L499 466.7L500 466.4L501 466.3L502 466.0L503 465.7L504 465.3L505 464.7L506 464.0L507 463.2L508 462.5L509 461.6L510 460.7L511 459.6L512 458.2L513 456.4L514 454.7L515 453.3L516 451.2L517 449.8L518 448.4L519 447.3L520 446.0L521 444.7L522 442.8L523 441.5L524 440.2L525 438.5L526 436.1L527 434.0L528 432.6L529 431.0L530 428.0L531 425.8L532 423.4L533 423.0L534 422.6L535 421.0L536 420.7L537 421.3L538 420.2L539 420.2L540 420.2L541 421.5L542 421.3L543 422.5L544 422.2L545 422.8L546 423.6L547 423.4L548 422.5L549 422.9L550 423.2L551 422.8L552 422.9L553 422.9L554 422.4L555 422.0L556 421.3L557 420.6L558 420.1L559 419.2L560 419.8L561 419.9L562 420.2L563 419.7L564 420.1L564.4 420.1L564.5 347.0L565 344.7L566 342.7L567 342.6L568 341.6L569 335.4L570 334.6L571 329.7L572 327.4L573 324.8L574 321.8L575 321.5L576 320.8L577 321.4L578 323.6L579 330.4L580 334.2L581 338.0L582 342.8L583 349.3L584 353.2L585 357.8L586 361.4L587 361.7L588 357.7L589 362.2L590 369.2L591 374.7L592 377.0L593 378.2L594 380.7L595 384.5L596 387.2L597 388.9L598 389.9L599 391.8L600 392.9L601 394.7L602 394.5L603 395.2L604 397.3L605 399.4L606 398.0L607 398.5L608 398.6L609 398.7L610 397.2L611 395.7L612 394.5L613 394.1L614 392.6L615 392.4L616 391.3L617 389.9L618 385.2L619 380.5L620 376.7L621 372.9L622 370.1L623 367.0L624 364.6L625 363.7L626 363.3L627 361.9L628 360.0L629 359.9L630 359.8L631 357.2L632 358.9L633 358.8L634 359.1L635 361.8L636 360.7L637 360.4L638 361.8L639 362.4L640 362.3L641 364.4L642 364.3L643 363.7L644 362.2L645 361.4L646 359.8L647 358.6L648 355.9L649 354.0L650 351.9L651 351.1L652 349.9L653 347.2L654 344.7L655 344.2L656 340.8L657 339.7L658 340.5L659 342.3L660 341.7L661 342.6L662 346.8L663 345.9L664 345.5L665 347.5L666 349.8L667 351.1L668 354.5L669 355.4L670 358.7L671 362.3L672 364.7L673 365.2L674 367.9L675 368.6L676 369.6L677 373.0L678 377.7L679 381.0L680 381.6L681 382.4L682 383.7L683 384.6L684 386.7L685 387.7L686 388.2L687 387.2L688 385.6L689 382.8L690 380.1L691 378.6L692 376.6L693 376.2L694 377.7L695 380.1L696 384.5L697 387.7L698 390.3L699 392.3L700 395.0L701 395.6L702 398.3L703 398.6L704 399.6L705 402.7L706 403.9L707 404.3L708 405.1L709 407.2L710 409.1L711 410.6L712 410.7L713 412.6L714 413.3L715 414.6L716 415.1L717 415.0L718 416.9L719 416.2L720 416.1L721 415.4L722 415.2L723 415.6L724 414.4L725 414.3L726 414.8L727 414.7L728 413.8L729 414.0L730 414.8L731 415.6L732 415.8L733 416.2L734 416.4L735 418.5L736 418.9L737 419.5L738 420.5L739 419.3L739.4 419.1L739.6 413.5L740 413.6L741 411.7L742 409.6L743 406.7L744 405.9L745 405.4L746 404.3L747 403.7L748 404.5L749 404.8L750 403.6L751 404.4L752 404.7L753 407.5L754 409.9L754.1 409.6L754.3 414.9L755 414.8L756 413.9L757 413.8L758 414.0L759 414.5L760 414.2L761 414.1L762 414.9L763 415.0L764 416.2L765 415.7L766 416.0L767 416.0L768 417.0L769 419.0L770 421.0L771 421.3L772 423.3L773 424.6L774 426.0L775 427.5L776 428.1L777 428.3L778 429.7L779 430.2L780 430.8L781 430.7L782 430.8L783 431.2L784 431.3L785 431.3L786 430.5L787 430.7L788 431.3L789 430.6L790 430.3L791 431.0L792 431.6L793 431.8L794 432.0L795 432.0L796 432.3L797 432.5L798 432.6L799 432.4L800 432.1L801 432.4L802 433.2L803 433.6L804 433.8L805 434.2L806 434.4L807 434.7L808 434.5L809 433.6L810 434.2L811 434.0L812 434.2L813 434.4L814 435.4L815 436.0L816 436.5L817 436.9L818 437.4L819 437.5L820 438.0L821 438.6L822 439.9L823 440.4L824 440.0L825 439.9L826 440.7L827 441.3L827.6 442.0L827.8 433.9L828 432.9L829 431.3L830 429.8L831 428.3L832 427.9L833 427.2L834 426.5L835 425.3L836 424.3L837 423.4L838 423.2L839 423.7L840 424.1L840.7 424.9L840.9 427.7L841 428.4L842 428.7L843 429.9L844 430.3L845 431.3L846 432.1L847 432.8L848 433.0L849 432.9L850 432.6L851 433.0L852 433.1L853 432.4L854 431.9L855 431.9L856 432.0L857 431.4L858 431.7L859 431.4L860 430.8L861 430.0L862 429.9L863 429.5L864 429.6L865 429.8L866 429.7L867 428.8L868 428.7L869 429.1L870 429.5L871 428.9L872 429.1L873 429.9L874 430.8L875 431.0L876 431.2L877 432.5L878 433.7L879 434.1L880 434.6L881 434.8L882 434.6L883 433.6L884 432.8L885 432.5L886 432.1L887 430.6L888 430.3L889 429.2L890 429.0L891 428.4L892 426.8L893 426.3L894 424.7L895 424.3L896 424.5L897 424.2L898 424.4L899 424.8L900 425.2L901 426.9L902 427.4L903 427.9L904 427.4L905 428.4L906 429.2L907 429.6L908 429.9L909 429.9L910 430.4L911 431.3L912 431.7L913 432.5L914 434.0L915 435.1L916 435.2L917 436.0L918 437.5L919 437.5L920 437.9L921 438.4L922 438.6L923 437.9L924 437.3L925 436.3L926 435.3L927 434.0L928 433.9L929 432.5L930 432.3L931 432.0L932 431.1L933 430.5L934 430.5L935 430.7L936 430.2L937 430.2L938 429.7L939 430.4L940 430.6L941 430.1L942 430.7L943 430.5L944 429.7L945 429.5L946 430.2L947 430.4L948 430.4L949 429.3L950 429.7L951 429.3L952 429.0L953 430.0L954 430.7L955 430.4L956 431.0L957 432.0L958 432.0L959 432.6L960 433.1L961 433.8L962 433.4L963 433.3L964 433.7L965 433.6L966 434.6L967 434.9L968 434.7L969 434.4L970 434.6L971 435.6L972 436.2L973 436.5L974 436.6L975 436.4L976 437.3L977 437.2L978 437.3L979 437.5L980 437.9L981 438.4L982 439.1L983 439.6L984 439.9L985 439.6L986 439.6L987 439.2L988 438.2L989 438.0L990 437.9L991 437.3L992 436.0L993 435.2L994 433.8L995 432.8L996 431.8L997 431.5L998 431.0L999 430.1L1000 428.6L1001 427.1L1002 426.5L1003 426.1L1004 425.1L1005 423.9L1006 422.9L1007 422.1L1008 421.3L1009 420.9L1010 421.2L1011 419.8L1012 419.6L1013 419.0L1014 418.7L1015 417.8L1016 417.9L1017 417.6L1018 417.2L1019 417.0L1020 415.6L1021 415.3L1022 415.5L1023 415.2L1024 413.7L1025 413.7L1026 413.9L1027 412.7L1028 412.1L1029 411.1L1030 411.8L1031 411.1L1032 409.7L1033 409.4L1034 409.5L1035 411.2L1036 411.5L1037 412.4L1038 413.3L1039 413.1L1040 414.3L1041 415.0L1042 416.7L1043 417.0L1044 418.1L1045 419.3L1046 419.4L1047 418.6L1048 419.3L1049 418.7L1050 418.0L1051 417.8L1052 416.9L1053 416.3L1054 415.5L1055 412.4L1056 408.2L1057 404.4L1058 401.6L1059 398.8L1060 395.5L1061 392.8L1062 391.9L1063 390.3L1064 388.9L1065 386.5L1066 385.5L1067 388.2L1068 390.6L1069 392.3L1070 394.5L1071 397.0L1072 400.3L1073 402.3L1074 403.1L1075 405.2L1076 407.3L1077 408.9L1078 409.3L1079 411.6L1080 412.8L1081 413.9L1082 414.8L1083 415.0L1084 415.4L1085 417.0L1086 418.3L1087 418.3L1088 419.5L1089 420.4L1090 419.5L1091 420.1L1092 420.1L1093 420.6L1094 420.2L1095 420.6L1096 421.3L1097 421.8L1098 420.9L1099 420.1L1100 419.3L1101 420.0L1102 419.3L1103 419.1L1104 419.1L1105 419.7L1106 419.8L1107 419.5L1108 418.9L1109 420.3L1110 420.7L1111 420.6L1112 420.8L1113 422.3L1114 423.3L1115 422.7L1116 422.9L1117 424.0L1118 425.3L1119 424.9L1120 425.5L1121 425.4L1122 425.9L1123 426.0L1124 426.1L1125 424.6L1125.9 424.2L1126 424.4L1127 422.8L1128 421.8L1129 422.3L1130 423.0L1131 423.2L1132 423.4L1133 423.8L1134 424.0L1135 423.7L1136 422.8L1137 422.2L1138 424.3L1139 425.1L1140 425.5L1141 426.8L1142 426.7L1143 427.9L1143.6 427.9L1143.8 427.9L1144 427.9L1145 428.9L1146 429.5L1147 429.9L1148 430.4L1149 430.1L1150 430.2L1151 430.2L1152 430.6L1153 429.8L1154 429.4L1155 429.5L1156 428.7L1157 428.7L1158 429.3L1159 430.1L1160 430.1L1161 430.2L1162 430.1L1163 429.6L1164 429.7L1165 429.5L1166 429.4L1167 430.0L1168 429.6L1169 430.0L1170 429.4L1171 429.1L1172 429.3L1173 426.6L1174 422.5L1175 419.8L1176 416.5L1177 414.8L1178 411.1L1179 407.3L1180 404.5L1181 400.8L1182 398.1L1183 394.6L1184 393.2L1185 388.2L1186 383.1L1187 383.2L1188 381.5L1189 380.9L1190 383.4L1191 381.9L1192 378.5L1193 379.8L1194 382.3L1195 385.4L1196 386.4L1197 389.1L1198 390.3L1199 392.3L1200 397.4L1201 398.8L1202 398.4L1203 401.7L1204 404.1L1205 405.0L1206 405.7L1207 404.9L1208 403.8L1209 401.8L1210 400.7L1211 397.4L1212 397.0L1213 395.8L1214 394.8L1215 395.0L1216 394.7L1217 396.3L1218 397.4L1219 397.5L1220 400.0L1221 400.4L1222 402.7L1223 405.9L1224 407.1L1225 408.9L1226 409.4L1227 411.3L1228 413.9L1229 415.8L1230 433.8L1231 461.9L1231.3 470.2L1231.7 470.2L1231.8 410.3L1232 410.9L1233 410.7L1234 410.0L1235 410.8L1236 411.6L1237 412.7L1238 414.1L1239 415.2L1240 416.4L1241 417.2L1242 419.1L1243 420.3L1244 420.3L1245 421.6L1245.6 422.1L1245.8 425.6L1246 426.3L1247 426.9L1248 426.8L1249 427.3L1250 427.3L1251 427.4L1252 427.1L1253 426.9L1254 427.1L1255 426.7L1256 427.1L1257 428.0L1258 427.6L1259 428.5L1260 428.6L1261 427.3L1262 425.2L1263 423.5L1264 422.7L1265 422.5L1266 422.3L1267 422.4L1268 421.4L1269 421.4L1270 422.3L1271 422.6L1272 423.4L1273 423.8L1274 424.9L1275 426.7L1276 427.2L1277 429.1L1278 430.0L1279 430.7L1280 431.7L1281 432.7L1282 432.5L1283 433.5L1284 433.5L1285 432.9L1286 433.6L1287 433.9L1288 433.7L1289 434.0L1290 433.8L1291 432.3L1292 431.5L1293 429.4L1294 427.4L1295 426.0L1296 423.6L1297 423.1L1298 422.3L1299 420.2L1299.5 417.7L1299.6 399.8L1300 400.3L1301 399.7L1302 399.8L1303 400.3L1304 400.7L1305 400.5L1306 401.8L1307 402.3L1308 402.1L1309 402.2L1310 402.1L1311 402.5L1312 403.6L1313 403.5L1314 416.5L1315 418.7L1316 420.0L1317 421.7L1318 422.3L1319 422.6L1320 424.3L1321 424.7L1322 426.2L1323 426.9L1324 427.4L1325 427.4L1326 427.4L1327 428.0L1328 429.0L1329 429.0L1330 429.0L1331 427.8L1332 425.4L1333 423.9L1334 421.6L1335 417.6L1336 416.2L1337 416.2L1338 415.3L1339 414.7L1340 414.2L1341 414.5L1342 414.0L1343 413.8L1344 414.1L1345 414.2L1346 413.3L1347 413.7L1348 415.8L1349 419.6L1350 420.1L1351 419.9L1352 418.3L1353 418.2L1354 418.2L1355 418.6L1356 418.8L1357 418.1L1358 419.1L1359 420.3L1360 421.5L1361 423.7L1362 424.6L1363 425.9L1364 426.8L1365 427.9L1366 429.2L1367 431.4L1368 432.2L1369 433.4L1370 434.9L1371 436.7L1372 437.3L1373 437.8L1374 438.1L1375 437.5L1376 437.4L1377 437.8V472.3Z" fill="#7af4ec"/>
<path d="M190 472.3V471.6L191 470.8L192 471.2L193 471.4L194 471.6L195 471.8L196 471.9L197 472.0L198 472.1L199 472.2L200 472.3L201 472.2L202 472.2L203 472.1L204 472.1L205 472.0L206 472.0L207 471.9L208 471.9L209 471.8L210 471.8L211 471.7L212 471.7L213 471.6L214 471.6L215 471.5L216 471.5L217 471.4L218 471.3L219 471.2L220 471.1L221 471.0L222 470.8L223 470.7L224 470.6L225 470.6L226 470.5L227 470.4L228 470.3L229 470.2L230 470.2L231 470.1L232 470.1L233 470.0L234 470.0L235 470.0L236 469.9L237 469.8L238 469.8L239 469.8L240 469.7L241 469.7L242 469.7L243 469.6L244 469.6L245 469.6L246 469.6L247 469.5L248 469.4L249 469.4L250 469.4L251 469.4L252 469.4L253 469.5L254 469.5L255 469.5L256 469.5L257 469.5L258 469.6L259 469.6L260 469.7L261 469.7L262 469.7L263 469.8L264 469.8L265 469.9L266 470.0L267 470.0L268 470.1L269 470.2L270 470.2L271 470.3L272 470.4L273 470.4L274 470.5L275 470.6L276 470.7L277 470.7L278 470.8L279 470.9L280 470.9L281 471.0L282 471.0L283 471.1L284 471.1L285 471.2L286 471.2L287 471.2L288 471.3L289 471.3L290 471.4L291 471.4L292 471.4L293 471.5L294 471.5L295 471.5L296 471.6L297 471.6L298 471.6L299 471.7L300 471.7L301 471.7L302 471.7L303 471.8L304 471.8L305 471.8L306 471.9L307 471.9L308 471.9L309 471.9L310 472.0L311 472.0L312 472.0L313 472.1L314 472.1L315 472.1L316 472.1L317 472.2L318 472.2L319 472.3L320 472.3L321 472.3L322 472.3L323 472.3L324 472.3L325 472.3L326 472.3L327 472.3L327.6 472.3L328 472.3L329 472.3L330 472.3L331 472.3L332 472.3L333 472.3L334 472.3L335 472.3L336 472.3L337 472.3L338 472.3L339 472.3L340 472.3L341 472.3L342 472.3L343 469.9L344 469.5L345 469.4L346 469.4L347 469.3L348 469.2L349 469.1L350 469.1L351 469.0L352 468.9L353 468.9L354 468.7L355 468.6L356 468.5L357 468.5L358 468.5L359 468.5L360 468.4L361 468.4L362 468.5L363 468.5L364 468.5L365 468.5L366 468.5L367 468.5L368 468.5L369 468.5L370 468.5L371 468.5L372 468.4L373 468.4L374 468.4L375 468.3L376 468.3L377 468.3L378 468.3L379 468.3L380 468.3L381 468.3L382 468.3L383 468.2L384 468.0L385 467.8L386 467.6L387 467.5L388 467.3L389 467.1L390 466.7L391 466.3L392 465.9L393 465.6L394 465.4L395 465.3L396 465.1L397 464.9L398 464.8L399 464.8L400 464.8L401 464.9L402 464.9L403 465.0L404 465.1L405 465.5L406 465.7L407 465.8L408 466.1L409 466.4L410 466.5L411 466.7L412 466.8L413 466.9L414 466.9L415 467.0L416 467.0L417 466.9L418 466.9L419 467.0L420 467.0L421 467.1L422 467.1L423 467.2L424 467.3L425 467.4L426 467.5L427 467.5L428 467.5L429 467.5L430 467.6L431 467.6L432 467.6L433 467.6L434 467.7L435 467.7L436 467.6L437 467.6L438 467.5L439 467.5L440 467.5L441 467.6L442 467.6L443 467.6L444 467.7L445 467.7L446 467.7L447 467.7L448 467.6L449 467.6L450 467.5L451 467.5L452 467.5L453 467.5L454 467.6L455 467.7L456 467.7L457 467.8L458 467.9L459 467.9L460 468.0L461 468.1L462 468.2L463 468.3L464 468.4L465 468.4L466 468.4L467 468.4L468 468.4L469 468.6L470 468.7L471 468.7L472 468.7L473 468.8L474 468.8L475 468.8L476 468.9L477 468.9L478 468.9L479 468.9L480 469.0L481 468.9L482 468.8L483 468.8L484 468.7L485 468.5L486 468.3L487 468.1L488 467.9L489 467.8L490 467.6L491 467.4L492 467.3L493 467.1L494 466.9L495 466.9L496 466.8L497 466.8L498 466.8L499 466.7L500 466.6L501 466.5L502 466.4L503 466.2L504 465.9L505 465.4L506 464.9L507 464.1L508 463.6L509 462.9L510 462.2L511 461.3L512 460.2L513 458.8L514 457.5L515 456.3L516 454.7L517 453.5L518 452.4L519 451.7L520 451.0L521 450.4L522 449.3L523 448.6L524 448.0L525 447.1L526 445.6L527 444.4L528 443.7L529 442.9L530 441.1L531 439.9L532 438.5L533 438.5L534 438.5L535 437.7L536 437.8L537 438.4L538 437.9L539 438.1L540 438.3L541 439.3L542 439.1L543 440.0L544 439.8L545 440.3L546 440.8L547 440.7L548 440.1L549 440.4L550 440.7L551 440.4L552 440.5L553 440.6L554 440.2L555 440.0L556 439.6L557 439.2L558 438.9L559 438.4L560 438.8L561 438.9L562 439.1L563 438.7L564 439.0L564.4 439.0L564.5 367.9L565 366.2L566 365.1L567 365.6L568 365.3L569 361.8L570 362.7L571 360.2L572 359.2L573 358.0L574 356.5L575 357.1L576 357.3L577 357.4L578 358.0L579 362.3L580 364.2L581 365.6L582 367.6L583 370.8L584 373.7L585 378.7L586 383.0L587 384.6L588 382.7L589 387.0L590 392.9L591 397.7L592 400.1L593 401.6L594 404.1L595 407.5L596 410.1L597 412.1L598 413.5L599 415.6L600 417.0L601 418.9L602 419.4L603 420.5L604 422.5L605 424.6L606 423.4L607 423.3L608 423.0L609 422.8L610 421.4L611 420.1L612 418.9L613 418.3L614 417.0L615 416.6L616 415.4L617 414.2L618 410.5L619 406.9L620 403.9L621 400.9L622 398.6L623 396.1L624 394.0L625 393.0L626 392.5L627 391.2L628 389.5L629 389.1L630 388.8L631 386.6L632 388.5L633 389.0L634 389.9L635 392.4L636 392.2L637 392.6L638 394.2L639 395.3L640 395.9L641 398.0L642 397.9L643 396.9L644 395.3L645 394.1L646 392.4L647 391.0L648 388.5L649 386.6L650 384.5L651 383.4L652 382.0L653 379.4L654 377.1L655 376.2L656 373.1L657 371.8L658 372.5L659 373.9L660 373.5L661 374.4L662 377.6L663 377.0L664 376.8L665 378.4L666 380.2L667 381.4L668 384.0L669 384.8L670 387.4L671 390.2L672 392.0L673 392.5L674 394.7L675 395.2L676 396.1L677 398.7L678 402.3L679 404.9L680 405.4L681 406.1L682 407.2L683 407.9L684 409.6L685 410.4L686 410.5L687 409.5L688 408.1L689 405.7L690 403.4L691 402.0L692 400.2L693 399.6L694 401.0L695 403.1L696 406.6L697 409.2L698 411.4L699 413.1L700 415.3L701 416.0L702 418.2L703 418.7L704 419.6L705 422.1L706 423.2L707 423.7L708 424.6L709 426.4L710 428.0L711 429.3L712 429.6L713 431.2L714 431.9L715 433.1L716 433.7L717 434.0L718 435.6L719 435.5L720 435.8L721 435.7L722 435.8L723 436.1L724 435.4L725 435.3L726 435.7L727 435.7L728 435.2L729 435.4L730 435.8L731 436.4L732 436.6L733 436.9L734 437.0L735 438.4L736 438.7L737 439.1L738 439.8L739 439.0L739.4 438.9L739.6 435.4L740 435.4L741 434.3L742 433.1L743 431.3L744 430.8L745 430.5L746 429.9L747 429.5L748 430.0L749 430.2L750 429.5L751 430.0L752 430.2L753 432.0L754 433.5L754.1 433.3L754.3 436.6L755 436.6L756 436.0L757 435.9L758 436.1L759 436.4L760 436.3L761 436.2L762 436.7L763 436.8L764 437.6L765 437.3L766 437.5L767 437.5L768 438.1L769 439.4L770 440.6L771 440.8L772 442.1L773 442.9L774 443.8L775 444.7L776 445.1L777 445.2L778 446.1L779 446.4L780 446.8L781 446.8L782 446.9L783 447.1L784 447.2L785 447.2L786 446.7L787 446.9L788 447.2L789 446.9L790 446.7L791 447.1L792 447.6L793 447.7L794 447.8L795 447.7L796 447.9L797 448.0L798 448.0L799 447.9L800 447.7L801 447.9L802 448.3L803 448.5L804 448.6L805 448.9L806 449.0L807 449.1L808 448.9L809 448.4L810 448.7L811 448.6L812 448.7L813 448.8L814 449.4L815 449.7L816 450.0L817 450.2L818 450.5L819 450.6L820 450.9L821 451.2L822 452.0L823 452.3L824 452.0L825 451.9L826 452.4L827 452.8L827.6 453.2L827.8 448.1L828 447.5L829 446.4L830 445.5L831 444.5L832 444.2L833 443.7L834 443.3L835 442.5L836 441.8L837 441.3L838 441.1L839 441.4L840 441.6L840.7 442.1L840.9 443.9L841 444.3L842 444.4L843 445.2L844 445.4L845 446.0L846 446.5L847 446.9L848 447.0L849 446.9L850 446.6L851 446.9L852 446.9L853 446.4L854 446.1L855 446.0L856 446.0L857 445.6L858 445.7L859 445.5L860 445.1L861 444.5L862 444.4L863 444.1L864 444.1L865 444.2L866 444.2L867 443.6L868 443.6L869 443.9L870 444.2L871 443.9L872 444.1L873 444.7L874 445.3L875 445.5L876 445.6L877 446.6L878 447.4L879 447.7L880 448.0L881 448.2L882 448.1L883 447.5L884 447.1L885 446.9L886 446.7L887 445.8L888 445.7L889 445.1L890 444.9L891 444.6L892 443.7L893 443.4L894 442.5L895 442.2L896 442.4L897 442.3L898 442.4L899 442.6L900 442.7L901 443.8L902 444.1L903 444.3L904 443.9L905 444.5L906 445.0L907 445.2L908 445.3L909 445.2L910 445.5L911 446.0L912 446.3L913 446.7L914 447.6L915 448.3L916 448.3L917 448.8L918 449.7L919 449.6L920 449.9L921 450.1L922 450.2L923 449.7L924 449.3L925 448.6L926 447.9L927 446.9L928 446.8L929 445.9L930 445.6L931 445.4L932 444.7L933 444.2L934 444.2L935 444.3L936 443.9L937 443.8L938 443.4L939 443.8L940 443.9L941 443.5L942 443.8L943 443.6L944 443.1L945 442.8L946 443.3L947 443.3L948 443.2L949 442.4L950 442.6L951 442.3L952 442.0L953 442.7L954 443.1L955 442.8L956 443.2L957 443.8L958 443.7L959 444.1L960 444.4L961 444.8L962 444.5L963 444.3L964 444.5L965 444.4L966 445.1L967 445.2L968 445.0L969 444.7L970 444.8L971 445.4L972 445.8L973 445.9L974 445.9L975 445.7L976 446.2L977 446.1L978 446.1L979 446.2L980 446.4L981 446.7L982 447.1L983 447.4L984 447.6L985 447.3L986 447.3L987 447.1L988 446.3L989 446.2L990 446.1L991 445.6L992 444.6L993 444.0L994 442.9L995 442.2L996 441.4L997 441.2L998 440.8L999 440.1L1000 439.0L1001 437.9L1002 437.4L1003 437.1L1004 436.4L1005 435.5L1006 434.7L1007 434.1L1008 433.5L1009 433.2L1010 433.4L1011 432.4L1012 432.3L1013 431.8L1014 431.5L1015 430.8L1016 430.9L1017 430.7L1018 430.4L1019 430.3L1020 429.2L1021 429.0L1022 429.1L1023 428.9L1024 427.8L1025 427.8L1026 428.0L1027 427.0L1028 426.6L1029 425.8L1030 426.3L1031 425.8L1032 424.7L1033 424.5L1034 424.6L1035 425.8L1036 426.0L1037 426.6L1038 427.3L1039 427.1L1040 428.0L1041 428.5L1042 429.7L1043 429.9L1044 430.7L1045 431.7L1046 431.7L1047 431.0L1048 431.6L1049 431.0L1050 430.5L1051 430.3L1052 429.6L1053 429.1L1054 428.5L1055 426.0L1056 422.8L1057 419.8L1058 417.6L1059 415.4L1060 412.8L1061 410.7L1062 410.0L1063 408.7L1064 407.6L1065 405.7L1066 404.9L1067 407.0L1068 408.7L1069 410.0L1070 411.6L1071 413.5L1072 416.0L1073 417.6L1074 418.1L1075 419.7L1076 421.3L1077 422.4L1078 422.7L1079 424.4L1080 425.4L1081 426.1L1082 426.8L1083 426.9L1084 427.1L1085 428.3L1086 429.3L1087 429.3L1088 430.1L1089 430.8L1090 430.0L1091 430.4L1092 430.3L1093 430.6L1094 430.3L1095 430.5L1096 431.0L1097 431.3L1098 430.4L1099 429.8L1100 429.0L1101 429.5L1102 428.8L1103 428.5L1104 428.6L1105 429.1L1106 429.2L1107 429.0L1108 428.5L1109 429.7L1110 430.0L1111 430.0L1112 430.1L1113 431.4L1114 432.2L1115 431.8L1116 431.9L1117 432.8L1118 433.9L1119 433.6L1120 434.1L1121 434.1L1122 434.4L1123 434.6L1124 434.7L1125 433.5L1125.9 433.2L1126 433.3L1127 431.9L1128 431.0L1129 431.3L1130 431.7L1131 431.8L1132 431.8L1133 432.1L1134 432.3L1135 432.1L1136 431.4L1137 430.9L1138 432.7L1139 433.4L1140 433.7L1141 434.9L1142 434.9L1143 435.9L1143.6 435.9L1143.8 435.9L1144 436.0L1145 436.9L1146 437.5L1147 437.9L1148 438.4L1149 438.3L1150 438.4L1151 438.5L1152 438.9L1153 438.4L1154 438.2L1155 438.4L1156 437.9L1157 438.0L1158 438.6L1159 439.3L1160 439.4L1161 439.3L1162 439.0L1163 438.4L1164 438.3L1165 438.0L1166 437.7L1167 438.1L1168 437.6L1169 437.8L1170 437.3L1171 436.9L1172 437.0L1173 434.6L1174 431.1L1175 428.8L1176 425.9L1177 424.4L1178 421.2L1179 417.8L1180 415.4L1181 412.2L1182 409.8L1183 406.8L1184 405.4L1185 401.1L1186 396.6L1187 396.7L1188 395.0L1189 394.4L1190 396.5L1191 395.2L1192 392.4L1193 393.7L1194 395.9L1195 398.7L1196 399.6L1197 402.0L1198 403.2L1199 405.0L1200 409.3L1201 410.6L1202 410.4L1203 413.3L1204 415.4L1205 416.3L1206 416.9L1207 416.4L1208 415.6L1209 414.0L1210 413.2L1211 410.7L1212 410.5L1213 409.6L1214 408.9L1215 409.2L1216 408.9L1217 410.2L1218 411.1L1219 411.1L1220 413.2L1221 413.5L1222 415.3L1223 417.9L1224 418.8L1225 420.3L1226 420.7L1227 422.2L1228 424.3L1229 425.8L1230 440.6L1231 463.8L1231.3 470.6L1231.7 470.6L1231.8 421.3L1232 421.7L1233 421.5L1234 420.9L1235 421.6L1236 422.2L1237 423.1L1238 424.2L1239 425.1L1240 426.0L1241 426.7L1242 428.3L1243 429.2L1244 429.1L1245 430.2L1245.6 430.6L1245.8 433.5L1246 434.1L1247 434.6L1248 434.5L1249 434.8L1250 434.8L1251 434.9L1252 434.6L1253 434.4L1254 434.5L1255 434.2L1256 434.5L1257 435.2L1258 434.8L1259 435.6L1260 435.6L1261 434.5L1262 432.7L1263 431.2L1264 430.5L1265 430.3L1266 430.1L1267 430.2L1268 429.2L1269 429.3L1270 430.1L1271 430.3L1272 431.0L1273 431.4L1274 432.3L1275 433.8L1276 434.3L1277 435.9L1278 436.6L1279 437.3L1280 438.2L1281 439.0L1282 438.8L1283 439.7L1284 439.7L1285 439.2L1286 439.8L1287 440.1L1288 440.0L1289 440.2L1290 440.1L1291 438.8L1292 438.2L1293 436.5L1294 434.7L1295 433.6L1296 431.6L1297 431.2L1298 430.6L1299 428.8L1299.5 426.8L1299.6 408.4L1300 408.8L1301 408.2L1302 408.2L1303 408.6L1304 408.9L1305 408.7L1306 409.8L1307 410.3L1308 410.2L1309 410.3L1310 410.2L1311 410.6L1312 411.6L1313 411.5L1314 424.9L1315 427.0L1316 428.2L1317 429.6L1318 430.0L1319 430.2L1320 431.7L1321 432.0L1322 433.3L1323 433.8L1324 434.2L1325 434.2L1326 434.2L1327 434.7L1328 435.5L1329 435.5L1330 435.5L1331 434.5L1332 432.4L1333 431.1L1334 429.1L1335 425.7L1336 424.5L1337 424.5L1338 423.7L1339 423.2L1340 422.7L1341 422.9L1342 422.5L1343 422.4L1344 422.6L1345 422.7L1346 422.0L1347 422.3L1348 424.0L1349 427.3L1350 427.7L1351 427.6L1352 426.3L1353 426.1L1354 426.2L1355 426.4L1356 426.6L1357 426.1L1358 426.9L1359 427.9L1360 428.9L1361 430.8L1362 431.6L1363 432.8L1364 433.5L1365 434.5L1366 435.5L1367 437.4L1368 438.1L1369 439.1L1370 440.4L1371 442.0L1372 442.5L1373 442.9L1374 443.2L1375 442.6L1376 442.6L1377 442.9V472.3Z" fill="#df3cc2"/>
<path d="M190 472.3V471.6L191 470.8L192 471.2L193 471.4L194 471.6L195 471.8L196 471.9L197 472.0L198 472.1L199 472.2L200 472.3L201 472.2L202 472.2L203 472.1L204 472.1L205 472.0L206 472.0L207 471.9L208 471.9L209 471.8L210 471.8L211 471.7L212 471.7L213 471.6L214 471.6L215 471.5L216 471.5L217 471.4L218 471.3L219 471.2L220 471.1L221 471.0L222 470.8L223 470.7L224 470.6L225 470.6L226 470.5L227 470.4L228 470.3L229 470.2L230 470.2L231 470.1L232 470.1L233 470.0L234 470.0L235 470.0L236 469.9L237 469.8L238 469.8L239 469.8L240 469.7L241 469.7L242 469.7L243 469.6L244 469.6L245 469.6L246 469.6L247 469.5L248 469.4L249 469.4L250 469.4L251 469.4L252 469.4L253 469.5L254 469.5L255 469.5L256 469.5L257 469.5L258 469.6L259 469.6L260 469.7L261 469.7L262 469.7L263 469.8L264 469.8L265 469.9L266 470.0L267 470.0L268 470.1L269 470.2L270 470.2L271 470.3L272 470.4L273 470.4L274 470.5L275 470.6L276 470.7L277 470.7L278 470.8L279 470.9L280 470.9L281 471.0L282 471.0L283 471.1L284 471.1L285 471.2L286 471.2L287 471.2L288 471.3L289 471.3L290 471.4L291 471.4L292 471.4L293 471.5L294 471.5L295 471.5L296 471.6L297 471.6L298 471.6L299 471.7L300 471.7L301 471.7L302 471.7L303 471.8L304 471.8L305 471.8L306 471.9L307 471.9L308 471.9L309 471.9L310 472.0L311 472.0L312 472.0L313 472.1L314 472.1L315 472.1L316 472.1L317 472.2L318 472.2L319 472.3L320 472.3L321 472.3L322 472.3L323 472.3L324 472.3L325 472.3L326 472.3L327 472.3L327.6 472.3L328 472.3L329 472.3L330 472.3L331 472.3L332 472.3L333 472.3L334 472.3L335 472.3L336 472.3L337 472.3L338 472.3L339 472.3L340 472.3L341 472.3L342 472.3L343 469.9L344 469.5L345 469.4L346 469.4L347 469.3L348 469.2L349 469.1L350 469.1L351 469.0L352 468.9L353 468.9L354 468.7L355 468.6L356 468.5L357 468.5L358 468.5L359 468.5L360 468.4L361 468.4L362 468.5L363 468.5L364 468.5L365 468.5L366 468.5L367 468.5L368 468.5L369 468.5L370 468.5L371 468.5L372 468.4L373 468.4L374 468.4L375 468.3L376 468.3L377 468.3L378 468.3L379 468.3L380 468.3L381 468.3L382 468.3L383 468.2L384 468.0L385 467.8L386 467.6L387 467.5L388 467.3L389 467.1L390 466.7L391 466.3L392 465.9L393 465.6L394 465.4L395 465.3L396 465.1L397 464.9L398 464.8L399 464.8L400 464.8L401 464.9L402 464.9L403 465.0L404 465.1L405 465.5L406 465.7L407 465.8L408 466.1L409 466.4L410 466.5L411 466.7L412 466.8L413 466.9L414 466.9L415 467.0L416 467.0L417 466.9L418 466.9L419 467.0L420 467.0L421 467.1L422 467.1L423 467.2L424 467.3L425 467.4L426 467.5L427 467.5L428 467.5L429 467.5L430 467.6L431 467.6L432 467.6L433 467.6L434 467.7L435 467.7L436 467.6L437 467.6L438 467.5L439 467.5L440 467.5L441 467.6L442 467.6L443 467.6L444 467.7L445 467.7L446 467.7L447 467.7L448 467.6L449 467.6L450 467.5L451 467.5L452 467.5L453 467.5L454 467.6L455 467.7L456 467.7L457 467.8L458 467.9L459 467.9L460 468.0L461 468.1L462 468.2L463 468.3L464 468.4L465 468.4L466 468.4L467 468.4L468 468.4L469 468.6L470 468.7L471 468.7L472 468.7L473 468.8L474 468.8L475 468.8L476 468.9L477 468.9L478 468.9L479 468.9L480 469.0L481 468.9L482 468.8L483 468.8L484 468.7L485 468.5L486 468.3L487 468.1L488 467.9L489 467.8L490 467.6L491 467.4L492 467.3L493 467.1L494 466.9L495 466.9L496 466.8L497 466.8L498 466.8L499 466.7L500 466.6L501 466.5L502 466.4L503 466.2L504 465.9L505 465.4L506 464.9L507 464.1L508 463.6L509 462.9L510 462.2L511 461.3L512 460.2L513 458.8L514 457.5L515 456.3L516 454.7L517 453.5L518 452.4L519 451.7L520 451.0L521 450.4L522 449.3L523 448.6L524 448.0L525 447.1L526 445.6L527 444.4L528 443.7L529 442.9L530 441.1L531 439.9L532 438.5L533 438.5L534 438.5L535 437.7L536 437.8L537 438.4L538 437.9L539 438.1L540 438.3L541 439.3L542 439.1L543 440.0L544 439.8L545 440.3L546 440.8L547 440.7L548 440.1L549 440.4L550 440.7L551 440.4L552 440.5L553 440.6L554 440.2L555 440.0L556 439.6L557 439.2L558 438.9L559 438.4L560 438.8L561 438.9L562 439.1L563 438.7L564 439.0L564.4 439.0L564.5 367.9L565 366.2L566 365.1L567 365.6L568 365.3L569 361.8L570 362.7L571 360.2L572 359.2L573 358.0L574 356.5L575 357.1L576 357.3L577 357.4L578 358.0L579 362.3L580 364.2L581 365.6L582 367.6L583 370.8L584 373.7L585 378.7L586 383.0L587 384.6L588 382.7L589 387.0L590 392.9L591 397.7L592 400.1L593 401.6L594 404.1L595 407.5L596 410.1L597 412.1L598 413.5L599 415.6L600 417.0L601 418.9L602 419.4L603 420.5L604 422.5L605 424.6L606 423.4L607 423.3L608 423.0L609 422.8L610 421.4L611 420.1L612 418.9L613 418.3L614 417.0L615 416.6L616 415.4L617 414.2L618 410.5L619 406.9L620 403.9L621 400.9L622 398.6L623 396.1L624 394.0L625 393.0L626 392.5L627 391.2L628 389.5L629 389.1L630 388.8L631 386.6L632 388.5L633 389.0L634 389.9L635 392.4L636 392.2L637 392.6L638 394.2L639 395.3L640 395.9L641 398.0L642 397.9L643 396.9L644 395.3L645 394.1L646 392.4L647 391.0L648 388.5L649 386.6L650 384.5L651 383.4L652 382.0L653 379.4L654 377.1L655 376.2L656 373.1L657 371.8L658 372.5L659 373.9L660 373.5L661 374.4L662 377.6L663 377.0L664 376.8L665 378.4L666 380.2L667 381.4L668 384.0L669 384.8L670 387.4L671 390.2L672 392.0L673 392.5L674 394.7L675 395.2L676 396.1L677 398.7L678 402.3L679 404.9L680 405.4L681 406.1L682 407.2L683 407.9L684 409.6L685 410.4L686 410.5L687 409.5L688 408.1L689 405.7L690 403.4L691 402.0L692 400.2L693 399.6L694 401.0L695 403.1L696 406.6L697 409.2L698 411.4L699 413.1L700 415.3L701 416.0L702 418.2L703 418.7L704 419.6L705 422.1L706 423.2L707 423.7L708 424.6L709 426.4L710 428.0L711 429.3L712 429.6L713 431.2L714 431.9L715 433.1L716 433.7L717 434.0L718 435.6L719 435.5L720 435.8L721 435.7L722 435.8L723 436.1L724 435.4L725 435.3L726 435.7L727 435.7L728 435.2L729 435.4L730 435.8L731 436.4L732 436.6L733 436.9L734 437.0L735 438.4L736 438.7L737 439.1L738 439.8L739 439.0L739.4 438.9L739.6 435.4L740 435.4L741 434.3L742 433.1L743 431.3L744 430.8L745 430.5L746 429.9L747 429.5L748 430.0L749 430.2L750 429.5L751 430.0L752 430.2L753 432.0L754 433.5L754.1 433.3L754.3 436.6L755 436.6L756 436.0L757 435.9L758 436.1L759 436.4L760 436.3L761 436.2L762 436.7L763 436.8L764 437.6L765 437.3L766 437.5L767 437.5L768 438.1L769 439.4L770 440.6L771 440.8L772 442.1L773 442.9L774 443.8L775 444.7L776 445.1L777 445.2L778 446.1L779 446.4L780 446.8L781 446.8L782 446.9L783 447.1L784 447.2L785 447.2L786 446.7L787 446.9L788 447.2L789 446.9L790 446.7L791 447.1L792 447.6L793 447.7L794 447.8L795 447.7L796 447.9L797 448.0L798 448.0L799 447.9L800 447.7L801 447.9L802 448.3L803 448.5L804 448.6L805 448.9L806 449.0L807 449.1L808 448.9L809 448.4L810 448.7L811 448.6L812 448.7L813 448.8L814 449.4L815 449.7L816 450.0L817 450.2L818 450.5L819 450.6L820 450.9L821 451.2L822 452.0L823 452.3L824 452.0L825 451.9L826 452.4L827 452.8L827.6 453.2L827.8 448.1L828 447.5L829 446.4L830 445.5L831 444.5L832 444.2L833 443.7L834 443.3L835 442.5L836 441.8L837 441.3L838 441.1L839 441.4L840 441.6L840.7 442.1L840.9 443.9L841 444.3L842 444.4L843 445.2L844 445.4L845 446.0L846 446.5L847 446.9L848 447.0L849 446.9L850 446.6L851 446.9L852 446.9L853 446.4L854 446.1L855 446.0L856 446.0L857 445.6L858 445.7L859 445.5L860 445.1L861 444.5L862 444.4L863 444.1L864 444.1L865 444.2L866 444.2L867 443.6L868 443.6L869 443.9L870 444.2L871 443.9L872 444.1L873 444.7L874 445.3L875 445.5L876 445.6L877 446.6L878 447.4L879 447.7L880 448.0L881 448.2L882 448.1L883 447.5L884 447.1L885 446.9L886 446.7L887 445.8L888 445.7L889 445.1L890 444.9L891 444.6L892 443.7L893 443.4L894 442.5L895 442.2L896 442.4L897 442.3L898 442.4L899 442.6L900 442.7L901 443.8L902 444.1L903 444.3L904 443.9L905 444.5L906 445.0L907 445.2L908 445.3L909 445.2L910 445.5L911 446.0L912 446.3L913 446.7L914 447.6L915 448.3L916 448.3L917 448.8L918 449.7L919 449.6L920 449.9L921 450.1L922 450.2L923 449.7L924 449.3L925 448.6L926 447.9L927 446.9L928 446.8L929 445.9L930 445.6L931 445.4L932 444.7L933 444.2L934 444.2L935 444.3L936 443.9L937 443.8L938 443.4L939 443.8L940 443.9L941 443.5L942 443.8L943 443.6L944 443.1L945 442.8L946 443.3L947 443.3L948 443.2L949 442.4L950 442.6L951 442.3L952 442.0L953 442.7L954 443.1L955 442.8L956 443.2L957 443.8L958 443.7L959 444.1L960 444.4L961 444.8L962 444.5L963 444.3L964 444.5L965 444.4L966 445.1L967 445.2L968 445.0L969 444.7L970 444.8L971 445.4L972 445.8L973 445.9L974 445.9L975 445.7L976 446.2L977 446.1L978 446.1L979 446.2L980 446.4L981 446.7L982 447.1L983 447.4L984 447.6L985 447.3L986 447.3L987 447.1L988 446.3L989 446.2L990 446.1L991 445.6L992 444.6L993 444.0L994 442.9L995 442.2L996 441.4L997 441.2L998 440.8L999 440.1L1000 439.0L1001 437.9L1002 437.4L1003 437.1L1004 436.4L1005 435.5L1006 434.7L1007 434.1L1008 433.5L1009 433.2L1010 433.4L1011 432.4L1012 432.3L1013 431.8L1014 431.5L1015 430.8L1016 430.9L1017 430.7L1018 430.4L1019 430.3L1020 429.2L1021 429.0L1022 429.1L1023 428.9L1024 427.8L1025 427.8L1026 428.0L1027 427.0L1028 426.6L1029 425.8L1030 426.3L1031 425.8L1032 424.7L1033 424.5L1034 424.6L1035 425.8L1036 426.0L1037 426.6L1038 427.3L1039 427.1L1040 428.0L1041 428.5L1042 429.7L1043 429.9L1044 430.7L1045 431.7L1046 431.7L1047 431.0L1048 431.6L1049 431.0L1050 430.5L1051 430.3L1052 429.6L1053 429.1L1054 428.5L1055 426.0L1056 422.8L1057 419.8L1058 417.6L1059 415.4L1060 412.8L1061 410.7L1062 410.0L1063 408.7L1064 407.6L1065 405.7L1066 404.9L1067 407.0L1068 408.7L1069 410.0L1070 411.6L1071 413.5L1072 416.0L1073 417.6L1074 418.1L1075 419.7L1076 421.3L1077 422.4L1078 422.7L1079 424.4L1080 425.4L1081 426.1L1082 426.8L1083 426.9L1084 427.1L1085 428.3L1086 429.3L1087 429.3L1088 430.1L1089 430.8L1090 430.0L1091 430.4L1092 430.3L1093 430.6L1094 430.3L1095 430.5L1096 431.0L1097 431.3L1098 430.4L1099 429.8L1100 429.0L1101 429.5L1102 428.8L1103 428.5L1104 428.6L1105 429.1L1106 429.2L1107 429.0L1108 428.5L1109 429.7L1110 430.0L1111 430.0L1112 430.1L1113 431.4L1114 432.2L1115 431.8L1116 431.9L1117 432.8L1118 433.9L1119 433.6L1120 434.1L1121 434.1L1122 434.4L1123 434.6L1124 434.7L1125 433.5L1125.9 433.2L1126 433.3L1127 431.9L1128 431.0L1129 431.3L1130 431.7L1131 431.8L1132 431.8L1133 432.1L1134 432.3L1135 432.1L1136 431.4L1137 430.9L1138 432.7L1139 433.4L1140 433.7L1141 434.9L1142 434.9L1143 435.9L1143.6 435.9L1143.8 435.9L1144 436.0L1145 436.9L1146 437.5L1147 437.9L1148 438.4L1149 438.3L1150 438.4L1151 438.5L1152 438.9L1153 438.4L1154 438.2L1155 438.4L1156 437.9L1157 438.0L1158 438.6L1159 439.3L1160 439.4L1161 439.3L1162 439.0L1163 438.4L1164 438.3L1165 438.0L1166 437.7L1167 438.1L1168 437.6L1169 437.8L1170 437.3L1171 436.9L1172 437.0L1173 434.6L1174 431.1L1175 428.8L1176 425.9L1177 424.4L1178 421.2L1179 417.8L1180 415.4L1181 412.2L1182 409.8L1183 406.8L1184 405.4L1185 401.1L1186 396.6L1187 396.7L1188 395.0L1189 394.4L1190 396.5L1191 395.2L1192 392.4L1193 393.7L1194 395.9L1195 398.7L1196 399.6L1197 402.0L1198 403.2L1199 405.0L1200 409.3L1201 410.6L1202 410.4L1203 413.3L1204 415.4L1205 416.3L1206 416.9L1207 416.4L1208 415.6L1209 414.0L1210 413.2L1211 410.7L1212 410.5L1213 409.6L1214 408.9L1215 409.2L1216 409.0L1217 410.4L1218 411.4L1219 411.4L1220 413.6L1221 413.9L1222 415.9L1223 418.5L1224 419.5L1225 421.0L1226 421.5L1227 423.1L1228 425.2L1229 426.8L1230 441.3L1231 464.0L1231.3 470.6L1231.7 470.6L1231.8 422.6L1232 423.0L1233 422.9L1234 422.4L1235 423.1L1236 423.8L1237 424.8L1238 425.9L1239 426.9L1240 427.8L1241 428.6L1242 430.1L1243 431.1L1244 431.2L1245 432.2L1245.6 432.7L1245.8 435.5L1246 436.0L1247 436.6L1248 436.5L1249 437.0L1250 437.0L1251 437.2L1252 437.0L1253 436.9L1254 437.0L1255 436.8L1256 437.2L1257 437.9L1258 437.7L1259 438.5L1260 438.6L1261 437.7L1262 436.1L1263 434.9L1264 434.4L1265 434.3L1266 434.2L1267 434.4L1268 433.7L1269 433.7L1270 434.4L1271 434.5L1272 435.2L1273 435.5L1274 436.3L1275 437.7L1276 438.1L1277 439.5L1278 440.1L1279 440.7L1280 441.5L1281 442.2L1282 442.0L1283 442.8L1284 442.8L1285 442.4L1286 442.9L1287 443.1L1288 443.0L1289 443.2L1290 443.1L1291 441.9L1292 441.3L1293 439.7L1294 438.1L1295 437.1L1296 435.3L1297 434.8L1298 434.3L1299 432.7L1299.5 430.8L1299.6 413.4L1300 413.8L1301 413.2L1302 413.2L1303 413.6L1304 413.9L1305 413.7L1306 414.7L1307 415.1L1308 415.0L1309 415.0L1310 414.9L1311 415.2L1312 416.1L1313 416.0L1314 429.4L1315 431.5L1316 432.5L1317 433.8L1318 434.2L1319 434.4L1320 435.8L1321 436.0L1322 437.2L1323 437.7L1324 438.1L1325 438.0L1326 438.1L1327 438.5L1328 439.3L1329 439.2L1330 439.3L1331 438.3L1332 436.5L1333 435.3L1334 433.6L1335 430.5L1336 429.4L1337 429.4L1338 428.7L1339 428.3L1340 427.9L1341 428.1L1342 427.7L1343 427.7L1344 427.9L1345 428.1L1346 427.5L1347 427.9L1348 429.5L1349 432.4L1350 432.9L1351 432.9L1352 431.7L1353 431.7L1354 431.8L1355 432.2L1356 432.4L1357 432.0L1358 432.8L1359 433.8L1360 434.8L1361 436.5L1362 437.2L1363 438.3L1364 439.1L1365 440.0L1366 441.0L1367 442.7L1368 443.4L1369 444.3L1370 445.5L1371 446.9L1372 447.4L1373 447.9L1374 448.2L1375 447.8L1376 447.8L1377 448.1V472.3Z" fill="#6d6dc6"/>
<path d="M190 472.3V471.6L191 470.8L192 471.2L193 471.4L194 471.6L195 471.8L196 471.9L197 472.0L198 472.1L199 472.2L200 472.3L201 472.2L202 472.2L203 472.1L204 472.1L205 472.0L206 472.0L207 471.9L208 471.9L209 471.8L210 471.8L211 471.7L212 471.7L213 471.6L214 471.6L215 471.5L216 471.5L217 471.4L218 471.3L219 471.2L220 471.1L221 471.0L222 470.8L223 470.7L224 470.6L225 470.6L226 470.5L227 470.4L228 470.3L229 470.2L230 470.2L231 470.1L232 470.1L233 470.0L234 470.0L235 470.0L236 469.9L237 469.8L238 469.8L239 469.8L240 469.7L241 469.7L242 469.7L243 469.6L244 469.6L245 469.6L246 469.6L247 469.5L248 469.4L249 469.4L250 469.4L251 469.4L252 469.4L253 469.5L254 469.5L255 469.5L256 469.5L257 469.5L258 469.6L259 469.6L260 469.7L261 469.7L262 469.7L263 469.8L264 469.8L265 469.9L266 470.0L267 470.0L268 470.1L269 470.2L270 470.2L271 470.3L272 470.4L273 470.4L274 470.5L275 470.6L276 470.7L277 470.7L278 470.8L279 470.9L280 470.9L281 471.0L282 471.0L283 471.1L284 471.1L285 471.2L286 471.2L287 471.2L288 471.3L289 471.3L290 471.4L291 471.4L292 471.4L293 471.5L294 471.5L295 471.5L296 471.6L297 471.6L298 471.6L299 471.7L300 471.7L301 471.7L302 471.7L303 471.8L304 471.8L305 471.8L306 471.9L307 471.9L308 471.9L309 471.9L310 472.0L311 472.0L312 472.0L313 472.1L314 472.1L315 472.1L316 472.1L317 472.2L318 472.2L319 472.3L320 472.3L321 472.3L322 472.3L323 472.3L324 472.3L325 472.3L326 472.3L327 472.3L327.6 472.3L328 472.3L329 472.3L330 472.3L331 472.3L332 472.3L333 472.3L334 472.3L335 472.3L336 472.3L337 472.3L338 472.3L339 472.3L340 472.3L341 472.3L342 472.3L343 469.9L344 469.5L345 469.4L346 469.4L347 469.3L348 469.2L349 469.1L350 469.1L351 469.0L352 468.9L353 468.9L354 468.7L355 468.6L356 468.5L357 468.5L358 468.5L359 468.5L360 468.4L361 468.4L362 468.5L363 468.5L364 468.5L365 468.5L366 468.5L367 468.5L368 468.5L369 468.5L370 468.5L371 468.5L372 468.4L373 468.4L374 468.4L375 468.3L376 468.3L377 468.3L378 468.3L379 468.3L380 468.3L381 468.3L382 468.3L383 468.2L384 468.0L385 467.8L386 467.6L387 467.5L388 467.3L389 467.1L390 466.7L391 466.3L392 465.9L393 465.6L394 465.4L395 465.3L396 465.1L397 464.9L398 464.8L399 464.8L400 464.8L401 464.9L402 464.9L403 465.0L404 465.1L405 465.5L406 465.7L407 465.8L408 466.1L409 466.4L410 466.5L411 466.7L412 466.8L413 466.9L414 466.9L415 467.0L416 467.0L417 466.9L418 466.9L419 467.0L420 467.0L421 467.1L422 467.1L423 467.2L424 467.3L425 467.4L426 467.5L427 467.5L428 467.5L429 467.5L430 467.6L431 467.6L432 467.6L433 467.6L434 467.7L435 467.7L436 467.6L437 467.6L438 467.5L439 467.5L440 467.5L441 467.6L442 467.6L443 467.6L444 467.7L445 467.7L446 467.7L447 467.7L448 467.6L449 467.6L450 467.5L451 467.5L452 467.5L453 467.5L454 467.6L455 467.7L456 467.7L457 467.8L458 467.9L459 467.9L460 468.0L461 468.1L462 468.2L463 468.3L464 468.4L465 468.4L466 468.4L467 468.4L468 468.4L469 468.6L470 468.7L471 468.7L472 468.7L473 468.8L474 468.8L475 468.8L476 468.9L477 468.9L478 468.9L479 468.9L480 469.0L481 468.9L482 468.8L483 468.8L484 468.7L485 468.5L486 468.3L487 468.1L488 467.9L489 467.8L490 467.6L491 467.4L492 467.3L493 467.1L494 466.9L495 466.9L496 466.8L497 466.8L498 466.8L499 466.7L500 466.6L501 466.5L502 466.4L503 466.2L504 465.9L505 465.4L506 464.9L507 464.1L508 463.6L509 462.9L510 462.2L511 461.3L512 460.2L513 458.8L514 457.5L515 456.3L516 454.7L517 453.5L518 452.4L519 451.7L520 451.0L521 450.4L522 449.3L523 448.6L524 448.0L525 447.1L526 445.6L527 444.4L528 443.7L529 442.9L530 441.1L531 439.9L532 438.5L533 438.5L534 438.5L535 437.7L536 437.8L537 438.4L538 437.9L539 438.1L540 438.3L541 439.3L542 439.1L543 440.0L544 439.8L545 440.3L546 440.8L547 440.7L548 440.1L549 440.4L550 440.7L551 440.4L552 440.5L553 440.6L554 440.2L555 440.0L556 439.6L557 439.2L558 438.9L559 438.4L560 438.8L561 438.9L562 439.1L563 438.7L564 439.0L564.4 439.0L564.5 377.5L565 376.1L566 375.2L567 375.8L568 375.7L569 372.6L570 373.4L571 371.3L572 370.7L573 370.0L574 368.9L575 369.8L576 370.3L577 370.4L578 371.0L579 374.8L580 376.5L581 377.8L582 379.7L583 382.8L584 385.7L585 390.5L586 394.6L587 396.3L588 395.1L589 398.8L590 403.8L591 407.8L592 409.7L593 410.9L594 412.9L595 415.7L596 417.9L597 419.4L598 420.5L599 422.2L600 423.3L601 424.7L602 425.0L603 425.9L604 427.5L605 429.2L606 428.0L607 428.0L608 427.6L609 427.4L610 426.1L611 424.8L612 423.8L613 423.2L614 421.9L615 421.5L616 420.5L617 419.3L618 415.9L619 412.6L620 409.8L621 407.1L622 404.9L623 402.6L624 400.7L625 399.7L626 399.2L627 398.0L628 396.4L629 396.0L630 395.7L631 393.7L632 395.0L633 395.1L634 395.5L635 397.4L636 396.9L637 396.8L638 397.9L639 398.5L640 398.6L641 400.2L642 400.1L643 399.4L644 398.2L645 397.4L646 396.0L647 395.0L648 393.0L649 391.4L650 389.7L651 389.0L652 387.9L653 385.8L654 383.9L655 383.3L656 380.8L657 379.8L658 380.2L659 381.3L660 380.7L661 381.2L662 383.9L663 383.2L664 382.7L665 383.9L666 385.3L667 386.1L668 388.4L669 388.8L670 391.0L671 393.4L672 394.9L673 395.1L674 397.0L675 397.4L676 398.1L677 400.5L678 403.8L679 406.1L680 406.4L681 406.9L682 407.8L683 408.4L684 409.8L685 410.4L686 410.5L687 409.5L688 408.1L689 405.7L690 403.4L691 402.0L692 400.2L693 399.6L694 401.0L695 403.1L696 406.6L697 409.2L698 411.4L699 413.1L700 415.3L701 416.0L702 418.2L703 418.7L704 419.6L705 422.1L706 423.2L707 423.7L708 424.6L709 426.4L710 428.0L711 429.3L712 429.6L713 431.2L714 431.9L715 433.1L716 433.7L717 434.0L718 435.6L719 435.5L720 435.8L721 435.7L722 435.8L723 436.1L724 435.4L725 435.3L726 435.7L727 435.7L728 435.2L729 435.4L730 435.8L731 436.4L732 436.6L733 436.9L734 437.0L735 438.4L736 438.7L737 439.1L738 439.8L739 439.0L739.4 438.9L739.6 435.4L740 435.4L741 434.3L742 433.1L743 431.3L744 430.8L745 430.5L746 429.9L747 429.5L748 430.0L749 430.2L750 429.5L751 430.0L752 430.2L753 432.0L754 433.5L754.1 433.3L754.3 436.6L755 436.6L756 436.0L757 435.9L758 436.1L759 436.4L760 436.3L761 436.2L762 436.7L763 436.8L764 437.6L765 437.3L766 437.5L767 437.5L768 438.1L769 439.4L770 440.6L771 440.8L772 442.1L773 442.9L774 443.8L775 444.7L776 445.1L777 445.2L778 446.1L779 446.4L780 446.8L781 446.8L782 446.9L783 447.1L784 447.2L785 447.2L786 446.7L787 446.9L788 447.2L789 446.9L790 446.7L791 447.1L792 447.6L793 447.7L794 447.8L795 447.7L796 447.9L797 448.0L798 448.0L799 447.9L800 447.7L801 447.9L802 448.3L803 448.5L804 448.6L805 448.9L806 449.0L807 449.1L808 448.9L809 448.4L810 448.7L811 448.6L812 448.7L813 448.8L814 449.4L815 449.7L816 450.0L817 450.2L818 450.5L819 450.6L820 450.9L821 451.2L822 452.0L823 452.3L824 452.0L825 451.9L826 452.4L827 452.8L827.6 453.2L827.8 448.1L828 447.5L829 446.4L830 445.5L831 444.5L832 444.2L833 443.7L834 443.3L835 442.5L836 441.8L837 441.3L838 441.1L839 441.4L840 441.6L840.7 442.1L840.9 443.9L841 444.3L842 444.4L843 445.2L844 445.4L845 446.0L846 446.5L847 446.9L848 447.0L849 446.9L850 446.6L851 446.9L852 446.9L853 446.4L854 446.1L855 446.0L856 446.0L857 445.6L858 445.7L859 445.5L860 445.1L861 444.5L862 444.4L863 444.1L864 444.1L865 444.2L866 444.2L867 443.6L868 443.6L869 443.9L870 444.2L871 443.9L872 444.1L873 444.7L874 445.3L875 445.5L876 445.6L877 446.6L878 447.4L879 447.7L880 448.0L881 448.2L882 448.1L883 447.5L884 447.1L885 446.9L886 446.7L887 445.8L888 445.7L889 445.1L890 444.9L891 444.6L892 443.7L893 443.4L894 442.5L895 442.2L896 442.4L897 442.3L898 442.4L899 442.6L900 442.7L901 443.8L902 444.1L903 444.3L904 443.9L905 444.5L906 445.0L907 445.2L908 445.3L909 445.2L910 445.5L911 446.0L912 446.3L913 446.7L914 447.6L915 448.3L916 448.3L917 448.8L918 449.7L919 449.6L920 449.9L921 450.1L922 450.2L923 449.7L924 449.3L925 448.6L926 447.9L927 446.9L928 446.8L929 445.9L930 445.6L931 445.4L932 444.7L933 444.2L934 444.2L935 444.3L936 443.9L937 443.8L938 443.4L939 443.8L940 443.9L941 443.5L942 443.8L943 443.6L944 443.1L945 442.8L946 443.3L947 443.3L948 443.2L949 442.4L950 442.6L951 442.3L952 442.0L953 442.7L954 443.1L955 442.8L956 443.2L957 443.8L958 443.7L959 444.1L960 444.4L961 444.8L962 444.5L963 444.3L964 444.5L965 444.4L966 445.1L967 445.2L968 445.0L969 444.7L970 444.8L971 445.4L972 445.8L973 445.9L974 445.9L975 445.7L976 446.2L977 446.1L978 446.1L979 446.2L980 446.4L981 446.7L982 447.1L983 447.4L984 447.6L985 447.3L986 447.3L987 447.1L988 446.3L989 446.2L990 446.1L991 445.6L992 444.6L993 444.0L994 442.9L995 442.2L996 441.4L997 441.2L998 440.8L999 440.1L1000 439.0L1001 437.9L1002 437.4L1003 437.1L1004 436.4L1005 435.5L1006 434.7L1007 434.1L1008 433.5L1009 433.2L1010 433.4L1011 432.4L1012 432.3L1013 431.8L1014 431.5L1015 430.8L1016 430.9L1017 430.7L1018 430.4L1019 430.3L1020 429.2L1021 429.0L1022 429.1L1023 428.9L1024 427.8L1025 427.8L1026 428.0L1027 427.0L1028 426.6L1029 425.8L1030 426.3L1031 425.8L1032 424.7L1033 424.5L1034 424.6L1035 425.8L1036 426.0L1037 426.6L1038 427.3L1039 427.1L1040 428.0L1041 428.5L1042 429.7L1043 429.9L1044 430.7L1045 431.7L1046 431.7L1047 431.0L1048 431.6L1049 431.0L1050 430.5L1051 430.3L1052 429.6L1053 429.1L1054 428.5L1055 426.0L1056 422.8L1057 419.8L1058 417.6L1059 415.4L1060 412.8L1061 410.7L1062 410.0L1063 408.7L1064 407.6L1065 405.7L1066 404.9L1067 407.0L1068 408.7L1069 410.0L1070 411.6L1071 413.5L1072 416.0L1073 417.6L1074 418.1L1075 419.7L1076 421.3L1077 422.4L1078 422.7L1079 424.4L1080 425.4L1081 426.1L1082 426.8L1083 426.9L1084 427.1L1085 428.3L1086 429.3L1087 429.3L1088 430.1L1089 430.8L1090 430.0L1091 430.4L1092 430.3L1093 430.6L1094 430.3L1095 430.5L1096 431.0L1097 431.3L1098 430.4L1099 429.8L1100 429.0L1101 429.5L1102 428.8L1103 428.5L1104 428.6L1105 429.1L1106 429.2L1107 429.0L1108 428.5L1109 429.7L1110 430.0L1111 430.0L1112 430.1L1113 431.4L1114 432.2L1115 431.8L1116 431.9L1117 432.8L1118 433.9L1119 433.6L1120 434.1L1121 434.1L1122 434.4L1123 434.6L1124 434.7L1125 433.5L1125.9 433.2L1126 433.3L1127 431.9L1128 431.0L1129 431.3L1130 431.7L1131 431.8L1132 431.8L1133 432.1L1134 432.3L1135 432.1L1136 431.4L1137 430.9L1138 432.7L1139 433.4L1140 433.7L1141 434.9L1142 434.9L1143 435.9L1143.6 435.9L1143.8 435.9L1144 436.0L1145 436.9L1146 437.5L1147 437.9L1148 438.4L1149 438.3L1150 438.4L1151 438.5L1152 438.9L1153 438.4L1154 438.2L1155 438.4L1156 437.9L1157 438.0L1158 438.6L1159 439.3L1160 439.4L1161 439.3L1162 439.0L1163 438.4L1164 438.3L1165 438.0L1166 437.7L1167 438.1L1168 437.6L1169 437.8L1170 437.3L1171 436.9L1172 437.0L1173 434.6L1174 431.1L1175 428.8L1176 425.9L1177 424.4L1178 421.2L1179 417.8L1180 415.4L1181 412.2L1182 409.8L1183 406.8L1184 405.4L1185 401.1L1186 396.6L1187 396.7L1188 395.0L1189 394.4L1190 396.5L1191 395.2L1192 392.4L1193 393.7L1194 395.9L1195 398.7L1196 399.6L1197 402.0L1198 403.2L1199 405.0L1200 409.3L1201 410.6L1202 410.4L1203 413.3L1204 415.4L1205 416.3L1206 416.9L1207 416.4L1208 415.6L1209 414.0L1210 413.2L1211 410.7L1212 410.5L1213 409.6L1214 408.9L1215 409.2L1216 409.0L1217 410.4L1218 411.4L1219 411.4L1220 413.6L1221 413.9L1222 415.9L1223 418.5L1224 419.5L1225 421.0L1226 421.5L1227 423.1L1228 425.2L1229 426.8L1230 441.3L1231 464.0L1231.3 470.6L1231.7 470.6L1231.8 422.6L1232 423.0L1233 422.9L1234 422.4L1235 423.1L1236 423.8L1237 424.8L1238 425.9L1239 426.9L1240 427.8L1241 428.6L1242 430.1L1243 431.1L1244 431.2L1245 432.2L1245.6 432.7L1245.8 435.5L1246 436.0L1247 436.6L1248 436.5L1249 437.0L1250 437.0L1251 437.2L1252 437.0L1253 436.9L1254 437.0L1255 436.8L1256 437.2L1257 437.9L1258 437.7L1259 438.5L1260 438.6L1261 437.7L1262 436.1L1263 434.9L1264 434.4L1265 434.3L1266 434.2L1267 434.4L1268 433.7L1269 433.7L1270 434.4L1271 434.5L1272 435.2L1273 435.5L1274 436.3L1275 437.7L1276 438.1L1277 439.5L1278 440.1L1279 440.7L1280 441.5L1281 442.2L1282 442.0L1283 442.8L1284 442.8L1285 442.4L1286 442.9L1287 443.1L1288 443.0L1289 443.2L1290 443.1L1291 441.9L1292 441.3L1293 439.7L1294 438.1L1295 437.1L1296 435.3L1297 434.8L1298 434.3L1299 432.7L1299.5 430.8L1299.6 413.4L1300 413.8L1301 413.2L1302 413.2L1303 413.6L1304 413.9L1305 413.7L1306 414.7L1307 415.1L1308 415.0L1309 415.0L1310 414.9L1311 415.2L1312 416.1L1313 416.0L1314 429.4L1315 431.5L1316 432.5L1317 433.8L1318 434.2L1319 434.4L1320 435.8L1321 436.0L1322 437.2L1323 437.7L1324 438.1L1325 438.0L1326 438.1L1327 438.5L1328 439.3L1329 439.2L1330 439.3L1331 438.3L1332 436.5L1333 435.3L1334 433.6L1335 430.5L1336 429.4L1337 429.4L1338 428.7L1339 428.3L1340 427.9L1341 428.1L1342 427.7L1343 427.7L1344 427.9L1345 428.1L1346 427.5L1347 427.9L1348 429.5L1349 432.4L1350 432.9L1351 432.9L1352 431.7L1353 431.7L1354 431.8L1355 432.2L1356 432.4L1357 432.0L1358 432.8L1359 433.8L1360 434.8L1361 436.5L1362 437.2L1363 438.3L1364 439.1L1365 440.0L1366 441.0L1367 442.7L1368 443.4L1369 444.3L1370 445.5L1371 446.9L1372 447.4L1373 447.9L1374 448.2L1375 447.8L1376 447.8L1377 448.1V472.3Z" fill="#80bd9a"/>
<path d="M190 472.3V471.6L191 470.8L192 471.2L193 471.4L194 471.6L195 471.8L196 471.9L197 472.0L198 472.1L199 472.2L200 472.3L201 472.2L202 472.2L203 472.1L204 472.1L205 472.0L206 472.0L207 471.9L208 471.9L209 471.8L210 471.8L211 471.7L212 471.7L213 471.6L214 471.6L215 471.5L216 471.5L217 471.4L218 471.3L219 471.2L220 471.1L221 471.0L222 470.8L223 470.7L224 470.6L225 470.6L226 470.5L227 470.4L228 470.3L229 470.2L230 470.2L231 470.1L232 470.1L233 470.0L234 470.0L235 470.0L236 469.9L237 469.8L238 469.8L239 469.8L240 469.7L241 469.7L242 469.7L243 469.6L244 469.6L245 469.6L246 469.6L247 469.5L248 469.4L249 469.4L250 469.4L251 469.4L252 469.4L253 469.5L254 469.5L255 469.5L256 469.5L257 469.5L258 469.6L259 469.6L260 469.7L261 469.7L262 469.7L263 469.8L264 469.8L265 469.9L266 470.0L267 470.0L268 470.1L269 470.2L270 470.2L271 470.3L272 470.4L273 470.4L274 470.5L275 470.6L276 470.7L277 470.7L278 470.8L279 470.9L280 470.9L281 471.0L282 471.0L283 471.1L284 471.1L285 471.2L286 471.2L287 471.2L288 471.3L289 471.3L290 471.4L291 471.4L292 471.4L293 471.5L294 471.5L295 471.5L296 471.6L297 471.6L298 471.6L299 471.7L300 471.7L301 471.7L302 471.7L303 471.8L304 471.8L305 471.8L306 471.9L307 471.9L308 471.9L309 471.9L310 472.0L311 472.0L312 472.0L313 472.1L314 472.1L315 472.1L316 472.1L317 472.2L318 472.2L319 472.3L320 472.3L321 472.3L322 472.3L323 472.3L324 472.3L325 472.3L326 472.3L327 472.3L327.6 472.3L328 472.3L329 472.3L330 472.3L331 472.3L332 472.3L333 472.3L334 472.3L335 472.3L336 472.3L337 472.3L338 472.3L339 472.3L340 472.3L341 472.3L342 472.3L343 469.9L344 469.5L345 469.4L346 469.4L347 469.3L348 469.2L349 469.1L350 469.1L351 469.0L352 468.9L353 468.9L354 468.7L355 468.6L356 468.5L357 468.5L358 468.5L359 468.5L360 468.4L361 468.4L362 468.5L363 468.5L364 468.5L365 468.5L366 468.5L367 468.5L368 468.5L369 468.5L370 468.5L371 468.5L372 468.4L373 468.4L374 468.4L375 468.3L376 468.3L377 468.3L378 468.3L379 468.3L380 468.3L381 468.3L382 468.3L383 468.2L384 468.0L385 467.8L386 467.6L387 467.5L388 467.3L389 467.1L390 466.7L391 466.3L392 465.9L393 465.6L394 465.4L395 465.3L396 465.1L397 464.9L398 464.8L399 464.8L400 464.8L401 464.9L402 464.9L403 465.0L404 465.1L405 465.5L406 465.7L407 465.8L408 466.1L409 466.4L410 466.5L411 466.7L412 466.8L413 466.9L414 466.9L415 467.0L416 467.0L417 466.9L418 466.9L419 467.0L420 467.0L421 467.1L422 467.1L423 467.2L424 467.3L425 467.4L426 467.5L427 467.5L428 467.5L429 467.5L430 467.6L431 467.6L432 467.6L433 467.6L434 467.7L435 467.7L436 467.6L437 467.6L438 467.5L439 467.5L440 467.5L441 467.6L442 467.6L443 467.6L444 467.7L445 467.7L446 467.7L447 467.7L448 467.6L449 467.6L450 467.5L451 467.5L452 467.5L453 467.5L454 467.6L455 467.7L456 467.7L457 467.8L458 467.9L459 467.9L460 468.0L461 468.1L462 468.2L463 468.3L464 468.4L465 468.4L466 468.4L467 468.4L468 468.4L469 468.6L470 468.7L471 468.7L472 468.7L473 468.8L474 468.8L475 468.8L476 468.9L477 468.9L478 468.9L479 468.9L480 469.0L481 468.9L482 468.8L483 468.8L484 468.7L485 468.5L486 468.3L487 468.1L488 467.9L489 467.8L490 467.6L491 467.4L492 467.3L493 467.1L494 466.9L495 466.9L496 466.8L497 466.8L498 466.8L499 466.7L500 466.6L501 466.5L502 466.4L503 466.2L504 465.9L505 465.4L506 464.9L507 464.1L508 463.6L509 462.9L510 462.2L511 461.3L512 460.2L513 458.8L514 457.5L515 456.3L516 454.7L517 453.5L518 452.4L519 451.7L520 451.0L521 450.4L522 449.3L523 448.6L524 448.0L525 447.1L526 445.6L527 444.4L528 443.7L529 442.9L530 441.1L531 439.9L532 438.5L533 438.5L534 438.5L535 437.7L536 437.8L537 438.4L538 437.9L539 438.1L540 438.3L541 439.3L542 439.1L543 440.0L544 439.8L545 440.3L546 440.8L547 440.7L548 440.1L549 440.4L550 440.7L551 440.4L552 440.5L553 440.6L554 440.2L555 440.0L556 439.6L557 439.2L558 438.9L559 438.4L560 438.8L561 438.9L562 439.1L563 438.7L564 439.0L564.4 439.0L564.5 377.5L565 376.1L566 375.2L567 375.8L568 375.7L569 372.6L570 373.4L571 371.3L572 370.7L573 370.0L574 368.9L575 369.8L576 370.3L577 370.4L578 371.0L579 374.8L580 376.5L581 377.8L582 379.7L583 382.8L584 385.7L585 390.5L586 394.6L587 396.3L588 395.1L589 398.8L590 403.8L591 407.8L592 409.7L593 410.9L594 412.9L595 415.7L596 417.9L597 419.4L598 420.5L599 422.2L600 423.3L601 424.7L602 425.0L603 425.9L604 427.5L605 429.2L606 428.0L607 428.0L608 427.6L609 427.4L610 426.1L611 424.8L612 423.8L613 423.2L614 421.9L615 421.5L616 420.5L617 419.3L618 415.9L619 412.6L620 409.8L621 407.1L622 404.9L623 402.6L624 400.7L625 399.7L626 399.2L627 398.0L628 396.4L629 396.0L630 395.7L631 393.7L632 395.0L633 395.1L634 395.5L635 397.4L636 396.9L637 396.8L638 397.9L639 398.5L640 398.6L641 400.2L642 400.1L643 399.4L644 398.2L645 397.4L646 396.0L647 395.0L648 393.0L649 391.4L650 389.7L651 389.0L652 387.9L653 385.8L654 383.9L655 383.3L656 380.8L657 379.8L658 380.2L659 381.3L660 380.7L661 381.2L662 383.9L663 383.2L664 382.7L665 383.9L666 385.3L667 386.1L668 388.4L669 388.8L670 391.0L671 393.4L672 394.9L673 395.1L674 397.0L675 397.4L676 398.1L677 400.5L678 403.8L679 406.1L680 406.4L681 406.9L682 407.8L683 408.4L684 409.8L685 410.4L686 410.5L687 409.5L688 408.1L689 405.7L690 403.4L691 402.0L692 400.2L693 399.6L694 401.0L695 403.1L696 406.6L697 409.2L698 411.4L699 413.1L700 415.3L701 416.0L702 418.2L703 418.7L704 419.6L705 422.1L706 423.2L707 423.7L708 424.6L709 426.4L710 428.0L711 429.3L712 429.6L713 431.2L714 431.9L715 433.1L716 433.7L717 434.0L718 435.6L719 435.5L720 435.8L721 435.7L722 435.8L723 436.1L724 435.4L725 435.3L726 435.7L727 435.7L728 435.2L729 435.4L730 435.8L731 436.4L732 436.6L733 436.9L734 437.0L735 438.4L736 438.7L737 439.1L738 439.8L739 439.0L739.4 438.9L739.6 435.4L740 435.4L741 434.3L742 433.1L743 431.3L744 430.8L745 430.5L746 429.9L747 429.5L748 430.0L749 430.2L750 429.5L751 430.0L752 430.2L753 432.0L754 433.5L754.1 433.3L754.3 436.6L755 436.6L756 436.0L757 435.9L758 436.1L759 436.4L760 436.3L761 436.2L762 436.7L763 436.8L764 437.6L765 437.3L766 437.5L767 437.5L768 438.1L769 439.4L770 440.6L771 440.8L772 442.1L773 442.9L774 443.8L775 444.7L776 445.1L777 445.2L778 446.1L779 446.4L780 446.8L781 446.8L782 446.9L783 447.1L784 447.2L785 447.2L786 446.7L787 446.9L788 447.2L789 446.9L790 446.7L791 447.1L792 447.6L793 447.7L794 447.8L795 447.7L796 447.9L797 448.0L798 448.0L799 447.9L800 447.7L801 447.9L802 448.3L803 448.5L804 448.6L805 448.9L806 449.0L807 449.1L808 448.9L809 448.4L810 448.7L811 448.6L812 448.7L813 448.8L814 449.4L815 449.7L816 450.0L817 450.2L818 450.5L819 450.6L820 450.9L821 451.2L822 452.0L823 452.3L824 452.0L825 451.9L826 452.4L827 452.8L827.6 453.2L827.8 448.1L828 447.5L829 446.4L830 445.5L831 444.5L832 444.2L833 443.7L834 443.3L835 442.5L836 441.8L837 441.3L838 441.1L839 441.4L840 441.6L840.7 442.1L840.9 443.9L841 444.3L842 444.4L843 445.2L844 445.4L845 446.0L846 446.5L847 446.9L848 447.0L849 446.9L850 446.6L851 446.9L852 446.9L853 446.4L854 446.1L855 446.0L856 446.0L857 445.6L858 445.7L859 445.5L860 445.1L861 444.5L862 444.4L863 444.1L864 444.1L865 444.2L866 444.2L867 443.6L868 443.6L869 443.9L870 444.2L871 443.9L872 444.1L873 444.7L874 445.3L875 445.5L876 445.6L877 446.6L878 447.4L879 447.7L880 448.0L881 448.2L882 448.1L883 447.5L884 447.1L885 446.9L886 446.7L887 445.8L888 445.7L889 445.1L890 444.9L891 444.6L892 443.7L893 443.4L894 442.5L895 442.2L896 442.4L897 442.3L898 442.4L899 442.6L900 442.7L901 443.8L902 444.1L903 444.3L904 443.9L905 444.5L906 445.0L907 445.2L908 445.3L909 445.2L910 445.5L911 446.0L912 446.3L913 446.7L914 447.6L915 448.3L916 448.3L917 448.8L918 449.7L919 449.6L920 449.9L921 450.1L922 450.2L923 449.7L924 449.3L925 448.6L926 447.9L927 446.9L928 446.8L929 445.9L930 445.6L931 445.4L932 444.7L933 444.2L934 444.2L935 444.3L936 443.9L937 443.8L938 443.4L939 443.8L940 443.9L941 443.5L942 443.8L943 443.6L944 443.1L945 442.8L946 443.3L947 443.3L948 443.2L949 442.4L950 442.6L951 442.3L952 442.0L953 442.7L954 443.1L955 442.8L956 443.2L957 443.8L958 443.7L959 444.1L960 444.4L961 444.8L962 444.5L963 444.3L964 444.5L965 444.4L966 445.1L967 445.2L968 445.0L969 444.7L970 444.8L971 445.4L972 445.8L973 445.9L974 445.9L975 445.7L976 446.2L977 446.1L978 446.1L979 446.2L980 446.4L981 446.7L982 447.1L983 447.4L984 447.6L985 447.3L986 447.3L987 447.1L988 446.3L989 446.2L990 446.1L991 445.6L992 444.6L993 444.0L994 442.9L995 442.2L996 441.4L997 441.2L998 440.8L999 440.1L1000 439.0L1001 437.9L1002 437.4L1003 437.1L1004 436.4L1005 435.5L1006 434.7L1007 434.1L1008 433.5L1009 433.2L1010 433.4L1011 432.4L1012 432.3L1013 431.8L1014 431.5L1015 430.8L1016 430.9L1017 430.7L1018 430.4L1019 430.3L1020 429.2L1021 429.0L1022 429.1L1023 428.9L1024 427.8L1025 427.8L1026 428.0L1027 427.0L1028 426.6L1029 425.8L1030 426.3L1031 425.8L1032 424.7L1033 424.6L1034 424.8L1035 426.2L1036 426.6L1037 427.3L1038 428.1L1039 428.0L1040 429.0L1041 429.6L1042 431.0L1043 431.3L1044 432.2L1045 433.2L1046 433.3L1047 432.8L1048 433.4L1049 433.0L1050 432.6L1051 432.5L1052 431.9L1053 431.6L1054 431.0L1055 428.8L1056 425.9L1057 423.2L1058 421.3L1059 419.3L1060 417.0L1061 415.2L1062 414.6L1063 413.5L1064 412.6L1065 411.0L1066 410.4L1067 412.3L1068 414.0L1069 415.2L1070 416.8L1071 418.5L1072 420.9L1073 422.3L1074 422.9L1075 424.3L1076 425.8L1077 426.9L1078 427.2L1079 428.9L1080 429.7L1081 430.5L1082 431.1L1083 431.2L1084 431.5L1085 432.7L1086 433.6L1087 433.6L1088 434.4L1089 435.0L1090 434.4L1091 434.8L1092 434.8L1093 435.1L1094 434.8L1095 435.1L1096 435.6L1097 435.9L1098 435.2L1099 434.7L1100 434.1L1101 434.5L1102 434.0L1103 433.8L1104 433.8L1105 434.2L1106 434.3L1107 434.1L1108 433.6L1109 434.6L1110 434.9L1111 434.8L1112 434.9L1113 436.0L1114 436.7L1115 436.3L1116 436.3L1117 437.2L1118 438.1L1119 437.8L1120 438.2L1121 438.1L1122 438.4L1123 438.5L1124 438.6L1125 437.5L1125.9 437.2L1126 437.3L1127 436.0L1128 435.2L1129 435.4L1130 435.8L1131 435.8L1132 435.9L1133 436.1L1134 436.3L1135 436.2L1136 435.5L1137 435.2L1138 436.8L1139 437.5L1140 437.8L1141 438.9L1142 439.0L1143 439.9L1143.6 440.0L1143.8 439.9L1144 440.0L1145 440.7L1146 441.2L1147 441.6L1148 442.1L1149 441.9L1150 442.0L1151 442.1L1152 442.4L1153 441.9L1154 441.7L1155 441.8L1156 441.4L1157 441.4L1158 442.0L1159 442.5L1160 442.6L1161 442.9L1162 443.0L1163 442.8L1164 442.9L1165 442.9L1166 443.0L1167 443.5L1168 443.4L1169 443.8L1170 443.5L1171 443.3L1172 443.6L1173 441.9L1174 439.2L1175 437.5L1176 435.4L1177 434.5L1178 432.1L1179 429.7L1180 427.9L1181 425.6L1182 424.0L1183 421.8L1184 420.9L1185 417.9L1186 414.6L1187 414.8L1188 413.8L1189 413.5L1190 415.2L1191 414.3L1192 412.3L1193 413.3L1194 415.0L1195 417.0L1196 417.8L1197 419.6L1198 420.5L1199 421.9L1200 425.2L1201 426.2L1202 426.1L1203 428.3L1204 429.9L1205 430.6L1206 431.1L1207 430.7L1208 430.2L1209 429.0L1210 428.5L1211 426.6L1212 426.5L1213 425.9L1214 425.4L1215 425.7L1216 425.5L1217 426.5L1218 427.1L1219 427.1L1220 428.6L1221 428.8L1222 430.2L1223 432.1L1224 432.8L1225 433.9L1226 434.1L1227 435.2L1228 436.8L1229 437.9L1230 448.9L1231 466.0L1231.3 471.0L1231.7 471.0L1231.8 434.5L1232 434.9L1233 434.7L1234 434.3L1235 434.7L1236 435.2L1237 435.9L1238 436.7L1239 437.3L1240 438.0L1241 438.5L1242 439.7L1243 440.4L1244 440.3L1245 441.1L1245.6 441.4L1245.8 443.5L1246 444.0L1247 444.3L1248 444.2L1249 444.5L1250 444.5L1251 444.5L1252 444.3L1253 444.1L1254 444.2L1255 444.0L1256 444.2L1257 444.7L1258 444.4L1259 445.0L1260 445.0L1261 444.2L1262 442.8L1263 441.7L1264 441.2L1265 441.0L1266 440.9L1267 440.9L1268 440.2L1269 440.2L1270 440.8L1271 440.9L1272 441.4L1273 441.7L1274 442.4L1275 443.5L1276 443.9L1277 445.1L1278 445.6L1279 446.1L1280 446.7L1281 447.3L1282 447.2L1283 447.8L1284 447.8L1285 447.4L1286 447.8L1287 448.0L1288 447.9L1289 448.1L1290 448.0L1291 447.1L1292 446.5L1293 445.2L1294 443.9L1295 443.1L1296 441.5L1297 441.2L1298 440.7L1299 439.4L1299.5 437.8L1299.6 423.5L1300 423.9L1301 423.5L1302 423.6L1303 424.0L1304 424.2L1305 424.1L1306 424.9L1307 425.2L1308 425.0L1309 424.9L1310 424.8L1311 425.0L1312 425.7L1313 425.5L1314 436.7L1315 438.3L1316 439.1L1317 440.1L1318 440.4L1319 440.5L1320 441.5L1321 441.7L1322 442.6L1323 442.9L1324 443.2L1325 443.1L1326 443.1L1327 443.4L1328 444.0L1329 443.9L1330 443.8L1331 443.0L1332 441.3L1333 440.2L1334 438.7L1335 435.9L1336 434.9L1337 434.8L1338 434.1L1339 433.7L1340 433.2L1341 433.3L1342 432.9L1343 432.9L1344 433.2L1345 433.3L1346 432.8L1347 433.1L1348 434.6L1349 437.2L1350 437.6L1351 437.6L1352 436.6L1353 436.6L1354 436.7L1355 437.0L1356 437.3L1357 436.9L1358 437.7L1359 438.5L1360 439.4L1361 440.9L1362 441.6L1363 442.6L1364 443.2L1365 444.1L1366 445.0L1367 446.5L1368 447.1L1369 447.9L1370 449.0L1371 450.2L1372 450.7L1373 451.1L1374 451.4L1375 451.1L1376 451.1L1377 451.3V472.3Z" fill="#b968b9"/>
<path d="M190 472.3V472.3L191 472.3L192 472.3L193 472.3L194 472.3L195 472.3L196 472.3L197 472.3L198 472.3L199 472.3L200 472.3L201 472.3L202 472.3L203 472.3L204 472.3L205 472.3L206 472.3L207 472.3L208 472.3L209 472.3L210 472.3L211 472.3L212 472.3L213 472.3L214 472.3L215 472.3L216 472.3L217 472.3L218 472.3L219 472.3L220 472.3L221 472.3L222 472.3L223 472.3L224 472.3L225 472.3L226 472.3L227 472.3L228 472.3L229 472.3L230 472.3L231 472.3L232 472.3L233 472.3L234 472.3L235 472.3L236 472.3L237 472.3L238 472.3L239 472.3L240 472.3L241 472.3L242 472.3L243 472.3L244 472.3L245 472.3L246 472.3L247 472.3L248 472.3L249 472.3L250 472.3L251 472.3L252 472.3L253 472.3L254 472.3L255 472.3L256 472.3L257 472.3L258 472.3L259 472.3L260 472.3L261 472.3L262 472.3L263 472.3L264 472.3L265 472.3L266 472.3L267 472.3L268 472.3L269 472.3L270 472.3L271 472.3L272 472.3L273 472.3L274 472.3L275 472.3L276 472.3L277 472.3L278 472.3L279 472.3L280 472.3L281 472.3L282 472.3L283 472.3L284 472.3L285 472.3L286 472.3L287 472.3L288 472.3L289 472.3L290 472.3L291 472.3L292 472.3L293 472.3L294 472.3L295 472.3L296 472.3L297 472.3L298 472.3L299 472.3L300 472.3L301 472.3L302 472.3L303 472.3L304 472.3L305 472.3L306 472.3L307 472.3L308 472.3L309 472.3L310 472.3L311 472.3L312 472.3L313 472.3L314 472.3L315 472.3L316 472.3L317 472.3L318 472.3L319 472.3L320 472.3L321 472.3L322 472.3L323 472.3L324 472.3L325 472.3L326 472.3L327 472.3L327.6 472.3L328 472.3L329 472.3L330 472.3L331 472.3L332 472.3L333 472.3L334 472.3L335 472.3L336 472.3L337 472.3L338 472.3L339 472.3L340 472.3L341 472.3L342 472.3L343 472.3L344 472.3L345 472.3L346 472.3L347 472.3L348 472.3L349 472.3L350 472.3L351 472.3L352 472.3L353 472.3L354 472.3L355 472.3L356 472.3L357 472.3L358 472.3L359 472.3L360 472.3L361 472.3L362 472.3L363 472.3L364 472.3L365 472.3L366 472.3L367 472.3L368 472.3L369 472.3L370 472.3L371 472.3L372 472.3L373 472.3L374 472.3L375 472.3L376 472.3L377 472.3L378 472.3L379 472.3L380 472.3L381 472.3L382 472.3L383 472.3L384 472.3L385 472.3L386 472.3L387 472.3L388 472.3L389 472.3L390 472.3L391 472.3L392 472.3L393 472.3L394 472.3L395 472.3L396 472.3L397 472.3L398 472.3L399 472.3L400 472.3L401 472.3L402 472.3L403 472.3L404 472.3L405 472.3L406 472.3L407 472.3L408 472.3L409 472.3L410 472.3L411 472.3L412 472.3L413 472.3L414 472.3L415 472.3L416 472.3L417 472.3L418 472.3L419 472.3L420 472.3L421 472.3L422 472.3L423 472.3L424 472.3L425 472.3L426 472.3L427 472.3L428 472.3L429 472.3L430 472.3L431 472.3L432 472.3L433 472.3L434 472.3L435 472.3L436 472.3L437 472.3L438 472.3L439 472.3L440 472.3L441 472.3L442 472.3L443 472.3L444 472.3L445 472.3L446 472.3L447 472.3L448 472.3L449 472.3L450 472.3L451 472.3L452 472.3L453 472.3L454 472.3L455 472.3L456 472.3L457 472.3L458 472.3L459 472.3L460 472.3L461 472.3L462 472.3L463 472.3L464 472.3L465 472.3L466 472.3L467 472.3L468 472.3L469 472.3L470 472.3L471 472.3L472 472.3L473 472.3L474 472.3L475 472.3L476 472.3L477 472.3L478 472.3L479 472.3L480 472.3L481 472.3L482 472.3L483 472.3L484 472.3L485 472.3L486 472.3L487 472.3L488 472.3L489 472.3L490 472.3L491 472.3L492 472.3L493 472.3L494 472.3L495 472.3L496 472.3L497 472.3L498 472.3L499 472.3L500 472.1L501 471.9L502 471.7L503 471.5L504 471.3L505 471.0L506 470.8L507 470.5L508 470.2L509 469.9L510 469.6L511 469.0L512 468.3L513 467.5L514 466.7L515 466.0L516 465.0L517 464.3L518 463.6L519 463.0L520 462.3L521 461.6L522 460.7L523 460.0L524 459.3L525 458.4L526 457.3L527 456.3L528 455.5L529 454.7L530 453.3L531 452.2L532 451.0L533 450.6L534 450.3L535 449.5L536 449.3L537 449.4L538 448.8L539 448.7L540 448.6L541 449.1L542 449.0L543 449.4L544 449.3L545 449.5L546 449.8L547 449.6L548 449.2L549 449.3L550 449.4L551 449.1L552 449.1L553 449.1L554 448.7L555 448.5L556 448.1L557 447.7L558 447.4L559 447.0L560 447.2L561 447.2L562 447.4L563 447.1L564 447.3L564.4 447.3L564.5 385.4L565 384.1L566 383.4L567 384.1L568 384.1L569 381.4L570 382.2L571 380.4L572 380.0L573 379.4L574 378.6L575 379.5L576 380.0L577 380.2L578 380.7L579 384.1L580 385.6L581 386.7L582 388.3L583 391.0L584 393.6L585 398.2L586 402.1L587 403.9L588 403.1L589 406.4L590 410.8L591 414.4L592 416.1L593 417.1L594 418.9L595 421.4L596 423.4L597 424.7L598 425.7L599 427.2L600 428.1L601 429.4L602 429.6L603 430.3L604 431.7L605 433.2L606 432.1L607 432.0L608 431.7L609 431.4L610 430.2L611 429.0L612 428.0L613 427.4L614 426.2L615 425.8L616 424.8L617 423.8L618 420.6L619 417.6L620 415.0L621 412.4L622 410.4L623 408.2L624 406.5L625 405.6L626 405.1L627 403.9L628 402.4L629 402.0L630 401.8L631 399.8L632 401.1L633 401.3L634 401.7L635 403.6L636 403.1L637 403.1L638 404.2L639 404.8L640 405.0L641 406.6L642 406.6L643 406.3L644 405.4L645 405.0L646 404.0L647 403.3L648 401.7L649 400.6L650 399.3L651 398.9L652 398.2L653 396.6L654 395.1L655 394.8L656 392.8L657 392.2L658 392.4L659 393.1L660 392.4L661 392.7L662 394.9L663 394.0L664 393.4L665 394.3L666 395.3L667 395.8L668 397.6L669 397.7L670 399.5L671 401.4L672 402.5L673 402.7L674 404.5L675 404.9L676 405.6L677 407.8L678 410.9L679 413.0L680 413.4L681 413.9L682 414.8L683 415.4L684 416.8L685 417.4L686 418.1L687 417.9L688 417.3L689 415.9L690 414.6L691 414.1L692 413.2L693 413.4L694 414.6L695 416.4L696 419.3L697 421.6L698 423.4L699 424.9L700 426.8L701 427.5L702 429.4L703 429.8L704 430.7L705 432.8L706 433.8L707 434.4L708 435.2L709 436.7L710 438.1L711 439.2L712 439.6L713 441.0L714 441.7L715 442.8L716 443.4L717 443.8L718 445.1L719 445.3L720 445.7L721 445.9L722 445.9L723 445.9L724 445.2L725 444.9L726 445.0L727 444.8L728 444.2L729 444.2L730 444.4L731 444.6L732 444.6L733 444.6L734 444.6L735 445.5L736 445.5L737 445.7L738 446.1L739 445.4L739.4 445.2L739.6 442.3L740 442.3L741 441.2L742 440.0L743 438.4L744 437.8L745 437.4L746 436.7L747 436.3L748 436.7L749 436.9L750 436.3L751 436.7L752 436.9L753 438.4L754 439.6L754.1 439.5L754.3 442.3L755 442.2L756 441.7L757 441.7L758 441.8L759 442.1L760 442.0L761 441.9L762 442.3L763 442.4L764 443.1L765 442.8L766 443.0L767 443.0L768 443.6L769 444.6L770 445.6L771 445.8L772 446.9L773 447.6L774 448.3L775 449.1L776 449.4L777 449.5L778 450.3L779 450.6L780 450.9L781 450.9L782 450.9L783 451.1L784 451.2L785 451.2L786 450.8L787 451.0L788 451.3L789 451.0L790 450.8L791 451.2L792 451.5L793 451.6L794 451.8L795 451.7L796 451.8L797 451.9L798 451.9L799 451.8L800 451.6L801 451.7L802 452.1L803 452.3L804 452.4L805 452.6L806 452.6L807 452.7L808 452.6L809 452.1L810 452.4L811 452.3L812 452.3L813 452.4L814 452.9L815 453.2L816 453.4L817 453.6L818 453.9L819 453.9L820 454.2L821 454.5L822 455.1L823 455.4L824 455.1L825 455.0L826 455.5L827 455.7L827.6 456.1L827.8 451.8L828 451.2L829 450.4L830 449.5L831 448.7L832 448.5L833 448.0L834 447.6L835 447.0L836 446.4L837 445.9L838 445.8L839 446.0L840 446.2L840.7 446.5L840.9 448.1L841 448.5L842 448.5L843 449.2L844 449.3L845 449.8L846 450.3L847 450.6L848 450.7L849 450.5L850 450.3L851 450.5L852 450.5L853 450.1L854 449.8L855 449.7L856 449.7L857 449.3L858 449.5L859 449.2L860 448.9L861 448.3L862 448.2L863 448.0L864 448.0L865 448.0L866 448.0L867 447.5L868 447.5L869 447.8L870 448.1L871 447.8L872 448.0L873 448.5L874 449.0L875 449.1L876 449.3L877 450.1L878 450.8L879 451.1L880 451.4L881 451.5L882 451.5L883 450.9L884 450.5L885 450.4L886 450.2L887 449.5L888 449.3L889 448.8L890 448.7L891 448.4L892 447.6L893 447.4L894 446.6L895 446.4L896 446.5L897 446.4L898 446.5L899 446.7L900 446.8L901 447.7L902 447.9L903 448.1L904 447.8L905 448.3L906 448.7L907 448.9L908 449.0L909 449.0L910 449.2L911 449.6L912 449.8L913 450.2L914 451.0L915 451.6L916 451.6L917 452.0L918 452.8L919 452.7L920 452.9L921 453.2L922 453.2L923 452.8L924 452.5L925 451.8L926 451.2L927 450.4L928 450.3L929 449.5L930 449.3L931 449.1L932 448.5L933 448.1L934 448.0L935 448.1L936 447.7L937 447.7L938 447.3L939 447.7L940 447.8L941 447.5L942 447.9L943 447.8L944 447.4L945 447.2L946 447.6L947 447.8L948 447.8L949 447.2L950 447.4L951 447.2L952 447.0L953 447.6L954 448.0L955 447.9L956 448.2L957 448.8L958 448.8L959 449.2L960 449.5L961 449.9L962 449.7L963 449.6L964 449.9L965 449.8L966 450.4L967 450.6L968 450.5L969 450.4L970 450.5L971 451.0L972 451.4L973 451.6L974 451.6L975 451.5L976 451.9L977 451.8L978 451.8L979 451.8L980 452.0L981 452.2L982 452.6L983 452.8L984 452.9L985 452.7L986 452.6L987 452.3L988 451.6L989 451.4L990 451.2L991 450.7L992 449.8L993 449.2L994 448.3L995 447.6L996 446.9L997 446.6L998 446.2L999 445.5L1000 444.5L1001 443.5L1002 443.0L1003 442.6L1004 441.9L1005 441.1L1006 440.4L1007 439.7L1008 439.2L1009 438.8L1010 438.9L1011 437.9L1012 437.8L1013 437.3L1014 437.0L1015 436.3L1016 436.3L1017 436.1L1018 435.7L1019 435.5L1020 434.5L1021 434.3L1022 434.3L1023 434.0L1024 433.0L1025 432.9L1026 433.0L1027 432.1L1028 431.7L1029 430.9L1030 431.3L1031 430.8L1032 429.8L1033 429.7L1034 429.9L1035 431.1L1036 431.4L1037 432.1L1038 432.9L1039 432.8L1040 433.7L1041 434.2L1042 435.4L1043 435.7L1044 436.5L1045 437.4L1046 437.6L1047 437.1L1048 437.6L1049 437.3L1050 436.9L1051 436.8L1052 436.3L1053 436.0L1054 435.6L1055 433.6L1056 431.0L1057 428.6L1058 426.9L1059 425.2L1060 423.2L1061 421.5L1062 421.0L1063 420.1L1064 419.3L1065 417.9L1066 417.3L1067 419.0L1068 420.5L1069 421.5L1070 422.9L1071 424.5L1072 426.6L1073 427.9L1074 428.3L1075 429.6L1076 431.0L1077 431.9L1078 432.2L1079 433.6L1080 434.4L1081 435.1L1082 435.6L1083 435.7L1084 435.9L1085 437.0L1086 437.8L1087 437.8L1088 438.5L1089 439.0L1090 438.5L1091 438.9L1092 438.8L1093 439.1L1094 438.8L1095 439.1L1096 439.5L1097 439.8L1098 439.2L1099 438.7L1100 438.1L1101 438.5L1102 438.0L1103 437.9L1104 437.9L1105 438.3L1106 438.3L1107 438.1L1108 437.8L1109 438.7L1110 438.9L1111 438.9L1112 439.0L1113 439.9L1114 440.6L1115 440.2L1116 440.3L1117 441.0L1118 441.9L1119 441.6L1120 442.0L1121 441.9L1122 442.2L1123 442.3L1124 442.4L1125 441.4L1125.9 441.2L1126 441.2L1127 440.1L1128 439.3L1129 439.5L1130 439.9L1131 439.9L1132 439.9L1133 440.1L1134 440.3L1135 440.2L1136 439.7L1137 439.5L1138 441.0L1139 441.6L1140 441.9L1141 443.0L1142 443.0L1143 443.8L1143.6 444.0L1143.8 443.9L1144 444.0L1145 444.7L1146 445.1L1147 445.4L1148 445.9L1149 445.7L1150 445.9L1151 445.9L1152 446.2L1153 445.8L1154 445.7L1155 445.8L1156 445.4L1157 445.5L1158 445.9L1159 446.4L1160 446.5L1161 446.7L1162 446.8L1163 446.5L1164 446.6L1165 446.6L1166 446.6L1167 447.0L1168 446.8L1169 447.1L1170 446.8L1171 446.7L1172 446.9L1173 445.3L1174 443.0L1175 441.4L1176 439.5L1177 438.6L1178 436.4L1179 434.3L1180 432.7L1181 430.6L1182 429.1L1183 427.1L1184 426.3L1185 423.5L1186 420.5L1187 420.7L1188 419.7L1189 419.4L1190 420.9L1191 420.1L1192 418.2L1193 419.1L1194 420.5L1195 422.4L1196 423.0L1197 424.6L1198 425.4L1199 426.6L1200 429.5L1201 430.4L1202 430.2L1203 432.2L1204 433.6L1205 434.1L1206 434.6L1207 434.2L1208 433.6L1209 432.5L1210 432.0L1211 430.2L1212 430.1L1213 429.4L1214 428.9L1215 429.1L1216 429.0L1217 429.9L1218 430.5L1219 430.5L1220 432.0L1221 432.2L1222 433.5L1223 435.3L1224 435.9L1225 436.9L1226 437.2L1227 438.3L1228 439.7L1229 440.8L1230 450.8L1231 466.5L1231.3 471.2L1231.7 471.2L1231.8 437.8L1232 438.1L1233 437.9L1234 437.6L1235 438.0L1236 438.5L1237 439.1L1238 439.9L1239 440.5L1240 441.2L1241 441.7L1242 442.7L1243 443.4L1244 443.4L1245 444.1L1245.6 444.4L1245.8 446.3L1246 446.7L1247 447.1L1248 447.0L1249 447.3L1250 447.3L1251 447.4L1252 447.2L1253 447.1L1254 447.2L1255 447.0L1256 447.2L1257 447.7L1258 447.5L1259 448.0L1260 448.1L1261 447.4L1262 446.2L1263 445.3L1264 444.8L1265 444.7L1266 444.6L1267 444.7L1268 444.1L1269 444.1L1270 444.6L1271 444.8L1272 445.2L1273 445.4L1274 446.0L1275 447.0L1276 447.3L1277 448.4L1278 448.8L1279 449.2L1280 449.8L1281 450.3L1282 450.2L1283 450.7L1284 450.8L1285 450.4L1286 450.8L1287 450.9L1288 450.8L1289 451.0L1290 450.9L1291 450.0L1292 449.6L1293 448.4L1294 447.3L1295 446.5L1296 445.1L1297 444.8L1298 444.4L1299 443.2L1299.5 441.9L1299.6 424.5L1300 424.9L1301 424.4L1302 424.5L1303 424.9L1304 425.1L1305 425.0L1306 425.8L1307 426.1L1308 425.9L1309 425.9L1310 425.8L1311 426.0L1312 426.6L1313 426.5L1314 440.3L1315 442.3L1316 443.0L1317 443.8L1318 444.1L1319 444.1L1320 445.1L1321 445.2L1322 446.0L1323 446.3L1324 446.5L1325 446.4L1326 446.4L1327 446.7L1328 447.2L1329 447.1L1330 447.0L1331 446.3L1332 444.8L1333 443.8L1334 442.4L1335 439.9L1336 439.0L1337 439.0L1338 438.3L1339 437.9L1340 437.5L1341 437.6L1342 437.2L1343 437.2L1344 437.4L1345 437.5L1346 437.1L1347 437.4L1348 438.6L1349 441.0L1350 441.3L1351 441.3L1352 440.4L1353 440.4L1354 440.5L1355 440.7L1356 441.0L1357 440.6L1358 441.3L1359 442.0L1360 442.8L1361 444.2L1362 444.8L1363 445.6L1364 446.2L1365 446.9L1366 447.7L1367 449.1L1368 449.6L1369 450.3L1370 451.3L1371 452.4L1372 452.8L1373 453.1L1374 453.4L1375 453.1L1376 453.1L1377 453.3V472.3Z" fill="#6fb6bf"/>
<path d="M190 472.3V472.3L191 472.3L192 472.3L193 472.3L194 472.3L195 472.3L196 472.3L197 472.3L198 472.3L199 472.3L200 472.3L201 472.3L202 472.3L203 472.3L204 472.3L205 472.3L206 472.3L207 472.3L208 472.3L209 472.3L210 472.3L211 472.3L212 472.3L213 472.3L214 472.3L215 472.3L216 472.3L217 472.3L218 472.3L219 472.3L220 472.3L221 472.3L222 472.3L223 472.3L224 472.3L225 472.3L226 472.3L227 472.3L228 472.3L229 472.3L230 472.3L231 472.3L232 472.3L233 472.3L234 472.3L235 472.3L236 472.3L237 472.3L238 472.3L239 472.3L240 472.3L241 472.3L242 472.3L243 472.3L244 472.3L245 472.3L246 472.3L247 472.3L248 472.3L249 472.3L250 472.3L251 472.3L252 472.3L253 472.3L254 472.3L255 472.3L256 472.3L257 472.3L258 472.3L259 472.3L260 472.3L261 472.3L262 472.3L263 472.3L264 472.3L265 472.3L266 472.3L267 472.3L268 472.3L269 472.3L270 472.3L271 472.3L272 472.3L273 472.3L274 472.3L275 472.3L276 472.3L277 472.3L278 472.3L279 472.3L280 472.3L281 472.3L282 472.3L283 472.3L284 472.3L285 472.3L286 472.3L287 472.3L288 472.3L289 472.3L290 472.3L291 472.3L292 472.3L293 472.3L294 472.3L295 472.3L296 472.3L297 472.3L298 472.3L299 472.3L300 472.3L301 472.3L302 472.3L303 472.3L304 472.3L305 472.3L306 472.3L307 472.3L308 472.3L309 472.3L310 472.3L311 472.3L312 472.3L313 472.3L314 472.3L315 472.3L316 472.3L317 472.3L318 472.3L319 472.3L320 472.3L321 472.3L322 472.3L323 472.3L324 472.3L325 472.3L326 472.3L327 472.3L327.6 472.3L328 472.3L329 472.3L330 472.3L331 472.3L332 472.3L333 472.3L334 472.3L335 472.3L336 472.3L337 472.3L338 472.3L339 472.3L340 472.3L341 472.3L342 472.3L343 472.3L344 472.3L345 472.3L346 472.3L347 472.3L348 472.3L349 472.3L350 472.3L351 472.3L352 472.3L353 472.3L354 472.3L355 472.3L356 472.3L357 472.3L358 472.3L359 472.3L360 472.3L361 472.3L362 472.3L363 472.3L364 472.3L365 472.3L366 472.3L367 472.3L368 472.3L369 472.3L370 472.3L371 472.3L372 472.3L373 472.3L374 472.3L375 472.3L376 472.3L377 472.3L378 472.3L379 472.3L380 472.3L381 472.3L382 472.3L383 472.3L384 472.3L385 472.3L386 472.3L387 472.3L388 472.3L389 472.3L390 472.3L391 472.3L392 472.3L393 472.3L394 472.3L395 472.3L396 472.3L397 472.3L398 472.3L399 472.3L400 472.3L401 472.3L402 472.3L403 472.3L404 472.3L405 472.3L406 472.3L407 472.3L408 472.3L409 472.3L410 472.3L411 472.3L412 472.3L413 472.3L414 472.3L415 472.3L416 472.3L417 472.3L418 472.3L419 472.3L420 472.3L421 472.3L422 472.3L423 472.3L424 472.3L425 472.3L426 472.3L427 472.3L428 472.3L429 472.3L430 472.3L431 472.3L432 472.3L433 472.3L434 472.3L435 472.3L436 472.3L437 472.3L438 472.3L439 472.3L440 472.3L441 472.3L442 472.3L443 472.3L444 472.3L445 472.3L446 472.3L447 472.3L448 472.3L449 472.3L450 472.3L451 472.3L452 472.3L453 472.3L454 472.3L455 472.3L456 472.3L457 472.3L458 472.3L459 472.3L460 472.3L461 472.3L462 472.3L463 472.3L464 472.3L465 472.3L466 472.3L467 472.3L468 472.3L469 472.3L470 472.3L471 472.3L472 472.3L473 472.3L474 472.3L475 472.3L476 472.3L477 472.3L478 472.3L479 472.3L480 472.3L481 472.3L482 472.3L483 472.3L484 472.3L485 472.3L486 472.3L487 472.3L488 472.3L489 472.3L490 472.3L491 472.3L492 472.3L493 472.3L494 472.3L495 472.3L496 472.3L497 472.3L498 472.3L499 472.3L500 472.1L501 471.9L502 471.7L503 471.5L504 471.3L505 471.0L506 470.8L507 470.5L508 470.2L509 469.9L510 469.6L511 469.0L512 468.3L513 467.5L514 466.7L515 466.0L516 465.0L517 464.3L518 463.6L519 463.0L520 462.3L521 461.6L522 460.7L523 460.0L524 459.3L525 458.4L526 457.3L527 456.3L528 455.5L529 454.7L530 453.3L531 452.2L532 451.0L533 450.6L534 450.3L535 449.5L536 449.3L537 449.4L538 448.8L539 448.7L540 448.6L541 449.1L542 449.0L543 449.4L544 449.3L545 449.5L546 449.8L547 449.6L548 449.2L549 449.3L550 449.4L551 449.1L552 449.1L553 449.1L554 448.7L555 448.5L556 448.1L557 447.7L558 447.4L559 447.0L560 447.2L561 447.2L562 447.4L563 447.1L564 447.3L564.4 447.3L564.5 392.3L565 391.1L566 390.5L567 391.0L568 391.0L569 388.8L570 389.9L571 388.5L572 388.1L573 387.6L574 386.9L575 387.8L576 388.3L577 388.4L578 388.6L579 391.6L580 392.8L581 393.8L582 395.4L583 398.0L584 400.5L585 404.6L586 408.2L587 409.8L588 409.1L589 412.2L590 416.3L591 419.7L592 421.3L593 422.4L594 424.1L595 426.5L596 428.3L597 429.7L598 430.6L599 432.1L600 433.1L601 434.3L602 434.6L603 435.3L604 436.7L605 438.1L606 437.4L607 437.6L608 437.6L609 437.5L610 436.8L611 436.0L612 435.3L613 435.0L614 434.3L615 434.1L616 433.5L617 432.8L618 430.4L619 428.1L620 426.2L621 424.3L622 422.9L623 421.3L624 420.1L625 419.6L626 419.4L627 418.6L628 417.6L629 417.5L630 417.4L631 416.1L632 417.0L633 417.0L634 417.3L635 418.7L636 418.3L637 418.2L638 419.0L639 419.4L640 419.5L641 420.7L642 420.8L643 420.8L644 420.4L645 420.3L646 419.8L647 419.5L648 418.6L649 418.0L650 417.2L651 417.2L652 416.9L653 415.9L654 415.0L655 415.1L656 413.8L657 413.6L658 413.6L659 414.1L660 413.6L661 413.7L662 415.3L663 414.5L664 414.0L665 414.6L666 415.3L667 415.6L668 416.9L669 417.0L670 418.2L671 419.6L672 420.3L673 420.3L674 421.2L675 421.2L676 421.4L677 422.7L678 424.7L679 426.0L680 426.0L681 426.0L682 426.3L683 426.4L684 427.1L685 427.3L686 427.9L687 427.8L688 427.4L689 426.3L690 425.3L691 424.9L692 424.3L693 424.5L694 425.3L695 426.6L696 428.8L697 430.5L698 431.9L699 432.9L700 434.3L701 434.7L702 436.1L703 436.3L704 436.8L705 438.5L706 439.1L707 439.4L708 439.9L709 441.0L710 442.0L711 442.8L712 442.9L713 443.9L714 444.3L715 445.0L716 445.3L717 445.4L718 446.4L719 446.2L720 446.2L721 446.0L722 446.0L723 446.2L724 445.7L725 445.6L726 445.9L727 445.9L728 445.5L729 445.6L730 446.0L731 446.4L732 446.5L733 446.7L734 446.8L735 447.7L736 447.9L737 448.2L738 448.7L739 448.2L739.4 448.1L739.6 445.6L740 445.6L741 444.8L742 443.8L743 442.5L744 442.2L745 442.0L746 441.5L747 441.2L748 441.6L749 441.8L750 441.3L751 441.7L752 441.9L753 443.2L754 444.3L754.1 444.2L754.3 446.5L755 446.5L756 446.1L757 446.1L758 446.3L759 446.5L760 446.4L761 446.4L762 446.8L763 446.9L764 447.5L765 447.3L766 447.5L767 447.5L768 448.0L769 448.9L770 449.8L771 450.0L772 450.9L773 451.5L774 452.2L775 452.9L776 453.1L777 453.3L778 453.9L779 454.2L780 454.5L781 454.5L782 454.6L783 454.8L784 454.9L785 454.9L786 454.6L787 454.8L788 455.0L789 454.8L790 454.8L791 455.1L792 455.4L793 455.5L794 455.6L795 455.5L796 455.6L797 455.6L798 455.6L799 455.5L800 455.3L801 455.5L802 455.7L803 455.9L804 455.9L805 456.0L806 456.1L807 456.2L808 456.0L809 455.6L810 455.8L811 455.7L812 455.8L813 455.8L814 456.2L815 456.5L816 456.6L817 456.8L818 456.9L819 457.0L820 457.2L821 457.4L822 457.9L823 458.1L824 457.9L825 457.8L826 458.2L827 458.4L827.6 458.7L827.8 455.1L828 454.6L829 453.8L830 453.1L831 452.4L832 452.2L833 451.8L834 451.5L835 450.9L836 450.4L837 450.0L838 449.8L839 450.0L840 450.2L840.7 450.5L840.9 451.9L841 452.2L842 452.3L843 452.9L844 453.0L845 453.5L846 453.9L847 454.2L848 454.3L849 454.2L850 454.1L851 454.3L852 454.3L853 454.0L854 453.8L855 453.8L856 453.8L857 453.5L858 453.7L859 453.5L860 453.3L861 452.9L862 452.9L863 452.7L864 452.7L865 452.8L866 452.8L867 452.5L868 452.5L869 452.7L870 453.0L871 452.8L872 452.9L873 453.3L874 453.8L875 453.9L876 454.1L877 454.7L878 455.3L879 455.5L880 455.8L881 455.9L882 455.9L883 455.5L884 455.2L885 455.1L886 455.0L887 454.5L888 454.4L889 454.0L890 453.9L891 453.7L892 453.1L893 452.9L894 452.4L895 452.2L896 452.4L897 452.3L898 452.4L899 452.5L900 452.6L901 453.3L902 453.5L903 453.7L904 453.4L905 453.8L906 454.1L907 454.3L908 454.4L909 454.3L910 454.5L911 454.9L912 455.0L913 455.3L914 455.9L915 456.4L916 456.4L917 456.7L918 457.3L919 457.3L920 457.4L921 457.6L922 457.7L923 457.4L924 457.1L925 456.6L926 456.2L927 455.5L928 455.5L929 454.8L930 454.7L931 454.5L932 454.1L933 453.8L934 453.8L935 453.8L936 453.6L937 453.5L938 453.2L939 453.5L940 453.6L941 453.4L942 453.6L943 453.5L944 453.2L945 453.0L946 453.3L947 453.4L948 453.4L949 452.9L950 453.0L951 452.8L952 452.7L953 453.1L954 453.4L955 453.3L956 453.5L957 453.9L958 453.9L959 454.2L960 454.4L961 454.7L962 454.5L963 454.4L964 454.6L965 454.5L966 455.0L967 455.1L968 455.0L969 454.8L970 454.9L971 455.3L972 455.6L973 455.7L974 455.7L975 455.6L976 455.9L977 455.8L978 455.8L979 455.9L980 456.0L981 456.2L982 456.5L983 456.6L984 456.8L985 456.5L986 456.4L987 456.0L988 455.4L989 455.2L990 455.0L991 454.5L992 453.7L993 453.2L994 452.3L995 451.7L996 451.0L997 450.7L998 450.3L999 449.7L1000 448.7L1001 447.8L1002 447.4L1003 447.0L1004 446.3L1005 445.6L1006 444.9L1007 444.3L1008 443.7L1009 443.4L1010 443.4L1011 442.5L1012 442.3L1013 441.9L1014 441.6L1015 440.9L1016 440.9L1017 440.6L1018 440.3L1019 440.0L1020 439.1L1021 438.8L1022 438.9L1023 438.6L1024 437.6L1025 437.5L1026 437.5L1027 436.7L1028 436.3L1029 435.6L1030 435.9L1031 435.4L1032 434.4L1033 434.2L1034 434.2L1035 435.1L1036 435.3L1037 435.7L1038 436.3L1039 436.0L1040 436.7L1041 437.1L1042 438.1L1043 438.2L1044 438.8L1045 439.6L1046 439.6L1047 439.0L1048 439.4L1049 439.0L1050 438.5L1051 438.3L1052 437.7L1053 437.3L1054 436.8L1055 434.8L1056 432.1L1057 429.7L1058 427.9L1059 426.1L1060 423.9L1061 422.2L1062 421.6L1063 420.5L1064 419.6L1065 418.0L1066 417.3L1067 419.0L1068 420.5L1069 421.5L1070 422.9L1071 424.5L1072 426.6L1073 427.9L1074 428.3L1075 429.6L1076 431.0L1077 431.9L1078 432.2L1079 433.6L1080 434.4L1081 435.1L1082 435.6L1083 435.7L1084 435.9L1085 437.0L1086 437.8L1087 437.8L1088 438.5L1089 439.0L1090 438.5L1091 438.9L1092 438.8L1093 439.1L1094 438.8L1095 439.1L1096 439.5L1097 439.8L1098 439.2L1099 438.7L1100 438.1L1101 438.5L1102 438.0L1103 437.9L1104 437.9L1105 438.3L1106 438.3L1107 438.1L1108 437.8L1109 438.7L1110 438.9L1111 438.9L1112 439.0L1113 439.9L1114 440.6L1115 440.2L1116 440.3L1117 441.0L1118 441.9L1119 441.6L1120 442.0L1121 441.9L1122 442.2L1123 442.3L1124 442.4L1125 441.4L1125.9 441.2L1126 441.2L1127 440.1L1128 439.3L1129 439.5L1130 439.9L1131 439.9L1132 439.9L1133 440.1L1134 440.3L1135 440.2L1136 439.7L1137 439.5L1138 441.0L1139 441.6L1140 441.9L1141 443.0L1142 443.0L1143 443.8L1143.6 444.0L1143.8 443.9L1144 444.0L1145 444.7L1146 445.1L1147 445.4L1148 445.9L1149 445.7L1150 445.9L1151 445.9L1152 446.2L1153 445.8L1154 445.7L1155 445.8L1156 445.4L1157 445.5L1158 445.9L1159 446.4L1160 446.5L1161 446.7L1162 446.8L1163 446.5L1164 446.6L1165 446.6L1166 446.6L1167 447.0L1168 446.8L1169 447.1L1170 446.8L1171 446.7L1172 446.9L1173 445.3L1174 443.0L1175 441.4L1176 439.5L1177 438.6L1178 436.4L1179 434.3L1180 432.7L1181 430.6L1182 429.1L1183 427.1L1184 426.3L1185 423.5L1186 420.5L1187 420.7L1188 419.7L1189 419.4L1190 420.9L1191 420.1L1192 418.2L1193 419.1L1194 420.5L1195 422.4L1196 423.0L1197 424.6L1198 425.4L1199 426.6L1200 429.5L1201 430.4L1202 430.2L1203 432.2L1204 433.6L1205 434.1L1206 434.6L1207 434.2L1208 433.6L1209 432.5L1210 432.0L1211 430.2L1212 430.1L1213 429.4L1214 428.9L1215 429.1L1216 429.0L1217 429.9L1218 430.5L1219 430.5L1220 432.0L1221 432.2L1222 433.5L1223 435.3L1224 435.9L1225 436.9L1226 437.2L1227 438.3L1228 439.7L1229 440.8L1230 450.8L1231 466.5L1231.3 471.2L1231.7 471.2L1231.8 437.8L1232 438.1L1233 437.9L1234 437.6L1235 438.0L1236 438.5L1237 439.1L1238 439.9L1239 440.5L1240 441.2L1241 441.7L1242 442.7L1243 443.4L1244 443.4L1245 444.1L1245.6 444.4L1245.8 446.3L1246 446.7L1247 447.1L1248 447.0L1249 447.3L1250 447.3L1251 447.4L1252 447.2L1253 447.1L1254 447.2L1255 447.0L1256 447.2L1257 447.7L1258 447.5L1259 448.0L1260 448.1L1261 447.4L1262 446.2L1263 445.3L1264 444.8L1265 444.7L1266 444.6L1267 444.7L1268 444.1L1269 444.1L1270 444.6L1271 444.8L1272 445.2L1273 445.4L1274 446.0L1275 447.0L1276 447.3L1277 448.4L1278 448.8L1279 449.2L1280 449.8L1281 450.3L1282 450.2L1283 450.7L1284 450.8L1285 450.4L1286 450.8L1287 450.9L1288 450.8L1289 451.0L1290 450.9L1291 450.0L1292 449.6L1293 448.4L1294 447.3L1295 446.5L1296 445.1L1297 444.8L1298 444.4L1299 443.2L1299.5 441.9L1299.6 424.5L1300 424.9L1301 424.4L1302 424.5L1303 424.9L1304 425.1L1305 425.0L1306 425.8L1307 426.1L1308 425.9L1309 425.9L1310 425.8L1311 426.0L1312 426.6L1313 426.5L1314 440.3L1315 442.3L1316 443.0L1317 443.8L1318 444.1L1319 444.1L1320 445.1L1321 445.2L1322 446.0L1323 446.3L1324 446.5L1325 446.4L1326 446.4L1327 446.7L1328 447.2L1329 447.1L1330 447.0L1331 446.3L1332 444.8L1333 443.8L1334 442.4L1335 439.9L1336 439.0L1337 439.0L1338 438.3L1339 437.9L1340 437.5L1341 437.6L1342 437.2L1343 437.2L1344 437.4L1345 437.5L1346 437.1L1347 437.4L1348 438.6L1349 441.0L1350 441.3L1351 441.3L1352 440.4L1353 440.4L1354 440.5L1355 440.7L1356 441.0L1357 440.6L1358 441.3L1359 442.0L1360 442.8L1361 444.2L1362 444.8L1363 445.6L1364 446.2L1365 446.9L1366 447.7L1367 449.1L1368 449.6L1369 450.3L1370 451.3L1371 452.4L1372 452.8L1373 453.1L1374 453.4L1375 453.1L1376 453.1L1377 453.3V472.3Z" fill="#c6965f"/>
<path d="M190 472.3V472.3L191 472.3L192 472.3L193 472.3L194 472.3L195 472.3L196 472.3L197 472.3L198 472.3L199 472.3L200 472.3L201 472.3L202 472.3L203 472.3L204 472.3L205 472.3L206 472.3L207 472.3L208 472.3L209 472.3L210 472.3L211 472.3L212 472.3L213 472.3L214 472.3L215 472.3L216 472.3L217 472.3L218 472.3L219 472.3L220 472.3L221 472.3L222 472.3L223 472.3L224 472.3L225 472.3L226 472.3L227 472.3L228 472.3L229 472.3L230 472.3L231 472.3L232 472.3L233 472.3L234 472.3L235 472.3L236 472.3L237 472.3L238 472.3L239 472.3L240 472.3L241 472.3L242 472.3L243 472.3L244 472.3L245 472.3L246 472.3L247 472.3L248 472.3L249 472.3L250 472.3L251 472.3L252 472.3L253 472.3L254 472.3L255 472.3L256 472.3L257 472.3L258 472.3L259 472.3L260 472.3L261 472.3L262 472.3L263 472.3L264 472.3L265 472.3L266 472.3L267 472.3L268 472.3L269 472.3L270 472.3L271 472.3L272 472.3L273 472.3L274 472.3L275 472.3L276 472.3L277 472.3L278 472.3L279 472.3L280 472.3L281 472.3L282 472.3L283 472.3L284 472.3L285 472.3L286 472.3L287 472.3L288 472.3L289 472.3L290 472.3L291 472.3L292 472.3L293 472.3L294 472.3L295 472.3L296 472.3L297 472.3L298 472.3L299 472.3L300 472.3L301 472.3L302 472.3L303 472.3L304 472.3L305 472.3L306 472.3L307 472.3L308 472.3L309 472.3L310 472.3L311 472.3L312 472.3L313 472.3L314 472.3L315 472.3L316 472.3L317 472.3L318 472.3L319 472.3L320 472.3L321 472.3L322 472.3L323 472.3L324 472.3L325 472.3L326 472.3L327 472.3L327.6 472.3L328 472.3L329 472.3L330 472.3L331 472.3L332 472.3L333 472.3L334 472.3L335 472.3L336 472.3L337 472.3L338 472.3L339 472.3L340 472.3L341 472.3L342 472.3L343 472.3L344 472.3L345 472.3L346 472.3L347 472.3L348 472.3L349 472.3L350 472.3L351 472.3L352 472.3L353 472.3L354 472.3L355 472.3L356 472.3L357 472.3L358 472.3L359 472.3L360 472.3L361 472.3L362 472.3L363 472.3L364 472.3L365 472.3L366 472.3L367 472.3L368 472.3L369 472.3L370 472.3L371 472.3L372 472.3L373 472.3L374 472.3L375 472.3L376 472.3L377 472.3L378 472.3L379 472.3L380 472.3L381 472.3L382 472.3L383 472.3L384 472.3L385 472.3L386 472.3L387 472.3L388 472.3L389 472.3L390 472.3L391 472.3L392 472.3L393 472.3L394 472.3L395 472.3L396 472.3L397 472.3L398 472.3L399 472.3L400 472.3L401 472.3L402 472.3L403 472.3L404 472.3L405 472.3L406 472.3L407 472.3L408 472.3L409 472.3L410 472.3L411 472.3L412 472.3L413 472.3L414 472.3L415 472.3L416 472.3L417 472.3L418 472.3L419 472.3L420 472.3L421 472.3L422 472.3L423 472.3L424 472.3L425 472.3L426 472.3L427 472.3L428 472.3L429 472.3L430 472.3L431 472.3L432 472.3L433 472.3L434 472.3L435 472.3L436 472.3L437 472.3L438 472.3L439 472.3L440 472.3L441 472.3L442 472.3L443 472.3L444 472.3L445 472.3L446 472.3L447 472.3L448 472.3L449 472.3L450 472.3L451 472.3L452 472.3L453 472.3L454 472.3L455 472.3L456 472.3L457 472.3L458 472.3L459 472.3L460 472.3L461 472.3L462 472.3L463 472.3L464 472.3L465 472.3L466 472.3L467 472.3L468 472.3L469 472.3L470 472.3L471 472.3L472 472.3L473 472.3L474 472.3L475 472.3L476 472.3L477 472.3L478 472.3L479 472.3L480 472.3L481 472.3L482 472.3L483 472.3L484 472.3L485 472.3L486 472.3L487 472.3L488 472.3L489 472.3L490 472.3L491 472.3L492 472.3L493 472.3L494 472.3L495 472.3L496 472.3L497 472.3L498 472.3L499 472.3L500 472.1L501 471.9L502 471.7L503 471.5L504 471.3L505 471.0L506 470.8L507 470.5L508 470.2L509 469.9L510 469.6L511 469.0L512 468.3L513 467.5L514 466.7L515 466.0L516 465.0L517 464.3L518 463.6L519 463.0L520 462.5L521 462.0L522 461.3L523 460.8L524 460.3L525 459.6L526 458.7L527 457.9L528 457.4L529 456.8L530 455.6L531 454.8L532 453.9L533 453.7L534 453.5L535 452.9L536 452.8L537 453.0L538 452.6L539 452.6L540 452.6L541 453.0L542 452.9L543 453.2L544 453.1L545 453.2L546 453.5L547 453.3L548 452.9L549 452.9L550 453.0L551 452.7L552 452.7L553 452.7L554 452.4L555 452.1L556 451.8L557 451.4L558 451.1L559 450.7L560 450.8L561 450.9L562 451.0L563 450.8L564 450.9L564.4 450.9L564.5 397.2L565 396.2L566 395.7L567 396.3L568 396.4L569 394.4L570 395.3L571 394.0L572 393.7L573 393.3L574 392.6L575 393.5L576 394.0L577 394.0L578 394.2L579 396.9L580 397.9L581 398.7L582 400.0L583 402.2L584 404.4L585 408.5L586 412.0L587 413.6L588 413.0L589 416.1L590 420.2L591 423.6L592 425.3L593 426.5L594 428.3L595 430.8L596 432.7L597 434.2L598 435.4L599 437.0L600 437.9L601 438.9L602 439.2L603 439.8L604 440.9L605 442.1L606 441.7L607 442.0L608 442.2L609 442.4L610 441.9L611 441.4L612 441.0L613 440.9L614 440.4L615 440.5L616 440.1L617 439.7L618 437.9L619 436.1L620 434.7L621 433.3L622 432.3L623 431.2L624 430.4L625 430.1L626 430.1L627 429.6L628 429.0L629 429.0L630 429.1L631 428.1L632 429.2L633 429.5L634 430.0L635 431.4L636 431.3L637 431.6L638 432.5L639 433.1L640 433.4L641 434.6L642 434.9L643 435.1L644 435.0L645 435.2L646 435.0L647 435.0L648 434.6L649 434.3L650 434.0L651 434.2L652 434.2L653 433.7L654 433.3L655 433.5L656 432.9L657 432.9L658 432.9L659 433.2L660 432.8L661 432.9L662 433.9L663 433.4L664 433.0L665 433.4L666 433.8L667 434.0L668 434.8L669 434.8L670 435.6L671 436.5L672 437.0L673 437.0L674 437.6L675 437.6L676 437.7L677 438.6L678 439.9L679 440.8L680 440.7L681 440.7L682 440.9L683 441.0L684 441.4L685 441.5L686 442.2L687 442.4L688 442.3L689 441.9L690 441.5L691 441.5L692 441.3L693 441.7L694 442.2L695 443.1L696 444.5L697 445.6L698 446.5L699 447.2L700 448.2L701 448.4L702 449.3L703 449.5L704 449.9L705 451.0L706 451.4L707 451.6L708 451.9L709 452.7L710 453.3L711 453.9L712 454.0L713 454.6L714 454.9L715 455.4L716 455.6L717 455.7L718 456.4L719 456.3L720 456.4L721 456.3L722 456.2L723 456.2L724 455.7L725 455.5L726 455.5L727 455.4L728 454.9L729 454.9L730 454.9L731 455.0L732 455.0L733 455.0L734 454.9L735 455.4L736 455.4L737 455.5L738 455.7L739 455.3L739.4 455.1L739.6 453.3L740 453.3L741 452.6L742 451.7L743 450.7L744 450.3L745 450.0L746 449.5L747 449.2L748 449.5L749 449.6L750 449.3L751 449.6L752 449.7L753 450.7L754 451.5L754.1 451.4L754.3 453.2L755 453.2L756 452.9L757 452.9L758 453.1L759 453.2L760 453.2L761 453.2L762 453.5L763 453.6L764 454.0L765 453.9L766 454.1L767 454.1L768 454.5L769 455.2L770 455.8L771 456.0L772 456.7L773 457.1L774 457.6L775 458.1L776 458.3L777 458.5L778 458.9L779 459.2L780 459.4L781 459.4L782 459.5L783 459.6L784 459.7L785 459.8L786 459.6L787 459.7L788 459.9L789 459.8L790 459.8L791 460.0L792 460.3L793 460.4L794 460.4L795 460.3L796 460.4L797 460.3L798 460.3L799 460.2L800 460.0L801 460.1L802 460.3L803 460.3L804 460.3L805 460.4L806 460.4L807 460.4L808 460.3L809 460.0L810 460.1L811 460.0L812 460.0L813 460.0L814 460.3L815 460.5L816 460.6L817 460.7L818 460.8L819 460.8L820 460.9L821 461.1L822 461.4L823 461.6L824 461.4L825 461.3L826 461.5L827 461.7L827.6 461.9L827.8 459.1L828 458.8L829 458.2L830 457.6L831 457.1L832 456.9L833 456.5L834 456.3L835 455.8L836 455.4L837 455.0L838 454.9L839 455.0L840 455.2L840.7 455.4L840.9 456.5L841 456.7L842 456.8L843 457.3L844 457.4L845 457.8L846 458.1L847 458.3L848 458.4L849 458.4L850 458.3L851 458.5L852 458.5L853 458.3L854 458.2L855 458.2L856 458.2L857 458.0L858 458.1L859 458.0L860 457.9L861 457.6L862 457.6L863 457.5L864 457.5L865 457.6L866 457.7L867 457.4L868 457.4L869 457.7L870 457.9L871 457.8L872 457.9L873 458.2L874 458.6L875 458.7L876 458.9L877 459.4L878 459.8L879 460.0L880 460.2L881 460.4L882 460.4L883 460.1L884 459.9L885 459.9L886 459.8L887 459.5L888 459.4L889 459.2L890 459.1L891 459.0L892 458.6L893 458.5L894 458.1L895 458.1L896 458.2L897 458.2L898 458.3L899 458.4L900 458.5L901 459.0L902 459.1L903 459.2L904 459.1L905 459.3L906 459.6L907 459.7L908 459.7L909 459.7L910 459.9L911 460.1L912 460.2L913 460.4L914 460.9L915 461.2L916 461.2L917 461.4L918 461.8L919 461.8L920 462.0L921 462.1L922 462.1L923 461.9L924 461.7L925 461.4L926 461.1L927 460.7L928 460.6L929 460.2L930 460.1L931 460.0L932 459.7L933 459.5L934 459.5L935 459.5L936 459.4L937 459.3L938 459.2L939 459.4L940 459.4L941 459.2L942 459.4L943 459.3L944 459.0L945 458.9L946 459.1L947 459.1L948 459.1L949 458.7L950 458.8L951 458.7L952 458.5L953 458.8L954 459.0L955 458.9L956 459.1L957 459.3L958 459.3L959 459.5L960 459.6L961 459.8L962 459.6L963 459.6L964 459.7L965 459.6L966 459.9L967 460.0L968 459.9L969 459.7L970 459.8L971 460.0L972 460.2L973 460.3L974 460.3L975 460.3L976 460.5L977 460.5L978 460.6L979 460.7L980 460.8L981 461.0L982 461.2L983 461.4L984 461.5L985 461.4L986 461.5L987 461.4L988 461.2L989 461.2L990 461.2L991 461.1L992 460.7L993 460.5L994 460.1L995 459.9L996 459.6L997 459.6L998 459.5L999 459.3L1000 458.9L1001 458.5L1002 458.3L1003 458.3L1004 458.0L1005 457.7L1006 457.5L1007 457.3L1008 457.1L1009 457.1L1010 457.2L1011 456.8L1012 456.8L1013 456.7L1014 456.7L1015 456.4L1016 456.5L1017 456.5L1018 456.4L1019 456.4L1020 456.0L1021 456.0L1022 456.1L1023 456.1L1024 455.7L1025 455.7L1026 455.8L1027 455.5L1028 455.4L1029 455.2L1030 455.4L1031 455.2L1032 454.9L1033 454.7L1034 454.6L1035 454.9L1036 454.8L1037 454.9L1038 455.1L1039 454.8L1040 455.1L1041 455.1L1042 455.5L1043 455.5L1044 455.7L1045 456.0L1046 455.9L1047 455.5L1048 455.6L1049 455.3L1050 455.0L1051 454.8L1052 454.4L1053 454.1L1054 453.8L1055 452.7L1056 451.2L1057 449.8L1058 448.8L1059 447.7L1060 446.5L1061 445.4L1062 445.0L1063 444.3L1064 443.7L1065 442.8L1066 442.3L1067 443.3L1068 444.1L1069 444.7L1070 445.5L1071 446.3L1072 447.5L1073 448.2L1074 448.5L1075 449.2L1076 449.9L1077 450.5L1078 450.7L1079 451.4L1080 451.9L1081 452.3L1082 452.6L1083 452.6L1084 452.8L1085 453.4L1086 453.8L1087 453.8L1088 454.2L1089 454.6L1090 454.3L1091 454.5L1092 454.5L1093 454.7L1094 454.6L1095 454.7L1096 455.0L1097 455.1L1098 454.8L1099 454.6L1100 454.3L1101 454.6L1102 454.3L1103 454.3L1104 454.3L1105 454.4L1106 454.4L1107 454.3L1108 454.0L1109 454.5L1110 454.6L1111 454.5L1112 454.5L1113 455.0L1114 455.3L1115 455.0L1116 455.0L1117 455.4L1118 455.8L1119 455.6L1120 455.8L1121 455.7L1122 455.8L1123 455.9L1124 455.8L1125 455.3L1125.9 455.1L1126 455.1L1127 454.6L1128 454.3L1129 454.4L1130 454.7L1131 454.8L1132 454.9L1133 455.0L1134 454.9L1135 454.7L1136 454.2L1137 453.8L1138 454.4L1139 454.6L1140 454.6L1141 455.0L1142 454.8L1143 455.0L1143.6 455.0L1143.8 455.0L1144 455.0L1145 455.5L1146 455.9L1147 456.2L1148 456.6L1149 456.6L1150 456.8L1151 456.9L1152 457.2L1153 457.1L1154 457.1L1155 457.3L1156 457.2L1157 457.4L1158 457.7L1159 458.1L1160 458.3L1161 458.1L1162 457.8L1163 457.4L1164 457.2L1165 457.0L1166 456.7L1167 456.8L1168 456.5L1169 456.5L1170 456.1L1171 455.9L1172 455.8L1173 454.6L1174 452.9L1175 451.7L1176 450.3L1177 449.5L1178 447.9L1179 446.2L1180 444.9L1181 443.3L1182 442.1L1183 440.5L1184 439.8L1185 437.6L1186 435.3L1187 435.2L1188 434.3L1189 433.9L1190 434.9L1191 434.3L1192 433.0L1193 433.7L1194 434.8L1195 436.2L1196 436.7L1197 437.9L1198 438.6L1199 439.5L1200 441.7L1201 442.3L1202 442.3L1203 443.7L1204 444.8L1205 445.3L1206 445.6L1207 445.4L1208 445.1L1209 444.4L1210 444.0L1211 442.9L1212 442.8L1213 442.5L1214 442.2L1215 442.4L1216 442.3L1217 442.9L1218 443.4L1219 443.4L1220 444.4L1221 444.5L1222 445.4L1223 446.7L1224 447.1L1225 447.8L1226 448.0L1227 448.7L1228 449.8L1229 450.5L1230 457.4L1231 468.3L1231.3 471.5L1231.7 471.5L1231.8 448.4L1232 448.6L1233 448.5L1234 448.2L1235 448.6L1236 448.9L1237 449.3L1238 449.9L1239 450.3L1240 450.7L1241 451.1L1242 451.8L1243 452.3L1244 452.3L1245 452.8L1245.6 453.0L1245.8 454.3L1246 454.6L1247 454.8L1248 454.8L1249 455.0L1250 455.0L1251 455.0L1252 454.9L1253 454.8L1254 454.9L1255 454.8L1256 454.9L1257 455.3L1258 455.1L1259 455.5L1260 455.5L1261 455.0L1262 454.2L1263 453.6L1264 453.3L1265 453.2L1266 453.1L1267 453.2L1268 452.8L1269 452.9L1270 453.3L1271 453.4L1272 453.8L1273 454.0L1274 454.5L1275 455.2L1276 455.5L1277 456.2L1278 456.6L1279 456.9L1280 457.4L1281 457.8L1282 457.7L1283 458.1L1284 458.2L1285 458.0L1286 458.3L1287 458.4L1288 458.4L1289 458.6L1290 458.6L1291 458.1L1292 457.8L1293 457.2L1294 456.5L1295 456.0L1296 455.2L1297 455.1L1298 454.9L1299 454.2L1299.5 453.4L1299.6 433.1L1300 433.4L1301 432.9L1302 432.9L1303 433.2L1304 433.3L1305 433.1L1306 433.7L1307 433.9L1308 433.7L1309 433.7L1310 433.6L1311 433.6L1312 434.2L1313 434.0L1314 450.0L1315 452.0L1316 452.2L1317 452.5L1318 452.5L1319 452.3L1320 452.7L1321 452.6L1322 453.0L1323 453.0L1324 453.0L1325 452.7L1326 452.5L1327 452.5L1328 452.7L1329 452.5L1330 452.3L1331 451.4L1332 450.1L1333 449.1L1334 447.7L1335 445.5L1336 444.5L1337 444.2L1338 443.5L1339 442.9L1340 442.3L1341 442.2L1342 441.6L1343 441.7L1344 441.9L1345 442.1L1346 441.7L1347 442.1L1348 443.2L1349 445.3L1350 445.7L1351 445.7L1352 445.0L1353 445.1L1354 445.2L1355 445.5L1356 445.8L1357 445.6L1358 446.2L1359 446.9L1360 447.7L1361 448.9L1362 449.5L1363 450.3L1364 450.8L1365 451.5L1366 452.2L1367 453.4L1368 453.9L1369 454.6L1370 455.5L1371 456.4L1372 456.9L1373 457.2L1374 457.5L1375 457.4L1376 457.4L1377 457.5V472.3Z" fill="#b7c267"/>
<path d="M190 472.3V472.3L191 472.3L192 472.3L193 472.3L194 472.3L195 472.3L196 472.3L197 472.3L198 472.3L199 472.3L200 472.3L201 472.3L202 472.3L203 472.3L204 472.3L205 472.3L206 472.3L207 472.3L208 472.3L209 472.3L210 472.3L211 472.3L212 472.3L213 472.3L214 472.3L215 472.3L216 472.3L217 472.3L218 472.3L219 472.3L220 472.3L221 472.3L222 472.3L223 472.3L224 472.3L225 472.3L226 472.3L227 472.3L228 472.3L229 472.3L230 472.3L231 472.3L232 472.3L233 472.3L234 472.3L235 472.3L236 472.3L237 472.3L238 472.3L239 472.3L240 472.3L241 472.3L242 472.3L243 472.3L244 472.3L245 472.3L246 472.3L247 472.3L248 472.3L249 472.3L250 472.3L251 472.3L252 472.3L253 472.3L254 472.3L255 472.3L256 472.3L257 472.3L258 472.3L259 472.3L260 472.3L261 472.3L262 472.3L263 472.3L264 472.3L265 472.3L266 472.3L267 472.3L268 472.3L269 472.3L270 472.3L271 472.3L272 472.3L273 472.3L274 472.3L275 472.3L276 472.3L277 472.3L278 472.3L279 472.3L280 472.3L281 472.3L282 472.3L283 472.3L284 472.3L285 472.3L286 472.3L287 472.3L288 472.3L289 472.3L290 472.3L291 472.3L292 472.3L293 472.3L294 472.3L295 472.3L296 472.3L297 472.3L298 472.3L299 472.3L300 472.3L301 472.3L302 472.3L303 472.3L304 472.3L305 472.3L306 472.3L307 472.3L308 472.3L309 472.3L310 472.3L311 472.3L312 472.3L313 472.3L314 472.3L315 472.3L316 472.3L317 472.3L318 472.3L319 472.3L320 472.3L321 472.3L322 472.3L323 472.3L324 472.3L325 472.3L326 472.3L327 472.3L327.6 472.3L328 472.3L329 472.3L330 472.3L331 472.3L332 472.3L333 472.3L334 472.3L335 472.3L336 472.3L337 472.3L338 472.3L339 472.3L340 472.3L341 472.3L342 472.3L343 472.3L344 472.3L345 472.3L346 472.3L347 472.3L348 472.3L349 472.3L350 472.3L351 472.3L352 472.3L353 472.3L354 472.3L355 472.3L356 472.3L357 472.3L358 472.3L359 472.3L360 472.3L361 472.3L362 472.3L363 472.3L364 472.3L365 472.3L366 472.3L367 472.3L368 472.3L369 472.3L370 472.3L371 472.3L372 472.3L373 472.3L374 472.3L375 472.3L376 472.3L377 472.3L378 472.3L379 472.3L380 472.3L381 472.3L382 472.3L383 472.3L384 472.3L385 472.3L386 472.3L387 472.3L388 472.3L389 472.3L390 472.3L391 472.3L392 472.3L393 472.3L394 472.3L395 472.3L396 472.3L397 472.3L398 472.3L399 472.3L400 472.3L401 472.3L402 472.3L403 472.3L404 472.3L405 472.3L406 472.3L407 472.3L408 472.3L409 472.3L410 472.3L411 472.3L412 472.3L413 472.3L414 472.3L415 472.3L416 472.3L417 472.3L418 472.3L419 472.3L420 472.3L421 472.3L422 472.3L423 472.3L424 472.3L425 472.3L426 472.3L427 472.3L428 472.3L429 472.3L430 472.3L431 472.3L432 472.3L433 472.3L434 472.3L435 472.3L436 472.3L437 472.3L438 472.3L439 472.3L440 472.3L441 472.3L442 472.3L443 472.3L444 472.3L445 472.3L446 472.3L447 472.3L448 472.3L449 472.3L450 472.3L451 472.3L452 472.3L453 472.3L454 472.3L455 472.3L456 472.3L457 472.3L458 472.3L459 472.3L460 472.3L461 472.3L462 472.3L463 472.3L464 472.3L465 472.3L466 472.3L467 472.3L468 472.3L469 472.3L470 472.3L471 472.3L472 472.3L473 472.3L474 472.3L475 472.3L476 472.3L477 472.3L478 472.3L479 472.3L480 472.3L481 472.3L482 472.3L483 472.3L484 472.3L485 472.3L486 472.3L487 472.3L488 472.3L489 472.3L490 472.3L491 472.3L492 472.3L493 472.3L494 472.3L495 472.3L496 472.3L497 472.3L498 472.3L499 472.3L500 472.1L501 471.9L502 471.7L503 471.5L504 471.3L505 471.0L506 470.8L507 470.5L508 470.2L509 469.9L510 469.6L511 469.0L512 468.3L513 467.5L514 466.7L515 466.0L516 465.0L517 464.3L518 463.6L519 463.0L520 462.5L521 462.0L522 461.3L523 460.8L524 460.3L525 459.6L526 458.7L527 457.9L528 457.4L529 456.8L530 455.6L531 454.8L532 453.9L533 453.7L534 453.5L535 452.9L536 452.8L537 453.0L538 452.6L539 452.6L540 452.6L541 453.0L542 452.9L543 453.2L544 453.1L545 453.2L546 453.5L547 453.3L548 452.9L549 452.9L550 453.0L551 452.7L552 452.7L553 452.7L554 452.4L555 452.1L556 451.8L557 451.4L558 451.1L559 450.7L560 450.8L561 450.9L562 451.0L563 450.8L564 450.9L564.4 450.9L564.5 403.5L565 402.5L566 401.9L567 402.4L568 402.3L569 400.2L570 400.9L571 399.5L572 399.2L573 398.8L574 398.2L575 398.9L576 399.4L577 399.4L578 399.5L579 402.0L580 403.0L581 403.8L582 405.1L583 407.2L584 409.3L585 412.9L586 416.0L587 417.3L588 416.6L589 419.3L590 423.0L591 426.0L592 427.4L593 428.4L594 429.9L595 432.0L596 433.7L597 434.9L598 435.8L599 437.1L600 437.9L601 438.9L602 439.2L603 439.8L604 440.9L605 442.1L606 441.7L607 442.0L608 442.2L609 442.4L610 441.9L611 441.4L612 441.0L613 440.9L614 440.4L615 440.5L616 440.1L617 439.7L618 437.9L619 436.1L620 434.7L621 433.3L622 432.3L623 431.2L624 430.4L625 430.1L626 430.1L627 429.6L628 429.0L629 429.0L630 429.1L631 428.1L632 429.2L633 429.5L634 430.0L635 431.4L636 431.3L637 431.6L638 432.5L639 433.1L640 433.4L641 434.6L642 434.9L643 435.1L644 435.0L645 435.2L646 435.0L647 435.0L648 434.6L649 434.3L650 434.0L651 434.2L652 434.2L653 433.7L654 433.3L655 433.5L656 432.9L657 432.9L658 432.9L659 433.2L660 432.8L661 432.9L662 433.9L663 433.4L664 433.0L665 433.4L666 433.8L667 434.0L668 434.8L669 434.8L670 435.6L671 436.5L672 437.0L673 437.0L674 437.6L675 437.6L676 437.7L677 438.6L678 439.9L679 440.8L680 440.7L681 440.7L682 440.9L683 441.0L684 441.4L685 441.5L686 442.2L687 442.4L688 442.3L689 441.9L690 441.5L691 441.5L692 441.3L693 441.7L694 442.2L695 443.1L696 444.5L697 445.6L698 446.5L699 447.2L700 448.2L701 448.4L702 449.3L703 449.5L704 449.9L705 451.0L706 451.4L707 451.6L708 451.9L709 452.7L710 453.3L711 453.9L712 454.0L713 454.6L714 454.9L715 455.4L716 455.6L717 455.7L718 456.4L719 456.3L720 456.4L721 456.3L722 456.2L723 456.2L724 455.7L725 455.5L726 455.5L727 455.4L728 454.9L729 454.9L730 454.9L731 455.0L732 455.0L733 455.0L734 454.9L735 455.4L736 455.4L737 455.5L738 455.7L739 455.3L739.4 455.1L739.6 453.3L740 453.3L741 452.6L742 451.7L743 450.7L744 450.3L745 450.0L746 449.5L747 449.2L748 449.5L749 449.6L750 449.3L751 449.6L752 449.7L753 450.7L754 451.5L754.1 451.4L754.3 453.2L755 453.2L756 452.9L757 452.9L758 453.1L759 453.2L760 453.2L761 453.2L762 453.5L763 453.6L764 454.0L765 453.9L766 454.1L767 454.1L768 454.5L769 455.2L770 455.8L771 456.0L772 456.7L773 457.1L774 457.6L775 458.1L776 458.3L777 458.5L778 458.9L779 459.2L780 459.4L781 459.4L782 459.5L783 459.6L784 459.7L785 459.8L786 459.6L787 459.7L788 459.9L789 459.8L790 459.8L791 460.0L792 460.3L793 460.4L794 460.4L795 460.3L796 460.4L797 460.3L798 460.3L799 460.2L800 460.0L801 460.1L802 460.3L803 460.3L804 460.3L805 460.4L806 460.4L807 460.4L808 460.3L809 460.0L810 460.1L811 460.0L812 460.0L813 460.0L814 460.3L815 460.5L816 460.6L817 460.7L818 460.8L819 460.8L820 460.9L821 461.1L822 461.4L823 461.6L824 461.4L825 461.3L826 461.5L827 461.7L827.6 461.9L827.8 459.1L828 458.8L829 458.2L830 457.6L831 457.1L832 456.9L833 456.5L834 456.3L835 455.8L836 455.4L837 455.0L838 454.9L839 455.0L840 455.2L840.7 455.4L840.9 456.5L841 456.7L842 456.8L843 457.3L844 457.4L845 457.8L846 458.1L847 458.3L848 458.4L849 458.4L850 458.3L851 458.5L852 458.5L853 458.3L854 458.2L855 458.2L856 458.2L857 458.0L858 458.1L859 458.0L860 457.9L861 457.6L862 457.6L863 457.5L864 457.5L865 457.6L866 457.7L867 457.4L868 457.4L869 457.7L870 457.9L871 457.8L872 457.9L873 458.2L874 458.6L875 458.7L876 458.9L877 459.4L878 459.8L879 460.0L880 460.2L881 460.4L882 460.4L883 460.1L884 459.9L885 459.9L886 459.8L887 459.5L888 459.4L889 459.2L890 459.1L891 459.0L892 458.6L893 458.5L894 458.1L895 458.1L896 458.2L897 458.2L898 458.3L899 458.4L900 458.5L901 459.0L902 459.1L903 459.2L904 459.1L905 459.3L906 459.6L907 459.7L908 459.7L909 459.7L910 459.9L911 460.1L912 460.2L913 460.4L914 460.9L915 461.2L916 461.2L917 461.4L918 461.8L919 461.8L920 462.0L921 462.1L922 462.1L923 461.9L924 461.7L925 461.4L926 461.1L927 460.7L928 460.6L929 460.2L930 460.1L931 460.0L932 459.7L933 459.5L934 459.5L935 459.5L936 459.4L937 459.3L938 459.2L939 459.4L940 459.4L941 459.2L942 459.4L943 459.3L944 459.0L945 458.9L946 459.1L947 459.1L948 459.1L949 458.7L950 458.8L951 458.7L952 458.5L953 458.8L954 459.0L955 458.9L956 459.1L957 459.3L958 459.3L959 459.5L960 459.6L961 459.8L962 459.6L963 459.6L964 459.7L965 459.6L966 459.9L967 460.0L968 459.9L969 459.7L970 459.8L971 460.0L972 460.2L973 460.3L974 460.3L975 460.3L976 460.5L977 460.5L978 460.6L979 460.7L980 460.8L981 461.0L982 461.2L983 461.4L984 461.5L985 461.4L986 461.5L987 461.4L988 461.2L989 461.2L990 461.2L991 461.1L992 460.7L993 460.5L994 460.1L995 459.9L996 459.6L997 459.6L998 459.5L999 459.3L1000 458.9L1001 458.5L1002 458.3L1003 458.3L1004 458.0L1005 457.7L1006 457.5L1007 457.3L1008 457.1L1009 457.1L1010 457.2L1011 456.8L1012 456.8L1013 456.7L1014 456.7L1015 456.4L1016 456.5L1017 456.5L1018 456.4L1019 456.4L1020 456.0L1021 456.0L1022 456.1L1023 456.1L1024 455.7L1025 455.7L1026 455.8L1027 455.5L1028 455.4L1029 455.2L1030 455.4L1031 455.2L1032 454.9L1033 454.8L1034 454.8L1035 455.2L1036 455.2L1037 455.4L1038 455.7L1039 455.6L1040 455.9L1041 456.0L1042 456.5L1043 456.5L1044 456.8L1045 457.1L1046 457.1L1047 456.8L1048 457.0L1049 456.8L1050 456.6L1051 456.5L1052 456.2L1053 456.0L1054 455.7L1055 454.8L1056 453.5L1057 452.4L1058 451.5L1059 450.7L1060 449.7L1061 448.8L1062 448.5L1063 448.0L1064 447.6L1065 446.8L1066 446.5L1067 447.2L1068 447.9L1069 448.3L1070 448.9L1071 449.6L1072 450.6L1073 451.1L1074 451.3L1075 451.9L1076 452.5L1077 452.9L1078 453.0L1079 453.6L1080 453.9L1081 454.2L1082 454.4L1083 454.4L1084 454.5L1085 454.9L1086 455.3L1087 455.2L1088 455.5L1089 455.8L1090 455.4L1091 455.6L1092 455.5L1093 455.6L1094 455.4L1095 455.5L1096 455.6L1097 455.7L1098 455.3L1099 455.0L1100 454.6L1101 454.8L1102 454.4L1103 454.3L1104 454.3L1105 454.4L1106 454.4L1107 454.3L1108 454.0L1109 454.5L1110 454.6L1111 454.5L1112 454.5L1113 455.0L1114 455.3L1115 455.0L1116 455.0L1117 455.4L1118 455.8L1119 455.6L1120 455.8L1121 455.7L1122 455.8L1123 455.9L1124 455.8L1125 455.3L1125.9 455.1L1126 455.1L1127 454.6L1128 454.3L1129 454.4L1130 454.7L1131 454.8L1132 454.9L1133 455.0L1134 454.9L1135 454.7L1136 454.2L1137 453.8L1138 454.4L1139 454.6L1140 454.6L1141 455.0L1142 454.8L1143 455.0L1143.6 455.0L1143.8 455.0L1144 455.0L1145 455.5L1146 455.9L1147 456.2L1148 456.6L1149 456.6L1150 456.8L1151 456.9L1152 457.2L1153 457.1L1154 457.1L1155 457.3L1156 457.2L1157 457.4L1158 457.7L1159 458.1L1160 458.3L1161 458.2L1162 458.1L1163 457.8L1164 457.7L1165 457.5L1166 457.4L1167 457.5L1168 457.3L1169 457.4L1170 457.1L1171 456.9L1172 457.0L1173 455.9L1174 454.4L1175 453.3L1176 452.1L1177 451.4L1178 450.0L1179 448.5L1180 447.4L1181 446.0L1182 444.9L1183 443.6L1184 443.0L1185 441.1L1186 439.1L1187 439.1L1188 438.3L1189 438.0L1190 438.9L1191 438.4L1192 437.2L1193 437.8L1194 438.7L1195 439.9L1196 440.4L1197 441.4L1198 442.0L1199 442.8L1200 444.7L1201 445.3L1202 445.2L1203 446.5L1204 447.4L1205 447.8L1206 448.1L1207 447.9L1208 447.5L1209 446.8L1210 446.5L1211 445.4L1212 445.3L1213 445.0L1214 444.7L1215 444.8L1216 444.7L1217 445.3L1218 445.7L1219 445.8L1220 446.7L1221 446.8L1222 447.7L1223 448.8L1224 449.2L1225 449.9L1226 450.1L1227 450.8L1228 451.7L1229 452.4L1230 458.7L1231 468.6L1231.3 471.6L1231.7 471.6L1231.8 450.5L1232 450.7L1233 450.6L1234 450.4L1235 450.7L1236 451.0L1237 451.4L1238 451.9L1239 452.3L1240 452.7L1241 453.1L1242 453.7L1243 454.2L1244 454.2L1245 454.6L1245.6 454.8L1245.8 456.1L1246 456.3L1247 456.5L1248 456.5L1249 456.7L1250 456.7L1251 456.8L1252 456.7L1253 456.6L1254 456.7L1255 456.6L1256 456.7L1257 457.0L1258 456.9L1259 457.2L1260 457.3L1261 456.9L1262 456.2L1263 455.6L1264 455.4L1265 455.3L1266 455.3L1267 455.3L1268 455.0L1269 455.1L1270 455.4L1271 455.6L1272 455.9L1273 456.2L1274 456.6L1275 457.2L1276 457.5L1277 458.1L1278 458.5L1279 458.8L1280 459.2L1281 459.5L1282 459.5L1283 459.9L1284 459.9L1285 459.8L1286 460.0L1287 460.2L1288 460.2L1289 460.3L1290 460.3L1291 459.9L1292 459.7L1293 459.1L1294 458.5L1295 458.2L1296 457.5L1297 457.4L1298 457.2L1299 456.6L1299.5 455.9L1299.6 454.3L1300 454.4L1301 454.2L1302 454.2L1303 454.3L1304 454.3L1305 454.2L1306 454.4L1307 454.4L1308 454.3L1309 454.2L1310 454.0L1311 454.0L1312 454.2L1313 454.0L1314 455.8L1315 456.0L1316 456.3L1317 456.6L1318 456.6L1319 456.5L1320 456.9L1321 456.9L1322 457.2L1323 457.3L1324 457.3L1325 457.1L1326 457.0L1327 457.1L1328 457.3L1329 457.1L1330 457.0L1331 456.4L1332 455.4L1333 454.7L1334 453.7L1335 452.0L1336 451.4L1337 451.2L1338 450.7L1339 450.3L1340 449.9L1341 449.8L1342 449.5L1343 449.5L1344 449.6L1345 449.7L1346 449.5L1347 449.7L1348 450.6L1349 452.1L1350 452.4L1351 452.4L1352 451.8L1353 451.9L1354 452.0L1355 452.2L1356 452.3L1357 452.2L1358 452.6L1359 453.2L1360 453.7L1361 454.6L1362 455.0L1363 455.6L1364 456.0L1365 456.5L1366 457.0L1367 457.9L1368 458.3L1369 458.8L1370 459.4L1371 460.1L1372 460.4L1373 460.7L1374 460.9L1375 460.8L1376 460.7L1377 460.9V472.3Z" fill="#ee6a5a"/>
<path d="M190 472.3V472.3L191 472.3L192 472.3L193 472.3L194 472.3L195 472.3L196 472.3L197 472.3L198 472.3L199 472.3L200 472.3L201 472.3L202 472.3L203 472.3L204 472.3L205 472.3L206 472.3L207 472.3L208 472.3L209 472.3L210 472.3L211 472.3L212 472.3L213 472.3L214 472.3L215 472.3L216 472.3L217 472.3L218 472.3L219 472.3L220 472.3L221 472.3L222 472.3L223 472.3L224 472.3L225 472.3L226 472.3L227 472.3L228 472.3L229 472.3L230 472.3L231 472.3L232 472.3L233 472.3L234 472.3L235 472.3L236 472.3L237 472.3L238 472.3L239 472.3L240 472.3L241 472.3L242 472.3L243 472.3L244 472.3L245 472.3L246 472.3L247 472.3L248 472.3L249 472.3L250 472.3L251 472.3L252 472.3L253 472.3L254 472.3L255 472.3L256 472.3L257 472.3L258 472.3L259 472.3L260 472.3L261 472.3L262 472.3L263 472.3L264 472.3L265 472.3L266 472.3L267 472.3L268 472.3L269 472.3L270 472.3L271 472.3L272 472.3L273 472.3L274 472.3L275 472.3L276 472.3L277 472.3L278 472.3L279 472.3L280 472.3L281 472.3L282 472.3L283 472.3L284 472.3L285 472.3L286 472.3L287 472.3L288 472.3L289 472.3L290 472.3L291 472.3L292 472.3L293 472.3L294 472.3L295 472.3L296 472.3L297 472.3L298 472.3L299 472.3L300 472.3L301 472.3L302 472.3L303 472.3L304 472.3L305 472.3L306 472.3L307 472.3L308 472.3L309 472.3L310 472.3L311 472.3L312 472.3L313 472.3L314 472.3L315 472.3L316 472.3L317 472.3L318 472.3L319 472.3L320 472.3L321 472.3L322 472.3L323 472.3L324 472.3L325 472.3L326 472.3L327 472.3L327.6 472.3L328 472.3L329 472.3L330 472.3L331 472.3L332 472.3L333 472.3L334 472.3L335 472.3L336 472.3L337 472.3L338 472.3L339 472.3L340 472.3L341 472.3L342 472.3L343 472.3L344 472.3L345 472.3L346 472.3L347 472.3L348 472.3L349 472.3L350 472.3L351 472.3L352 472.3L353 472.3L354 472.3L355 472.3L356 472.3L357 472.3L358 472.3L359 472.3L360 472.3L361 472.3L362 472.3L363 472.3L364 472.3L365 472.3L366 472.3L367 472.3L368 472.3L369 472.3L370 472.3L371 472.3L372 472.3L373 472.3L374 472.3L375 472.3L376 472.3L377 472.3L378 472.3L379 472.3L380 472.3L381 472.3L382 472.3L383 472.3L384 472.3L385 472.3L386 472.3L387 472.3L388 472.3L389 472.3L390 472.3L391 472.3L392 472.3L393 472.3L394 472.3L395 472.3L396 472.3L397 472.3L398 472.3L399 472.3L400 472.3L401 472.3L402 472.3L403 472.3L404 472.3L405 472.3L406 472.3L407 472.3L408 472.3L409 472.3L410 472.3L411 472.3L412 472.3L413 472.3L414 472.3L415 472.3L416 472.3L417 472.3L418 472.3L419 472.3L420 472.3L421 472.3L422 472.3L423 472.3L424 472.3L425 472.3L426 472.3L427 472.3L428 472.3L429 472.3L430 472.3L431 472.3L432 472.3L433 472.3L434 472.3L435 472.3L436 472.3L437 472.3L438 472.3L439 472.3L440 472.3L441 472.3L442 472.3L443 472.3L444 472.3L445 472.3L446 472.3L447 472.3L448 472.3L449 472.3L450 472.3L451 472.3L452 472.3L453 472.3L454 472.3L455 472.3L456 472.3L457 472.3L458 472.3L459 472.3L460 472.3L461 472.3L462 472.3L463 472.3L464 472.3L465 472.3L466 472.3L467 472.3L468 472.3L469 472.3L470 472.3L471 472.3L472 472.3L473 472.3L474 472.3L475 472.3L476 472.3L477 472.3L478 472.3L479 472.3L480 472.3L481 472.3L482 472.3L483 472.3L484 472.3L485 472.3L486 472.3L487 472.3L488 472.3L489 472.3L490 472.3L491 472.3L492 472.3L493 472.3L494 472.3L495 472.3L496 472.3L497 472.3L498 472.3L499 472.3L500 472.1L501 471.9L502 471.7L503 471.5L504 471.3L505 471.0L506 470.8L507 470.5L508 470.2L509 469.9L510 469.6L511 469.0L512 468.3L513 467.5L514 466.7L515 466.0L516 465.0L517 464.3L518 463.6L519 463.0L520 462.5L521 462.0L522 461.3L523 460.8L524 460.3L525 459.6L526 458.7L527 457.9L528 457.4L529 456.8L530 455.6L531 454.8L532 453.9L533 453.7L534 453.5L535 452.9L536 452.8L537 453.0L538 452.6L539 452.6L540 452.6L541 453.0L542 452.9L543 453.2L544 453.1L545 453.2L546 453.5L547 453.3L548 452.9L549 452.9L550 453.0L551 452.7L552 452.7L553 452.7L554 452.4L555 452.1L556 451.8L557 451.4L558 451.1L559 450.7L560 450.8L561 450.9L562 451.0L563 450.8L564 450.9L564.4 450.9L564.5 411.4L565 410.5L566 410.1L567 410.7L568 410.7L569 409.0L570 409.7L571 408.6L572 408.3L573 407.9L574 407.4L575 408.0L576 408.4L577 408.3L578 408.3L579 410.4L580 411.1L581 411.9L582 413.2L583 415.2L584 417.1L585 420.1L586 422.8L587 423.9L588 423.1L589 425.5L590 428.7L591 431.3L592 432.6L593 433.4L594 434.8L595 436.7L596 438.1L597 439.2L598 439.9L599 441.1L600 441.7L601 442.5L602 442.5L603 442.8L604 443.7L605 444.6L606 444.2L607 444.5L608 444.6L609 444.7L610 444.3L611 443.8L612 443.4L613 443.3L614 442.9L615 442.9L616 442.5L617 442.1L618 440.4L619 438.8L620 437.5L621 436.2L622 435.2L623 434.2L624 433.4L625 433.1L626 433.1L627 432.6L628 432.0L629 432.0L630 432.1L631 431.2L632 432.1L633 432.3L634 432.7L635 433.9L636 433.8L637 434.0L638 434.7L639 435.2L640 435.5L641 436.5L642 437.0L643 437.5L644 437.7L645 438.2L646 438.3L647 438.6L648 438.5L649 438.6L650 438.7L651 439.1L652 439.4L653 439.3L654 439.3L655 439.7L656 439.5L657 439.8L658 439.6L659 439.5L660 438.9L661 438.6L662 439.2L663 438.5L664 437.8L665 437.8L666 437.9L667 437.8L668 438.2L669 437.9L670 438.3L671 438.8L672 439.0L673 438.9L674 439.8L675 440.0L676 440.3L677 441.4L678 442.9L679 443.9L680 444.1L681 444.3L682 444.8L683 445.1L684 445.7L685 446.0L686 446.7L687 446.9L688 446.9L689 446.6L690 446.3L691 446.4L692 446.4L693 446.7L694 447.1L695 447.7L696 448.9L697 449.7L698 450.4L699 450.9L700 451.6L701 451.7L702 452.4L703 452.5L704 452.7L705 453.5L706 453.8L707 453.9L708 454.1L709 454.6L710 455.1L711 455.5L712 455.5L713 456.0L714 456.1L715 456.4L716 456.5L717 456.5L718 456.9L719 456.7L720 456.7L721 456.4L722 456.3L723 456.5L724 456.2L725 456.2L726 456.4L727 456.4L728 456.1L729 456.2L730 456.4L731 456.7L732 456.8L733 456.9L734 457.0L735 457.6L736 457.7L737 457.9L738 458.2L739 457.9L739.4 457.8L739.6 456.3L740 456.3L741 455.9L742 455.3L743 454.6L744 454.4L745 454.3L746 454.0L747 453.8L748 454.1L749 454.2L750 454.0L751 454.2L752 454.4L753 455.2L754 455.8L754.1 455.8L754.3 457.2L755 457.2L756 457.0L757 457.0L758 457.1L759 457.3L760 457.3L761 457.3L762 457.5L763 457.6L764 458.0L765 457.9L766 458.1L767 458.1L768 458.4L769 459.0L770 459.5L771 459.7L772 460.2L773 460.6L774 461.0L775 461.4L776 461.6L777 461.7L778 462.1L779 462.3L780 462.5L781 462.5L782 462.6L783 462.7L784 462.8L785 462.9L786 462.8L787 462.9L788 463.1L789 463.0L790 463.0L791 463.2L792 463.5L793 463.6L794 463.6L795 463.5L796 463.5L797 463.5L798 463.5L799 463.4L800 463.3L801 463.3L802 463.4L803 463.5L804 463.5L805 463.5L806 463.5L807 463.5L808 463.4L809 463.2L810 463.3L811 463.2L812 463.2L813 463.2L814 463.4L815 463.5L816 463.5L817 463.6L818 463.7L819 463.7L820 463.8L821 463.9L822 464.2L823 464.2L824 464.1L825 464.0L826 464.2L827 464.3L827.6 464.5L827.8 462.4L828 462.1L829 461.7L830 461.2L831 460.8L832 460.7L833 460.4L834 460.2L835 459.8L836 459.5L837 459.2L838 459.1L839 459.2L840 459.3L840.7 459.6L840.9 460.3L841 460.5L842 460.6L843 461.0L844 461.1L845 461.4L846 461.6L847 461.8L848 461.9L849 461.9L850 461.8L851 461.9L852 462.0L853 461.8L854 461.7L855 461.8L856 461.8L857 461.7L858 461.8L859 461.7L860 461.6L861 461.4L862 461.4L863 461.3L864 461.4L865 461.4L866 461.5L867 461.3L868 461.3L869 461.5L870 461.7L871 461.6L872 461.7L873 462.0L874 462.2L875 462.3L876 462.4L877 462.8L878 463.1L879 463.3L880 463.4L881 463.6L882 463.6L883 463.4L884 463.2L885 463.2L886 463.2L887 462.9L888 462.9L889 462.7L890 462.7L891 462.6L892 462.3L893 462.3L894 462.0L895 462.0L896 462.1L897 462.1L898 462.1L899 462.2L900 462.3L901 462.6L902 462.7L903 462.8L904 462.7L905 462.9L906 463.1L907 463.2L908 463.3L909 463.2L910 463.4L911 463.5L912 463.6L913 463.8L914 464.1L915 464.4L916 464.4L917 464.5L918 464.8L919 464.8L920 464.9L921 465.0L922 465.1L923 464.9L924 464.8L925 464.6L926 464.4L927 464.1L928 464.0L929 463.8L930 463.7L931 463.6L932 463.4L933 463.3L934 463.3L935 463.3L936 463.2L937 463.2L938 463.1L939 463.2L940 463.3L941 463.1L942 463.2L943 463.2L944 463.0L945 462.9L946 463.0L947 463.0L948 463.0L949 462.7L950 462.8L951 462.6L952 462.5L953 462.7L954 462.9L955 462.8L956 462.9L957 463.0L958 463.0L959 463.1L960 463.2L961 463.3L962 463.2L963 463.1L964 463.2L965 463.1L966 463.3L967 463.4L968 463.3L969 463.2L970 463.2L971 463.4L972 463.5L973 463.5L974 463.6L975 463.5L976 463.7L977 463.7L978 463.7L979 463.8L980 463.9L981 464.0L982 464.2L983 464.3L984 464.4L985 464.3L986 464.3L987 464.3L988 464.1L989 464.1L990 464.1L991 464.0L992 463.7L993 463.5L994 463.2L995 463.1L996 462.9L997 462.8L998 462.7L999 462.5L1000 462.2L1001 461.9L1002 461.8L1003 461.8L1004 461.6L1005 461.3L1006 461.1L1007 461.0L1008 460.8L1009 460.8L1010 460.9L1011 460.6L1012 460.6L1013 460.5L1014 460.4L1015 460.3L1016 460.3L1017 460.3L1018 460.2L1019 460.2L1020 459.9L1021 459.9L1022 459.9L1023 459.9L1024 459.6L1025 459.6L1026 459.7L1027 459.5L1028 459.4L1029 459.2L1030 459.3L1031 459.2L1032 458.9L1033 458.9L1034 458.9L1035 459.2L1036 459.3L1037 459.5L1038 459.7L1039 459.6L1040 459.8L1041 460.0L1042 460.3L1043 460.4L1044 460.6L1045 460.9L1046 460.9L1047 460.7L1048 460.9L1049 460.7L1050 460.6L1051 460.5L1052 460.3L1053 460.2L1054 460.0L1055 459.3L1056 458.4L1057 457.6L1058 457.0L1059 456.3L1060 455.6L1061 455.0L1062 454.8L1063 454.5L1064 454.1L1065 453.6L1066 453.4L1067 453.9L1068 454.4L1069 454.7L1070 455.1L1071 455.6L1072 456.2L1073 456.6L1074 456.8L1075 457.2L1076 457.6L1077 457.9L1078 457.9L1079 458.4L1080 458.6L1081 458.8L1082 458.9L1083 458.9L1084 458.9L1085 459.2L1086 459.5L1087 459.4L1088 459.6L1089 459.7L1090 459.5L1091 459.5L1092 459.5L1093 459.5L1094 459.3L1095 459.4L1096 459.5L1097 459.5L1098 459.2L1099 458.9L1100 458.6L1101 458.7L1102 458.4L1103 458.2L1104 458.2L1105 458.3L1106 458.2L1107 458.1L1108 457.8L1109 458.2L1110 458.2L1111 458.1L1112 458.1L1113 458.4L1114 458.6L1115 458.4L1116 458.4L1117 458.6L1118 458.9L1119 458.8L1120 458.9L1121 458.8L1122 458.8L1123 458.8L1124 458.7L1125 458.3L1125.9 458.1L1126 458.1L1127 457.7L1128 457.4L1129 457.5L1130 457.8L1131 457.8L1132 457.9L1133 458.0L1134 457.9L1135 457.7L1136 457.3L1137 457.0L1138 457.5L1139 457.7L1140 457.7L1141 458.0L1142 457.8L1143 458.0L1143.6 458.0L1143.8 458.0L1144 458.0L1145 458.5L1146 458.8L1147 459.1L1148 459.4L1149 459.5L1150 459.7L1151 459.8L1152 460.1L1153 460.0L1154 460.1L1155 460.3L1156 460.2L1157 460.4L1158 460.7L1159 461.1L1160 461.2L1161 461.0L1162 460.8L1163 460.5L1164 460.3L1165 460.1L1166 459.9L1167 459.9L1168 459.7L1169 459.7L1170 459.4L1171 459.2L1172 459.1L1173 458.2L1174 456.8L1175 455.8L1176 454.7L1177 454.0L1178 452.7L1179 451.4L1180 450.3L1181 449.0L1182 448.0L1183 446.8L1184 446.1L1185 444.4L1186 442.6L1187 442.5L1188 441.8L1189 441.4L1190 442.2L1191 441.7L1192 440.7L1193 441.2L1194 442.1L1195 443.2L1196 443.7L1197 444.7L1198 445.1L1199 445.9L1200 447.6L1201 448.2L1202 448.1L1203 449.3L1204 450.2L1205 450.5L1206 450.8L1207 450.7L1208 450.4L1209 449.8L1210 449.6L1211 448.6L1212 448.6L1213 448.3L1214 448.1L1215 448.2L1216 448.2L1217 448.7L1218 449.1L1219 449.2L1220 450.0L1221 450.2L1222 450.9L1223 451.9L1224 452.3L1225 452.9L1226 453.1L1227 453.7L1228 454.6L1229 455.1L1230 460.6L1231 469.2L1231.3 471.7L1231.7 471.7L1231.8 453.6L1232 453.8L1233 453.7L1234 453.6L1235 453.9L1236 454.1L1237 454.5L1238 455.0L1239 455.3L1240 455.7L1241 456.0L1242 456.6L1243 457.0L1244 457.0L1245 457.5L1245.6 457.6L1245.8 458.7L1246 458.9L1247 459.1L1248 459.1L1249 459.3L1250 459.3L1251 459.4L1252 459.3L1253 459.3L1254 459.4L1255 459.3L1256 459.5L1257 459.8L1258 459.7L1259 460.0L1260 460.1L1261 459.8L1262 459.2L1263 458.8L1264 458.7L1265 458.7L1266 458.7L1267 458.7L1268 458.5L1269 458.6L1270 458.9L1271 459.0L1272 459.3L1273 459.5L1274 459.8L1275 460.3L1276 460.5L1277 461.1L1278 461.3L1279 461.6L1280 461.9L1281 462.2L1282 462.2L1283 462.5L1284 462.5L1285 462.4L1286 462.6L1287 462.7L1288 462.7L1289 462.8L1290 462.8L1291 462.5L1292 462.4L1293 461.9L1294 461.4L1295 461.2L1296 460.6L1297 460.6L1298 460.4L1299 460.0L1299.5 459.4L1299.6 457.9L1300 457.9L1301 457.7L1302 457.7L1303 457.7L1304 457.8L1305 457.7L1306 457.8L1307 457.8L1308 457.7L1309 457.6L1310 457.5L1311 457.5L1312 457.6L1313 457.5L1314 459.3L1315 459.5L1316 459.6L1317 459.8L1318 459.8L1319 459.7L1320 460.0L1321 459.9L1322 460.1L1323 460.1L1324 460.1L1325 459.9L1326 459.8L1327 459.8L1328 460.0L1329 459.8L1330 459.7L1331 459.1L1332 458.3L1333 457.7L1334 456.8L1335 455.4L1336 454.8L1337 454.6L1338 454.1L1339 453.8L1340 453.4L1341 453.3L1342 453.0L1343 453.0L1344 453.2L1345 453.3L1346 453.1L1347 453.3L1348 454.1L1349 455.4L1350 455.6L1351 455.7L1352 455.3L1353 455.3L1354 455.4L1355 455.6L1356 455.8L1357 455.7L1358 456.1L1359 456.6L1360 457.1L1361 457.8L1362 458.2L1363 458.7L1364 459.1L1365 459.5L1366 460.0L1367 460.8L1368 461.1L1369 461.5L1370 462.1L1371 462.7L1372 463.0L1373 463.2L1374 463.4L1375 463.3L1376 463.3L1377 463.4V472.3Z" fill="#57c842"/>
<path d="M190 472.3V472.3L191 472.3L192 472.3L193 472.3L194 472.3L195 472.3L196 472.3L197 472.3L198 472.3L199 472.3L200 472.3L201 472.3L202 472.3L203 472.3L204 472.3L205 472.3L206 472.3L207 472.3L208 472.3L209 472.3L210 472.3L211 472.3L212 472.3L213 472.3L214 472.3L215 472.3L216 472.3L217 472.3L218 472.3L219 472.3L220 472.3L221 472.3L222 472.3L223 472.3L224 472.3L225 472.3L226 472.3L227 472.3L228 472.3L229 472.3L230 472.3L231 472.3L232 472.3L233 472.3L234 472.3L235 472.3L236 472.3L237 472.3L238 472.3L239 472.3L240 472.3L241 472.3L242 472.3L243 472.3L244 472.3L245 472.3L246 472.3L247 472.3L248 472.3L249 472.3L250 472.3L251 472.3L252 472.3L253 472.3L254 472.3L255 472.3L256 472.3L257 472.3L258 472.3L259 472.3L260 472.3L261 472.3L262 472.3L263 472.3L264 472.3L265 472.3L266 472.3L267 472.3L268 472.3L269 472.3L270 472.3L271 472.3L272 472.3L273 472.3L274 472.3L275 472.3L276 472.3L277 472.3L278 472.3L279 472.3L280 472.3L281 472.3L282 472.3L283 472.3L284 472.3L285 472.3L286 472.3L287 472.3L288 472.3L289 472.3L290 472.3L291 472.3L292 472.3L293 472.3L294 472.3L295 472.3L296 472.3L297 472.3L298 472.3L299 472.3L300 472.3L301 472.3L302 472.3L303 472.3L304 472.3L305 472.3L306 472.3L307 472.3L308 472.3L309 472.3L310 472.3L311 472.3L312 472.3L313 472.3L314 472.3L315 472.3L316 472.3L317 472.3L318 472.3L319 472.3L320 472.3L321 472.3L322 472.3L323 472.3L324 472.3L325 472.3L326 472.3L327 472.3L327.6 472.3L328 472.3L329 472.3L330 472.3L331 472.3L332 472.3L333 472.3L334 472.3L335 472.3L336 472.3L337 472.3L338 472.3L339 472.3L340 472.3L341 472.3L342 472.3L343 472.3L344 472.3L345 472.3L346 472.3L347 472.3L348 472.3L349 472.3L350 472.3L351 472.3L352 472.3L353 472.3L354 472.3L355 472.3L356 472.3L357 472.3L358 472.3L359 472.3L360 472.3L361 472.3L362 472.3L363 472.3L364 472.3L365 472.3L366 472.3L367 472.3L368 472.3L369 472.3L370 472.3L371 472.3L372 472.3L373 472.3L374 472.3L375 472.3L376 472.3L377 472.3L378 472.3L379 472.3L380 472.3L381 472.3L382 472.3L383 472.3L384 472.3L385 472.3L386 472.3L387 472.3L388 472.3L389 472.3L390 472.3L391 472.3L392 472.3L393 472.3L394 472.3L395 472.3L396 472.3L397 472.3L398 472.3L399 472.3L400 472.3L401 472.3L402 472.3L403 472.3L404 472.3L405 472.3L406 472.3L407 472.3L408 472.3L409 472.3L410 472.3L411 472.3L412 472.3L413 472.3L414 472.3L415 472.3L416 472.3L417 472.3L418 472.3L419 472.3L420 472.3L421 472.3L422 472.3L423 472.3L424 472.3L425 472.3L426 472.3L427 472.3L428 472.3L429 472.3L430 472.3L431 472.3L432 472.3L433 472.3L434 472.3L435 472.3L436 472.3L437 472.3L438 472.3L439 472.3L440 472.3L441 472.3L442 472.3L443 472.3L444 472.3L445 472.3L446 472.3L447 472.3L448 472.3L449 472.3L450 472.3L451 472.3L452 472.3L453 472.3L454 472.3L455 472.3L456 472.3L457 472.3L458 472.3L459 472.3L460 472.3L461 472.3L462 472.3L463 472.3L464 472.3L465 472.3L466 472.3L467 472.3L468 472.3L469 472.3L470 472.3L471 472.3L472 472.3L473 472.3L474 472.3L475 472.3L476 472.3L477 472.3L478 472.3L479 472.3L480 472.3L481 472.3L482 472.3L483 472.3L484 472.3L485 472.3L486 472.3L487 472.3L488 472.3L489 472.3L490 472.3L491 472.3L492 472.3L493 472.3L494 472.3L495 472.3L496 472.3L497 472.3L498 472.3L499 472.3L500 472.3L501 472.3L502 472.3L503 472.3L504 472.3L505 472.3L506 472.3L507 472.3L508 472.3L509 472.3L510 472.3L511 472.3L512 472.3L513 472.3L514 472.3L515 472.3L516 472.3L517 472.3L518 472.3L519 472.3L520 472.3L521 472.3L522 472.3L523 472.3L524 472.3L525 472.3L526 472.3L527 472.3L528 472.3L529 472.3L530 472.3L531 472.3L532 472.3L533 472.3L534 472.3L535 472.3L536 472.3L537 472.3L538 472.3L539 472.3L540 472.3L541 472.3L542 472.3L543 472.3L544 472.3L545 472.3L546 472.3L547 472.3L548 472.3L549 472.3L550 472.3L551 472.3L552 472.3L553 472.3L554 472.3L555 472.3L556 472.3L557 472.3L558 472.3L559 472.3L560 472.3L561 472.3L562 472.3L563 472.3L564 472.3L564.4 472.3L564.5 429.2L565 428.6L566 428.2L567 428.5L568 428.5L569 427.2L570 427.6L571 426.7L572 426.5L573 426.2L574 425.8L575 426.2L576 426.5L577 426.4L578 426.4L579 427.9L580 428.4L581 428.8L582 429.4L583 430.6L584 431.7L585 433.9L586 435.7L587 436.4L588 435.7L589 437.3L590 439.5L591 441.3L592 442.1L593 442.6L594 443.4L595 444.6L596 445.5L597 446.1L598 446.5L599 447.1L600 447.2L601 447.2L602 446.7L603 446.3L604 446.5L605 446.7L606 446.2L607 446.5L608 446.6L609 446.8L610 446.3L611 445.9L612 445.5L613 445.5L614 445.0L615 445.1L616 444.7L617 444.3L618 442.8L619 441.3L620 440.1L621 438.9L622 438.0L623 437.0L624 436.3L625 436.1L626 436.0L627 435.6L628 435.0L629 435.1L630 435.1L631 434.3L632 435.1L633 435.2L634 435.5L635 436.6L636 436.4L637 436.5L638 437.2L639 437.6L640 437.8L641 438.6L642 439.1L643 439.8L644 440.2L645 440.8L646 441.1L647 441.6L648 441.7L649 442.0L650 442.2L651 442.8L652 443.2L653 443.4L654 443.5L655 444.1L656 444.1L657 444.6L658 444.4L659 444.3L660 443.7L661 443.5L662 443.9L663 443.3L664 442.7L665 442.7L666 442.7L667 442.5L668 442.8L669 442.5L670 442.9L671 443.3L672 443.4L673 443.2L674 443.6L675 443.5L676 443.5L677 444.2L678 445.2L679 445.9L680 445.8L681 445.7L682 445.8L683 445.7L684 446.1L685 446.0L686 446.7L687 446.9L688 446.9L689 446.6L690 446.3L691 446.4L692 446.4L693 446.7L694 447.1L695 447.7L696 448.9L697 449.7L698 450.4L699 450.9L700 451.6L701 451.7L702 452.4L703 452.5L704 452.7L705 453.5L706 453.8L707 453.9L708 454.1L709 454.6L710 455.1L711 455.5L712 455.5L713 456.0L714 456.1L715 456.4L716 456.5L717 456.5L718 456.9L719 456.7L720 456.7L721 456.4L722 456.3L723 456.5L724 456.2L725 456.2L726 456.4L727 456.4L728 456.1L729 456.2L730 456.4L731 456.7L732 456.8L733 456.9L734 457.0L735 457.6L736 457.7L737 457.9L738 458.2L739 457.9L739.4 457.8L739.6 456.3L740 456.3L741 455.9L742 455.3L743 454.6L744 454.4L745 454.3L746 454.0L747 453.8L748 454.1L749 454.2L750 454.0L751 454.2L752 454.4L753 455.2L754 455.8L754.1 455.8L754.3 457.2L755 457.2L756 457.0L757 457.0L758 457.1L759 457.3L760 457.3L761 457.3L762 457.5L763 457.6L764 458.0L765 457.9L766 458.1L767 458.1L768 458.4L769 459.0L770 459.5L771 459.7L772 460.2L773 460.6L774 461.0L775 461.4L776 461.6L777 461.7L778 462.1L779 462.3L780 462.5L781 462.5L782 462.6L783 462.7L784 462.8L785 462.9L786 462.8L787 462.9L788 463.1L789 463.0L790 463.0L791 463.2L792 463.5L793 463.6L794 463.6L795 463.5L796 463.5L797 463.5L798 463.5L799 463.4L800 463.3L801 463.3L802 463.4L803 463.5L804 463.5L805 463.5L806 463.5L807 463.5L808 463.4L809 463.2L810 463.3L811 463.2L812 463.2L813 463.2L814 463.4L815 463.5L816 463.5L817 463.6L818 463.7L819 463.7L820 463.8L821 463.9L822 464.2L823 464.2L824 464.1L825 464.0L826 464.2L827 464.3L827.6 464.5L827.8 462.4L828 462.1L829 461.7L830 461.2L831 460.8L832 460.7L833 460.4L834 460.2L835 459.8L836 459.5L837 459.2L838 459.1L839 459.2L840 459.3L840.7 459.6L840.9 460.3L841 460.5L842 460.6L843 461.0L844 461.1L845 461.4L846 461.6L847 461.8L848 461.9L849 461.9L850 461.8L851 461.9L852 462.0L853 461.8L854 461.7L855 461.8L856 461.8L857 461.7L858 461.8L859 461.7L860 461.6L861 461.4L862 461.4L863 461.3L864 461.4L865 461.4L866 461.5L867 461.3L868 461.3L869 461.5L870 461.7L871 461.6L872 461.7L873 462.0L874 462.2L875 462.3L876 462.4L877 462.8L878 463.1L879 463.3L880 463.4L881 463.6L882 463.6L883 463.4L884 463.2L885 463.2L886 463.2L887 462.9L888 462.9L889 462.7L890 462.7L891 462.6L892 462.3L893 462.3L894 462.0L895 462.0L896 462.1L897 462.1L898 462.1L899 462.2L900 462.3L901 462.6L902 462.7L903 462.8L904 462.7L905 462.9L906 463.1L907 463.2L908 463.3L909 463.2L910 463.4L911 463.5L912 463.6L913 463.8L914 464.1L915 464.4L916 464.4L917 464.5L918 464.8L919 464.8L920 464.9L921 465.0L922 465.1L923 464.9L924 464.8L925 464.6L926 464.4L927 464.1L928 464.0L929 463.8L930 463.7L931 463.6L932 463.4L933 463.3L934 463.3L935 463.3L936 463.2L937 463.2L938 463.1L939 463.2L940 463.3L941 463.1L942 463.2L943 463.2L944 463.0L945 462.9L946 463.0L947 463.0L948 463.0L949 462.7L950 462.8L951 462.6L952 462.5L953 462.7L954 462.9L955 462.8L956 462.9L957 463.0L958 463.0L959 463.1L960 463.2L961 463.3L962 463.2L963 463.1L964 463.2L965 463.1L966 463.3L967 463.4L968 463.3L969 463.2L970 463.2L971 463.4L972 463.5L973 463.5L974 463.6L975 463.5L976 463.7L977 463.7L978 463.7L979 463.8L980 463.9L981 464.0L982 464.2L983 464.3L984 464.4L985 464.3L986 464.3L987 464.3L988 464.1L989 464.1L990 464.1L991 464.0L992 463.7L993 463.5L994 463.2L995 463.1L996 462.9L997 462.8L998 462.7L999 462.5L1000 462.2L1001 461.9L1002 461.8L1003 461.8L1004 461.6L1005 461.3L1006 461.1L1007 461.0L1008 460.8L1009 460.8L1010 460.9L1011 460.6L1012 460.6L1013 460.5L1014 460.4L1015 460.3L1016 460.3L1017 460.3L1018 460.2L1019 460.2L1020 459.9L1021 459.9L1022 459.9L1023 459.9L1024 459.6L1025 459.6L1026 459.7L1027 459.5L1028 459.4L1029 459.2L1030 459.3L1031 459.2L1032 458.9L1033 458.9L1034 458.9L1035 459.2L1036 459.3L1037 459.5L1038 459.7L1039 459.6L1040 459.8L1041 460.0L1042 460.3L1043 460.4L1044 460.6L1045 460.9L1046 460.9L1047 460.7L1048 460.9L1049 460.7L1050 460.6L1051 460.5L1052 460.3L1053 460.2L1054 460.0L1055 459.3L1056 458.4L1057 457.6L1058 457.0L1059 456.3L1060 455.6L1061 455.0L1062 454.8L1063 454.5L1064 454.1L1065 453.6L1066 453.4L1067 453.9L1068 454.4L1069 454.7L1070 455.1L1071 455.6L1072 456.2L1073 456.6L1074 456.8L1075 457.2L1076 457.6L1077 457.9L1078 457.9L1079 458.4L1080 458.6L1081 458.8L1082 458.9L1083 458.9L1084 458.9L1085 459.2L1086 459.5L1087 459.4L1088 459.6L1089 459.7L1090 459.5L1091 459.5L1092 459.5L1093 459.5L1094 459.3L1095 459.4L1096 459.5L1097 459.5L1098 459.2L1099 458.9L1100 458.6L1101 458.7L1102 458.4L1103 458.2L1104 458.2L1105 458.3L1106 458.2L1107 458.1L1108 457.8L1109 458.2L1110 458.2L1111 458.1L1112 458.1L1113 458.4L1114 458.6L1115 458.4L1116 458.4L1117 458.6L1118 458.9L1119 458.8L1120 458.9L1121 458.8L1122 458.8L1123 458.8L1124 458.7L1125 458.3L1125.9 458.1L1126 458.1L1127 457.7L1128 457.4L1129 457.5L1130 457.8L1131 457.8L1132 457.9L1133 458.0L1134 457.9L1135 457.7L1136 457.3L1137 457.0L1138 457.5L1139 457.7L1140 457.7L1141 458.0L1142 457.8L1143 458.0L1143.6 458.0L1143.8 458.0L1144 458.0L1145 458.5L1146 458.8L1147 459.1L1148 459.4L1149 459.5L1150 459.7L1151 459.8L1152 460.1L1153 460.0L1154 460.1L1155 460.3L1156 460.2L1157 460.4L1158 460.7L1159 461.1L1160 461.2L1161 461.0L1162 460.8L1163 460.5L1164 460.3L1165 460.1L1166 459.9L1167 459.9L1168 459.7L1169 459.7L1170 459.4L1171 459.2L1172 459.1L1173 458.2L1174 456.8L1175 455.8L1176 454.7L1177 454.0L1178 452.7L1179 451.4L1180 450.3L1181 449.0L1182 448.0L1183 446.8L1184 446.1L1185 444.4L1186 442.6L1187 442.5L1188 441.8L1189 441.4L1190 442.2L1191 441.7L1192 440.7L1193 441.2L1194 442.1L1195 443.2L1196 443.7L1197 444.7L1198 445.1L1199 445.9L1200 447.6L1201 448.2L1202 448.1L1203 449.3L1204 450.2L1205 450.5L1206 450.8L1207 450.7L1208 450.4L1209 449.8L1210 449.6L1211 448.6L1212 448.6L1213 448.3L1214 448.1L1215 448.2L1216 448.2L1217 448.7L1218 449.1L1219 449.2L1220 450.0L1221 450.2L1222 450.9L1223 451.9L1224 452.3L1225 452.9L1226 453.1L1227 453.7L1228 454.6L1229 455.1L1230 460.6L1231 469.2L1231.3 471.7L1231.7 471.7L1231.8 453.6L1232 453.8L1233 453.7L1234 453.6L1235 453.9L1236 454.1L1237 454.5L1238 455.0L1239 455.3L1240 455.7L1241 456.0L1242 456.6L1243 457.0L1244 457.0L1245 457.5L1245.6 457.6L1245.8 458.7L1246 458.9L1247 459.1L1248 459.1L1249 459.3L1250 459.3L1251 459.4L1252 459.3L1253 459.3L1254 459.4L1255 459.3L1256 459.5L1257 459.8L1258 459.7L1259 460.0L1260 460.1L1261 459.8L1262 459.2L1263 458.8L1264 458.7L1265 458.7L1266 458.7L1267 458.7L1268 458.5L1269 458.6L1270 458.9L1271 459.0L1272 459.3L1273 459.5L1274 459.8L1275 460.3L1276 460.5L1277 461.1L1278 461.3L1279 461.6L1280 461.9L1281 462.2L1282 462.2L1283 462.5L1284 462.5L1285 462.4L1286 462.6L1287 462.7L1288 462.7L1289 462.8L1290 462.8L1291 462.5L1292 462.4L1293 461.9L1294 461.4L1295 461.2L1296 460.6L1297 460.6L1298 460.4L1299 460.0L1299.5 459.4L1299.6 457.9L1300 457.9L1301 457.7L1302 457.7L1303 457.7L1304 457.8L1305 457.7L1306 457.8L1307 457.8L1308 457.7L1309 457.6L1310 457.5L1311 457.5L1312 457.6L1313 457.5L1314 459.3L1315 459.5L1316 459.6L1317 459.8L1318 459.8L1319 459.7L1320 460.0L1321 459.9L1322 460.1L1323 460.1L1324 460.1L1325 459.9L1326 459.8L1327 459.8L1328 460.0L1329 459.8L1330 459.7L1331 459.1L1332 458.3L1333 457.7L1334 456.8L1335 455.4L1336 454.8L1337 454.6L1338 454.1L1339 453.8L1340 453.4L1341 453.3L1342 453.0L1343 453.0L1344 453.2L1345 453.3L1346 453.1L1347 453.3L1348 454.1L1349 455.4L1350 455.6L1351 455.7L1352 455.3L1353 455.3L1354 455.4L1355 455.6L1356 455.8L1357 455.7L1358 456.1L1359 456.6L1360 457.1L1361 457.8L1362 458.2L1363 458.7L1364 459.1L1365 459.5L1366 460.0L1367 460.8L1368 461.1L1369 461.5L1370 462.1L1371 462.7L1372 463.0L1373 463.2L1374 463.4L1375 463.3L1376 463.3L1377 463.4V472.3Z" fill="#98db87"/>
<path d="M190 472.3V472.3L191 472.3L192 472.3L193 472.3L194 472.3L195 472.3L196 472.3L197 472.3L198 472.3L199 472.3L200 472.3L201 472.3L202 472.3L203 472.3L204 472.3L205 472.3L206 472.3L207 472.3L208 472.3L209 472.3L210 472.3L211 472.3L212 472.3L213 472.3L214 472.3L215 472.3L216 472.3L217 472.3L218 472.3L219 472.3L220 472.3L221 472.3L222 472.3L223 472.3L224 472.3L225 472.3L226 472.3L227 472.3L228 472.3L229 472.3L230 472.3L231 472.3L232 472.3L233 472.3L234 472.3L235 472.3L236 472.3L237 472.3L238 472.3L239 472.3L240 472.3L241 472.3L242 472.3L243 472.3L244 472.3L245 472.3L246 472.3L247 472.3L248 472.3L249 472.3L250 472.3L251 472.3L252 472.3L253 472.3L254 472.3L255 472.3L256 472.3L257 472.3L258 472.3L259 472.3L260 472.3L261 472.3L262 472.3L263 472.3L264 472.3L265 472.3L266 472.3L267 472.3L268 472.3L269 472.3L270 472.3L271 472.3L272 472.3L273 472.3L274 472.3L275 472.3L276 472.3L277 472.3L278 472.3L279 472.3L280 472.3L281 472.3L282 472.3L283 472.3L284 472.3L285 472.3L286 472.3L287 472.3L288 472.3L289 472.3L290 472.3L291 472.3L292 472.3L293 472.3L294 472.3L295 472.3L296 472.3L297 472.3L298 472.3L299 472.3L300 472.3L301 472.3L302 472.3L303 472.3L304 472.3L305 472.3L306 472.3L307 472.3L308 472.3L309 472.3L310 472.3L311 472.3L312 472.3L313 472.3L314 472.3L315 472.3L316 472.3L317 472.3L318 472.3L319 472.3L320 472.3L321 472.3L322 472.3L323 472.3L324 472.3L325 472.3L326 472.3L327 472.3L327.6 472.3L328 472.3L329 472.3L330 472.3L331 472.3L332 472.3L333 472.3L334 472.3L335 472.3L336 472.3L337 472.3L338 472.3L339 472.3L340 472.3L341 472.3L342 472.3L343 472.3L344 472.3L345 472.3L346 472.3L347 472.3L348 472.3L349 472.3L350 472.3L351 472.3L352 472.3L353 472.3L354 472.3L355 472.3L356 472.3L357 472.3L358 472.3L359 472.3L360 472.3L361 472.3L362 472.3L363 472.3L364 472.3L365 472.3L366 472.3L367 472.3L368 472.3L369 472.3L370 472.3L371 472.3L372 472.3L373 472.3L374 472.3L375 472.3L376 472.3L377 472.3L378 472.3L379 472.3L380 472.3L381 472.3L382 472.3L383 472.3L384 472.3L385 472.3L386 472.3L387 472.3L388 472.3L389 472.3L390 472.3L391 472.3L392 472.3L393 472.3L394 472.3L395 472.3L396 472.3L397 472.3L398 472.3L399 472.3L400 472.3L401 472.3L402 472.3L403 472.3L404 472.3L405 472.3L406 472.3L407 472.3L408 472.3L409 472.3L410 472.3L411 472.3L412 472.3L413 472.3L414 472.3L415 472.3L416 472.3L417 472.3L418 472.3L419 472.3L420 472.3L421 472.3L422 472.3L423 472.3L424 472.3L425 472.3L426 472.3L427 472.3L428 472.3L429 472.3L430 472.3L431 472.3L432 472.3L433 472.3L434 472.3L435 472.3L436 472.3L437 472.3L438 472.3L439 472.3L440 472.3L441 472.3L442 472.3L443 472.3L444 472.3L445 472.3L446 472.3L447 472.3L448 472.3L449 472.3L450 472.3L451 472.3L452 472.3L453 472.3L454 472.3L455 472.3L456 472.3L457 472.3L458 472.3L459 472.3L460 472.3L461 472.3L462 472.3L463 472.3L464 472.3L465 472.3L466 472.3L467 472.3L468 472.3L469 472.3L470 472.3L471 472.3L472 472.3L473 472.3L474 472.3L475 472.3L476 472.3L477 472.3L478 472.3L479 472.3L480 472.3L481 472.3L482 472.3L483 472.3L484 472.3L485 472.3L486 472.3L487 472.3L488 472.3L489 472.3L490 472.3L491 472.3L492 472.3L493 472.3L494 472.3L495 472.3L496 472.3L497 472.3L498 472.3L499 472.3L500 472.3L501 472.3L502 472.3L503 472.3L504 472.3L505 472.3L506 472.3L507 472.3L508 472.3L509 472.3L510 472.3L511 472.3L512 472.3L513 472.3L514 472.3L515 472.3L516 472.3L517 472.3L518 472.3L519 472.3L520 472.3L521 472.3L522 472.3L523 472.3L524 472.3L525 472.3L526 472.3L527 472.3L528 472.3L529 472.3L530 472.3L531 472.3L532 472.3L533 472.3L534 472.3L535 472.3L536 472.3L537 472.3L538 472.3L539 472.3L540 472.3L541 472.3L542 472.3L543 472.3L544 472.3L545 472.3L546 472.3L547 472.3L548 472.3L549 472.3L550 472.3L551 472.3L552 472.3L553 472.3L554 472.3L555 472.3L556 472.3L557 472.3L558 472.3L559 472.3L560 472.3L561 472.3L562 472.3L563 472.3L564 472.3L564.4 472.3L564.5 449.1L565 448.7L566 448.4L567 448.4L568 448.3L569 447.4L570 447.5L571 446.8L572 446.7L573 446.5L574 446.3L575 446.5L576 446.6L577 446.6L578 446.6L579 447.4L580 447.7L581 447.9L582 448.4L583 449.2L584 449.8L585 450.9L586 451.8L587 452.1L588 451.6L589 452.4L590 453.6L591 454.5L592 454.9L593 455.1L594 455.4L595 456.1L596 456.5L597 456.7L598 456.8L599 457.1L600 457.2L601 457.4L602 457.2L603 457.2L604 457.4L605 457.7L606 457.7L607 458.1L608 458.4L609 458.6L610 458.6L611 458.6L612 458.6L613 458.8L614 458.8L615 459.0L616 459.0L617 455.0L618 454.3L619 453.6L620 453.2L621 452.7L622 452.5L623 452.2L624 452.0L625 452.1L626 452.4L627 452.4L628 452.3L629 452.6L630 452.8L631 457.2L632 457.3L633 457.1L634 457.0L635 457.3L636 457.0L637 456.8L638 456.9L639 456.8L640 456.7L641 456.8L642 456.9L643 457.2L644 457.4L645 457.7L646 457.8L647 458.0L648 458.0L649 458.2L650 458.2L651 458.5L652 458.7L653 458.7L654 458.8L655 459.1L656 459.1L657 459.3L658 459.2L659 459.3L660 459.1L661 459.0L662 459.3L663 459.1L664 458.9L665 458.9L666 459.0L667 459.0L668 459.2L669 459.2L670 459.4L671 459.7L672 459.8L673 459.7L674 459.9L675 459.8L676 459.8L677 460.1L678 460.6L679 460.9L680 460.8L681 460.8L682 460.8L683 460.8L684 460.9L685 460.9L686 461.1L687 461.2L688 461.2L689 461.0L690 460.8L691 460.8L692 460.8L693 460.9L694 461.1L695 461.4L696 462.0L697 462.4L698 462.7L699 463.0L700 463.4L701 463.5L702 463.8L703 463.9L704 464.1L705 464.5L706 464.6L707 464.7L708 464.9L709 465.1L710 465.4L711 465.6L712 465.7L713 465.9L714 466.0L715 466.2L716 466.3L717 466.4L718 466.6L719 466.6L720 466.7L721 466.7L722 466.6L723 466.5L724 466.2L725 466.1L726 466.0L727 465.9L728 465.6L729 465.5L730 465.5L731 465.4L732 465.4L733 465.3L734 465.2L735 465.4L736 465.3L737 465.3L738 465.3L739 465.1L739.4 465.0L739.6 464.2L740 464.2L741 463.8L742 463.4L743 462.9L744 462.6L745 462.4L746 462.2L747 462.0L748 462.1L749 462.2L750 462.1L751 462.2L752 462.3L753 462.7L754 463.1L754.1 463.1L754.3 463.9L755 463.9L756 463.8L757 463.8L758 463.8L759 463.9L760 463.9L761 464.0L762 464.1L763 464.2L764 464.4L765 464.3L766 464.4L767 464.4L768 464.6L769 464.9L770 465.2L771 465.3L772 465.6L773 465.8L774 466.1L775 466.3L776 466.4L777 466.5L778 466.7L779 466.8L780 466.9L781 466.9L782 467.0L783 467.0L784 467.1L785 467.1L786 467.1L787 467.2L788 467.3L789 467.2L790 467.2L791 467.4L792 467.5L793 467.5L794 467.5L795 467.5L796 467.5L797 467.5L798 467.4L799 467.4L800 467.3L801 467.3L802 467.4L803 467.4L804 467.4L805 467.4L806 467.4L807 467.4L808 467.3L809 467.2L810 467.2L811 467.1L812 467.1L813 467.1L814 467.2L815 467.3L816 467.3L817 467.3L818 467.4L819 467.4L820 467.4L821 467.5L822 467.6L823 467.7L824 467.6L825 467.5L826 467.6L827 467.7L827.6 467.8L827.8 466.6L828 466.4L829 466.1L830 465.9L831 465.6L832 465.5L833 465.4L834 465.2L835 465.0L836 464.8L837 464.6L838 464.6L839 464.6L840 464.7L840.7 464.8L840.9 465.3L841 465.4L842 465.5L843 465.7L844 465.8L845 465.9L846 466.1L847 466.2L848 466.3L849 466.3L850 466.3L851 466.3L852 466.4L853 466.3L854 466.3L855 466.3L856 466.3L857 466.3L858 466.3L859 466.3L860 466.3L861 466.2L862 466.2L863 466.1L864 466.2L865 466.2L866 466.3L867 466.1L868 466.1L869 466.2L870 466.3L871 466.2L872 466.3L873 466.4L874 466.6L875 466.6L876 466.6L877 466.8L878 467.0L879 467.1L880 467.2L881 467.2L882 467.2L883 467.1L884 467.0L885 467.0L886 466.9L887 466.8L888 466.7L889 466.6L890 466.6L891 466.5L892 466.4L893 466.3L894 466.1L895 466.1L896 466.1L897 466.1L898 466.1L899 466.2L900 466.2L901 466.4L902 466.5L903 466.5L904 466.5L905 466.6L906 466.7L907 466.8L908 466.8L909 466.8L910 466.8L911 466.9L912 467.0L913 467.1L914 467.3L915 467.4L916 467.4L917 467.5L918 467.7L919 467.7L920 467.8L921 467.8L922 467.8L923 467.8L924 467.7L925 467.5L926 467.4L927 467.2L928 467.2L929 467.0L930 467.0L931 466.9L932 466.8L933 466.7L934 466.7L935 466.7L936 466.7L937 466.6L938 466.6L939 466.7L940 466.6L941 466.5L942 466.6L943 466.5L944 466.4L945 466.3L946 466.3L947 466.3L948 466.3L949 466.1L950 466.1L951 466.0L952 465.9L953 466.0L954 466.0L955 465.9L956 466.0L957 466.1L958 466.0L959 466.1L960 466.1L961 466.2L962 466.1L963 466.0L964 466.0L965 465.9L966 466.0L967 466.0L968 466.0L969 465.9L970 465.8L971 465.9L972 466.0L973 466.0L974 466.0L975 465.9L976 466.0L977 466.0L978 466.0L979 466.0L980 466.0L981 466.1L982 466.2L983 466.3L984 466.3L985 466.2L986 466.3L987 466.3L988 466.1L989 466.1L990 466.2L991 466.1L992 465.9L993 465.8L994 465.6L995 465.5L996 465.3L997 465.3L998 465.3L999 465.1L1000 464.9L1001 464.7L1002 464.6L1003 464.6L1004 464.5L1005 464.3L1006 464.2L1007 464.1L1008 464.0L1009 464.0L1010 464.1L1011 463.9L1012 463.9L1013 463.8L1014 463.8L1015 463.7L1016 463.7L1017 463.7L1018 463.7L1019 463.7L1020 463.5L1021 463.5L1022 463.6L1023 463.5L1024 463.3L1025 463.4L1026 463.4L1027 463.3L1028 463.2L1029 463.1L1030 463.2L1031 463.1L1032 462.9L1033 462.9L1034 462.9L1035 463.1L1036 463.2L1037 463.3L1038 463.4L1039 463.4L1040 463.6L1041 463.7L1042 463.9L1043 464.0L1044 464.1L1045 464.3L1046 464.3L1047 464.2L1048 464.3L1049 464.2L1050 464.1L1051 464.0L1052 463.9L1053 463.8L1054 463.6L1055 463.2L1056 462.5L1057 461.9L1058 461.5L1059 461.1L1060 460.6L1061 460.1L1062 460.0L1063 459.7L1064 459.5L1065 459.1L1066 459.0L1067 459.3L1068 459.7L1069 459.9L1070 460.2L1071 460.5L1072 461.0L1073 461.2L1074 461.3L1075 461.6L1076 461.9L1077 462.1L1078 462.1L1079 462.4L1080 462.6L1081 462.7L1082 462.8L1083 462.8L1084 462.8L1085 463.0L1086 463.2L1087 463.1L1088 463.2L1089 463.3L1090 463.1L1091 463.2L1092 463.1L1093 463.2L1094 463.0L1095 463.0L1096 463.1L1097 463.1L1098 462.9L1099 462.7L1100 462.4L1101 462.5L1102 462.3L1103 462.2L1104 462.1L1105 462.2L1106 462.2L1107 462.0L1108 461.9L1109 462.1L1110 462.1L1111 462.1L1112 462.1L1113 462.3L1114 462.5L1115 462.3L1116 462.3L1117 462.5L1118 462.7L1119 462.5L1120 462.6L1121 462.6L1122 462.6L1123 462.6L1124 462.5L1125 462.2L1125.9 462.0L1126 462.1L1127 461.8L1128 461.6L1129 461.7L1130 461.8L1131 461.9L1132 461.9L1133 462.0L1134 462.0L1135 461.8L1136 461.5L1137 461.3L1138 461.7L1139 461.8L1140 461.7L1141 462.0L1142 461.9L1143 462.0L1143.6 462.0L1143.8 462.0L1144 462.0L1145 462.3L1146 462.6L1147 462.8L1148 463.0L1149 463.0L1150 463.1L1151 463.2L1152 463.4L1153 463.4L1154 463.4L1155 463.5L1156 463.5L1157 463.6L1158 463.8L1159 464.1L1160 464.2L1161 464.2L1162 464.1L1163 464.0L1164 464.0L1165 463.9L1166 463.9L1167 464.0L1168 463.9L1169 463.9L1170 463.8L1171 463.7L1172 463.8L1173 463.2L1174 462.4L1175 461.8L1176 461.1L1177 460.8L1178 460.0L1179 459.2L1180 458.7L1181 457.9L1182 457.3L1183 456.6L1184 456.3L1185 455.3L1186 454.2L1187 454.2L1188 453.9L1189 453.7L1190 454.2L1191 453.9L1192 453.3L1193 453.6L1194 454.1L1195 454.8L1196 455.0L1197 455.6L1198 455.9L1199 456.3L1200 457.3L1201 457.7L1202 457.6L1203 458.3L1204 458.8L1205 459.0L1206 459.2L1207 459.1L1208 458.9L1209 458.5L1210 458.3L1211 457.7L1212 457.7L1213 457.5L1214 457.3L1215 457.4L1216 457.3L1217 457.7L1218 457.9L1219 457.9L1220 458.4L1221 458.4L1222 458.9L1223 459.5L1224 459.7L1225 460.1L1226 460.2L1227 460.5L1228 461.0L1229 461.4L1230 464.9L1231 470.3L1231.3 471.9L1231.7 471.9L1231.8 460.3L1232 460.4L1233 460.4L1234 460.3L1235 460.4L1236 460.6L1237 460.8L1238 461.1L1239 461.3L1240 461.5L1241 461.7L1242 462.0L1243 462.3L1244 462.3L1245 462.5L1245.6 462.6L1245.8 463.3L1246 463.4L1247 463.5L1248 463.5L1249 463.6L1250 463.6L1251 463.6L1252 463.6L1253 463.5L1254 463.6L1255 463.5L1256 463.6L1257 463.7L1258 463.6L1259 463.8L1260 463.8L1261 463.6L1262 463.2L1263 462.9L1264 462.7L1265 462.7L1266 462.6L1267 462.6L1268 462.4L1269 462.5L1270 462.7L1271 462.8L1272 463.0L1273 463.1L1274 463.3L1275 463.7L1276 463.8L1277 464.2L1278 464.4L1279 464.6L1280 464.8L1281 465.0L1282 465.0L1283 465.2L1284 465.2L1285 465.2L1286 465.3L1287 465.4L1288 465.4L1289 465.5L1290 465.5L1291 465.2L1292 465.1L1293 464.8L1294 464.4L1295 464.2L1296 463.8L1297 463.8L1298 463.7L1299 463.4L1299.5 463.0L1299.6 461.9L1300 461.9L1301 461.8L1302 461.7L1303 461.7L1304 461.7L1305 461.6L1306 461.7L1307 461.8L1308 461.7L1309 461.6L1310 461.5L1311 461.5L1312 461.6L1313 461.5L1314 462.8L1315 463.1L1316 463.4L1317 463.7L1318 463.8L1319 463.9L1320 464.2L1321 464.3L1322 464.6L1323 464.7L1324 464.8L1325 464.8L1326 464.8L1327 465.0L1328 465.1L1329 465.2L1330 465.2L1331 465.0L1332 464.6L1333 464.4L1334 464.0L1335 463.4L1336 463.2L1337 463.2L1338 463.1L1339 463.0L1340 463.0L1341 463.0L1342 463.0L1343 462.9L1344 463.0L1345 462.9L1346 462.8L1347 462.8L1348 463.1L1349 463.7L1350 463.8L1351 463.7L1352 463.4L1353 463.4L1354 463.4L1355 463.4L1356 463.4L1357 463.3L1358 463.4L1359 463.6L1360 463.7L1361 464.1L1362 464.2L1363 464.4L1364 464.5L1365 464.7L1366 464.9L1367 465.2L1368 465.3L1369 465.5L1370 465.7L1371 466.0L1372 466.1L1373 466.1L1374 466.2L1375 466.0L1376 466.0L1377 466.1V472.3Z" fill="#ea35cc"/>
<path d="M190 472.3V472.3L191 472.3L192 472.3L193 472.3L194 472.3L195 472.3L196 472.3L197 472.3L198 472.3L199 472.3L200 472.3L201 472.3L202 472.3L203 472.3L204 472.3L205 472.3L206 472.3L207 472.3L208 472.3L209 472.3L210 472.3L211 472.3L212 472.3L213 472.3L214 472.3L215 472.3L216 472.3L217 472.3L218 472.3L219 472.3L220 472.3L221 472.3L222 472.3L223 472.3L224 472.3L225 472.3L226 472.3L227 472.3L228 472.3L229 472.3L230 472.3L231 472.3L232 472.3L233 472.3L234 472.3L235 472.3L236 472.3L237 472.3L238 472.3L239 472.3L240 472.3L241 472.3L242 472.3L243 472.3L244 472.3L245 472.3L246 472.3L247 472.3L248 472.3L249 472.3L250 472.3L251 472.3L252 472.3L253 472.3L254 472.3L255 472.3L256 472.3L257 472.3L258 472.3L259 472.3L260 472.3L261 472.3L262 472.3L263 472.3L264 472.3L265 472.3L266 472.3L267 472.3L268 472.3L269 472.3L270 472.3L271 472.3L272 472.3L273 472.3L274 472.3L275 472.3L276 472.3L277 472.3L278 472.3L279 472.3L280 472.3L281 472.3L282 472.3L283 472.3L284 472.3L285 472.3L286 472.3L287 472.3L288 472.3L289 472.3L290 472.3L291 472.3L292 472.3L293 472.3L294 472.3L295 472.3L296 472.3L297 472.3L298 472.3L299 472.3L300 472.3L301 472.3L302 472.3L303 472.3L304 472.3L305 472.3L306 472.3L307 472.3L308 472.3L309 472.3L310 472.3L311 472.3L312 472.3L313 472.3L314 472.3L315 472.3L316 472.3L317 472.3L318 472.3L319 472.3L320 472.3L321 472.3L322 472.3L323 472.3L324 472.3L325 472.3L326 472.3L327 472.3L327.6 472.3L328 472.3L329 472.3L330 472.3L331 472.3L332 472.3L333 472.3L334 472.3L335 472.3L336 472.3L337 472.3L338 472.3L339 472.3L340 472.3L341 472.3L342 472.3L343 472.3L344 472.3L345 472.3L346 472.3L347 472.3L348 472.3L349 472.3L350 472.3L351 472.3L352 472.3L353 472.3L354 472.3L355 472.3L356 472.3L357 472.3L358 472.3L359 472.3L360 472.3L361 472.3L362 472.3L363 472.3L364 472.3L365 472.3L366 472.3L367 472.3L368 472.3L369 472.3L370 472.3L371 472.3L372 472.3L373 472.3L374 472.3L375 472.3L376 472.3L377 472.3L378 472.3L379 472.3L380 472.3L381 472.3L382 472.3L383 472.3L384 472.3L385 472.3L386 472.3L387 472.3L388 472.3L389 472.3L390 472.3L391 472.3L392 472.3L393 472.3L394 472.3L395 472.3L396 472.3L397 472.3L398 472.3L399 472.3L400 472.3L401 472.3L402 472.3L403 472.3L404 472.3L405 472.3L406 472.3L407 472.3L408 472.3L409 472.3L410 472.3L411 472.3L412 472.3L413 472.3L414 472.3L415 472.3L416 472.3L417 472.3L418 472.3L419 472.3L420 472.3L421 472.3L422 472.3L423 472.3L424 472.3L425 472.3L426 472.3L427 472.3L428 472.3L429 472.3L430 472.3L431 472.3L432 472.3L433 472.3L434 472.3L435 472.3L436 472.3L437 472.3L438 472.3L439 472.3L440 472.3L441 472.3L442 472.3L443 472.3L444 472.3L445 472.3L446 472.3L447 472.3L448 472.3L449 472.3L450 472.3L451 472.3L452 472.3L453 472.3L454 472.3L455 472.3L456 472.3L457 472.3L458 472.3L459 472.3L460 472.3L461 472.3L462 472.3L463 472.3L464 472.3L465 472.3L466 472.3L467 472.3L468 472.3L469 472.3L470 472.3L471 472.3L472 472.3L473 472.3L474 472.3L475 472.3L476 472.3L477 472.3L478 472.3L479 472.3L480 472.3L481 472.3L482 472.3L483 472.3L484 472.3L485 472.3L486 472.3L487 472.3L488 472.3L489 472.3L490 472.3L491 472.3L492 472.3L493 472.3L494 472.3L495 472.3L496 472.3L497 472.3L498 472.3L499 472.3L500 472.3L501 472.3L502 472.3L503 472.3L504 472.3L505 472.3L506 472.3L507 472.3L508 472.3L509 472.3L510 472.3L511 472.3L512 472.3L513 472.3L514 472.3L515 472.3L516 472.3L517 472.3L518 472.3L519 472.3L520 472.3L521 472.3L522 472.3L523 472.3L524 472.3L525 472.3L526 472.3L527 472.3L528 472.3L529 472.3L530 472.3L531 472.3L532 472.3L533 472.3L534 472.3L535 472.3L536 472.3L537 472.3L538 472.3L539 472.3L540 472.3L541 472.3L542 472.3L543 472.3L544 472.3L545 472.3L546 472.3L547 472.3L548 472.3L549 472.3L550 472.3L551 472.3L552 472.3L553 472.3L554 472.3L555 472.3L556 472.3L557 472.3L558 472.3L559 472.3L560 472.3L561 472.3L562 472.3L563 472.3L564 472.3L564.4 472.3L564.5 449.1L565 448.7L566 448.4L567 448.4L568 448.3L569 447.4L570 447.5L571 446.8L572 446.7L573 446.5L574 446.3L575 446.5L576 446.6L577 446.6L578 446.6L579 447.4L580 447.7L581 447.9L582 448.4L583 449.2L584 449.8L585 450.9L586 451.8L587 452.1L588 451.6L589 452.4L590 453.6L591 454.5L592 454.9L593 455.1L594 455.4L595 456.1L596 456.5L597 456.7L598 456.8L599 457.1L600 457.2L601 457.4L602 457.2L603 457.2L604 457.4L605 457.7L606 457.7L607 458.1L608 458.4L609 458.6L610 458.6L611 458.6L612 458.6L613 458.8L614 458.8L615 459.0L616 459.0L617 455.0L618 454.3L619 453.6L620 453.2L621 452.7L622 452.5L623 452.2L624 452.0L625 452.1L626 452.4L627 452.4L628 452.3L629 452.6L630 452.8L631 457.2L632 457.3L633 457.1L634 457.0L635 457.3L636 457.0L637 456.8L638 456.9L639 456.8L640 456.7L641 456.8L642 456.9L643 457.2L644 457.4L645 457.7L646 457.8L647 458.0L648 458.0L649 458.2L650 458.2L651 458.5L652 458.7L653 458.7L654 458.8L655 459.1L656 459.1L657 459.3L658 459.2L659 459.3L660 459.1L661 459.0L662 459.3L663 459.1L664 458.9L665 458.9L666 459.0L667 459.0L668 459.2L669 459.2L670 459.4L671 459.7L672 459.8L673 459.7L674 459.9L675 459.8L676 459.8L677 460.1L678 460.6L679 460.9L680 460.8L681 460.8L682 460.8L683 460.8L684 460.9L685 460.9L686 461.1L687 461.2L688 461.2L689 461.0L690 460.8L691 460.8L692 460.8L693 460.9L694 461.1L695 461.4L696 462.0L697 462.4L698 462.7L699 463.0L700 463.4L701 463.5L702 463.8L703 463.9L704 464.1L705 464.5L706 464.6L707 464.7L708 464.9L709 465.1L710 465.4L711 465.6L712 465.7L713 465.9L714 466.0L715 466.2L716 466.3L717 466.4L718 466.6L719 466.6L720 466.7L721 466.7L722 466.6L723 466.5L724 466.2L725 466.1L726 466.0L727 465.9L728 465.6L729 465.5L730 465.5L731 465.4L732 465.4L733 465.3L734 465.2L735 465.4L736 465.3L737 465.3L738 465.3L739 465.1L739.4 465.0L739.6 464.2L740 464.2L741 463.8L742 463.4L743 462.9L744 462.6L745 462.4L746 462.2L747 462.0L748 462.1L749 462.2L750 462.1L751 462.2L752 462.3L753 462.7L754 463.1L754.1 463.1L754.3 463.9L755 463.9L756 463.8L757 463.8L758 463.8L759 463.9L760 463.9L761 464.0L762 464.1L763 464.2L764 464.4L765 464.3L766 464.4L767 464.4L768 464.6L769 464.9L770 465.2L771 465.3L772 465.6L773 465.8L774 466.1L775 466.3L776 466.4L777 466.5L778 466.7L779 466.8L780 466.9L781 466.9L782 467.0L783 467.0L784 467.1L785 467.1L786 467.1L787 467.2L788 467.3L789 467.2L790 467.2L791 467.4L792 467.5L793 467.5L794 467.5L795 467.5L796 467.5L797 467.5L798 467.4L799 467.4L800 467.3L801 467.3L802 467.4L803 467.4L804 467.4L805 467.4L806 467.4L807 467.4L808 467.3L809 467.2L810 467.2L811 467.1L812 467.1L813 467.1L814 467.2L815 467.3L816 467.3L817 467.3L818 467.4L819 467.4L820 467.4L821 467.5L822 467.6L823 467.7L824 467.6L825 467.5L826 467.6L827 467.7L827.6 467.8L827.8 466.6L828 466.4L829 466.1L830 465.9L831 465.6L832 465.5L833 465.4L834 465.2L835 465.0L836 464.8L837 464.6L838 464.6L839 464.6L840 464.7L840.7 464.8L840.9 465.3L841 465.4L842 465.5L843 465.7L844 465.8L845 465.9L846 466.1L847 466.2L848 466.3L849 466.3L850 466.3L851 466.3L852 466.4L853 466.3L854 466.3L855 466.3L856 466.3L857 466.3L858 466.3L859 466.3L860 466.3L861 466.2L862 466.2L863 466.1L864 466.2L865 466.2L866 466.3L867 466.1L868 466.1L869 466.2L870 466.3L871 466.2L872 466.3L873 466.4L874 466.6L875 466.6L876 466.6L877 466.8L878 467.0L879 467.1L880 467.2L881 467.2L882 467.2L883 467.1L884 467.0L885 467.0L886 466.9L887 466.8L888 466.7L889 466.6L890 466.6L891 466.5L892 466.4L893 466.3L894 466.1L895 466.1L896 466.1L897 466.1L898 466.1L899 466.2L900 466.2L901 466.4L902 466.5L903 466.5L904 466.5L905 466.6L906 466.7L907 466.8L908 466.8L909 466.8L910 466.8L911 466.9L912 467.0L913 467.1L914 467.3L915 467.4L916 467.4L917 467.5L918 467.7L919 467.7L920 467.8L921 467.8L922 467.8L923 467.8L924 467.7L925 467.5L926 467.4L927 467.2L928 467.2L929 467.0L930 467.0L931 466.9L932 466.8L933 466.7L934 466.7L935 466.7L936 466.7L937 466.6L938 466.6L939 466.7L940 466.6L941 466.5L942 466.6L943 466.5L944 466.4L945 466.3L946 466.3L947 466.3L948 466.3L949 466.1L950 466.1L951 466.0L952 465.9L953 466.0L954 466.0L955 465.9L956 466.0L957 466.1L958 466.0L959 466.1L960 466.1L961 466.2L962 466.1L963 466.0L964 466.0L965 465.9L966 466.0L967 466.0L968 466.0L969 465.9L970 465.8L971 465.9L972 466.0L973 466.0L974 466.0L975 465.9L976 466.0L977 466.0L978 466.0L979 466.0L980 466.0L981 466.1L982 466.2L983 466.3L984 466.3L985 466.3L986 466.4L987 466.5L988 466.4L989 466.5L990 466.6L991 466.6L992 466.5L993 466.5L994 466.3L995 466.3L996 466.3L997 466.3L998 466.4L999 466.3L1000 466.2L1001 466.1L1002 466.2L1003 466.2L1004 466.2L1005 466.1L1006 466.1L1007 466.1L1008 466.1L1009 466.2L1010 466.3L1011 466.2L1012 466.3L1013 466.3L1014 466.4L1015 466.4L1016 466.5L1017 466.5L1018 466.6L1019 466.6L1020 466.6L1021 466.6L1022 466.7L1023 466.8L1024 466.7L1025 466.8L1026 466.9L1027 466.8L1028 466.9L1029 466.9L1030 467.0L1031 467.0L1032 466.9L1033 467.0L1034 467.1L1035 467.3L1036 467.4L1037 467.5L1038 467.6L1039 467.7L1040 467.8L1041 467.9L1042 468.1L1043 468.2L1044 468.3L1045 468.5L1046 468.5L1047 468.5L1048 468.6L1049 468.6L1050 468.6L1051 468.6L1052 468.6L1053 468.6L1054 468.6L1055 468.4L1056 468.2L1057 468.0L1058 467.9L1059 467.8L1060 467.6L1061 467.5L1062 467.5L1063 467.4L1064 467.4L1065 467.3L1066 467.3L1067 467.4L1068 467.5L1069 467.5L1070 467.6L1071 467.7L1072 467.8L1073 467.9L1074 467.9L1075 468.0L1076 468.1L1077 468.1L1078 468.1L1079 468.2L1080 468.2L1081 468.2L1082 468.2L1083 468.2L1084 468.2L1085 468.2L1086 468.3L1087 468.2L1088 468.2L1089 468.2L1090 468.1L1091 468.1L1092 468.0L1093 468.0L1094 467.9L1095 467.9L1096 467.9L1097 467.8L1098 467.7L1099 467.5L1100 467.4L1101 467.3L1102 467.2L1103 467.1L1104 467.1L1105 467.1L1106 467.1L1107 467.0L1108 466.9L1109 467.1L1110 467.1L1111 467.0L1112 467.0L1113 467.2L1114 467.2L1115 467.2L1116 467.1L1117 467.2L1118 467.3L1119 467.3L1120 467.3L1121 467.3L1122 467.3L1123 467.3L1124 467.3L1125 467.1L1125.9 467.0L1126 467.0L1127 466.9L1128 466.8L1129 466.8L1130 466.9L1131 466.9L1132 467.0L1133 467.0L1134 467.0L1135 466.9L1136 466.8L1137 466.6L1138 466.8L1139 466.9L1140 466.9L1141 467.0L1142 466.9L1143 467.0L1143.6 467.0L1143.8 467.0L1144 467.0L1145 467.2L1146 467.3L1147 467.4L1148 467.5L1149 467.5L1150 467.6L1151 467.6L1152 467.7L1153 467.7L1154 467.7L1155 467.8L1156 467.7L1157 467.8L1158 467.9L1159 468.0L1160 468.1L1161 468.1L1162 468.1L1163 468.1L1164 468.1L1165 468.1L1166 468.0L1167 468.1L1168 468.1L1169 468.1L1170 468.1L1171 468.0L1172 468.1L1173 467.8L1174 467.4L1175 467.1L1176 466.8L1177 466.7L1178 466.3L1179 465.9L1180 465.6L1181 465.3L1182 465.0L1183 464.7L1184 464.5L1185 464.1L1186 463.6L1187 463.6L1188 463.4L1189 463.4L1190 463.6L1191 463.5L1192 463.2L1193 463.3L1194 463.6L1195 463.9L1196 464.0L1197 464.3L1198 464.4L1199 464.6L1200 465.1L1201 465.3L1202 465.2L1203 465.6L1204 465.8L1205 465.9L1206 466.0L1207 465.9L1208 465.9L1209 465.7L1210 465.6L1211 465.3L1212 465.3L1213 465.2L1214 465.1L1215 465.2L1216 465.1L1217 465.3L1218 465.4L1219 465.3L1220 465.6L1221 465.6L1222 465.8L1223 466.1L1224 466.2L1225 466.4L1226 466.4L1227 466.6L1228 466.8L1229 467.0L1230 468.7L1231 471.3L1231.3 472.1L1231.7 472.1L1231.8 466.5L1232 466.5L1233 466.5L1234 466.4L1235 466.5L1236 466.5L1237 466.6L1238 466.8L1239 466.9L1240 467.0L1241 467.0L1242 467.2L1243 467.3L1244 467.3L1245 467.4L1245.6 467.5L1245.8 467.8L1246 467.9L1247 467.9L1248 467.9L1249 467.9L1250 467.9L1251 467.9L1252 467.9L1253 467.9L1254 467.9L1255 467.8L1256 467.9L1257 467.9L1258 467.9L1259 468.0L1260 468.0L1261 467.8L1262 467.6L1263 467.4L1264 467.4L1265 467.3L1266 467.3L1267 467.3L1268 467.2L1269 467.2L1270 467.3L1271 467.3L1272 467.4L1273 467.5L1274 467.6L1275 467.8L1276 467.8L1277 468.0L1278 468.1L1279 468.2L1280 468.3L1281 468.4L1282 468.4L1283 468.5L1284 468.5L1285 468.5L1286 468.6L1287 468.6L1288 468.6L1289 468.6L1290 468.6L1291 468.5L1292 468.4L1293 468.2L1294 468.0L1295 467.9L1296 467.7L1297 467.6L1298 467.6L1299 467.4L1299.5 467.2L1299.6 466.7L1300 466.8L1301 466.7L1302 466.6L1303 466.6L1304 466.6L1305 466.6L1306 466.6L1307 466.6L1308 466.6L1309 466.6L1310 466.5L1311 466.5L1312 466.6L1313 466.5L1314 467.0L1315 467.1L1316 467.2L1317 467.4L1318 467.5L1319 467.5L1320 467.7L1321 467.8L1322 467.9L1323 468.0L1324 468.1L1325 468.1L1326 468.1L1327 468.2L1328 468.3L1329 468.3L1330 468.3L1331 468.2L1332 468.0L1333 467.9L1334 467.7L1335 467.4L1336 467.3L1337 467.3L1338 467.2L1339 467.2L1340 467.2L1341 467.2L1342 467.2L1343 467.2L1344 467.2L1345 467.1L1346 467.0L1347 467.0L1348 467.2L1349 467.5L1350 467.5L1351 467.5L1352 467.3L1353 467.3L1354 467.3L1355 467.3L1356 467.3L1357 467.2L1358 467.2L1359 467.3L1360 467.4L1361 467.6L1362 467.6L1363 467.7L1364 467.8L1365 467.9L1366 468.0L1367 468.1L1368 468.2L1369 468.3L1370 468.4L1371 468.6L1372 468.6L1373 468.6L1374 468.6L1375 468.5L1376 468.5L1377 468.6V472.3Z" fill="#6670c0"/>
<polyline fill="none" stroke="#f2d548" stroke-width="0.9" points="345,468.1 346,468.1 347,468.0 348,467.8 349,467.7 350,467.5 351,467.4 352,467.3 353,467.2 354,466.9 355,466.8 356,466.6 357,466.6 358,466.6 359,466.5 360,466.4 361,466.4 362,466.5 363,466.5 364,466.5 365,466.6 366,466.6 367,466.7 368,466.7 369,466.7 370,466.7 371,466.7 372,466.6 373,466.6 374,466.6 375,466.6 376,466.5 377,466.5 378,466.6 379,466.6 380,466.6 381,466.6 382,466.6 383,466.5 384,466.2 385,465.9 386,465.7 387,465.5 388,465.2 389,465.0 390,464.4 391,463.8 392,463.4 393,462.9 394,462.8 395,462.6 396,462.2 397,462.1 398,462.0 399,461.9 400,462.0 401,462.1 402,462.0 403,462.0 404,462.2 405,462.6 406,462.9 407,463.0 408,463.3 409,463.7 410,463.8 411,464.0 412,464.2 413,464.2 414,464.2 415,464.2 416,464.2 417,464.0 418,463.9 419,464.0 420,464.0 421,464.1 422,464.1 423,464.1 424,464.3 425,464.3 426,464.3 427,464.3 428,464.2 429,464.3 430,464.2 431,464.3 432,464.1 433,464.1 434,464.1 435,464.1 436,463.8 437,463.8 438,463.6 439,463.5 440,463.4 441,463.4 442,463.5 443,463.4 444,463.4 445,463.4 446,463.2 447,463.2 448,463.2 449,463.0 450,463.0 451,463.0 452,463.0 453,463.1 454,463.2 455,463.5 456,463.6 457,463.8 458,464.0 459,464.1 460,464.3 461,464.6 462,464.8 463,464.9 464,465.1 465,465.2 466,465.3 467,465.4 468,465.4 469,465.6 470,465.6 471,465.7 472,465.6 473,465.7 474,465.7 475,465.6 476,465.7 477,465.7 478,465.6 479,465.6 480,465.6 481,465.5 482,465.2 483,465.1 484,464.8 485,464.4 486,463.9 487,463.3 488,462.9 489,462.6 490,462.1 491,461.7 492,461.4 493,460.9 494,460.5 495,460.5 496,460.0 497,460.0 498,459.9 499,459.7 500,459.3 501,459.1 502,458.7 503,458.2 504,457.4 505,456.2 506,454.9 507,453.2 508,451.9 509,450.1 510,448.4 511,446.8 512,444.8 513,442.1 514,439.6 515,437.6 516,434.3 517,432.2 518,430.2 519,428.8 520,427.2 521,425.7 522,423.0 523,421.5 524,420.0 525,417.7 526,414.3 527,411.5 528,409.9 529,407.7 530,403.6 531,400.7 532,397.5 533,397.2 534,397.1 535,395.1 536,395.1 537,396.4 538,395.1 539,395.4 540,395.7 541,397.1 542,395.7 543,396.4 544,394.9 545,394.8 546,395.0 547,393.6 548,391.0 549,390.6 550,390.2 551,388.3 552,387.6 553,386.5 554,384.5 555,382.7 556,380.4 557,378.1 558,376.1 559,373.4 560,373.2 561,372.5 562,372.0 563,369.9 564,369.6 564.4,369.2"/>
<polyline fill="none" stroke="#f2d548" stroke-width="0.9" points="564.5,292.8 565,287.7 566,281.2 567,277.5 568,272.4 569,261.1 570,258.0 571,249.2 572,246.3 573,243.1 574,239.2 575,239.6 576,239.2 577,238.4 578,238.5 579,246.1 580,248.9 581,252.9 582,259.7 583,269.1 584,277.4 585,289.5 586,300.0 587,305.2 588,304.0 589,311.0 590,320.4 591,327.7 592,330.4 593,331.3 594,334.2 595,338.9 596,342.1 597,343.8 598,344.3 599,346.1 600,348.6 601,352.9 602,354.3 603,356.9 604,361.6 605,366.4 606,364.5 607,365.3 608,365.4 609,365.6 610,363.4 611,361.2 612,359.5 613,358.8 614,356.7 615,356.5 616,354.8 617,352.8 618,345.9 619,339.1 620,333.5 621,328.1 622,324.1 623,319.6 624,316.1 625,314.7 626,314.2 627,312.2 628,309.3 629,309.2 630,309.1 631,305.3 632,307.5 633,307.1 634,307.4 635,311.0 636,309.1 637,308.4 638,310.2 639,310.9 640,310.5 641,313.4 642,312.9 643,311.6 644,309.1 645,307.6 646,304.7 647,302.6 648,298.3 649,295.1 650,291.5 651,290.1 652,287.9 653,283.5 654,279.4 655,278.3 656,272.9 657,271.0 658,271.5 659,273.6 660,271.9 661,272.7 662,278.3 663,276.3 664,274.9 665,277.3 666,280.0 667,281.4 668,286.0 669,286.6 670,291.1 671,296.0 672,299.0 673,299.3 674,303.3 675,303.9 676,305.2 677,310.3 678,317.6 679,322.6 680,323.1 681,324.0 682,325.8 683,326.8 684,329.9 685,331.1 686,332.4 687,331.3 688,329.2 689,325.1 690,321.2 691,319.2 692,316.5 693,316.3 694,318.8 695,322.8 696,329.9 697,335.1 698,339.4 699,342.6 700,347.1 701,348.0 702,352.4 703,352.9 704,354.5 705,359.6 706,361.5 707,362.2 708,363.5 709,367.0 710,370.1 711,372.5 712,372.7 713,375.8 714,376.9 715,379.0 716,379.8 717,379.8 718,382.8 719,381.8 720,381.6 721,380.6 722,380.3 723,381.2 724,379.6 725,379.7 726,380.8 727,380.9 728,379.7 729,380.4 730,381.7 731,383.2 732,383.8 733,384.7 734,385.2 735,388.6 736,389.5 737,390.6 738,392.4 739,390.8 739.4,390.5 739.6,381.9 740,382.1 741,379.5 742,376.5 743,372.3 744,371.3 745,370.8 746,369.3 747,368.5 748,369.5 749,369.7 750,367.7 751,368.6 752,368.8 753,372.9 754,376.3 754.1,375.9 754.3,384.0 755,383.7 756,382.0 757,381.6 758,381.7 759,382.2 760,381.6 761,381.2 762,382.0 763,382.1 764,383.7 765,382.7 766,382.9 767,382.5 768,383.9 769,386.8 770,389.6 771,389.8 772,392.9 773,394.8 774,396.8 775,399.0 776,399.6 777,399.6 778,401.7 779,402.3 780,403.1 781,402.6 782,402.5 783,402.8 784,402.7 785,402.4 786,400.7 787,400.8 788,401.4 789,400.0 790,399.1 791,399.9 792,400.6 793,400.5 794,401.1 795,401.0 796,401.7 797,401.9 798,402.1 799,401.9 800,401.4 801,402.0 802,403.4 803,404.2 804,404.6 805,405.4 806,405.8 807,406.2 808,405.9 809,404.4 810,405.4 811,405.2 812,405.5 813,405.9 814,407.7 815,408.9 816,409.7 817,410.4 818,411.3 819,411.5 820,412.5 821,413.5 822,415.8 823,416.7 824,416.1 825,415.8 826,417.3 827,418.3 827.6,419.7"/>
<polyline fill="none" stroke="#f2d548" stroke-width="0.9" points="827.8,405.5 828,403.8 829,401.0 830,398.4 831,396.0 832,395.2 833,394.0 834,392.8 835,390.8 836,389.0 837,387.7 838,387.3 839,388.2 840,388.9 840.7,390.1 840.9,395.1 841,396.3 842,396.6 843,398.8 844,399.3 845,401.0 846,402.5 847,403.5 848,403.9 849,403.6 850,403.0 851,403.7 852,403.8 853,402.5 854,401.7 855,401.6 856,401.7 857,400.6 858,401.1 859,400.5 860,399.5 861,397.9 862,397.7 863,396.9 864,397.1 865,397.3 866,397.1 867,395.1 868,394.6 869,395.2 870,395.6 871,394.3 872,394.4 873,395.6 874,397.0 875,397.1 876,397.2 877,399.4 878,401.3 879,401.9 880,402.5 881,402.8 882,402.2 883,400.1 884,398.4 885,397.6 886,396.7 887,393.7 888,392.9 889,390.7 890,389.9 891,388.6 892,385.4 893,384.1 894,380.9 895,379.8 896,380.0 897,379.2 898,379.6 899,380.6 900,381.5 901,385.0 902,386.3 903,387.4 904,386.6 905,388.8 906,390.5 907,391.6 908,392.3 909,392.4 910,393.6 911,395.5 912,396.5 913,398.1 914,401.1 915,403.5 916,403.9 917,405.4 918,408.3 919,408.5 920,409.5 921,410.6 922,411.1 923,410.1 924,409.2 925,407.6 926,406.0 927,403.7 928,403.8 929,401.7 930,401.4 931,401.2 932,399.7 933,398.9 934,399.2 935,399.8 936,399.1 937,399.4 938,398.8 939,400.2 940,400.7 941,399.8 942,401.0 943,400.7 944,399.5 945,399.1 946,400.4 947,400.9 948,400.8 949,399.1 950,399.8 951,399.3 952,398.8 953,400.6 954,401.9 955,401.5 956,402.5 957,404.3 958,404.4 959,405.5 960,406.5 961,407.6 962,407.1 963,407.0 964,407.7 965,407.7 966,409.4 967,409.9 968,409.7 969,409.4 970,409.8 971,411.4 972,412.6 973,413.0 974,413.3 975,412.9 976,414.2 977,414.0 978,414.1 979,414.4 980,414.9 981,415.7 982,416.8 983,417.5 984,418.0 985,417.4 986,417.6 987,417.1 988,415.6 989,415.4 990,415.3 991,414.3 992,412.3 993,411.2 994,409.0 995,407.5 996,406.0 997,405.7 998,404.9 999,403.5 1000,401.1 1001,398.9 1002,398.0 1003,397.4 1004,396.0 1005,394.2 1006,392.7 1007,391.4 1008,390.3 1009,389.8 1010,390.3 1011,388.2 1012,388.1 1013,387.2 1014,386.8 1015,385.4 1016,385.7 1017,385.3 1018,384.8 1019,384.5 1020,382.4 1021,382.0 1022,382.4 1023,382.0 1024,379.8 1025,379.8 1026,380.3 1027,378.4 1028,377.6 1029,376.1 1030,377.2 1031,376.2 1032,374.0 1033,373.9 1034,374.3 1035,377.2 1036,378.0 1037,379.6 1038,381.4 1039,381.2 1040,383.3 1041,384.7 1042,387.4 1043,388.1 1044,390.0 1045,392.1 1046,392.5 1047,391.4 1048,392.7 1049,391.9 1050,391.1 1051,390.9 1052,389.8 1053,389.1 1054,388.1 1055,383.7 1056,377.7 1057,372.2 1058,368.4 1059,364.5 1060,359.8 1061,356.1 1062,355.0 1063,352.9 1064,351.1 1065,347.9 1066,346.6 1067,350.7 1068,354.3 1069,356.8 1070,360.1 1071,363.8 1072,368.6 1073,371.7 1074,372.9 1075,376.0 1076,379.1 1077,381.5 1078,382.2 1079,385.5 1080,387.4 1081,389.0 1082,390.4 1083,390.7 1084,391.4 1085,393.8 1086,395.8 1087,395.9 1088,397.6 1089,399.0 1090,398.0 1091,398.9 1092,399.0 1093,399.8 1094,399.4 1095,400.1 1096,401.2 1097,401.9 1098,400.8 1099,399.9 1100,398.9 1101,400.0 1102,399.1 1103,399.0 1104,398.8 1105,399.4 1106,399.3 1107,398.7 1108,397.7 1109,399.5 1110,399.8 1111,399.5 1112,399.5 1113,401.4 1114,402.6 1115,401.6 1116,401.6 1117,403.0 1118,404.7 1119,403.9 1120,404.6 1121,404.2 1122,404.6 1123,404.6 1124,404.5 1125,402.1 1125.9,401.3 1126,396.6 1127,393.7 1128,391.6 1129,391.8 1130,392.5 1131,392.3 1132,392.2 1133,392.5 1134,393.1 1135,392.9 1136,391.6 1137,390.9 1138,394.6 1139,396.1 1140,397.0 1141,399.5 1142,399.6 1143,401.6 1143.6,401.9 1143.8,407.9 1144,407.9 1145,409.2 1146,410.0 1147,410.5 1148,411.3 1149,410.8 1150,410.8 1151,410.8 1152,411.2 1153,410.0 1154,409.4 1155,409.4 1156,408.2 1157,408.2 1158,409.0 1159,410.0 1160,410.0 1161,410.0 1162,409.7 1163,408.6 1164,408.5 1165,408.1 1166,407.8 1167,408.5 1168,407.8 1169,408.3 1170,407.3 1171,406.6 1172,406.9 1173,402.7 1174,396.3 1175,392.0 1176,386.8 1177,384.2 1178,378.3 1179,372.3 1180,367.9 1181,362.0 1182,357.8 1183,352.3 1184,349.9 1185,342.2 1186,334.0 1187,334.1 1188,331.3 1189,330.2 1190,334.1 1191,331.5 1192,326.0 1193,328.0 1194,331.6 1195,336.3 1196,337.7 1197,341.7 1198,343.5 1199,346.4 1200,354.3 1201,356.4 1202,355.6 1203,360.7 1204,364.3 1205,365.6 1206,366.6 1207,365.2 1208,363.3 1209,359.8 1210,357.9 1211,352.6 1212,351.7 1213,349.6 1214,347.8 1215,347.9 1216,347.6 1217,350.4 1218,352.3 1219,352.5 1220,356.7 1221,357.5 1222,361.3 1223,366.6 1224,368.5 1225,371.6 1226,372.5 1227,375.7 1228,380.0 1229,383.0 1232,375.7 1233,375.5 1234,374.6 1235,376.1 1236,377.4 1237,379.4 1238,381.7 1239,383.6 1240,385.6 1241,387.0 1242,390.1 1243,392.1 1244,392.2 1245,394.4 1245.6,395.2 1245.8,400.7 1246,401.7 1247,402.8 1248,402.8 1249,403.7 1250,403.8 1251,404.2 1252,403.9 1253,403.7 1254,404.1 1255,403.7 1256,404.5 1257,406.0 1258,405.5 1259,407.0 1260,407.3 1261,405.6 1262,402.7 1263,400.4 1264,399.5 1265,399.3 1266,399.3 1267,399.7 1268,398.4 1269,398.4 1270,399.6 1271,399.9 1272,401.1 1273,401.7 1274,403.2 1275,405.7 1276,406.5 1277,409.3 1278,410.4 1279,411.5 1280,413.0 1281,414.3 1282,414.0 1283,415.4 1284,415.5 1285,414.5 1286,415.4 1287,415.8 1288,415.6 1289,415.9 1290,415.7 1291,413.4 1292,412.2 1293,409.1 1294,406.0 1295,404.0 1296,400.4 1297,399.6 1298,398.4 1299,395.2 1299.5,391.6"/>
<polyline fill="none" stroke="#f2d548" stroke-width="0.9" points="1299.6,373.6 1300,374.4 1301,373.7 1302,374.1 1303,375.0 1304,375.7 1305,375.7 1306,377.4 1307,378.2 1308,378.0 1309,378.1 1310,378.0 1311,378.5 1312,380.1 1313,380.0"/>
<polyline fill="none" stroke="#f2d548" stroke-width="0.9" points="1314,394.3 1315,397.0 1316,399.0 1317,401.4 1318,402.2 1319,402.7 1320,405.2 1321,405.8 1322,408.0 1323,408.9 1324,409.7 1325,409.7 1326,409.8 1327,410.7 1328,412.1 1329,412.1 1330,412.2 1331,410.6 1332,407.3 1333,405.3 1334,402.2 1335,396.7 1336,394.8 1337,394.9 1338,393.7 1339,392.9 1340,392.3 1341,392.8 1342,392.2 1343,392.1 1344,392.6 1345,392.9 1346,391.9 1347,392.6 1348,395.6 1349,400.9 1350,401.7 1351,401.7 1352,399.8 1353,399.8 1354,400.0 1355,400.6 1356,401.1 1357,400.4 1358,402.0 1359,403.7 1360,405.5 1361,408.6 1362,410.0 1363,412.0 1364,413.3 1365,415.0 1366,416.9 1367,420.0 1368,421.2 1369,422.9 1370,425.1 1371,427.6 1372,428.6 1373,429.4 1374,430.0 1375,429.4 1376,429.4 1377,429.8"/>
<polyline fill="none" stroke="#e6e6e6" stroke-width="1" stroke-dasharray="3 2.2" points="345,469.4 346,469.4 347,469.3 348,469.2 349,469.1 350,469.1 351,469.0 352,468.9 353,468.9 354,468.7 355,468.6 356,468.5 357,468.5 358,468.5 359,468.5 360,468.4 361,468.4 362,468.5 363,468.5 364,468.5 365,468.5 366,468.5 367,468.5 368,468.5 369,468.5 370,468.5 371,468.5 372,468.4 373,468.4 374,468.4 375,468.3 376,468.3 377,468.3 378,468.3 379,468.3 380,468.3 381,468.3 382,468.3 383,468.2 384,468.0 385,467.8 386,467.6 387,467.5 388,467.3 389,467.1 390,466.7 391,466.3 392,465.9 393,465.6 394,465.4 395,465.3 396,465.1 397,464.9 398,464.8 399,464.8 400,464.8 401,464.9 402,464.9 403,465.0 404,465.1 405,465.5 406,465.7 407,465.8 408,466.1 409,466.4 410,466.5 411,466.7 412,466.8 413,466.9 414,466.9 415,467.0 416,467.0 417,466.9 418,466.9 419,467.0 420,467.0 421,467.1 422,467.1 423,467.2 424,467.3 425,467.4 426,467.5 427,467.5 428,467.5 429,467.5 430,467.6 431,467.6 432,467.6 433,467.6 434,467.7 435,467.7 436,467.6 437,467.6 438,467.5 439,467.5 440,467.5 441,467.6 442,467.6 443,467.6 444,467.7 445,467.7 446,467.7 447,467.7 448,467.6 449,467.6 450,467.5 451,467.5 452,467.5 453,467.5 454,467.6 455,467.7 456,467.7 457,467.8 458,467.9 459,467.9 460,468.0 461,468.1 462,468.2 463,468.3 464,468.4 465,468.4 466,468.4 467,468.4 468,468.4 469,468.6 470,468.7 471,468.7 472,468.7 473,468.8 474,468.8 475,468.8 476,468.9 477,468.9 478,468.9 479,468.9 480,469.0 481,468.9 482,468.8 483,468.8 484,468.7 485,468.5 486,468.3 487,468.1 488,467.9 489,467.8 490,467.6 491,467.4 492,467.3 493,467.1 494,466.9 495,466.9 496,466.8 497,466.8 498,466.8 499,466.7 500,466.4 501,466.3 502,466.0 503,465.7 504,465.3 505,464.7 506,464.0 507,463.2 508,462.5 509,461.6 510,460.7 511,459.6 512,458.2 513,456.4 514,454.7 515,453.3 516,451.2 517,449.8 518,448.4 519,447.3 520,446.0 521,444.7 522,442.8 523,441.5 524,440.2 525,438.5 526,436.1 527,434.0 528,432.6 529,431.0 530,428.0 531,425.8 532,423.4 533,423.0 534,422.6 535,421.0 536,420.7 537,421.3 538,420.2 539,420.2 540,420.2 541,421.5 542,421.3 543,422.5 544,422.2 545,422.8 546,423.6 547,423.4 548,422.5 549,422.9 550,423.2 551,422.8 552,422.9 553,422.9 554,422.4 555,422.0 556,421.3 557,420.6 558,420.1 559,419.2 560,419.8 561,419.9 562,420.2 563,419.7 564,420.1"/>
<rect x="564.5" y="469.7" width="812.5" height="2.3" fill="#c47c7a"/>
<rect x="616.9" y="466.8" width="14.1" height="5" fill="#7ec592"/>
<rect x="1244.2" y="339.5" width="1.5" height="132.8" fill="#9aa6c6"/>
</g>
<rect x="99.6" y="471.8" width="1290.4" height="1.6" fill="#cfcfd6"/>
<rect x="155.8" y="472.6" width="1.2" height="9.8" fill="#cfcfd6"/>
<text x="156.4" y="495" font-size="13.3" fill="#e8e8e8" text-anchor="middle">Jan '19</text>
<rect x="242.5" y="472.6" width="1.2" height="9.8" fill="#cfcfd6"/>
<text x="243.1" y="495" font-size="13.3" fill="#e8e8e8" text-anchor="middle">Jul '19</text>
<rect x="329.2" y="472.6" width="1.2" height="9.8" fill="#cfcfd6"/>
<text x="329.8" y="495" font-size="13.3" fill="#e8e8e8" text-anchor="middle">Jan '20</text>
<rect x="416.0" y="472.6" width="1.2" height="9.8" fill="#cfcfd6"/>
<text x="416.6" y="495" font-size="13.3" fill="#e8e8e8" text-anchor="middle">Jul '20</text>
<rect x="502.7" y="472.6" width="1.2" height="9.8" fill="#cfcfd6"/>
<text x="503.3" y="495" font-size="13.3" fill="#e8e8e8" text-anchor="middle">Jan '21</text>
<rect x="589.4" y="472.6" width="1.2" height="9.8" fill="#cfcfd6"/>
<text x="590.0" y="495" font-size="13.3" fill="#e8e8e8" text-anchor="middle">Jul '21</text>
<rect x="676.1" y="472.6" width="1.2" height="9.8" fill="#cfcfd6"/>
<text x="676.7" y="495" font-size="13.3" fill="#e8e8e8" text-anchor="middle">Jan '22</text>
<rect x="762.8" y="472.6" width="1.2" height="9.8" fill="#cfcfd6"/>
<text x="763.4" y="495" font-size="13.3" fill="#e8e8e8" text-anchor="middle">Jul '22</text>
<rect x="849.6" y="472.6" width="1.2" height="9.8" fill="#cfcfd6"/>
<text x="850.2" y="495" font-size="13.3" fill="#e8e8e8" text-anchor="middle">Jan '23</text>
<rect x="936.3" y="472.6" width="1.2" height="9.8" fill="#cfcfd6"/>
<text x="936.9" y="495" font-size="13.3" fill="#e8e8e8" text-anchor="middle">Jul '23</text>
<rect x="1023.0" y="472.6" width="1.2" height="9.8" fill="#cfcfd6"/>
<text x="1023.6" y="495" font-size="13.3" fill="#e8e8e8" text-anchor="middle">Jan '24</text>
<rect x="1109.7" y="472.6" width="1.2" height="9.8" fill="#cfcfd6"/>
<text x="1110.3" y="495" font-size="13.3" fill="#e8e8e8" text-anchor="middle">Jul '24</text>
<rect x="1196.4" y="472.6" width="1.2" height="9.8" fill="#cfcfd6"/>
<text x="1197.0" y="495" font-size="13.3" fill="#e8e8e8" text-anchor="middle">Jan '25</text>
<rect x="1283.2" y="472.6" width="1.2" height="9.8" fill="#cfcfd6"/>
<text x="1283.8" y="495" font-size="13.3" fill="#e8e8e8" text-anchor="middle">Jul '25</text>
<rect x="1369.9" y="472.6" width="1.2" height="9.8" fill="#cfcfd6"/>
<text x="1370.5" y="495" font-size="13.3" fill="#e8e8e8" text-anchor="middle">Jan '26</text>
<polyline fill="none" stroke="#ffffff" stroke-width="1.7" stroke-linejoin="round" points="99.4,364.4 100.1,362.5 100.7,361.8 101.4,360.4 102,365.7 102.6,371.5 103.4,372.4 104.3,373.1 105.1,373.5 105.8,371.7 106.4,370.8 107.1,371.1 107.8,372.3 108.4,371.5 109.1,372.5 109.8,370.5 110.4,370.9 111.1,368.4 111.8,368.9 112.6,370.2 113.3,369.9 114.1,370.5 114.8,370.5 115.6,369.2 116.3,370 117.1,369.4 117.9,371.7 118.7,372.5 119.5,373.9 120.4,373.1 121.3,371.5 122.2,369.8 123,369.2 123.7,371 124.5,371 125.2,371.1 126.2,371.1 127.2,371 128.2,372.5 129.1,372.8 130,371.4 130.9,371.5 131.8,370.5 132.7,372 133.7,372.3 134.6,372.5 135.4,377.9 136.2,381.5 136.9,385.3 137.7,389.6 138.3,396.3 138.9,401.6 139.6,406.5 140.2,412.6 140.9,416.7 141.6,412.5 142.3,406.7 143,408.1 143.6,410.6 144.3,413.7 145,416.8 145.6,422.1 146.3,424.8 147,424.2 147.7,423.8 148.4,426.6 149,428.4 149.7,431.4 150.4,426.2 151.2,420.7 151.9,415.7 152.6,413.4 153.3,411.9 154,409.7 154.7,413.9 155.4,417.7 156.2,418.1 156.9,417.1 157.7,417.1 158.4,415.7 159.2,415.4 159.9,414.6 160.7,412.8 161.4,411.3 162.1,413.7 162.7,418.4 163.4,420.8 164.2,421.8 164.9,421.7 165.7,421 166.4,420.8 167.2,422 167.9,421.7 168.7,423.8 169.4,423.8 170.3,424.6 171.2,424.7 172.1,425.8 172.9,424.8 173.8,426.6 174.7,426.9 175.5,425.8 176.2,423.2 176.8,423.1 177.5,420.8 178.2,420.3 179,419.5 179.8,419.5 180.5,419.7 181.2,418 181.8,415.9 182.5,412.7 183.2,412.7 184,415 184.8,414.7 185.5,416.7 186.3,416.7 187.1,415.3 187.8,416 188.6,414.7 189.3,415.5 190.1,414.2 190.8,415 191.6,413.7 192.3,412.8 193.1,411.8 193.8,412.4 194.6,411.7 195.3,410.9 196.1,411.5 196.8,412.2 197.6,412.7 198.4,411.9 199.2,409.9 200,409.7 200.6,400.6 201.2,393.6 202,393.1 202.9,390.5 203.7,389.6 204.4,391 205.2,391.3 205.9,390.5 206.7,391.2 207.5,390 208.3,389 209.1,388.1 209.9,386.9 210.7,385.5 211.4,386.4 212.2,387.3 212.9,388.8 213.7,388.6 214.4,386.8 215.2,384.9 215.9,383.8 216.7,381.5 217.4,378.9 218,377.1 218.7,375.5 219.4,369.5 220.2,361.4 220.8,357.4 221.4,353.4 222.1,355.5 222.7,356.3 223.4,359.4 224.2,355.7 225.1,352.5 226,347.8 226.8,345.3 227.5,346.2 228.1,346.9 228.8,347.3 229.5,348.7 230.1,352.3 230.8,354.4 231.6,354.3 232.3,354.8 233.1,354.1 233.8,354.4 234.5,351.2 235.1,347.5 235.8,343.3 236.5,341.2 237.2,340.3 237.9,340.3 238.6,335 239.2,329.9 239.9,323.2 240.7,316.6 241.5,311.1 242.2,316.4 242.8,322 243.5,327.2 244.2,324.8 244.8,322.9 245.5,321.2 246.2,318.4 246.8,316.2 247.5,314.1 248.2,318 248.8,321.1 249.5,325.2 250.2,330.4 250.9,336.2 251.6,334.1 252.2,329.8 252.9,328.2 253.6,331.4 254.3,334.8 255,337.3 255.7,336.9 256.3,336.7 257,337.3 257.7,333.9 258.3,328.7 259,325.2 259.9,321.8 260.7,319.7 261.6,317.1 262.3,318.9 262.9,319 263.6,321.2 264.3,324.5 264.9,328.2 265.6,332.2 266.3,330.4 267,327.2 267.8,328.3 268.6,330.5 269.3,330.2 270.1,332.2 270.8,333.5 271.4,335.9 272.1,337.3 272.8,335.1 273.4,331.1 274.1,328.2 274.9,328.3 275.6,328.9 276.4,330.5 277.1,331.2 277.9,330.5 278.6,331.9 279.4,331.9 280.1,331.2 280.9,331 281.6,331.7 282.4,333.4 283.1,333.2 283.8,339.5 284.4,345.9 285.1,351.3 285.8,351.3 286.5,351.2 287.2,352.3 287.9,350.8 288.5,350.9 289.2,349.3 289.9,348.1 290.5,347.6 291.2,347.3 291.9,348.1 292.5,349.1 293.2,350.3 293.9,350.6 294.7,352.2 295.4,351 296.2,352.3 296.9,353.2 297.5,357.3 298.2,358.4 298.7,349.2 299.2,338.3 299.9,339.4 300.7,338.2 301.4,339.3 302.2,338.3 303,340 303.8,339.2 304.5,341.1 305.3,341.3 306.1,343 306.8,343.7 307.6,344.3 308.3,345.3 309.1,346.5 309.9,348.3 310.7,350.3 311.6,354.4 312.4,358.7 313.3,364.4 314,361.9 314.6,358.6 315.3,356.4 316,358.4 316.6,358.1 317.3,360.4 318,360.6 318.6,359.5 319.3,358.4 320.1,360.3 320.9,361.3 321.6,362.3 322.4,362.4 323.2,365.6 324,368.4 324.7,362.8 325.4,359.4 326.1,360.4 326.9,359.7 327.6,360.5 328.4,361.4 329.1,361.1 329.7,360.1 330.4,359.4 331.2,361.2 332,363.4 332.7,360.7 333.3,356.2 334,352.3 334.7,351.3 335.3,350.4 336,350.3 336.8,348.8 337.7,345.6 338.5,343.3 339.2,345.2 340,345.5 340.8,346.4 341.5,348.3 342.2,346.1 343,344.5 343.8,340.8 344.5,339.3 345.2,340.3 345.8,340.9 346.5,340.3 347.3,338.6 348.1,336.3 348.9,333.2 349.8,331.3 350.6,331.9 351.5,330.8 352.3,332.7 353.1,332 353.8,333.6 354.6,335.2 355.3,334 355.9,333.9 356.6,333.2 357.3,336.7 357.9,340.5 358.6,344.3 359.3,345.2 359.9,343.9 360.6,345.3 361.4,342.8 362.2,342.3 363.1,347 364,353.4 364.6,416.7 365.6,391.6 366.3,386.7 367,383.5 367.7,378.9 368.3,377.2 369,372.5 369.9,371.7 370.7,369.4 371.4,371.2 372,374.8 372.7,377.5 373.2,372 373.7,367.4 374.4,365.5 375.2,364.1 375.9,363.2 376.7,361.4 377.4,361.3 378,360.4 378.7,360.4 379.4,362.1 380,364.7 380.7,367.4 381.4,364.9 382,364.2 382.7,362.4 383.4,363.2 384,362.8 384.7,363.4 385.5,359.5 386.4,356.7 387.2,354.4 388,349.6 388.8,345.3 389.5,344.5 390.1,343.9 390.8,342.3 391.3,338.5 391.8,335.2 392,334.7 392.8,340.9 393.5,345.8 394.2,342.7 394.8,338.9 395.5,335.7 396.2,336.1 396.8,337 397.5,337.7 398.2,340.2 398.8,341.6 399.5,343.8 400.2,341.5 400.8,338.3 401.5,335.7 402.4,334.1 403.2,333.8 404.1,332.7 404.8,334.1 405.4,333.8 406.1,335.7 406.8,336.5 407.4,337.5 408.1,338.7 408.9,339 409.6,338.7 410.4,336.9 411.2,336.7 411.9,337.8 412.7,337.8 413.4,336.9 414.2,337.7 414.9,339 415.5,339.6 416.2,341.8 416.9,342 417.7,341.1 418.4,341.1 419.2,339.7 419.9,340.6 420.7,340.6 421.4,341 422.2,340.8 423,340.9 423.8,339.9 424.6,341 425.4,339.7 426.2,340.8 426.9,338.3 427.6,338 428.3,335.7 429,331 429.6,327.5 430.3,324.7 431,322.1 431.6,322.1 432.3,319.6 433.2,319.2 434,319.2 434.9,320.6 435.7,320.7 436.5,318.4 437.3,318.6 438.1,318.9 438.8,318 439.6,317.8 440.3,316.6 441.1,318.6 441.9,318.8 442.6,320.3 443.4,320.6 444.3,319.2 445.1,320.5 446,319.6 446.9,324.7 447.8,329.7 448.5,330.8 449.1,330.2 449.8,331.7 450.7,331.9 451.5,332 452.4,330.7 453.1,327.7 453.7,326.3 454.4,324.7 455.3,326.8 456.1,329.4 457,330.7 457.8,329.1 458.6,328 459.4,327.7 460.2,327.1 460.9,328 461.7,328.3 462.5,327.7 463.2,326.5 464,325.4 464.8,324.5 465.5,323.7 466.2,322.6 467,322 467.8,320.5 468.5,320.6 469.2,318.3 469.8,317 470.5,313.6 471.2,311.7 471.8,310.8 472.5,308.6 473.4,307.2 474.2,307.6 475.1,306.5 475.8,304.7 476.5,302.2 477.2,299.5 477.9,297.5 478.6,295.5 479.3,294.5 479.9,293.8 480.6,292.5 481.3,291.7 481.9,288.3 482.6,287.4 483.3,284.5 483.9,283.9 484.6,281.4 485.3,281.3 485.9,279.4 486.6,278.4 487.3,281.8 488,285.4 488.8,281.4 489.6,276.4 490.3,275.4 490.9,275.2 491.6,275.4 492.4,276.2 493.1,278.6 493.9,279.5 494.7,281.4 495.4,277.4 496,275.1 496.7,271.3 497.4,267.3 498.1,261.3 498.8,259.9 499.4,259.8 500.1,258.3 500.9,254.6 501.7,251.2 502.4,248.6 503,244.7 503.7,241.2 504.4,237.3 505,233.8 505.7,231.1 506.4,226.7 507.1,224.4 507.8,218.9 508.5,213.4 509.3,212.6 510.1,212.4 510.9,215.7 511.7,220.4 512.4,220.6 513.1,221.4 513.8,226.1 514.5,231.5 515.2,233.8 515.9,234 516.6,236.5 517.4,234.1 518.2,229.5 518.9,227.1 519.5,225 520.2,222.4 520.9,219 521.5,216.5 522.2,212.4 523,208.1 523.8,202.3 524.5,200.8 525.1,198.9 525.8,197.3 526.5,194.1 527.1,190.7 527.8,186.2 528.3,184 528.8,182.2 529.5,189.3 530.2,195.3 530.9,198.6 531.6,199.9 532.3,202.3 533,199.4 533.6,197 534.3,195.3 535.1,192.7 535.9,189.6 536.7,186.2 537.5,182.7 538.3,177.2 539,179.6 539.6,180 540.3,182.2 541.1,182 541.9,183.2 542.6,185.3 543.2,187.8 543.9,191.2 544.6,189 545.2,186.7 545.9,183.2 546.7,183.1 547.6,180.7 548.4,180.2 549.1,181.7 549.7,181.1 550.4,182.2 551.1,180.4 551.7,179.4 552.4,177.2 553.2,174.7 554,174.1 554.7,176.2 555.3,180.9 556,183.2 556.8,186.4 557.6,190.3 558.4,194.3 559.2,191.4 560,188.2 560.7,186.9 561.3,183.8 562,183.2 562.7,185.3 563.4,188.2 564.1,185.7 564.8,183.5 565.5,181.2 566.2,185.6 566.8,191.5 567.5,196.3 568.2,201.3 568.8,204.1 569.5,208.4 570.2,211.8 570.8,214.2 571.5,218.4 572.2,217.2 572.8,217.4 573.5,216.4 574.2,216.5 574.8,219.3 575.5,219.4 576.2,222 576.8,221.8 577.5,224.4 578.2,223.7 578.8,220.8 579.5,219.4 580.2,218.3 580.8,216.6 581.5,214.4 582.2,213.5 583,213.4 583.8,217.3 584.6,220.4 585.3,224.1 585.9,227.8 586.6,230.5 587.3,228.7 587.9,228.4 588.6,226.5 589.3,226.5 589.9,224.8 590.6,223.4 591.3,224.8 591.9,225.3 592.6,227.5 593.3,227.5 593.9,227.2 594.6,227.5 595.3,229 595.9,229.9 596.6,230.5 597.3,232 598,232.5 598.7,234.5 599.2,235.8 599.7,236.5 600.4,232.8 601,227.7 601.7,224.4 602.4,222.6 603,219.4 603.7,216.4 604.4,213.6 605,213.4 605.7,210.4 606.4,208.6 607,208 607.7,207.3 608.4,206.1 609,204.2 609.7,202.3 610.4,201.4 611,200.6 611.7,199.3 612.4,198.9 613,198.2 613.7,198.3 614.4,196.9 615.1,196 615.8,196.3 616.5,197.4 617.1,198.2 617.8,198.3 618.5,198.4 619.1,198.8 619.8,198.3 620.5,195.6 621.1,193.1 621.8,191.2 622.5,193.3 623.1,196.8 623.8,198.3 624.5,198.3 625.1,200.3 625.8,201.3 626.5,199.4 627.1,199.2 627.8,197.3 628.5,199.3 629.1,201.6 629.8,204.3 630.5,205.8 631.2,207.8 631.9,209.4 632.6,206.6 633.2,202.3 633.9,199.3 634.6,197 635.2,192.4 635.9,190.2 636.6,188 637.2,186 637.9,185.2 638.6,182.7 639.2,182.5 639.9,180.2 640.6,178.7 641.2,175.4 641.9,174.1 642.6,171.4 643.3,170.1 644.1,172.5 644.9,175.2 645.6,176.1 646.2,176.6 646.9,176.2 647.6,176.7 648.3,176.4 649,176.2 649.7,174.4 650.3,173.9 651,173.1 651.7,171.1 652.3,170.5 653,169.1 653.7,170.9 654.3,171.8 655,174.1 655.7,175.3 656.3,178.1 657,179.2 657.7,178.8 658.3,181.2 659,181.2 659.7,183.4 660.3,184.9 661,185.2 661.7,186.3 662.3,188 663,189.2 663.7,190.7 664.4,192.2 665.1,193.3 665.8,195.3 666.4,195.7 667.1,196.3 667.8,196.9 668.4,199.1 669.1,199.3 669.8,199.6 670.4,200.2 671.1,200.3 671.8,198.5 672.4,194.5 673.1,193.3 673.8,194.2 674.4,194.3 675.1,194.3 675.8,195.9 676.4,197.7 677.1,199.3 677.8,200.2 678.4,200.6 679.1,202.3 679.8,204.4 680.4,205.3 681.1,208.4 681.8,207.7 682.5,207.3 683.2,206.3 683.9,207.5 684.5,209.2 685.2,210.4 686,215.9 686.8,219.4 687.5,222.8 688.2,224.4 688.9,221.6 689.5,221 690.2,218.4 690.9,218 691.5,216.1 692.2,216.4 692.9,213.4 693.5,210.5 694.2,208.4 694.9,206.1 695.5,205.8 696.2,204.3 696.9,205.9 697.5,205.2 698.2,206.3 698.9,209.1 699.6,210.8 700.3,212.4 701,213.6 701.6,217.2 702.3,218.4 703,215.3 703.6,212.7 704.3,208.4 705,207.3 705.7,205.3 706.5,211.4 707.3,216.4 708,215.4 708.6,215.7 709.3,214.4 710,215.7 710.6,215.9 711.3,215.4 712,213.6 712.6,212.6 713.3,210.4 714,209.3 714.7,207.5 715.4,207.3 716.1,204.6 716.7,203 717.4,202.3 718.1,200.6 718.7,199.6 719.4,199.3 720.1,200 720.7,201.1 721.4,201.3 722.1,203.7 722.7,205.9 723.4,208.4 724.1,209.7 724.7,210 725.4,211.4 726.1,212.3 726.7,214 727.4,214.4 728.1,212.8 728.7,211 729.4,210.4 730.1,212.9 730.7,214.2 731.4,215.4 732.1,215.1 732.8,215.1 733.5,215.4 734.2,216.8 734.8,218.3 735.5,219.4 736.2,221.2 736.8,223 737.5,226.5 738.2,229.9 738.8,235.1 739.5,238.5 740.2,237 740.8,237.1 741.5,236.5 742.2,237.2 742.8,238.5 743.5,240.5 744.2,239.1 744.8,239 745.5,238.5 746.2,236.4 746.8,234.8 747.5,234.5 748.2,235.3 748.9,237.1 749.6,239.5 750.3,237.8 750.9,235.2 751.6,234.5 752.3,236.8 752.9,241.1 753.6,244.6 754.3,250.4 754.9,257.1 755.6,262.7 756.3,266.1 756.9,271.2 757.6,275.8 758.3,273.2 758.9,270 759.6,268.7 760.3,270.4 760.9,269.4 761.6,270.7 762.3,271.5 762.9,274 763.6,275.8 764.3,272 765,270 765.7,266.7 766.4,267 767,267.2 767.7,268.7 768.4,269.7 769,273.2 769.7,274.7 770.4,270.9 771,268.7 771.7,264.7 772.4,263.3 773,263 773.7,260.7 774.4,262.3 775,264.1 775.7,266.7 776.4,263.9 777,262.7 777.7,259.7 778.4,260.3 779,260 779.7,260.7 780.4,259.1 781.1,259.8 781.8,258.7 782.5,259 783.1,257.5 783.8,256.6 784.5,255.8 785.1,256.2 785.8,257.6 786,258.5 786.8,262.6 787.6,268.5 788.3,267.4 789,266.8 789.7,267.5 790.4,268.6 791,271.9 791.7,273.6 792.4,274.5 793,272.9 793.7,273.6 794.4,276.3 795,276.9 795.7,278.6 796.4,274.2 797.1,268.5 797.6,267.4 798.1,264.5 798.9,270 799.7,273.6 800.4,273.6 801,275.2 801.7,276.6 802.4,278.3 803.1,279.6 803.8,279.9 804.5,277.4 805.2,277.6 805.9,276.8 806.5,277.7 807.2,276.6 807.9,273.8 808.6,272.6 809.4,274.4 810.2,276.6 810.9,276.6 811.5,277.7 812.2,277.6 812.9,278.2 813.5,276.2 814.2,276.6 814.9,277.5 815.5,277.8 816.2,277.6 816.9,277.3 817.5,275.7 818.2,274.6 819,273.5 819.8,270.5 820.5,270.5 821.2,271 821.9,271.5 822.6,269.9 823.2,270.1 823.9,268.5 824.6,276.5 825.3,284.6 825.9,293.7 826.6,290.7 827.3,288.7 828,288.6 828.6,290.5 829.3,290.7 830,291.9 830.6,293.2 831.3,293.7 832,292.1 832.6,291 833.3,289.7 834,288.9 834.6,290.2 835.3,289.7 836,287.6 836.6,287.6 837.3,286.6 838,287.5 838.7,287.7 839.4,287.6 840.3,285.7 841.1,285 842,284.6 842.7,287.1 843.3,288.3 844,289.7 844.8,290.2 845.6,289.9 846.4,288.7 847.1,289 847.9,290.4 848.6,290.4 849.4,290.3 850.1,289.5 850.9,289.2 851.6,288.2 852.4,288.7 853.2,287.4 854,287.6 854.8,285.6 855.5,281.2 856.1,278.6 856.8,274.2 857.5,269.5 858.2,267.6 858.8,266.6 859.5,266.5 860,264.8 860.5,262.5 861.2,261.3 861.8,260.2 862.5,260.5 863.2,259.4 863.8,260.2 864.5,259.5 865.2,260.4 865.8,259.8 866.5,261.5 867.2,260.6 867.8,261.9 868.5,260.5 869.2,261.9 869.8,264.6 870.5,266.5 871.4,262.8 872.2,259.5 872.9,258.4 873.6,256.1 874.3,256.5 874.9,257 875.6,256.5 876.3,258.2 876.9,259.1 877.6,261.5 878.3,260.8 878.9,260.6 879.6,261.5 880.3,263.9 880.9,264 881.6,266.5 882.3,268.5 883,272.6 883.8,267.6 884.6,260.5 885.4,253.8 886.2,248.4 886.9,246.8 887.6,243.4 888.3,243.2 889,244.7 889.7,245.4 890.4,244.1 891,244.8 891.7,243.4 892.4,244 893,244.4 893.7,244.4 894.4,244.6 895,244.6 895.7,243.4 896.4,241.7 897,241 897.7,239.4 898.4,238.6 899,237.1 899.7,237.3 900.4,238.4 901,238.2 901.7,238.4 902.4,243.1 903.1,246.4 903.8,244.8 904.5,244.5 905.2,243.4 906,241.8 906.8,240.4 907.5,241.6 908.1,240.8 908.8,242.4 909.6,240.6 910.4,239.4 911.1,241.4 911.7,242.5 912.4,245.4 913.1,246.5 913.7,247.9 914.4,248.4 915.2,247.9 916,248.1 916.8,247.4 917.5,248 918.1,247.4 918.8,248.4 919.5,246.7 920.1,246.8 920.8,244.4 921.5,245.4 922.2,246.9 922.9,248.4 923.6,247.5 924.2,247.8 924.9,248.4 925.6,248.7 926.2,251.3 926.9,251.4 927.6,252.6 928.2,253.6 928.9,253.4 929.7,251 930.5,246.4 931.2,242.6 931.9,238.4 932.6,238.6 933.2,237.1 933.9,236.3 934.6,236.5 935.2,238 935.9,237.3 936.6,237.9 937.2,237.6 937.9,236.3 938.6,237 939.3,238.3 940,238.4 940.7,237.2 941.3,237.4 942,235.3 942.7,237.3 943.3,236.9 944,238.4 944.7,239.4 945.3,237.7 946,238.4 946.7,238.2 947.3,240.2 948,240.4 948.8,239.9 949.5,240.4 950.2,240.7 951,240.4 951.8,239.4 952.5,240.9 953.2,239.9 954,240.4 954.7,239.9 955.4,239.4 956.1,239.4 956.8,240.3 957.4,240.6 958.1,240.4 958.8,244.9 959.5,250.4 960.4,249.5 961.2,250 962.1,250.4 962.8,250.2 963.4,249.5 964.1,250.4 964.6,247.6 965.1,246.4 965.9,249.5 966.7,251.4 967.4,251.5 968,251.8 968.7,250.4 969.4,252.5 970,253.2 970.7,253.4 971.4,251.8 972.1,250 972.8,249.4 973.5,248.3 974.1,248 974.8,247.4 975.5,248.1 976.1,248.8 976.8,249.4 977.5,248.4 978.1,248.8 978.8,247.4 979.6,245.9 980.4,245.3 981.2,244.4 981.9,245.9 982.5,246.4 983.2,246.4 983.9,245.3 984.5,244.5 985.2,244.4 985.9,246.4 986.5,246 987.2,248.4 988,244.1 988.9,241.4 989.6,237.9 990.3,234.3 990.8,230.9 991.3,227.3 992,226.2 992.6,225.6 993.3,226.3 994,225.3 994.6,226.2 995.3,225.3 996,224.6 996.6,225 997.3,223.3 998.1,221.9 998.9,219.2 999.6,221.8 1000.3,222.3 1001,220.2 1001.6,219.5 1002.3,219.2 1003,218.5 1003.6,219.7 1004.3,220.2 1005,219.5 1005.7,218.5 1006.4,219.2 1007.1,219 1007.7,217.6 1008.4,218.2 1009.1,214.8 1009.8,212.2 1010.6,208.1 1011.4,205.2 1012.1,205.9 1012.7,205 1013.4,205.2 1014.2,207.2 1015,210.2 1015.8,208.2 1016.6,208 1017.4,207.2 1018.1,208.1 1018.7,208.9 1019.4,209.2 1020.1,209.1 1020.7,207.9 1021.4,206.2 1022.1,206.6 1022.8,207.4 1023.5,209.2 1024.2,208.1 1024.8,206.4 1025.5,204.1 1026.3,202.5 1027.1,201.5 1027.9,199.1 1028.7,202.8 1029.5,206.2 1030.2,206.7 1030.8,207.5 1031.5,209.2 1032.2,209.1 1032.8,211.5 1033.5,212.2 1034.3,214.1 1035.1,214.2 1035.8,213.4 1036.4,210.8 1037.1,209.2 1037.8,208.6 1038.6,207.2 1039.3,208.5 1039.9,208.6 1040.6,208.2 1041.3,205.4 1041.9,201.9 1042.6,199.1 1043.3,196.8 1043.9,193.7 1044.6,192.1 1045.3,190.7 1045.9,191.2 1046.6,190.1 1047.5,188.5 1048.4,184.8 1049.3,181.7 1050.2,178.9 1051.1,176.5 1051.8,175.7 1052.4,175.8 1053.1,174.5 1053.8,171.3 1054.5,168.4 1055.3,168.4 1056.2,166.4 1057,163.6 1057.8,162.4 1058.5,164.5 1059.2,167.4 1059.9,169 1060.6,170.5 1061.2,172.3 1061.8,174.5 1062.5,170.7 1063.2,165.4 1063.9,165.6 1064.6,164.4 1065.3,167.4 1065.9,168.7 1066.6,170.5 1067.3,167.8 1067.9,167.3 1068.6,165.4 1069.3,165.2 1069.9,164.7 1070.6,164.4 1071.3,165.6 1072,168.2 1072.7,169.4 1073.4,172.3 1074,172.6 1074.7,175.5 1075.4,174.2 1076,171.9 1076.7,170.5 1077.4,171.2 1078,172.7 1078.7,172.5 1079.5,174.5 1080.3,174.5 1081.1,177.8 1081.9,180.5 1082.6,176.8 1083.3,174.5 1084,176.1 1084.6,175.1 1085.3,176.5 1086,174.9 1086.6,174.6 1087.3,172.5 1088,170.7 1088.7,169.3 1089.4,168.4 1090.2,167.4 1091,164.4 1091.9,166.4 1092.8,166.4 1093.5,166.3 1094.1,166.8 1094.8,167.4 1095.5,166.6 1096.1,165.9 1096.8,166.4 1097.5,165.2 1098.1,166.1 1098.8,164.4 1099.5,164.5 1100.1,165.8 1100.8,167.4 1101.5,167.4 1102.1,167.8 1102.8,169.4 1103.7,170.5 1104.6,172 1105.5,172.5 1106.2,174.6 1106.8,175.5 1107.5,176.5 1108.2,176.9 1108.8,174.7 1109.5,175.5 1110.2,176.7 1110.8,179.8 1111.5,180.5 1112.2,180.9 1112.8,182.7 1113.5,184.5 1114.2,183.5 1114.8,182 1115.5,181.5 1116.2,177.1 1116.9,172.5 1117.6,170.5 1118.2,169.9 1118.9,169.4 1119.6,170.8 1120.2,169.4 1120.9,170.5 1121.6,170.4 1122.3,167.7 1123,167.4 1123.7,170.2 1124.3,171.2 1125,172.5 1125.8,177.3 1126.6,181.5 1127.1,183.8 1127.6,187.6 1128.3,181.6 1129,177.5 1129.7,179.4 1130.3,179.5 1131,181.5 1131.7,180.5 1132.3,181.5 1133,180.5 1133.7,179.3 1134.3,175.5 1135,174.5 1135.8,175 1136.6,173.5 1137.3,175.9 1138,177.9 1138.7,180.5 1139.4,180 1140,180.9 1140.7,181.5 1141.4,184.6 1142,185.1 1142.7,187.6 1143.4,184.8 1144,182.8 1144.7,181.5 1145.4,179.3 1146,178.5 1146.7,177.5 1147.4,177.4 1148,174.6 1148.7,174.5 1149.4,173.2 1150,174.1 1150.7,172.5 1151.4,173.3 1152,172.9 1152.7,171.5 1153.4,172.9 1154,175.2 1154.7,177.5 1155.4,177.8 1156.1,176.1 1156.8,175.5 1157.5,176.6 1158.1,176.4 1158.8,177.5 1159.5,174.1 1160.1,172.5 1160.8,170.5 1161.5,170 1162.1,169.1 1162.8,167.4 1163.5,167.9 1164.1,168 1164.8,168.4 1165.5,167.5 1166.1,166.3 1166.8,165.4 1167.6,164 1168.4,162.4 1169.1,165.6 1169.8,167.4 1170.5,162.7 1171.2,159.4 1172.1,155.6 1172.9,151.3 1173.7,148.8 1174.5,144.3 1175.2,144.4 1175.8,142.3 1176.5,142.3 1177.2,141.3 1177.8,139 1178.5,136.2 1179.2,136.2 1179.8,137.1 1180.5,138.3 1181.2,137.3 1181.8,136.7 1182.5,137.3 1183.2,137.7 1183.8,135.7 1184.5,135.2 1185.2,136.4 1185.8,135 1186.5,136.2 1187.2,133.8 1187.9,134.3 1188.6,132.2 1189.3,132.2 1189.9,131.9 1190.6,130.2 1191.3,134.2 1192,137.3 1192.7,137.7 1193.3,138.6 1194,138.3 1194.7,138.1 1195.3,139.7 1196,140.3 1196.7,139.5 1197.3,138.2 1198,138.3 1198.7,136.8 1199.3,134.5 1200,133.2 1200.7,137.3 1201.4,141.3 1202.1,139.7 1202.7,138.2 1203.4,137.3 1204.1,135.3 1204.8,134.1 1205.5,132.2 1206.2,132.6 1206.8,131.8 1207.5,130.2 1208.2,131.7 1208.8,132.3 1209.5,132.2 1210.2,131.4 1210.8,132.6 1211.5,131.2 1212.2,132.4 1212.8,133.7 1213.5,136.2 1214.2,136.6 1214.8,137.4 1215.5,137.3 1216.2,137.3 1216.8,138.3 1217.5,138.3 1218.2,137.5 1218.8,138.7 1219.5,137.3 1220.2,137.5 1220.8,137.9 1221.5,138.3 1222.3,137.9 1223.2,137.3 1224,143.6 1224.8,148.3 1225.5,145.9 1226.2,141.3 1226.9,143.4 1227.6,145.3 1228.3,148.2 1228.9,151.6 1229.6,154.4 1230.3,152.4 1230.9,152.2 1231.6,151.3 1232.3,151.4 1232.9,150.6 1233.6,149.3 1234.3,148 1234.9,149.4 1235.6,148.3 1236.3,147.7 1236.9,148.7 1237.6,147.3 1238.3,148 1239,148.7 1239.7,150.3 1240.4,150.7 1241,151.8 1241.7,151.3 1242.5,154.2 1243.3,157.4 1244,155.5 1244.6,152.5 1245.3,149.3 1246,149 1246.6,148.9 1247.3,149.3 1248,148.6 1248.6,147.7 1249.3,147.3 1250,143.5 1250.7,140.3 1251.4,140.3 1252,140.5 1252.7,139.3 1253.4,139.2 1254,137.9 1254.7,138.3 1255.4,137.4 1256.1,137.3 1256.8,137.3 1257.5,135.9 1258.1,133.1 1258.8,132.2 1259.5,130.9 1260.1,131.1 1260.8,131.2 1261.5,130.1 1262.1,128.8 1262.8,129.2 1263.5,128 1264.1,127.5 1264.8,125.2 1265.5,126.3 1266.1,127.7 1266.8,128.2 1267.5,129.9 1268.1,130.9 1268.8,131.2 1269.5,132.4 1270.1,131.7 1270.8,132.2 1271.5,130.9 1272.2,128 1272.9,127.2 1273.6,129 1274.2,128.9 1274.9,130.2 1275.6,130.1 1276.2,131.1 1276.9,130.2 1277.6,130.7 1278.2,131.5 1278.9,133.2 1279.6,132.6 1280.2,130.8 1280.9,129.2 1281.6,128 1282.2,127.5 1282.9,128.2 1283.6,127.5 1284.2,126.4 1284.9,127.2 1285.6,127.3 1286.2,125.2 1286.9,125.2 1287.6,123 1288.3,121.6 1289,120.2 1289.7,119.9 1290.3,119.3 1291,119.1 1291.7,119.7 1292.3,120.2 1293,120.2 1293.7,119.7 1294.3,118.6 1295,119.1 1295.7,120.5 1296.3,120.3 1297,120.2 1297.7,120.6 1298.3,122.7 1299,124.2 1299.7,123.8 1300.3,123.3 1301,121.2 1301.9,118.9 1302.7,117.4 1303.6,117.1 1304.3,118.4 1305,119.7 1305.7,121.2 1306.4,122.4 1307,122.6 1307.7,122.2 1308.4,122.8 1309,124 1309.7,125.2 1310.4,126 1311,127.4 1311.7,127.2 1312.4,126.2 1313,126.3 1313.7,126.2 1314.4,125 1315,125.8 1315.7,125.2 1316.4,123.2 1317,124.2 1317.7,122.2 1318.4,121.9 1319,121.7 1319.7,121.2 1320.4,120.3 1321.1,120.6 1321.8,121.2 1322.5,122.5 1323.1,124.7 1323.8,125.2 1324.6,125.8 1325.4,126.2 1326.1,123 1326.7,121.9 1327.4,118.1 1328.3,117.5 1329.1,116.2 1330,115.1 1330.7,116.6 1331.4,119.4 1332.1,121.7 1332.7,124.8 1333.4,127 1334,126.7 1334.7,128.8 1335.4,128 1336,127.3 1336.7,126.1 1337.6,124.9 1338.5,124.9 1339.4,123.4 1340.1,125.4 1340.7,126.5 1341.4,126.8 1342.1,128.4 1342.7,128.3 1343.4,130.1 1344.1,130.5 1344.8,132.8 1345.5,131.8 1346.1,130.6 1346.8,130.1 1347.5,132.1 1348.1,136.3 1348.8,138.1 1349.5,139.7 1350.1,143.3 1350.8,144.8 1351.3,147.8 1351.8,148.8 1352.6,145 1353.4,142.8 1354.1,144.1 1354.7,143.4 1355.4,144.1 1356.1,142.4 1356.7,141.2 1357.4,140.8 1358.1,140.8 1358.8,142.8 1359.4,141.8 1360.1,140.8 1360.8,141.9 1361.4,144.2 1362.1,144.8 1362.8,146.4 1363.4,145.6 1364.1,147.5 1364.8,146.8 1365.4,146.4 1366.1,146.2 1366.8,145.5 1367.4,145.7 1368.1,146.2 1368.8,145.7 1369.4,146.6 1370.1,146.2 1370.8,144.8 1371.5,144.1 1372.3,141.2 1373.2,140.1 1373.8,140.8 1374.5,142.8 1375.3,142.9 1376.2,143.2"/>
<g font-family="'DejaVu Sans Condensed','DejaVu Sans','Liberation Sans',sans-serif" font-weight="bold" font-size="13.1" fill="#f6f6f6">
<rect x="181.5" y="523.8" width="17.2" height="1.8" fill="#4a78c8"/>
<text x="204.2" y="529.3" textLength="92" lengthAdjust="spacingAndGlyphs">Show/Hide all</text>
<rect x="471.3" y="523.8" width="17.2" height="1.8" fill="#d04a4a"/>
<text x="494.0" y="529.3" textLength="213.2" lengthAdjust="spacingAndGlyphs">Show/Hide Risk Model Channels</text>
<circle cx="769.5" cy="523.8" r="6.2" fill="#6633dd"/>
<text x="783.6" y="529.3" textLength="108" lengthAdjust="spacingAndGlyphs">Benjamin Cowen</text>
<circle cx="1059.2" cy="523.8" r="6.2" fill="#2a2add"/>
<text x="1073.3" y="529.3" textLength="129.6" lengthAdjust="spacingAndGlyphs">Andreas (aantonop)</text>
<circle cx="190.1" cy="539.8" r="6.2" fill="#3d63e0"/>
<text x="204.2" y="545.3" textLength="94" lengthAdjust="spacingAndGlyphs">Aaron Bennett</text>
<circle cx="479.9" cy="539.8" r="6.2" fill="#6dd3e6"/>
<text x="494.0" y="545.3" textLength="76" lengthAdjust="spacingAndGlyphs">Alex Becker</text>
<circle cx="769.5" cy="539.8" r="6.2" fill="#7df5d0"/>
<text x="783.6" y="545.3" textLength="158.4" lengthAdjust="spacingAndGlyphs">Alpha Beta Soup (TXMC)</text>
<circle cx="1059.2" cy="539.8" r="6.2" fill="#5cb985"/>
<text x="1073.3" y="545.3" textLength="83.6" lengthAdjust="spacingAndGlyphs">Altcoin Daily</text>
<circle cx="190.1" cy="555.8" r="6.2" fill="#6db356"/>
<text x="204.2" y="561.3" textLength="57.6" lengthAdjust="spacingAndGlyphs">Bankless</text>
<circle cx="479.9" cy="555.8" r="6.2" fill="#b4c94e"/>
<text x="494.0" y="561.3" textLength="89.2" lengthAdjust="spacingAndGlyphs">BitBoy Crypto</text>
<circle cx="769.5" cy="555.8" r="6.2" fill="#d6d84e"/>
<text x="783.6" y="561.3" textLength="74.4" lengthAdjust="spacingAndGlyphs">Bob Loukas</text>
<circle cx="1059.2" cy="555.8" r="6.2" fill="#ecd24e"/>
<text x="1073.3" y="561.3" textLength="236" lengthAdjust="spacingAndGlyphs">Bitcoin University (Matthew Kratter)</text>
<circle cx="190.1" cy="571.8" r="6.2" fill="#ef7e45"/>
<text x="204.2" y="577.3" textLength="73.6" lengthAdjust="spacingAndGlyphs">Chris Dunn</text>
<circle cx="479.9" cy="571.8" r="6.2" fill="#f7a040"/>
<text x="494.0" y="577.3" textLength="79.2" lengthAdjust="spacingAndGlyphs">Coin Bureau</text>
<circle cx="769.5" cy="571.8" r="6.2" fill="#5fcb4a"/>
<text x="783.6" y="577.3" textLength="116" lengthAdjust="spacingAndGlyphs">Coin Bureau Clips</text>
<circle cx="1059.2" cy="571.8" r="6.2" fill="#c9259b"/>
<text x="1073.3" y="577.3" textLength="90.8" lengthAdjust="spacingAndGlyphs">Crypto Banter</text>
<circle cx="190.1" cy="587.8" r="6.2" fill="#9ede8b"/>
<text x="204.2" y="593.3" textLength="150.4" lengthAdjust="spacingAndGlyphs">Crypto Capital Venture</text>
<circle cx="479.9" cy="587.8" r="6.2" fill="#76f5f5"/>
<text x="494.0" y="593.3" textLength="76" lengthAdjust="spacingAndGlyphs">CryptosRUs</text>
<circle cx="769.5" cy="587.8" r="6.2" fill="#ea33cc"/>
<text x="783.6" y="593.3" textLength="97.2" lengthAdjust="spacingAndGlyphs">CryptoWendyO</text>
<circle cx="1059.2" cy="587.8" r="6.2" fill="#6d6dc6"/>
<text x="1073.3" y="593.3" textLength="105.2" lengthAdjust="spacingAndGlyphs">Dapp University</text>
<circle cx="190.1" cy="603.8" r="6.2" fill="#bd6f6f"/>
<text x="204.2" y="609.3" textLength="63.2" lengthAdjust="spacingAndGlyphs">DataDash</text>
<circle cx="479.9" cy="603.8" r="6.2" fill="#7ec592"/>
<text x="494.0" y="609.3" textLength="102.8" lengthAdjust="spacingAndGlyphs">Davinci Jeremie</text>
<circle cx="769.5" cy="603.8" r="6.2" fill="#b968b9"/>
<text x="783.6" y="609.3" textLength="123.2" lengthAdjust="spacingAndGlyphs">Digital Asset News</text>
<circle cx="1059.2" cy="603.8" r="6.2" fill="#6fb6bf"/>
<text x="1073.3" y="609.3" textLength="73.2" lengthAdjust="spacingAndGlyphs">EllioTrades</text>
<circle cx="190.1" cy="619.8" r="6.2" fill="#c6965f"/>
<text x="204.2" y="625.3" textLength="100.4" lengthAdjust="spacingAndGlyphs">Invest Answers</text>
<circle cx="479.9" cy="619.8" r="6.2" fill="#b7c267"/>
<text x="494.0" y="625.3" textLength="83.6" lengthAdjust="spacingAndGlyphs">Ivan on Tech</text>
<circle cx="769.5" cy="619.8" r="6.2" fill="#5599ea"/>
<text x="783.6" y="625.3" textLength="196.4" lengthAdjust="spacingAndGlyphs">Jason Appleton (Crypto Crow)</text>
<circle cx="1059.2" cy="619.8" r="6.2" fill="#ee6a5a"/>
<text x="1073.3" y="625.3" textLength="88.4" lengthAdjust="spacingAndGlyphs">Jason Pizzino</text>
<circle cx="190.1" cy="635.8" r="6.2" fill="#f5a243"/>
<text x="204.2" y="641.3" textLength="78" lengthAdjust="spacingAndGlyphs">Jimmy Song</text>
<circle cx="479.9" cy="635.8" r="6.2" fill="#57c842"/>
<text x="494.0" y="641.3" textLength="80.8" lengthAdjust="spacingAndGlyphs">JRNY Crypto</text>
<circle cx="769.5" cy="635.8" r="6.2" fill="#c935a0"/>
<text x="783.6" y="641.3" textLength="96.4" lengthAdjust="spacingAndGlyphs">Lady of Crypto</text>
<circle cx="1059.2" cy="635.8" r="6.2" fill="#98db87"/>
<text x="1073.3" y="641.3" textLength="67.2" lengthAdjust="spacingAndGlyphs">MMCrypto</text>
<circle cx="190.1" cy="651.8" r="6.2" fill="#6aeefa"/>
<text x="204.2" y="657.3" textLength="36" lengthAdjust="spacingAndGlyphs">PlanB</text>
<circle cx="479.9" cy="651.8" r="6.2" fill="#ea35cc"/>
<text x="494.0" y="657.3" textLength="138.8" lengthAdjust="spacingAndGlyphs">The House Of Crypto</text>
<circle cx="769.5" cy="651.8" r="6.2" fill="#656fc0"/>
<text x="783.6" y="657.3" textLength="95.2" lengthAdjust="spacingAndGlyphs">The Moon Carl</text>
<circle cx="1059.2" cy="651.8" r="6.2" fill="#bd6f6f"/>
<text x="1073.3" y="657.3" textLength="244.8" lengthAdjust="spacingAndGlyphs">The Wolf Of All Streets (Scott Melker)</text>
<circle cx="190.1" cy="667.8" r="6.2" fill="#7ec592"/>
<text x="204.2" y="673.3" textLength="76" lengthAdjust="spacingAndGlyphs">Tom Crown</text>
<circle cx="479.9" cy="667.8" r="6.2" fill="#b968b9"/>
<text x="494.0" y="673.3" textLength="67.2" lengthAdjust="spacingAndGlyphs">Tone Vays</text>
<rect x="760.9" y="667.8" width="17.2" height="1.8" fill="#e8e8e8"/>
<text x="783.6" y="673.3" textLength="61.6" lengthAdjust="spacingAndGlyphs">BTC Price</text>
</g>
</svg>
</body></html>
